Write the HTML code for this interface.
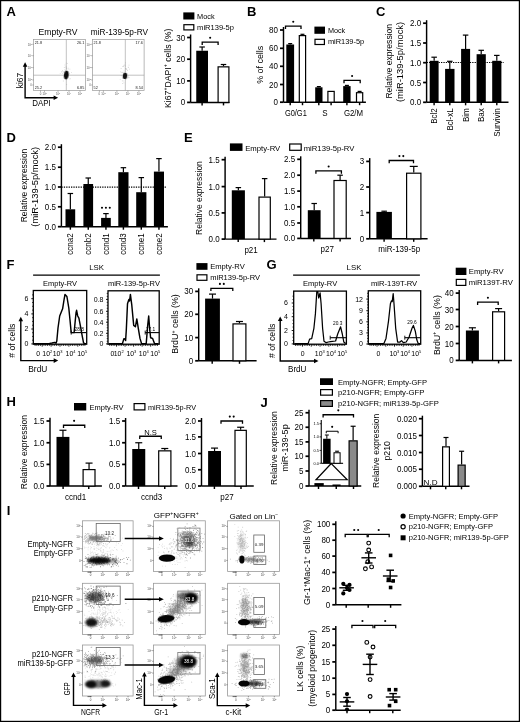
<!DOCTYPE html>
<html><head><meta charset="utf-8"><style>html,body{margin:0;padding:0;background:#fff;overflow:hidden;width:520px;height:722px}svg{display:block;filter:grayscale(1) blur(0.3px)}text{font-family:"Liberation Sans",sans-serif}</style></head>
<body><svg width="520" height="722" viewBox="0 0 520 722" font-family="Liberation Sans, sans-serif"><defs><filter id="b1" x="-50%" y="-50%" width="200%" height="200%"><feGaussianBlur stdDeviation="0.1"/></filter><filter id="b2" x="-50%" y="-50%" width="200%" height="200%"><feGaussianBlur stdDeviation="0.2"/></filter><filter id="b3" x="-50%" y="-50%" width="200%" height="200%"><feGaussianBlur stdDeviation="0.3"/></filter><filter id="b4" x="-50%" y="-50%" width="200%" height="200%"><feGaussianBlur stdDeviation="0.4"/></filter><filter id="b5" x="-50%" y="-50%" width="200%" height="200%"><feGaussianBlur stdDeviation="0.5"/></filter><filter id="b6" x="-50%" y="-50%" width="200%" height="200%"><feGaussianBlur stdDeviation="0.6"/></filter><filter id="b7" x="-50%" y="-50%" width="200%" height="200%"><feGaussianBlur stdDeviation="0.7"/></filter><filter id="b8" x="-50%" y="-50%" width="200%" height="200%"><feGaussianBlur stdDeviation="0.8"/></filter><filter id="b9" x="-50%" y="-50%" width="200%" height="200%"><feGaussianBlur stdDeviation="0.9"/></filter><filter id="b10" x="-50%" y="-50%" width="200%" height="200%"><feGaussianBlur stdDeviation="1.0"/></filter><filter id="b11" x="-50%" y="-50%" width="200%" height="200%"><feGaussianBlur stdDeviation="1.1"/></filter><filter id="b12" x="-50%" y="-50%" width="200%" height="200%"><feGaussianBlur stdDeviation="1.2"/></filter><filter id="b13" x="-50%" y="-50%" width="200%" height="200%"><feGaussianBlur stdDeviation="1.3"/></filter><filter id="b14" x="-50%" y="-50%" width="200%" height="200%"><feGaussianBlur stdDeviation="1.4"/></filter><filter id="b15" x="-50%" y="-50%" width="200%" height="200%"><feGaussianBlur stdDeviation="1.5"/></filter><filter id="b16" x="-50%" y="-50%" width="200%" height="200%"><feGaussianBlur stdDeviation="1.6"/></filter><filter id="b17" x="-50%" y="-50%" width="200%" height="200%"><feGaussianBlur stdDeviation="1.7"/></filter><filter id="b18" x="-50%" y="-50%" width="200%" height="200%"><feGaussianBlur stdDeviation="1.8"/></filter><filter id="b19" x="-50%" y="-50%" width="200%" height="200%"><feGaussianBlur stdDeviation="1.9"/></filter><filter id="b20" x="-50%" y="-50%" width="200%" height="200%"><feGaussianBlur stdDeviation="2.0"/></filter></defs><rect width="520" height="722" fill="#fff"/><rect x="0.5" y="0.5" width="519" height="721" fill="none" stroke="#000" stroke-width="1.4"/>
<text x="6.5" y="15.8" font-size="13" text-anchor="start" font-weight="bold" fill="#000">A</text>
<rect x="183.3" y="12.4" width="11.099999999999994" height="7.1" fill="#000" stroke="none" stroke-width="1"/>
<text x="197.1" y="19" font-size="8" text-anchor="start" textLength="17.5" lengthAdjust="spacingAndGlyphs" fill="#000">Mock</text>
<rect x="183.9" y="24.700000000000003" width="9.899999999999995" height="5.199999999999998" fill="#fff" stroke="#000" stroke-width="1.2"/>
<text x="197.1" y="30.1" font-size="8" text-anchor="start" textLength="36.9" lengthAdjust="spacingAndGlyphs" fill="#000">miR139-5p</text>
<line x1="190.6" y1="34.5" x2="190.6" y2="102.4" stroke="#000" stroke-width="1.45"/>
<line x1="187.1" y1="37.5" x2="190.6" y2="37.5" stroke="#000" stroke-width="1.74"/>
<text x="185.1" y="40.5" font-size="8.6" text-anchor="end" textLength="8.90" lengthAdjust="spacingAndGlyphs" fill="#000">30</text>
<line x1="187.1" y1="59.2" x2="190.6" y2="59.2" stroke="#000" stroke-width="1.74"/>
<text x="185.1" y="62.2" font-size="8.6" text-anchor="end" textLength="8.90" lengthAdjust="spacingAndGlyphs" fill="#000">20</text>
<line x1="187.1" y1="80.9" x2="190.6" y2="80.9" stroke="#000" stroke-width="1.74"/>
<text x="185.1" y="83.9" font-size="8.6" text-anchor="end" textLength="8.90" lengthAdjust="spacingAndGlyphs" fill="#000">10</text>
<line x1="187.1" y1="102.4" x2="190.6" y2="102.4" stroke="#000" stroke-width="1.74"/>
<text x="185.1" y="105.4" font-size="8.6" text-anchor="end" textLength="4.45" lengthAdjust="spacingAndGlyphs" fill="#000">0</text>
<line x1="190.6" y1="102.4" x2="229.5" y2="102.4" stroke="#000" stroke-width="1.45"/>
<line x1="202.1" y1="102.4" x2="202.1" y2="105.4" stroke="#000" stroke-width="1.45"/>
<line x1="223.5" y1="102.4" x2="223.5" y2="105.4" stroke="#000" stroke-width="1.45"/>
<line x1="202.125" y1="47" x2="202.125" y2="50.75" stroke="#000" stroke-width="1.2"/>
<line x1="199.375" y1="47" x2="204.875" y2="47" stroke="#000" stroke-width="1.2"/>
<rect x="196.25" y="50.75" width="11.75" height="51.650000000000006" fill="#000" stroke="none" stroke-width="1"/>
<line x1="223.5" y1="64.5" x2="223.5" y2="66.25" stroke="#000" stroke-width="1.2"/>
<line x1="220.75" y1="64.5" x2="226.25" y2="64.5" stroke="#000" stroke-width="1.2"/>
<rect x="218.1" y="66.85" width="10.8" height="35.550000000000004" fill="#fff" stroke="#000" stroke-width="1.2"/>
<path d="M202.2 44.9V42.1H218.1V44.9" fill="none" stroke="#000" stroke-width="1.3"/>
<circle cx="210.15" cy="37.7" r="1.05" fill="#000"/>
<text x="170.5" y="68.25" font-size="9.2" text-anchor="middle" transform="rotate(-90 170.5 68.25)" textLength="79.3" lengthAdjust="spacingAndGlyphs" fill="#000">Ki67<tspan font-size="5.5" dy="-3.2">+</tspan><tspan dy="3.2">DAPI</tspan><tspan font-size="5.5" dy="-3.2">+</tspan><tspan dy="3.2"> cells (%)</tspan></text>
<text x="247" y="15.8" font-size="13" text-anchor="start" font-weight="bold" fill="#000">B</text>
<line x1="283.5" y1="27" x2="283.5" y2="102.2" stroke="#000" stroke-width="1.45"/>
<line x1="280.0" y1="30" x2="283.5" y2="30" stroke="#000" stroke-width="1.74"/>
<text x="278.0" y="33.0" font-size="8.6" text-anchor="end" textLength="8.90" lengthAdjust="spacingAndGlyphs" fill="#000">80</text>
<line x1="280.0" y1="48.3" x2="283.5" y2="48.3" stroke="#000" stroke-width="1.74"/>
<text x="278.0" y="51.3" font-size="8.6" text-anchor="end" textLength="8.90" lengthAdjust="spacingAndGlyphs" fill="#000">60</text>
<line x1="280.0" y1="66.3" x2="283.5" y2="66.3" stroke="#000" stroke-width="1.74"/>
<text x="278.0" y="69.3" font-size="8.6" text-anchor="end" textLength="8.90" lengthAdjust="spacingAndGlyphs" fill="#000">40</text>
<line x1="280.0" y1="84.5" x2="283.5" y2="84.5" stroke="#000" stroke-width="1.74"/>
<text x="278.0" y="87.5" font-size="8.6" text-anchor="end" textLength="8.90" lengthAdjust="spacingAndGlyphs" fill="#000">20</text>
<line x1="280.0" y1="102.2" x2="283.5" y2="102.2" stroke="#000" stroke-width="1.74"/>
<text x="278.0" y="105.2" font-size="8.6" text-anchor="end" textLength="4.45" lengthAdjust="spacingAndGlyphs" fill="#000">0</text>
<line x1="283.5" y1="102.2" x2="365.9" y2="102.2" stroke="#000" stroke-width="1.45"/>
<line x1="290.2" y1="102.2" x2="290.2" y2="105.2" stroke="#000" stroke-width="1.45"/>
<line x1="302.5" y1="102.2" x2="302.5" y2="105.2" stroke="#000" stroke-width="1.45"/>
<line x1="318.8" y1="102.2" x2="318.8" y2="105.2" stroke="#000" stroke-width="1.45"/>
<line x1="331.1" y1="102.2" x2="331.1" y2="105.2" stroke="#000" stroke-width="1.45"/>
<line x1="346.9" y1="102.2" x2="346.9" y2="105.2" stroke="#000" stroke-width="1.45"/>
<line x1="359.6" y1="102.2" x2="359.6" y2="105.2" stroke="#000" stroke-width="1.45"/>
<line x1="290.20000000000005" y1="43.6" x2="290.20000000000005" y2="44.5" stroke="#000" stroke-width="1.2"/>
<line x1="288.20000000000005" y1="43.6" x2="292.20000000000005" y2="43.6" stroke="#000" stroke-width="1.2"/>
<rect x="286.3" y="44.5" width="7.800000000000011" height="57.7" fill="#000" stroke="none" stroke-width="1"/>
<line x1="302.45" y1="34.3" x2="302.45" y2="35" stroke="#000" stroke-width="1.2"/>
<line x1="300.45" y1="34.3" x2="304.45" y2="34.3" stroke="#000" stroke-width="1.2"/>
<rect x="299.3" y="35.6" width="6.3" height="66.60000000000001" fill="#fff" stroke="#000" stroke-width="1.2"/>
<line x1="318.85" y1="86.6" x2="318.85" y2="87.3" stroke="#000" stroke-width="1.2"/>
<line x1="316.85" y1="86.6" x2="320.85" y2="86.6" stroke="#000" stroke-width="1.2"/>
<rect x="315.2" y="87.3" width="7.300000000000011" height="14.900000000000006" fill="#000" stroke="none" stroke-width="1"/>
<rect x="327.90000000000003" y="91.39999999999999" width="6.3" height="10.800000000000006" fill="#fff" stroke="#000" stroke-width="1.2"/>
<line x1="346.9" y1="85.4" x2="346.9" y2="86.1" stroke="#000" stroke-width="1.2"/>
<line x1="344.9" y1="85.4" x2="348.9" y2="85.4" stroke="#000" stroke-width="1.2"/>
<rect x="343.2" y="86.1" width="7.400000000000034" height="16.10000000000001" fill="#000" stroke="none" stroke-width="1"/>
<line x1="359.6" y1="91.4" x2="359.6" y2="92.1" stroke="#000" stroke-width="1.2"/>
<line x1="357.6" y1="91.4" x2="361.6" y2="91.4" stroke="#000" stroke-width="1.2"/>
<rect x="356.5" y="92.69999999999999" width="6.200000000000034" height="9.500000000000009" fill="#fff" stroke="#000" stroke-width="1.2"/>
<path d="M285.5 28.900000000000002V26.1H301V28.900000000000002" fill="none" stroke="#000" stroke-width="1.3"/>
<circle cx="293.25" cy="21.700000000000003" r="1.05" fill="#000"/>
<path d="M344 83.2V80.4H360.2V83.2" fill="none" stroke="#000" stroke-width="1.3"/>
<circle cx="352.10" cy="76.0" r="1.05" fill="#000"/>
<text x="295.85" y="115.6" font-size="8.7" text-anchor="middle" textLength="21.9" lengthAdjust="spacingAndGlyphs" fill="#000">G0/G1</text>
<text x="325" y="115.6" font-size="8.7" text-anchor="middle" textLength="5.34" lengthAdjust="spacingAndGlyphs" fill="#000">S</text>
<text x="353.5" y="115.6" font-size="8.7" text-anchor="middle" textLength="19.2" lengthAdjust="spacingAndGlyphs" fill="#000">G2/M</text>
<rect x="314.4" y="26.6" width="10.600000000000023" height="7.199999999999996" fill="#000" stroke="none" stroke-width="1"/>
<text x="327.9" y="33" font-size="8" text-anchor="start" textLength="17.3" lengthAdjust="spacingAndGlyphs" fill="#000">Mock</text>
<rect x="315.0" y="39.300000000000004" width="9.400000000000023" height="5.199999999999998" fill="#fff" stroke="#000" stroke-width="1.2"/>
<text x="327.9" y="43.9" font-size="8" text-anchor="start" textLength="36.3" lengthAdjust="spacingAndGlyphs" fill="#000">miR139-5p</text>
<text x="263" y="64.75" font-size="9.2" text-anchor="middle" transform="rotate(-90 263 64.75)" textLength="38.1" lengthAdjust="spacingAndGlyphs" fill="#000">% of cells</text>
<text x="376" y="15.8" font-size="13" text-anchor="start" font-weight="bold" fill="#000">C</text>
<line x1="426.6" y1="20.2" x2="426.6" y2="102.3" stroke="#000" stroke-width="1.45"/>
<line x1="423.1" y1="23.2" x2="426.6" y2="23.2" stroke="#000" stroke-width="1.74"/>
<text x="421.1" y="26.2" font-size="8.6" text-anchor="end" textLength="11.12" lengthAdjust="spacingAndGlyphs" fill="#000">2.0</text>
<line x1="423.1" y1="43" x2="426.6" y2="43" stroke="#000" stroke-width="1.74"/>
<text x="421.1" y="46.0" font-size="8.6" text-anchor="end" textLength="11.12" lengthAdjust="spacingAndGlyphs" fill="#000">1.5</text>
<line x1="423.1" y1="62.7" x2="426.6" y2="62.7" stroke="#000" stroke-width="1.74"/>
<text x="421.1" y="65.7" font-size="8.6" text-anchor="end" textLength="11.12" lengthAdjust="spacingAndGlyphs" fill="#000">1.0</text>
<line x1="423.1" y1="82.5" x2="426.6" y2="82.5" stroke="#000" stroke-width="1.74"/>
<text x="421.1" y="85.5" font-size="8.6" text-anchor="end" textLength="11.12" lengthAdjust="spacingAndGlyphs" fill="#000">0.5</text>
<line x1="423.1" y1="102.3" x2="426.6" y2="102.3" stroke="#000" stroke-width="1.74"/>
<text x="421.1" y="105.3" font-size="8.6" text-anchor="end" textLength="11.12" lengthAdjust="spacingAndGlyphs" fill="#000">0.0</text>
<line x1="426.6" y1="102.3" x2="508.5" y2="102.3" stroke="#000" stroke-width="1.45"/>
<line x1="434.1" y1="102.3" x2="434.1" y2="105.3" stroke="#000" stroke-width="1.45"/>
<line x1="449.8" y1="102.3" x2="449.8" y2="105.3" stroke="#000" stroke-width="1.45"/>
<line x1="465.6" y1="102.3" x2="465.6" y2="105.3" stroke="#000" stroke-width="1.45"/>
<line x1="481.2" y1="102.3" x2="481.2" y2="105.3" stroke="#000" stroke-width="1.45"/>
<line x1="496.8" y1="102.3" x2="496.8" y2="105.3" stroke="#000" stroke-width="1.45"/>
<line x1="426.6" y1="62.5" x2="504" y2="62.5" stroke="#000" stroke-width="1.1" stroke-dasharray="1.3 1.1"/>
<line x1="434.15" y1="57.2" x2="434.15" y2="60.8" stroke="#000" stroke-width="1.2"/>
<line x1="431.4" y1="57.2" x2="436.9" y2="57.2" stroke="#000" stroke-width="1.2"/>
<rect x="429.7" y="60.8" width="8.900000000000034" height="41.5" fill="#000" stroke="none" stroke-width="1"/>
<line x1="449.8" y1="61.3" x2="449.8" y2="68.9" stroke="#000" stroke-width="1.2"/>
<line x1="447.05" y1="61.3" x2="452.55" y2="61.3" stroke="#000" stroke-width="1.2"/>
<rect x="445.1" y="68.9" width="9.399999999999977" height="33.39999999999999" fill="#000" stroke="none" stroke-width="1"/>
<line x1="465.6" y1="35.1" x2="465.6" y2="48.9" stroke="#000" stroke-width="1.2"/>
<line x1="462.85" y1="35.1" x2="468.35" y2="35.1" stroke="#000" stroke-width="1.2"/>
<rect x="461.1" y="48.9" width="9.0" height="53.4" fill="#000" stroke="none" stroke-width="1"/>
<line x1="481.20000000000005" y1="50.3" x2="481.20000000000005" y2="54.2" stroke="#000" stroke-width="1.2"/>
<line x1="478.45000000000005" y1="50.3" x2="483.95000000000005" y2="50.3" stroke="#000" stroke-width="1.2"/>
<rect x="476.6" y="54.2" width="9.199999999999989" height="48.099999999999994" fill="#000" stroke="none" stroke-width="1"/>
<line x1="496.79999999999995" y1="55.4" x2="496.79999999999995" y2="60.8" stroke="#000" stroke-width="1.2"/>
<line x1="494.04999999999995" y1="55.4" x2="499.54999999999995" y2="55.4" stroke="#000" stroke-width="1.2"/>
<rect x="492.2" y="60.8" width="9.199999999999989" height="41.5" fill="#000" stroke="none" stroke-width="1"/>
<text x="437.1" y="108.3" font-size="8.8" text-anchor="end" transform="rotate(-90 437.1 108.3)" textLength="15.56" lengthAdjust="spacingAndGlyphs" fill="#000">Bcl2</text>
<text x="452.8" y="108.3" font-size="8.8" text-anchor="end" transform="rotate(-90 452.8 108.3)" textLength="22.23" lengthAdjust="spacingAndGlyphs" fill="#000">Bcl-xL</text>
<text x="468.6" y="108.3" font-size="8.8" text-anchor="end" transform="rotate(-90 468.6 108.3)" textLength="13.78" lengthAdjust="spacingAndGlyphs" fill="#000">Bim</text>
<text x="484.2" y="108.3" font-size="8.8" text-anchor="end" transform="rotate(-90 484.2 108.3)" textLength="13.79" lengthAdjust="spacingAndGlyphs" fill="#000">Bax</text>
<text x="499.8" y="108.3" font-size="8.8" text-anchor="end" transform="rotate(-90 499.8 108.3)" textLength="28.45" lengthAdjust="spacingAndGlyphs" fill="#000">Survivin</text>
<text x="391.7" y="61.25" font-size="9.2" text-anchor="middle" transform="rotate(-90 391.7 61.25)" textLength="74.7" lengthAdjust="spacingAndGlyphs" fill="#000">Relative expression</text>
<text x="403.3" y="61.95" font-size="9.2" text-anchor="middle" transform="rotate(-90 403.3 61.95)" textLength="80.3" lengthAdjust="spacingAndGlyphs" fill="#000">(miR-139-5p/mock)</text>
<text x="6.5" y="141.6" font-size="13" text-anchor="start" font-weight="bold" fill="#000">D</text>
<line x1="61.4" y1="144.2" x2="61.4" y2="226.7" stroke="#000" stroke-width="1.45"/>
<line x1="57.9" y1="147.2" x2="61.4" y2="147.2" stroke="#000" stroke-width="1.74"/>
<text x="55.9" y="150.2" font-size="8.6" text-anchor="end" textLength="11.12" lengthAdjust="spacingAndGlyphs" fill="#000">2.0</text>
<line x1="57.9" y1="167.2" x2="61.4" y2="167.2" stroke="#000" stroke-width="1.74"/>
<text x="55.9" y="170.2" font-size="8.6" text-anchor="end" textLength="11.12" lengthAdjust="spacingAndGlyphs" fill="#000">1.5</text>
<line x1="57.9" y1="187" x2="61.4" y2="187" stroke="#000" stroke-width="1.74"/>
<text x="55.9" y="190.0" font-size="8.6" text-anchor="end" textLength="11.12" lengthAdjust="spacingAndGlyphs" fill="#000">1.0</text>
<line x1="57.9" y1="206.8" x2="61.4" y2="206.8" stroke="#000" stroke-width="1.74"/>
<text x="55.9" y="209.8" font-size="8.6" text-anchor="end" textLength="11.12" lengthAdjust="spacingAndGlyphs" fill="#000">0.5</text>
<line x1="57.9" y1="226.7" x2="61.4" y2="226.7" stroke="#000" stroke-width="1.74"/>
<text x="55.9" y="229.7" font-size="8.6" text-anchor="end" textLength="11.12" lengthAdjust="spacingAndGlyphs" fill="#000">0.0</text>
<line x1="61.4" y1="226.7" x2="167.9" y2="226.7" stroke="#000" stroke-width="1.45"/>
<line x1="70.35" y1="226.7" x2="70.35" y2="229.7" stroke="#000" stroke-width="1.45"/>
<line x1="88.25" y1="226.7" x2="88.25" y2="229.7" stroke="#000" stroke-width="1.45"/>
<line x1="105.95" y1="226.7" x2="105.95" y2="229.7" stroke="#000" stroke-width="1.45"/>
<line x1="123.4" y1="226.7" x2="123.4" y2="229.7" stroke="#000" stroke-width="1.45"/>
<line x1="141.3" y1="226.7" x2="141.3" y2="229.7" stroke="#000" stroke-width="1.45"/>
<line x1="158.95" y1="226.7" x2="158.95" y2="229.7" stroke="#000" stroke-width="1.45"/>
<line x1="61.4" y1="187.1" x2="167" y2="187.1" stroke="#000" stroke-width="1.1" stroke-dasharray="1.3 1.1"/>
<line x1="70.35" y1="193.5" x2="70.35" y2="209.3" stroke="#000" stroke-width="1.2"/>
<line x1="67.6" y1="193.5" x2="73.1" y2="193.5" stroke="#000" stroke-width="1.2"/>
<rect x="65.5" y="209.3" width="9.700000000000003" height="17.399999999999977" fill="#000" stroke="none" stroke-width="1"/>
<line x1="88.25" y1="178" x2="88.25" y2="184" stroke="#000" stroke-width="1.2"/>
<line x1="85.5" y1="178" x2="91.0" y2="178" stroke="#000" stroke-width="1.2"/>
<rect x="83.4" y="184" width="9.699999999999989" height="42.69999999999999" fill="#000" stroke="none" stroke-width="1"/>
<line x1="105.94999999999999" y1="213.6" x2="105.94999999999999" y2="217.9" stroke="#000" stroke-width="1.2"/>
<line x1="103.19999999999999" y1="213.6" x2="108.69999999999999" y2="213.6" stroke="#000" stroke-width="1.2"/>
<rect x="101.1" y="217.9" width="9.700000000000003" height="8.799999999999983" fill="#000" stroke="none" stroke-width="1"/>
<line x1="123.4" y1="167.7" x2="123.4" y2="172.2" stroke="#000" stroke-width="1.2"/>
<line x1="120.65" y1="167.7" x2="126.15" y2="167.7" stroke="#000" stroke-width="1.2"/>
<rect x="118.3" y="172.2" width="10.200000000000003" height="54.5" fill="#000" stroke="none" stroke-width="1"/>
<line x1="141.3" y1="177.6" x2="141.3" y2="192.2" stroke="#000" stroke-width="1.2"/>
<line x1="138.55" y1="177.6" x2="144.05" y2="177.6" stroke="#000" stroke-width="1.2"/>
<rect x="136.2" y="192.2" width="10.200000000000017" height="34.5" fill="#000" stroke="none" stroke-width="1"/>
<line x1="158.95" y1="158.6" x2="158.95" y2="171.6" stroke="#000" stroke-width="1.2"/>
<line x1="156.2" y1="158.6" x2="161.7" y2="158.6" stroke="#000" stroke-width="1.2"/>
<rect x="153.9" y="171.6" width="10.099999999999994" height="55.099999999999994" fill="#000" stroke="none" stroke-width="1"/>
<circle cx="102.00" cy="207.7" r="1.05" fill="#000"/>
<circle cx="105.90" cy="207.7" r="1.05" fill="#000"/>
<circle cx="109.80" cy="207.7" r="1.05" fill="#000"/>
<text x="73.35" y="233.3" font-size="8.8" text-anchor="end" transform="rotate(-90 73.35 233.3)" textLength="21.35" lengthAdjust="spacingAndGlyphs" fill="#000">ccna2</text>
<text x="91.25" y="233.3" font-size="8.8" text-anchor="end" transform="rotate(-90 91.25 233.3)" textLength="21.35" lengthAdjust="spacingAndGlyphs" fill="#000">ccnb2</text>
<text x="108.95" y="233.3" font-size="8.8" text-anchor="end" transform="rotate(-90 108.95 233.3)" textLength="21.35" lengthAdjust="spacingAndGlyphs" fill="#000">ccnd1</text>
<text x="126.4" y="233.3" font-size="8.8" text-anchor="end" transform="rotate(-90 126.4 233.3)" textLength="21.35" lengthAdjust="spacingAndGlyphs" fill="#000">ccnd3</text>
<text x="144.3" y="233.3" font-size="8.8" text-anchor="end" transform="rotate(-90 144.3 233.3)" textLength="21.35" lengthAdjust="spacingAndGlyphs" fill="#000">ccne1</text>
<text x="161.95" y="233.3" font-size="8.8" text-anchor="end" transform="rotate(-90 161.95 233.3)" textLength="21.35" lengthAdjust="spacingAndGlyphs" fill="#000">ccne2</text>
<text x="27" y="185.5" font-size="9.2" text-anchor="middle" transform="rotate(-90 27 185.5)" textLength="73.6" lengthAdjust="spacingAndGlyphs" fill="#000">Relative expression</text>
<text x="38.1" y="186.8" font-size="9.2" text-anchor="middle" transform="rotate(-90 38.1 186.8)" textLength="79.8" lengthAdjust="spacingAndGlyphs" fill="#000">(miR-139-5p/mock)</text>
<text x="184" y="141.6" font-size="13" text-anchor="start" font-weight="bold" fill="#000">E</text>
<rect x="229.9" y="143.4" width="12.599999999999994" height="7.5" fill="#000" stroke="none" stroke-width="1"/>
<text x="245.2" y="150.8" font-size="8" text-anchor="start" textLength="35.1" lengthAdjust="spacingAndGlyphs" fill="#000">Empty-RV</text>
<rect x="289.70000000000005" y="144.0" width="11.49999999999999" height="6.3" fill="#fff" stroke="#000" stroke-width="1.2"/>
<text x="303.7" y="150.8" font-size="8" text-anchor="start" textLength="50.7" lengthAdjust="spacingAndGlyphs" fill="#000">miR139-5p-RV</text>
<text x="201.7" y="198.05" font-size="9.2" text-anchor="middle" transform="rotate(-90 201.7 198.05)" textLength="73.7" lengthAdjust="spacingAndGlyphs" fill="#000">Relative expression</text>
<line x1="225.1" y1="156.7" x2="225.1" y2="239.1" stroke="#000" stroke-width="1.45"/>
<line x1="221.6" y1="159.7" x2="225.1" y2="159.7" stroke="#000" stroke-width="1.74"/>
<text x="219.6" y="162.7" font-size="8.6" text-anchor="end" textLength="11.12" lengthAdjust="spacingAndGlyphs" fill="#000">1.5</text>
<line x1="221.6" y1="186.6" x2="225.1" y2="186.6" stroke="#000" stroke-width="1.74"/>
<text x="219.6" y="189.6" font-size="8.6" text-anchor="end" textLength="11.12" lengthAdjust="spacingAndGlyphs" fill="#000">1.0</text>
<line x1="221.6" y1="212.9" x2="225.1" y2="212.9" stroke="#000" stroke-width="1.74"/>
<text x="219.6" y="215.9" font-size="8.6" text-anchor="end" textLength="11.12" lengthAdjust="spacingAndGlyphs" fill="#000">0.5</text>
<line x1="221.6" y1="239.1" x2="225.1" y2="239.1" stroke="#000" stroke-width="1.74"/>
<text x="219.6" y="242.1" font-size="8.6" text-anchor="end" textLength="11.12" lengthAdjust="spacingAndGlyphs" fill="#000">0.0</text>
<line x1="225.1" y1="239.1" x2="276.5" y2="239.1" stroke="#000" stroke-width="1.45"/>
<line x1="238.2" y1="239.1" x2="238.2" y2="242.1" stroke="#000" stroke-width="1.45"/>
<line x1="264.4" y1="239.1" x2="264.4" y2="242.1" stroke="#000" stroke-width="1.45"/>
<line x1="238.35000000000002" y1="187.6" x2="238.35000000000002" y2="190.3" stroke="#000" stroke-width="1.2"/>
<line x1="235.60000000000002" y1="187.6" x2="241.10000000000002" y2="187.6" stroke="#000" stroke-width="1.2"/>
<rect x="231.8" y="190.3" width="13.099999999999994" height="48.79999999999998" fill="#000" stroke="none" stroke-width="1"/>
<line x1="264.65" y1="178.6" x2="264.65" y2="196.5" stroke="#000" stroke-width="1.2"/>
<line x1="261.9" y1="178.6" x2="267.4" y2="178.6" stroke="#000" stroke-width="1.2"/>
<rect x="259.0" y="197.1" width="11.3" height="41.99999999999999" fill="#fff" stroke="#000" stroke-width="1.2"/>
<text x="251.1" y="252.7" font-size="8.6" text-anchor="middle" textLength="13.35" lengthAdjust="spacingAndGlyphs" fill="#000">p21</text>
<line x1="300.7" y1="156.3" x2="300.7" y2="238.4" stroke="#000" stroke-width="1.45"/>
<line x1="297.2" y1="159.3" x2="300.7" y2="159.3" stroke="#000" stroke-width="1.74"/>
<text x="295.2" y="162.3" font-size="8.6" text-anchor="end" textLength="11.12" lengthAdjust="spacingAndGlyphs" fill="#000">2.5</text>
<line x1="297.2" y1="175.2" x2="300.7" y2="175.2" stroke="#000" stroke-width="1.74"/>
<text x="295.2" y="178.2" font-size="8.6" text-anchor="end" textLength="11.12" lengthAdjust="spacingAndGlyphs" fill="#000">2.0</text>
<line x1="297.2" y1="191.1" x2="300.7" y2="191.1" stroke="#000" stroke-width="1.74"/>
<text x="295.2" y="194.1" font-size="8.6" text-anchor="end" textLength="11.12" lengthAdjust="spacingAndGlyphs" fill="#000">1.5</text>
<line x1="297.2" y1="206.8" x2="300.7" y2="206.8" stroke="#000" stroke-width="1.74"/>
<text x="295.2" y="209.8" font-size="8.6" text-anchor="end" textLength="11.12" lengthAdjust="spacingAndGlyphs" fill="#000">1.0</text>
<line x1="297.2" y1="223" x2="300.7" y2="223" stroke="#000" stroke-width="1.74"/>
<text x="295.2" y="226.0" font-size="8.6" text-anchor="end" textLength="11.12" lengthAdjust="spacingAndGlyphs" fill="#000">0.5</text>
<line x1="297.2" y1="238.4" x2="300.7" y2="238.4" stroke="#000" stroke-width="1.74"/>
<text x="295.2" y="241.4" font-size="8.6" text-anchor="end" textLength="11.12" lengthAdjust="spacingAndGlyphs" fill="#000">0.0</text>
<line x1="300.7" y1="238.4" x2="351" y2="238.4" stroke="#000" stroke-width="1.45"/>
<line x1="313.8" y1="238.4" x2="313.8" y2="241.4" stroke="#000" stroke-width="1.45"/>
<line x1="340.1" y1="238.4" x2="340.1" y2="241.4" stroke="#000" stroke-width="1.45"/>
<line x1="314.20000000000005" y1="203.5" x2="314.20000000000005" y2="210.2" stroke="#000" stroke-width="1.2"/>
<line x1="311.45000000000005" y1="203.5" x2="316.95000000000005" y2="203.5" stroke="#000" stroke-width="1.2"/>
<rect x="307.8" y="210.2" width="12.800000000000011" height="28.200000000000017" fill="#000" stroke="none" stroke-width="1"/>
<line x1="340.1" y1="175.2" x2="340.1" y2="179.9" stroke="#000" stroke-width="1.2"/>
<line x1="337.35" y1="175.2" x2="342.85" y2="175.2" stroke="#000" stroke-width="1.2"/>
<rect x="334.0" y="180.5" width="12.200000000000035" height="57.9" fill="#fff" stroke="#000" stroke-width="1.2"/>
<path d="M315.9 173.70000000000002V170.9H341.4V173.70000000000002" fill="none" stroke="#000" stroke-width="1.3"/>
<circle cx="328.65" cy="166.5" r="1.05" fill="#000"/>
<text x="327.2" y="252.3" font-size="8.6" text-anchor="middle" textLength="13.35" lengthAdjust="spacingAndGlyphs" fill="#000">p27</text>
<line x1="369.7" y1="158.1" x2="369.7" y2="238.8" stroke="#000" stroke-width="1.45"/>
<line x1="366.2" y1="161.4" x2="369.7" y2="161.4" stroke="#000" stroke-width="1.74"/>
<text x="364.2" y="164.4" font-size="8.6" text-anchor="end" textLength="4.45" lengthAdjust="spacingAndGlyphs" fill="#000">3</text>
<line x1="366.2" y1="187" x2="369.7" y2="187" stroke="#000" stroke-width="1.74"/>
<text x="364.2" y="190.0" font-size="8.6" text-anchor="end" textLength="4.45" lengthAdjust="spacingAndGlyphs" fill="#000">2</text>
<line x1="366.2" y1="212.6" x2="369.7" y2="212.6" stroke="#000" stroke-width="1.74"/>
<text x="364.2" y="215.6" font-size="8.6" text-anchor="end" textLength="4.45" lengthAdjust="spacingAndGlyphs" fill="#000">1</text>
<line x1="366.2" y1="238.8" x2="369.7" y2="238.8" stroke="#000" stroke-width="1.74"/>
<text x="364.2" y="241.8" font-size="8.6" text-anchor="end" textLength="4.45" lengthAdjust="spacingAndGlyphs" fill="#000">0</text>
<line x1="369.7" y1="238.8" x2="427.6" y2="238.8" stroke="#000" stroke-width="1.45"/>
<line x1="384.1" y1="238.8" x2="384.1" y2="241.8" stroke="#000" stroke-width="1.45"/>
<line x1="413.7" y1="238.8" x2="413.7" y2="241.8" stroke="#000" stroke-width="1.45"/>
<line x1="384.15" y1="211.2" x2="384.15" y2="211.9" stroke="#000" stroke-width="1.2"/>
<line x1="381.4" y1="211.2" x2="386.9" y2="211.2" stroke="#000" stroke-width="1.2"/>
<rect x="376.4" y="211.9" width="15.5" height="26.900000000000006" fill="#000" stroke="none" stroke-width="1"/>
<line x1="413.75" y1="166.4" x2="413.75" y2="172.6" stroke="#000" stroke-width="1.2"/>
<line x1="409.75" y1="166.4" x2="417.75" y2="166.4" stroke="#000" stroke-width="1.2"/>
<rect x="406.6" y="173.2" width="14.3" height="65.60000000000002" fill="#fff" stroke="#000" stroke-width="1.2"/>
<path d="M389.2 163.3V160.5H413.5V163.3" fill="none" stroke="#000" stroke-width="1.3"/>
<circle cx="399.40" cy="156.1" r="1.05" fill="#000"/>
<circle cx="403.30" cy="156.1" r="1.05" fill="#000"/>
<text x="399.2" y="252.3" font-size="8.6" text-anchor="middle" textLength="41.79" lengthAdjust="spacingAndGlyphs" fill="#000">miR-139-5p</text>
<text x="6.5" y="269" font-size="13" text-anchor="start" font-weight="bold" fill="#000">F</text>
<text x="96.6" y="270.4" font-size="7.8" text-anchor="middle" textLength="14.8" lengthAdjust="spacingAndGlyphs" fill="#000">LSK</text>
<line x1="33.1" y1="275.1" x2="159.9" y2="275.1" stroke="#000" stroke-width="1.2"/>
<text x="60" y="285.8" font-size="7.5" text-anchor="middle" textLength="33.8" lengthAdjust="spacingAndGlyphs" fill="#000">Empty-RV</text>
<text x="133.9" y="285.8" font-size="7.5" text-anchor="middle" textLength="52" lengthAdjust="spacingAndGlyphs" fill="#000">miR-139-5p-RV</text>
<rect x="196.4" y="263.1" width="11.099999999999994" height="6.699999999999989" fill="#000" stroke="none" stroke-width="1"/>
<text x="210.2" y="268.9" font-size="8" text-anchor="start" textLength="34.6" lengthAdjust="spacingAndGlyphs" fill="#000">Empty-RV</text>
<rect x="197.0" y="274.8" width="9.899999999999995" height="5.4999999999999885" fill="#fff" stroke="#000" stroke-width="1.2"/>
<text x="210.2" y="279.9" font-size="8" text-anchor="start" textLength="49.8" lengthAdjust="spacingAndGlyphs" fill="#000">miR139-5p-RV</text>
<line x1="198.7" y1="288.3" x2="198.7" y2="360.8" stroke="#000" stroke-width="1.45"/>
<line x1="195.2" y1="291.4" x2="198.7" y2="291.4" stroke="#000" stroke-width="1.74"/>
<text x="193.2" y="294.4" font-size="8.6" text-anchor="end" textLength="8.90" lengthAdjust="spacingAndGlyphs" fill="#000">30</text>
<line x1="195.2" y1="314.3" x2="198.7" y2="314.3" stroke="#000" stroke-width="1.74"/>
<text x="193.2" y="317.3" font-size="8.6" text-anchor="end" textLength="8.90" lengthAdjust="spacingAndGlyphs" fill="#000">20</text>
<line x1="195.2" y1="337.6" x2="198.7" y2="337.6" stroke="#000" stroke-width="1.74"/>
<text x="193.2" y="340.6" font-size="8.6" text-anchor="end" textLength="8.90" lengthAdjust="spacingAndGlyphs" fill="#000">10</text>
<line x1="195.2" y1="360.8" x2="198.7" y2="360.8" stroke="#000" stroke-width="1.74"/>
<text x="193.2" y="363.8" font-size="8.6" text-anchor="end" textLength="4.45" lengthAdjust="spacingAndGlyphs" fill="#000">0</text>
<line x1="198.7" y1="360.8" x2="256.6" y2="360.8" stroke="#000" stroke-width="1.45"/>
<line x1="212.2" y1="360.8" x2="212.2" y2="363.8" stroke="#000" stroke-width="1.45"/>
<line x1="239.5" y1="360.8" x2="239.5" y2="363.8" stroke="#000" stroke-width="1.45"/>
<line x1="212.5" y1="294.1" x2="212.5" y2="298.6" stroke="#000" stroke-width="1.2"/>
<line x1="209.0" y1="294.1" x2="216.0" y2="294.1" stroke="#000" stroke-width="1.2"/>
<rect x="205.1" y="298.6" width="14.800000000000011" height="62.19999999999999" fill="#000" stroke="none" stroke-width="1"/>
<line x1="239.45" y1="321.5" x2="239.45" y2="323.3" stroke="#000" stroke-width="1.2"/>
<line x1="235.95" y1="321.5" x2="242.95" y2="321.5" stroke="#000" stroke-width="1.2"/>
<rect x="233.0" y="323.90000000000003" width="12.899999999999995" height="36.9" fill="#fff" stroke="#000" stroke-width="1.2"/>
<path d="M210.9 291.1V288.3H232.8V291.1" fill="none" stroke="#000" stroke-width="1.3"/>
<circle cx="219.90" cy="283.90000000000003" r="1.05" fill="#000"/>
<circle cx="223.80" cy="283.90000000000003" r="1.05" fill="#000"/>
<text x="178.3" y="323.95" font-size="9.2" text-anchor="middle" transform="rotate(-90 178.3 323.95)" textLength="59.5" lengthAdjust="spacingAndGlyphs" fill="#000">BrdU<tspan font-size="5.5" dy="-3.2">+</tspan><tspan dy="3.2"> cells (%)</tspan></text>
<path d="M20.8 319.7V360.6H55.2" fill="none" stroke="#000" stroke-width="1.4"/>
<path d="M18.5 321.2L20.8 316.7L23.1 321.2Z" fill="#000"/>
<path d="M53.7 358.3L58.2 360.6L53.7 362.90000000000003Z" fill="#000"/>
<text x="15.3" y="340.65" font-size="9.2" text-anchor="middle" transform="rotate(-90 15.3 340.65)" textLength="34.1" lengthAdjust="spacingAndGlyphs" fill="#000"># of cells</text>
<text x="28.3" y="371.5" font-size="8.8" text-anchor="start" textLength="19" lengthAdjust="spacingAndGlyphs" fill="#000">BrdU</text>
<text x="266.5" y="268.5" font-size="13" text-anchor="start" font-weight="bold" fill="#000">G</text>
<text x="354" y="270.4" font-size="7.8" text-anchor="middle" textLength="14.8" lengthAdjust="spacingAndGlyphs" fill="#000">LSK</text>
<line x1="293.1" y1="275.1" x2="419.9" y2="275.1" stroke="#000" stroke-width="1.2"/>
<text x="320.1" y="285.8" font-size="7.5" text-anchor="middle" textLength="34.3" lengthAdjust="spacingAndGlyphs" fill="#000">Empty-RV</text>
<text x="394.1" y="285.8" font-size="7.5" text-anchor="middle" textLength="46.3" lengthAdjust="spacingAndGlyphs" fill="#000">miR-139T-RV</text>
<rect x="455.7" y="267.7" width="10.699999999999989" height="7.300000000000011" fill="#000" stroke="none" stroke-width="1"/>
<text x="468.8" y="273.9" font-size="8" text-anchor="start" textLength="34.8" lengthAdjust="spacingAndGlyphs" fill="#000">Empty-RV</text>
<rect x="456.3" y="279.40000000000003" width="9.49999999999999" height="5.9999999999999885" fill="#fff" stroke="#000" stroke-width="1.2"/>
<text x="468.8" y="285" font-size="8" text-anchor="start" textLength="44.2" lengthAdjust="spacingAndGlyphs" fill="#000">miR139T-RV</text>
<line x1="459.2" y1="290.1" x2="459.2" y2="360.4" stroke="#000" stroke-width="1.45"/>
<line x1="455.7" y1="293.1" x2="459.2" y2="293.1" stroke="#000" stroke-width="1.74"/>
<text x="453.7" y="296.1" font-size="8.6" text-anchor="end" textLength="8.90" lengthAdjust="spacingAndGlyphs" fill="#000">40</text>
<line x1="455.7" y1="309.5" x2="459.2" y2="309.5" stroke="#000" stroke-width="1.74"/>
<text x="453.7" y="312.5" font-size="8.6" text-anchor="end" textLength="8.90" lengthAdjust="spacingAndGlyphs" fill="#000">30</text>
<line x1="455.7" y1="326.5" x2="459.2" y2="326.5" stroke="#000" stroke-width="1.74"/>
<text x="453.7" y="329.5" font-size="8.6" text-anchor="end" textLength="8.90" lengthAdjust="spacingAndGlyphs" fill="#000">20</text>
<line x1="455.7" y1="343.5" x2="459.2" y2="343.5" stroke="#000" stroke-width="1.74"/>
<text x="453.7" y="346.5" font-size="8.6" text-anchor="end" textLength="8.90" lengthAdjust="spacingAndGlyphs" fill="#000">10</text>
<line x1="455.7" y1="360.4" x2="459.2" y2="360.4" stroke="#000" stroke-width="1.74"/>
<text x="453.7" y="363.4" font-size="8.6" text-anchor="end" textLength="4.45" lengthAdjust="spacingAndGlyphs" fill="#000">0</text>
<line x1="459.2" y1="360.4" x2="511.9" y2="360.4" stroke="#000" stroke-width="1.45"/>
<line x1="472.4" y1="360.4" x2="472.4" y2="363.4" stroke="#000" stroke-width="1.45"/>
<line x1="498.6" y1="360.4" x2="498.6" y2="363.4" stroke="#000" stroke-width="1.45"/>
<line x1="472.4" y1="327.8" x2="472.4" y2="330.5" stroke="#000" stroke-width="1.2"/>
<line x1="468.9" y1="327.8" x2="475.9" y2="327.8" stroke="#000" stroke-width="1.2"/>
<rect x="465.9" y="330.5" width="13.0" height="29.899999999999977" fill="#000" stroke="none" stroke-width="1"/>
<line x1="498.6" y1="308.6" x2="498.6" y2="311.2" stroke="#000" stroke-width="1.2"/>
<line x1="495.1" y1="308.6" x2="502.1" y2="308.6" stroke="#000" stroke-width="1.2"/>
<rect x="492.6" y="311.8" width="11.99999999999999" height="48.59999999999999" fill="#fff" stroke="#000" stroke-width="1.2"/>
<path d="M477.6 304.90000000000003V302.1H498.2V304.90000000000003" fill="none" stroke="#000" stroke-width="1.3"/>
<circle cx="487.90" cy="297.70000000000005" r="1.05" fill="#000"/>
<text x="439.5" y="325" font-size="9.2" text-anchor="middle" transform="rotate(-90 439.5 325)" textLength="59.9" lengthAdjust="spacingAndGlyphs" fill="#000">BrdU<tspan font-size="5.5" dy="-3.2">+</tspan><tspan dy="3.2"> cells (%)</tspan></text>
<path d="M280.2 319.5V361H315.5" fill="none" stroke="#000" stroke-width="1.4"/>
<path d="M277.9 321.0L280.2 316.5L282.5 321.0Z" fill="#000"/>
<path d="M314.0 358.7L318.5 361L314.0 363.3Z" fill="#000"/>
<text x="275.3" y="340.8" font-size="9.2" text-anchor="middle" transform="rotate(-90 275.3 340.8)" textLength="34.6" lengthAdjust="spacingAndGlyphs" fill="#000"># of cells</text>
<text x="288" y="372.3" font-size="8.8" text-anchor="start" textLength="18.4" lengthAdjust="spacingAndGlyphs" fill="#000">BrdU</text>
<text x="6.5" y="406" font-size="13" text-anchor="start" font-weight="bold" fill="#000">H</text>
<rect x="74" y="403" width="12.25" height="7.5" fill="#000" stroke="none" stroke-width="1"/>
<text x="89.5" y="409.8" font-size="8" text-anchor="start" textLength="34" lengthAdjust="spacingAndGlyphs" fill="#000">Empty-RV</text>
<rect x="134.1" y="403.6" width="10.8" height="6.3" fill="#fff" stroke="#000" stroke-width="1.2"/>
<text x="148" y="409.8" font-size="8" text-anchor="start" textLength="48" lengthAdjust="spacingAndGlyphs" fill="#000">miR139-5p-RV</text>
<text x="26.9" y="452.1" font-size="9.2" text-anchor="middle" transform="rotate(-90 26.9 452.1)" textLength="74.2" lengthAdjust="spacingAndGlyphs" fill="#000">Relative expression</text>
<line x1="50" y1="417.75" x2="50" y2="486" stroke="#000" stroke-width="1.45"/>
<line x1="46.5" y1="421" x2="50" y2="421" stroke="#000" stroke-width="1.74"/>
<text x="44.5" y="424.0" font-size="8.6" text-anchor="end" textLength="11.12" lengthAdjust="spacingAndGlyphs" fill="#000">1.5</text>
<line x1="46.5" y1="442.75" x2="50" y2="442.75" stroke="#000" stroke-width="1.74"/>
<text x="44.5" y="445.75" font-size="8.6" text-anchor="end" textLength="11.12" lengthAdjust="spacingAndGlyphs" fill="#000">1.0</text>
<line x1="46.5" y1="464.4" x2="50" y2="464.4" stroke="#000" stroke-width="1.74"/>
<text x="44.5" y="467.4" font-size="8.6" text-anchor="end" textLength="11.12" lengthAdjust="spacingAndGlyphs" fill="#000">0.5</text>
<line x1="46.5" y1="486" x2="50" y2="486" stroke="#000" stroke-width="1.74"/>
<text x="44.5" y="489.0" font-size="8.6" text-anchor="end" textLength="11.12" lengthAdjust="spacingAndGlyphs" fill="#000">0.0</text>
<line x1="50" y1="486" x2="101.9" y2="486" stroke="#000" stroke-width="1.45"/>
<line x1="63.1" y1="486" x2="63.1" y2="489" stroke="#000" stroke-width="1.45"/>
<line x1="88.75" y1="486" x2="88.75" y2="489" stroke="#000" stroke-width="1.45"/>
<line x1="62.95" y1="430.25" x2="62.95" y2="436.9" stroke="#000" stroke-width="1.2"/>
<line x1="59.45" y1="430.25" x2="66.45" y2="430.25" stroke="#000" stroke-width="1.2"/>
<rect x="56.5" y="436.9" width="12.900000000000006" height="49.10000000000002" fill="#000" stroke="none" stroke-width="1"/>
<line x1="89.05" y1="463.1" x2="89.05" y2="469" stroke="#000" stroke-width="1.2"/>
<line x1="85.55" y1="463.1" x2="92.55" y2="463.1" stroke="#000" stroke-width="1.2"/>
<rect x="83.1" y="469.6" width="11.899999999999995" height="16.4" fill="#fff" stroke="#000" stroke-width="1.2"/>
<path d="M63.5 428.05V425.25H84.75V428.05" fill="none" stroke="#000" stroke-width="1.3"/>
<circle cx="74.12" cy="420.85" r="1.05" fill="#000"/>
<text x="75.6" y="499.6" font-size="8.7" text-anchor="middle" textLength="21.35" lengthAdjust="spacingAndGlyphs" fill="#000">ccnd1</text>
<line x1="125.6" y1="418" x2="125.6" y2="486" stroke="#000" stroke-width="1.45"/>
<line x1="122.1" y1="421" x2="125.6" y2="421" stroke="#000" stroke-width="1.74"/>
<text x="120.1" y="424.0" font-size="8.6" text-anchor="end" textLength="11.12" lengthAdjust="spacingAndGlyphs" fill="#000">1.5</text>
<line x1="122.1" y1="442.75" x2="125.6" y2="442.75" stroke="#000" stroke-width="1.74"/>
<text x="120.1" y="445.75" font-size="8.6" text-anchor="end" textLength="11.12" lengthAdjust="spacingAndGlyphs" fill="#000">1.0</text>
<line x1="122.1" y1="464.4" x2="125.6" y2="464.4" stroke="#000" stroke-width="1.74"/>
<text x="120.1" y="467.4" font-size="8.6" text-anchor="end" textLength="11.12" lengthAdjust="spacingAndGlyphs" fill="#000">0.5</text>
<line x1="122.1" y1="486" x2="125.6" y2="486" stroke="#000" stroke-width="1.74"/>
<text x="120.1" y="489.0" font-size="8.6" text-anchor="end" textLength="11.12" lengthAdjust="spacingAndGlyphs" fill="#000">0.0</text>
<line x1="125.6" y1="486" x2="177.5" y2="486" stroke="#000" stroke-width="1.45"/>
<line x1="138.5" y1="486" x2="138.5" y2="489" stroke="#000" stroke-width="1.45"/>
<line x1="164.75" y1="486" x2="164.75" y2="489" stroke="#000" stroke-width="1.45"/>
<line x1="138.75" y1="442.75" x2="138.75" y2="449" stroke="#000" stroke-width="1.2"/>
<line x1="135.25" y1="442.75" x2="142.25" y2="442.75" stroke="#000" stroke-width="1.2"/>
<rect x="132.25" y="449" width="13.0" height="37" fill="#000" stroke="none" stroke-width="1"/>
<line x1="164.8" y1="448.5" x2="164.8" y2="450.25" stroke="#000" stroke-width="1.2"/>
<line x1="161.3" y1="448.5" x2="168.3" y2="448.5" stroke="#000" stroke-width="1.2"/>
<rect x="158.7" y="450.85" width="12.200000000000006" height="35.15" fill="#fff" stroke="#000" stroke-width="1.2"/>
<path d="M139.75 439.05V436.25H161.25V439.05" fill="none" stroke="#000" stroke-width="1.3"/>
<text x="150.5" y="434.75" font-size="7.6" text-anchor="middle" fill="#000">N.S</text>
<text x="151.6" y="499.6" font-size="8.7" text-anchor="middle" textLength="21.35" lengthAdjust="spacingAndGlyphs" fill="#000">ccnd3</text>
<line x1="201.5" y1="418" x2="201.5" y2="486" stroke="#000" stroke-width="1.45"/>
<line x1="198.0" y1="421" x2="201.5" y2="421" stroke="#000" stroke-width="1.74"/>
<text x="196.0" y="424.0" font-size="8.6" text-anchor="end" textLength="11.12" lengthAdjust="spacingAndGlyphs" fill="#000">2.0</text>
<line x1="198.0" y1="436.9" x2="201.5" y2="436.9" stroke="#000" stroke-width="1.74"/>
<text x="196.0" y="439.9" font-size="8.6" text-anchor="end" textLength="11.12" lengthAdjust="spacingAndGlyphs" fill="#000">1.5</text>
<line x1="198.0" y1="453.5" x2="201.5" y2="453.5" stroke="#000" stroke-width="1.74"/>
<text x="196.0" y="456.5" font-size="8.6" text-anchor="end" textLength="11.12" lengthAdjust="spacingAndGlyphs" fill="#000">1.0</text>
<line x1="198.0" y1="469.75" x2="201.5" y2="469.75" stroke="#000" stroke-width="1.74"/>
<text x="196.0" y="472.75" font-size="8.6" text-anchor="end" textLength="11.12" lengthAdjust="spacingAndGlyphs" fill="#000">0.5</text>
<line x1="198.0" y1="486" x2="201.5" y2="486" stroke="#000" stroke-width="1.74"/>
<text x="196.0" y="489.0" font-size="8.6" text-anchor="end" textLength="11.12" lengthAdjust="spacingAndGlyphs" fill="#000">0.0</text>
<line x1="201.5" y1="486" x2="253.75" y2="486" stroke="#000" stroke-width="1.45"/>
<line x1="214.4" y1="486" x2="214.4" y2="489" stroke="#000" stroke-width="1.45"/>
<line x1="241" y1="486" x2="241" y2="489" stroke="#000" stroke-width="1.45"/>
<line x1="214.55" y1="448.1" x2="214.55" y2="451" stroke="#000" stroke-width="1.2"/>
<line x1="211.05" y1="448.1" x2="218.05" y2="448.1" stroke="#000" stroke-width="1.2"/>
<rect x="208.1" y="451" width="12.900000000000006" height="35" fill="#000" stroke="none" stroke-width="1"/>
<line x1="240.65" y1="427.25" x2="240.65" y2="429.75" stroke="#000" stroke-width="1.2"/>
<line x1="237.15" y1="427.25" x2="244.15" y2="427.25" stroke="#000" stroke-width="1.2"/>
<rect x="235.0" y="430.35" width="11.3" height="55.65" fill="#fff" stroke="#000" stroke-width="1.2"/>
<path d="M221 423.8V421H242.5V423.8" fill="none" stroke="#000" stroke-width="1.3"/>
<circle cx="229.80" cy="416.6" r="1.05" fill="#000"/>
<circle cx="233.70" cy="416.6" r="1.05" fill="#000"/>
<text x="227" y="499.6" font-size="8.7" text-anchor="middle" textLength="13.35" lengthAdjust="spacingAndGlyphs" fill="#000">p27</text>
<text x="260.5" y="406.5" font-size="13" text-anchor="start" font-weight="bold" fill="#000">J</text>
<rect x="320" y="378.25" width="13" height="6.75" fill="#000" stroke="none" stroke-width="1"/>
<text x="338" y="384.8" font-size="8" text-anchor="start" textLength="89" lengthAdjust="spacingAndGlyphs" fill="#000">Empty-NGFR; Empty-GFP</text>
<rect x="320.6" y="389.6" width="11.8" height="5.55" fill="#fff" stroke="#000" stroke-width="1.2"/>
<text x="338" y="395.4" font-size="8" text-anchor="start" textLength="86.5" lengthAdjust="spacingAndGlyphs" fill="#000">p210-NGFR; Empty-GFP</text>
<rect x="320.6" y="400.6" width="11.8" height="5.8" fill="#8a8a8a" stroke="#000" stroke-width="1.2"/>
<text x="338" y="406.3" font-size="8" text-anchor="start" textLength="100.75" lengthAdjust="spacingAndGlyphs" fill="#000">p210-NGFR; miR139-5p-GFP</text>
<text x="276.7" y="448.05" font-size="9.2" text-anchor="middle" transform="rotate(-90 276.7 448.05)" textLength="73.7" lengthAdjust="spacingAndGlyphs" fill="#000">Relative expression</text>
<text x="288.3" y="448" font-size="9.2" text-anchor="middle" transform="rotate(-90 288.3 448)" textLength="47.4" lengthAdjust="spacingAndGlyphs" fill="#000">miR-139-5p</text>
<line x1="309" y1="409.75" x2="309" y2="486" stroke="#000" stroke-width="1.45"/>
<line x1="305.5" y1="412.75" x2="309" y2="412.75" stroke="#000" stroke-width="1.74"/>
<text x="303.5" y="415.75" font-size="8.6" text-anchor="end" textLength="8.90" lengthAdjust="spacingAndGlyphs" fill="#000">25</text>
<line x1="305.5" y1="427.25" x2="309" y2="427.25" stroke="#000" stroke-width="1.74"/>
<text x="303.5" y="430.25" font-size="8.6" text-anchor="end" textLength="8.90" lengthAdjust="spacingAndGlyphs" fill="#000">20</text>
<line x1="305.5" y1="441.9" x2="309" y2="441.9" stroke="#000" stroke-width="1.74"/>
<text x="303.5" y="444.9" font-size="8.6" text-anchor="end" textLength="8.90" lengthAdjust="spacingAndGlyphs" fill="#000">15</text>
<line x1="305.5" y1="456.25" x2="309" y2="456.25" stroke="#000" stroke-width="1.74"/>
<text x="303.5" y="459.25" font-size="8.6" text-anchor="end" textLength="8.90" lengthAdjust="spacingAndGlyphs" fill="#000">10</text>
<line x1="305.5" y1="471" x2="309" y2="471" stroke="#000" stroke-width="1.74"/>
<text x="303.5" y="474.0" font-size="8.6" text-anchor="end" textLength="4.45" lengthAdjust="spacingAndGlyphs" fill="#000">5</text>
<line x1="305.5" y1="486" x2="309" y2="486" stroke="#000" stroke-width="1.74"/>
<text x="303.5" y="489.0" font-size="8.6" text-anchor="end" textLength="4.45" lengthAdjust="spacingAndGlyphs" fill="#000">0</text>
<line x1="309" y1="486" x2="361.25" y2="486" stroke="#000" stroke-width="1.45"/>
<line x1="318.5" y1="486" x2="318.5" y2="489" stroke="#000" stroke-width="1.45"/>
<line x1="336.25" y1="486" x2="336.25" y2="489" stroke="#000" stroke-width="1.45"/>
<line x1="353.5" y1="486" x2="353.5" y2="489" stroke="#000" stroke-width="1.45"/>
<line x1="321.25" y1="420" x2="321.25" y2="463.3" stroke="#000" stroke-width="1.1"/>
<line x1="321.25" y1="463.3" x2="343.1" y2="463.3" stroke="#000" stroke-width="1.1"/>
<line x1="319.6" y1="423.75" x2="321.25" y2="423.75" stroke="#000" stroke-width="0.8"/>
<text x="319.0" y="425.05" font-size="3.9" text-anchor="end" fill="#000">1.5</text>
<line x1="319.6" y1="436.9" x2="321.25" y2="436.9" stroke="#000" stroke-width="0.8"/>
<text x="319.0" y="438.2" font-size="3.9" text-anchor="end" fill="#000">1.0</text>
<line x1="319.6" y1="450.4" x2="321.25" y2="450.4" stroke="#000" stroke-width="0.8"/>
<text x="319.0" y="451.7" font-size="3.9" text-anchor="end" fill="#000">0.5</text>
<line x1="319.6" y1="463.3" x2="321.25" y2="463.3" stroke="#000" stroke-width="0.8"/>
<text x="319.0" y="464.6" font-size="3.9" text-anchor="end" fill="#000">0.0</text>
<line x1="326.85" y1="435" x2="326.85" y2="438.75" stroke="#000" stroke-width="1.0"/>
<line x1="324.85" y1="435" x2="328.85" y2="435" stroke="#000" stroke-width="1.0"/>
<rect x="323.1" y="438.75" width="7.5" height="24.55000000000001" fill="#000" stroke="none" stroke-width="1"/>
<line x1="337.05" y1="451.2" x2="337.05" y2="452.25" stroke="#000" stroke-width="1.0"/>
<line x1="335.05" y1="451.2" x2="339.05" y2="451.2" stroke="#000" stroke-width="1.0"/>
<rect x="334.0" y="452.75" width="6.100000000000023" height="10.550000000000011" fill="#fff" stroke="#000" stroke-width="1.0"/>
<path d="M326.25 433.25V431.25H338.1V433.25" fill="none" stroke="#000" stroke-width="1.0"/>
<circle cx="332.18" cy="426.85" r="1.05" fill="#000"/>
<path d="M331.25 463.5L316 479.75H347.25Z" fill="none" stroke="#000" stroke-width="1.2"/>
<rect x="314.4" y="483.1" width="9.350000000000023" height="2.8999999999999773" fill="#000" stroke="none" stroke-width="1"/>
<rect x="332.5" y="484.5" width="8.100000000000023" height="1.5" fill="#000" stroke="none" stroke-width="1"/>
<line x1="353.125" y1="426.25" x2="353.125" y2="440.25" stroke="#000" stroke-width="1.2"/>
<line x1="350.625" y1="426.25" x2="355.625" y2="426.25" stroke="#000" stroke-width="1.2"/>
<rect x="349.1" y="440.85" width="8.05" height="45.15" fill="#8a8a8a" stroke="#000" stroke-width="1.2"/>
<path d="M323.1 417.55V414.75H353.5V417.55" fill="none" stroke="#000" stroke-width="1.3"/>
<circle cx="338.30" cy="410.35" r="1.05" fill="#000"/>
<text x="379.4" y="450.8" font-size="9.2" text-anchor="middle" transform="rotate(-90 379.4 450.8)" textLength="74.2" lengthAdjust="spacingAndGlyphs" fill="#000">Relative expression</text>
<text x="390.5" y="450.85" font-size="9.2" text-anchor="middle" transform="rotate(-90 390.5 450.85)" textLength="19.3" lengthAdjust="spacingAndGlyphs" fill="#000">p210</text>
<line x1="422.4" y1="415.7" x2="422.4" y2="486.3" stroke="#000" stroke-width="1.45"/>
<line x1="418.9" y1="418.7" x2="422.4" y2="418.7" stroke="#000" stroke-width="1.74"/>
<text x="416.9" y="421.7" font-size="8.6" text-anchor="end" textLength="20.02" lengthAdjust="spacingAndGlyphs" fill="#000">0.020</text>
<line x1="418.9" y1="435.5" x2="422.4" y2="435.5" stroke="#000" stroke-width="1.74"/>
<text x="416.9" y="438.5" font-size="8.6" text-anchor="end" textLength="20.02" lengthAdjust="spacingAndGlyphs" fill="#000">0.015</text>
<line x1="418.9" y1="452.5" x2="422.4" y2="452.5" stroke="#000" stroke-width="1.74"/>
<text x="416.9" y="455.5" font-size="8.6" text-anchor="end" textLength="20.02" lengthAdjust="spacingAndGlyphs" fill="#000">0.010</text>
<line x1="418.9" y1="469.25" x2="422.4" y2="469.25" stroke="#000" stroke-width="1.74"/>
<text x="416.9" y="472.25" font-size="8.6" text-anchor="end" textLength="20.02" lengthAdjust="spacingAndGlyphs" fill="#000">0.005</text>
<line x1="418.9" y1="486.3" x2="422.4" y2="486.3" stroke="#000" stroke-width="1.74"/>
<text x="416.9" y="489.3" font-size="8.6" text-anchor="end" textLength="20.02" lengthAdjust="spacingAndGlyphs" fill="#000">0.000</text>
<line x1="422.4" y1="486.3" x2="469.5" y2="486.3" stroke="#000" stroke-width="1.45"/>
<line x1="430.5" y1="486.3" x2="430.5" y2="489.3" stroke="#000" stroke-width="1.45"/>
<line x1="445.75" y1="486.3" x2="445.75" y2="489.3" stroke="#000" stroke-width="1.45"/>
<line x1="461.5" y1="486.3" x2="461.5" y2="489.3" stroke="#000" stroke-width="1.45"/>
<text x="423.5" y="484.5" font-size="7.6" text-anchor="start" textLength="14" lengthAdjust="spacingAndGlyphs" fill="#000">N.D</text>
<line x1="446.0" y1="437.5" x2="446.0" y2="446.25" stroke="#000" stroke-width="1.2"/>
<line x1="443.5" y1="437.5" x2="448.5" y2="437.5" stroke="#000" stroke-width="1.2"/>
<rect x="442.6" y="446.85" width="6.8" height="39.45000000000001" fill="#fff" stroke="#000" stroke-width="1.2"/>
<line x1="461.625" y1="451.25" x2="461.625" y2="464.5" stroke="#000" stroke-width="1.2"/>
<line x1="459.125" y1="451.25" x2="464.125" y2="451.25" stroke="#000" stroke-width="1.2"/>
<rect x="458.1" y="465.1" width="7.05" height="21.20000000000001" fill="#8a8a8a" stroke="#000" stroke-width="1.2"/>
<text x="6.8" y="515.3" font-size="13" text-anchor="start" font-weight="bold" fill="#000">I</text>
<circle cx="403.1" cy="516" r="2.6" fill="#000"/>
<text x="408.75" y="518.7" font-size="7.7" text-anchor="start" textLength="89.2" lengthAdjust="spacingAndGlyphs" fill="#000">Empty-NGFR; Empty-GFP</text>
<circle cx="403.1" cy="526.8" r="2.1" fill="#fff" stroke="#000" stroke-width="1.2"/>
<text x="408.75" y="529.3" font-size="7.7" text-anchor="start" textLength="84.2" lengthAdjust="spacingAndGlyphs" fill="#000">p210-NGFR; Empty-GFP</text>
<rect x="400.6" y="535.3" width="5" height="5" fill="#000" stroke="none" stroke-width="1"/>
<text x="408.75" y="540.2" font-size="7.7" text-anchor="start" textLength="100" lengthAdjust="spacingAndGlyphs" fill="#000">p210-NGFR; miR139-5p-GFP</text>
<text x="310.2" y="562.4" font-size="9.2" text-anchor="middle" transform="rotate(-90 310.2 562.4)" textLength="85.2" lengthAdjust="spacingAndGlyphs" fill="#000">Gr-1<tspan font-size="5.5" dy="-3.2">+</tspan><tspan dy="3.2">Mac-1</tspan><tspan font-size="5.5" dy="-3.2">+</tspan><tspan dy="3.2"> cells (%)</tspan></text>
<line x1="335.8" y1="521.25" x2="335.8" y2="604.8" stroke="#000" stroke-width="1.45"/>
<line x1="332.3" y1="524.3" x2="335.8" y2="524.3" stroke="#000" stroke-width="1.74"/>
<text x="330.3" y="527.3" font-size="8.6" text-anchor="end" textLength="13.34" lengthAdjust="spacingAndGlyphs" fill="#000">100</text>
<line x1="332.3" y1="540.2" x2="335.8" y2="540.2" stroke="#000" stroke-width="1.74"/>
<text x="330.3" y="543.2" font-size="8.6" text-anchor="end" textLength="8.90" lengthAdjust="spacingAndGlyphs" fill="#000">80</text>
<line x1="332.3" y1="556.1" x2="335.8" y2="556.1" stroke="#000" stroke-width="1.74"/>
<text x="330.3" y="559.1" font-size="8.6" text-anchor="end" textLength="8.90" lengthAdjust="spacingAndGlyphs" fill="#000">60</text>
<line x1="332.3" y1="572.4" x2="335.8" y2="572.4" stroke="#000" stroke-width="1.74"/>
<text x="330.3" y="575.4" font-size="8.6" text-anchor="end" textLength="8.90" lengthAdjust="spacingAndGlyphs" fill="#000">40</text>
<line x1="332.3" y1="588.5" x2="335.8" y2="588.5" stroke="#000" stroke-width="1.74"/>
<text x="330.3" y="591.5" font-size="8.6" text-anchor="end" textLength="8.90" lengthAdjust="spacingAndGlyphs" fill="#000">20</text>
<line x1="332.3" y1="604.8" x2="335.8" y2="604.8" stroke="#000" stroke-width="1.74"/>
<text x="330.3" y="607.8" font-size="8.6" text-anchor="end" textLength="4.45" lengthAdjust="spacingAndGlyphs" fill="#000">0</text>
<line x1="335.8" y1="604.8" x2="401.4" y2="604.8" stroke="#000" stroke-width="1.45"/>
<line x1="346.2" y1="604.8" x2="346.2" y2="607.8" stroke="#000" stroke-width="1.45"/>
<line x1="368.2" y1="604.8" x2="368.2" y2="607.8" stroke="#000" stroke-width="1.45"/>
<line x1="390.6" y1="604.8" x2="390.6" y2="607.8" stroke="#000" stroke-width="1.45"/>
<circle cx="343.3" cy="583.8" r="2.1" fill="#000"/>
<circle cx="349.5" cy="584.9" r="2.1" fill="#000"/>
<circle cx="347" cy="587.8" r="2.1" fill="#000"/>
<circle cx="343.3" cy="593.4" r="2.1" fill="#000"/>
<circle cx="349.5" cy="590" r="2.1" fill="#000"/>
<line x1="339.3" y1="587.8" x2="353.90000000000003" y2="587.8" stroke="#000" stroke-width="1.4"/>
<line x1="346.6" y1="590.3" x2="346.6" y2="585.3" stroke="#000" stroke-width="1.4"/>
<line x1="342.8" y1="590.3" x2="350.40000000000003" y2="590.3" stroke="#000" stroke-width="1.4"/>
<line x1="342.8" y1="585.3" x2="350.40000000000003" y2="585.3" stroke="#000" stroke-width="1.4"/>
<circle cx="368.7" cy="543.1" r="1.9" fill="#fff" stroke="#000" stroke-width="1.1"/>
<circle cx="368.7" cy="550" r="1.9" fill="#fff" stroke="#000" stroke-width="1.1"/>
<circle cx="365.4" cy="568.8" r="1.9" fill="#fff" stroke="#000" stroke-width="1.1"/>
<circle cx="371.6" cy="566.9" r="1.9" fill="#fff" stroke="#000" stroke-width="1.1"/>
<circle cx="367.8" cy="561.8" r="1.9" fill="#fff" stroke="#000" stroke-width="1.1"/>
<line x1="361.4" y1="557.8" x2="376.0" y2="557.8" stroke="#000" stroke-width="1.4"/>
<line x1="368.7" y1="563" x2="368.7" y2="552.9" stroke="#000" stroke-width="1.4"/>
<line x1="364.9" y1="563" x2="372.5" y2="563" stroke="#000" stroke-width="1.4"/>
<line x1="364.9" y1="552.9" x2="372.5" y2="552.9" stroke="#000" stroke-width="1.4"/>
<rect x="388.8" y="553.6" width="3.6" height="3.6" fill="#000" stroke="none" stroke-width="1"/>
<rect x="386.59999999999997" y="577.4000000000001" width="3.6" height="3.6" fill="#000" stroke="none" stroke-width="1"/>
<rect x="391.4" y="579.1" width="3.6" height="3.6" fill="#000" stroke="none" stroke-width="1"/>
<rect x="388.8" y="585.7" width="3.6" height="3.6" fill="#000" stroke="none" stroke-width="1"/>
<line x1="382.9" y1="576" x2="397.5" y2="576" stroke="#000" stroke-width="1.4"/>
<line x1="390.2" y1="581.5" x2="390.2" y2="570.2" stroke="#000" stroke-width="1.4"/>
<line x1="386.4" y1="581.5" x2="394.0" y2="581.5" stroke="#000" stroke-width="1.4"/>
<line x1="386.4" y1="570.2" x2="394.0" y2="570.2" stroke="#000" stroke-width="1.4"/>
<path d="M345.2 537.1999999999999V534.4H367.2V537.1999999999999" fill="none" stroke="#000" stroke-width="1.3"/>
<circle cx="354.25" cy="530.0" r="1.05" fill="#000"/>
<circle cx="358.15" cy="530.0" r="1.05" fill="#000"/>
<path d="M368.2 537.1999999999999V534.4H389.2V537.1999999999999" fill="none" stroke="#000" stroke-width="1.3"/>
<circle cx="378.70" cy="530.0" r="1.05" fill="#000"/>
<text x="303.2" y="668.75" font-size="9.2" text-anchor="middle" transform="rotate(-90 303.2 668.75)" textLength="46.1" lengthAdjust="spacingAndGlyphs" fill="#000">LK cells (%)</text>
<text x="315" y="668.25" font-size="9.2" text-anchor="middle" transform="rotate(-90 315 668.25)" textLength="77" lengthAdjust="spacingAndGlyphs" fill="#000">(myeloid progenitor)</text>
<line x1="335.8" y1="626.1" x2="335.8" y2="710.2" stroke="#000" stroke-width="1.45"/>
<line x1="332.3" y1="629.1" x2="335.8" y2="629.1" stroke="#000" stroke-width="1.74"/>
<text x="330.3" y="632.1" font-size="8.6" text-anchor="end" textLength="8.90" lengthAdjust="spacingAndGlyphs" fill="#000">25</text>
<line x1="332.3" y1="645.3" x2="335.8" y2="645.3" stroke="#000" stroke-width="1.74"/>
<text x="330.3" y="648.3" font-size="8.6" text-anchor="end" textLength="8.90" lengthAdjust="spacingAndGlyphs" fill="#000">20</text>
<line x1="332.3" y1="661.9" x2="335.8" y2="661.9" stroke="#000" stroke-width="1.74"/>
<text x="330.3" y="664.9" font-size="8.6" text-anchor="end" textLength="8.90" lengthAdjust="spacingAndGlyphs" fill="#000">15</text>
<line x1="332.3" y1="678.2" x2="335.8" y2="678.2" stroke="#000" stroke-width="1.74"/>
<text x="330.3" y="681.2" font-size="8.6" text-anchor="end" textLength="8.90" lengthAdjust="spacingAndGlyphs" fill="#000">10</text>
<line x1="332.3" y1="694.4" x2="335.8" y2="694.4" stroke="#000" stroke-width="1.74"/>
<text x="330.3" y="697.4" font-size="8.6" text-anchor="end" textLength="4.45" lengthAdjust="spacingAndGlyphs" fill="#000">5</text>
<line x1="332.3" y1="710.2" x2="335.8" y2="710.2" stroke="#000" stroke-width="1.74"/>
<text x="330.3" y="713.2" font-size="8.6" text-anchor="end" textLength="4.45" lengthAdjust="spacingAndGlyphs" fill="#000">0</text>
<line x1="335.8" y1="710.2" x2="400.7" y2="710.2" stroke="#000" stroke-width="1.45"/>
<line x1="347" y1="710.2" x2="347" y2="713.2" stroke="#000" stroke-width="1.45"/>
<line x1="369.7" y1="710.2" x2="369.7" y2="713.2" stroke="#000" stroke-width="1.45"/>
<line x1="392.8" y1="710.2" x2="392.8" y2="713.2" stroke="#000" stroke-width="1.45"/>
<circle cx="347" cy="694.1" r="2.1" fill="#000"/>
<circle cx="347" cy="701.3" r="2.1" fill="#000"/>
<circle cx="347" cy="709.5" r="2.1" fill="#000"/>
<line x1="339.7" y1="701.9" x2="354.3" y2="701.9" stroke="#000" stroke-width="1.4"/>
<line x1="347" y1="706.2" x2="347" y2="697.5" stroke="#000" stroke-width="1.4"/>
<line x1="343.2" y1="706.2" x2="350.8" y2="706.2" stroke="#000" stroke-width="1.4"/>
<line x1="343.2" y1="697.5" x2="350.8" y2="697.5" stroke="#000" stroke-width="1.4"/>
<circle cx="366.8" cy="642.4" r="1.9" fill="#fff" stroke="#000" stroke-width="1.1"/>
<circle cx="373" cy="647" r="1.9" fill="#fff" stroke="#000" stroke-width="1.1"/>
<circle cx="370.1" cy="657.1" r="1.9" fill="#fff" stroke="#000" stroke-width="1.1"/>
<circle cx="370.1" cy="679.6" r="1.9" fill="#fff" stroke="#000" stroke-width="1.1"/>
<circle cx="370.1" cy="696.5" r="1.9" fill="#fff" stroke="#000" stroke-width="1.1"/>
<line x1="362.7" y1="664.4" x2="377.3" y2="664.4" stroke="#000" stroke-width="1.4"/>
<line x1="370" y1="674.5" x2="370" y2="654.2" stroke="#000" stroke-width="1.4"/>
<line x1="366.2" y1="674.5" x2="373.8" y2="674.5" stroke="#000" stroke-width="1.4"/>
<line x1="366.2" y1="654.2" x2="373.8" y2="654.2" stroke="#000" stroke-width="1.4"/>
<rect x="387.4" y="687.9000000000001" width="3.6" height="3.6" fill="#000" stroke="none" stroke-width="1"/>
<rect x="393.9" y="687.9000000000001" width="3.6" height="3.6" fill="#000" stroke="none" stroke-width="1"/>
<rect x="393.9" y="699.5" width="3.6" height="3.6" fill="#000" stroke="none" stroke-width="1"/>
<rect x="387.7" y="703.8000000000001" width="3.6" height="3.6" fill="#000" stroke="none" stroke-width="1"/>
<line x1="385.8" y1="697" x2="400.40000000000003" y2="697" stroke="#000" stroke-width="1.4"/>
<line x1="393.1" y1="700.1" x2="393.1" y2="693.6" stroke="#000" stroke-width="1.4"/>
<line x1="389.3" y1="700.1" x2="396.90000000000003" y2="700.1" stroke="#000" stroke-width="1.4"/>
<line x1="389.3" y1="693.6" x2="396.90000000000003" y2="693.6" stroke="#000" stroke-width="1.4"/>
<path d="M351.9 628.1999999999999V625.4H373V628.1999999999999" fill="none" stroke="#000" stroke-width="1.3"/>
<circle cx="362.45" cy="621.0" r="1.05" fill="#000"/>
<path d="M374.7 628.1999999999999V625.4H395.7V628.1999999999999" fill="none" stroke="#000" stroke-width="1.3"/>
<circle cx="385.20" cy="621.0" r="1.05" fill="#000"/>
<rect x="33.5" y="39.6" width="52.0" height="50.99999999999999" fill="none" stroke="#999" stroke-width="0.7"/>
<line x1="66.3" y1="39.6" x2="66.3" y2="90.6" stroke="#999" stroke-width="0.6"/>
<line x1="33.5" y1="75.2" x2="85.5" y2="75.2" stroke="#999" stroke-width="0.6"/>
<text x="34.7" y="43.8" font-size="3.8" text-anchor="start" fill="#222">21.8</text>
<text x="84.3" y="43.8" font-size="3.8" text-anchor="end" fill="#222">26.1</text>
<text x="34.7" y="89.4" font-size="3.8" text-anchor="start" fill="#222">25.2</text>
<text x="84.3" y="89.4" font-size="3.8" text-anchor="end" fill="#222">6.85</text>
<line x1="32.2" y1="44.3" x2="33.5" y2="44.3" stroke="#666" stroke-width="0.5"/>
<text x="31.9" y="45.5" font-size="2.8" text-anchor="end" fill="#555">10<tspan font-size="2" dy="-1">5</tspan></text>
<line x1="32.2" y1="55.7" x2="33.5" y2="55.7" stroke="#666" stroke-width="0.5"/>
<text x="31.9" y="56.900000000000006" font-size="2.8" text-anchor="end" fill="#555">10<tspan font-size="2" dy="-1">4</tspan></text>
<line x1="32.2" y1="67.6" x2="33.5" y2="67.6" stroke="#666" stroke-width="0.5"/>
<text x="31.9" y="68.8" font-size="2.8" text-anchor="end" fill="#555">10<tspan font-size="2" dy="-1">3</tspan></text>
<line x1="32.2" y1="79.9" x2="33.5" y2="79.9" stroke="#666" stroke-width="0.5"/>
<text x="31.9" y="81.10000000000001" font-size="2.8" text-anchor="end" fill="#555">10<tspan font-size="2" dy="-1">2</tspan></text>
<line x1="32.2" y1="85" x2="33.5" y2="85" stroke="#666" stroke-width="0.5"/>
<text x="31.9" y="86.2" font-size="2.8" text-anchor="end" fill="#555">0</text>
<line x1="40.5" y1="90.6" x2="40.5" y2="91.89999999999999" stroke="#666" stroke-width="0.5"/>
<text x="40.5" y="94.6" font-size="2.8" text-anchor="middle" fill="#555">0</text>
<line x1="44.5" y1="90.6" x2="44.5" y2="91.89999999999999" stroke="#666" stroke-width="0.5"/>
<text x="44.5" y="94.6" font-size="2.8" text-anchor="middle" fill="#555">10<tspan font-size="2" dy="-1">2</tspan></text>
<line x1="58.0" y1="90.6" x2="58.0" y2="91.89999999999999" stroke="#666" stroke-width="0.5"/>
<text x="58.0" y="94.6" font-size="2.8" text-anchor="middle" fill="#555">10<tspan font-size="2" dy="-1">3</tspan></text>
<line x1="69.0" y1="90.6" x2="69.0" y2="91.89999999999999" stroke="#666" stroke-width="0.5"/>
<text x="69.0" y="94.6" font-size="2.8" text-anchor="middle" fill="#555">10<tspan font-size="2" dy="-1">4</tspan></text>
<line x1="80.0" y1="90.6" x2="80.0" y2="91.89999999999999" stroke="#666" stroke-width="0.5"/>
<text x="80.0" y="94.6" font-size="2.8" text-anchor="middle" fill="#555">10<tspan font-size="2" dy="-1">5</tspan></text>
<path d="M66.1 74.0h0.8v0.8h-0.8zM66.8 70.7h0.8v0.8h-0.8zM65.4 73.6h0.8v0.8h-0.8zM63.9 67.1h0.8v0.8h-0.8zM65.0 70.1h0.8v0.8h-0.8zM63.6 72.0h0.8v0.8h-0.8zM66.3 77.5h0.8v0.8h-0.8zM69.5 78.7h0.8v0.8h-0.8zM64.9 66.4h0.8v0.8h-0.8zM64.5 69.0h0.8v0.8h-0.8zM67.3 76.2h0.8v0.8h-0.8zM67.0 63.0h0.8v0.8h-0.8zM66.4 70.7h0.8v0.8h-0.8zM63.8 72.5h0.8v0.8h-0.8zM66.0 79.3h0.8v0.8h-0.8zM67.8 76.4h0.8v0.8h-0.8zM62.7 71.4h0.8v0.8h-0.8zM65.0 71.2h0.8v0.8h-0.8zM61.3 71.7h0.8v0.8h-0.8zM62.9 80.6h0.8v0.8h-0.8zM61.5 70.9h0.8v0.8h-0.8zM65.5 71.5h0.8v0.8h-0.8zM62.9 74.8h0.8v0.8h-0.8zM66.8 72.4h0.8v0.8h-0.8zM66.5 72.0h0.8v0.8h-0.8zM65.6 67.4h0.8v0.8h-0.8zM59.8 72.9h0.8v0.8h-0.8zM64.8 70.8h0.8v0.8h-0.8zM66.0 78.8h0.8v0.8h-0.8zM66.4 76.3h0.8v0.8h-0.8zM62.3 72.9h0.8v0.8h-0.8zM64.9 76.3h0.8v0.8h-0.8zM63.7 71.3h0.8v0.8h-0.8zM64.1 78.3h0.8v0.8h-0.8zM68.8 73.0h0.8v0.8h-0.8zM64.1 75.9h0.8v0.8h-0.8zM66.0 66.5h0.8v0.8h-0.8zM68.3 74.7h0.8v0.8h-0.8zM64.6 64.6h0.8v0.8h-0.8zM65.8 62.8h0.8v0.8h-0.8zM66.4 71.5h0.8v0.8h-0.8zM66.3 68.5h0.8v0.8h-0.8zM63.0 73.8h0.8v0.8h-0.8zM66.3 84.2h0.8v0.8h-0.8zM69.5 68.8h0.8v0.8h-0.8zM62.2 69.9h0.8v0.8h-0.8zM68.2 74.0h0.8v0.8h-0.8zM66.4 75.5h0.8v0.8h-0.8zM64.5 72.1h0.8v0.8h-0.8zM71.1 72.0h0.8v0.8h-0.8zM68.0 76.5h0.8v0.8h-0.8zM63.1 75.6h0.8v0.8h-0.8zM66.3 67.8h0.8v0.8h-0.8zM67.5 72.6h0.8v0.8h-0.8zM65.6 73.2h0.8v0.8h-0.8zM67.8 67.7h0.8v0.8h-0.8zM65.9 74.3h0.8v0.8h-0.8zM67.8 68.7h0.8v0.8h-0.8zM69.7 77.9h0.8v0.8h-0.8zM64.4 74.0h0.8v0.8h-0.8z" fill="#888" fill-opacity="0.35"/>
<ellipse cx="66.3" cy="75.1" rx="2.3" ry="4.4" fill="#000" fill-opacity="0.95" transform="rotate(8 66.3 75.1)" filter="url(#b5)"/>
<rect x="92.4" y="39.6" width="51.69999999999999" height="50.99999999999999" fill="none" stroke="#999" stroke-width="0.7"/>
<line x1="125.3" y1="39.6" x2="125.3" y2="90.6" stroke="#999" stroke-width="0.6"/>
<line x1="92.4" y1="75.2" x2="144.1" y2="75.2" stroke="#999" stroke-width="0.6"/>
<text x="93.60000000000001" y="43.8" font-size="3.8" text-anchor="start" fill="#222">21.8</text>
<text x="142.9" y="43.8" font-size="3.8" text-anchor="end" fill="#222">17.6</text>
<text x="93.60000000000001" y="89.4" font-size="3.8" text-anchor="start" fill="#222">52</text>
<text x="142.9" y="89.4" font-size="3.8" text-anchor="end" fill="#222">8.54</text>
<line x1="91.10000000000001" y1="44.3" x2="92.4" y2="44.3" stroke="#666" stroke-width="0.5"/>
<text x="90.80000000000001" y="45.5" font-size="2.8" text-anchor="end" fill="#555">10<tspan font-size="2" dy="-1">5</tspan></text>
<line x1="91.10000000000001" y1="55.7" x2="92.4" y2="55.7" stroke="#666" stroke-width="0.5"/>
<text x="90.80000000000001" y="56.900000000000006" font-size="2.8" text-anchor="end" fill="#555">10<tspan font-size="2" dy="-1">4</tspan></text>
<line x1="91.10000000000001" y1="67.6" x2="92.4" y2="67.6" stroke="#666" stroke-width="0.5"/>
<text x="90.80000000000001" y="68.8" font-size="2.8" text-anchor="end" fill="#555">10<tspan font-size="2" dy="-1">3</tspan></text>
<line x1="91.10000000000001" y1="79.9" x2="92.4" y2="79.9" stroke="#666" stroke-width="0.5"/>
<text x="90.80000000000001" y="81.10000000000001" font-size="2.8" text-anchor="end" fill="#555">10<tspan font-size="2" dy="-1">2</tspan></text>
<line x1="91.10000000000001" y1="85" x2="92.4" y2="85" stroke="#666" stroke-width="0.5"/>
<text x="90.80000000000001" y="86.2" font-size="2.8" text-anchor="end" fill="#555">0</text>
<line x1="99.4" y1="90.6" x2="99.4" y2="91.89999999999999" stroke="#666" stroke-width="0.5"/>
<text x="99.4" y="94.6" font-size="2.8" text-anchor="middle" fill="#555">0</text>
<line x1="103.4" y1="90.6" x2="103.4" y2="91.89999999999999" stroke="#666" stroke-width="0.5"/>
<text x="103.4" y="94.6" font-size="2.8" text-anchor="middle" fill="#555">10<tspan font-size="2" dy="-1">2</tspan></text>
<line x1="116.9" y1="90.6" x2="116.9" y2="91.89999999999999" stroke="#666" stroke-width="0.5"/>
<text x="116.9" y="94.6" font-size="2.8" text-anchor="middle" fill="#555">10<tspan font-size="2" dy="-1">3</tspan></text>
<line x1="127.9" y1="90.6" x2="127.9" y2="91.89999999999999" stroke="#666" stroke-width="0.5"/>
<text x="127.9" y="94.6" font-size="2.8" text-anchor="middle" fill="#555">10<tspan font-size="2" dy="-1">4</tspan></text>
<line x1="138.9" y1="90.6" x2="138.9" y2="91.89999999999999" stroke="#666" stroke-width="0.5"/>
<text x="138.9" y="94.6" font-size="2.8" text-anchor="middle" fill="#555">10<tspan font-size="2" dy="-1">5</tspan></text>
<path d="M125.3 70.8h0.8v0.8h-0.8zM123.6 70.5h0.8v0.8h-0.8zM124.8 76.2h0.8v0.8h-0.8zM120.1 71.5h0.8v0.8h-0.8zM122.3 72.2h0.8v0.8h-0.8zM126.0 73.1h0.8v0.8h-0.8zM119.8 78.9h0.8v0.8h-0.8zM127.2 76.4h0.8v0.8h-0.8zM120.7 74.9h0.8v0.8h-0.8zM127.0 70.2h0.8v0.8h-0.8zM123.0 66.1h0.8v0.8h-0.8zM127.0 77.7h0.8v0.8h-0.8zM125.4 77.8h0.8v0.8h-0.8zM121.3 72.3h0.8v0.8h-0.8zM128.2 75.7h0.8v0.8h-0.8zM128.7 76.9h0.8v0.8h-0.8zM124.9 77.2h0.8v0.8h-0.8zM124.4 77.6h0.8v0.8h-0.8zM124.7 70.7h0.8v0.8h-0.8zM122.7 80.6h0.8v0.8h-0.8zM127.8 66.8h0.8v0.8h-0.8zM123.7 77.3h0.8v0.8h-0.8zM125.0 75.5h0.8v0.8h-0.8zM123.1 77.4h0.8v0.8h-0.8zM123.5 82.4h0.8v0.8h-0.8zM121.9 80.4h0.8v0.8h-0.8zM128.2 67.3h0.8v0.8h-0.8zM124.7 64.6h0.8v0.8h-0.8zM127.5 77.1h0.8v0.8h-0.8zM125.1 67.9h0.8v0.8h-0.8zM123.4 72.9h0.8v0.8h-0.8zM124.3 77.2h0.8v0.8h-0.8zM123.7 64.8h0.8v0.8h-0.8zM125.1 62.5h0.8v0.8h-0.8zM124.2 74.3h0.8v0.8h-0.8zM124.4 73.2h0.8v0.8h-0.8zM121.7 71.8h0.8v0.8h-0.8zM123.1 73.2h0.8v0.8h-0.8zM129.2 68.7h0.8v0.8h-0.8zM123.4 65.4h0.8v0.8h-0.8zM122.5 72.2h0.8v0.8h-0.8zM125.9 68.1h0.8v0.8h-0.8zM128.6 64.8h0.8v0.8h-0.8zM121.5 75.5h0.8v0.8h-0.8zM124.6 72.7h0.8v0.8h-0.8zM123.5 75.0h0.8v0.8h-0.8zM120.7 68.1h0.8v0.8h-0.8zM126.9 69.7h0.8v0.8h-0.8zM125.0 68.0h0.8v0.8h-0.8zM125.3 68.6h0.8v0.8h-0.8zM123.2 74.0h0.8v0.8h-0.8zM126.2 69.1h0.8v0.8h-0.8zM123.8 74.8h0.8v0.8h-0.8zM124.7 74.7h0.8v0.8h-0.8zM122.3 83.1h0.8v0.8h-0.8zM122.1 66.0h0.8v0.8h-0.8zM128.4 77.4h0.8v0.8h-0.8zM123.8 72.6h0.8v0.8h-0.8zM125.8 72.9h0.8v0.8h-0.8zM125.0 65.8h0.8v0.8h-0.8z" fill="#888" fill-opacity="0.35"/>
<ellipse cx="125.0" cy="75.9" rx="2.2" ry="3.2" fill="#000" fill-opacity="0.9" transform="rotate(8 125.0 75.9)" filter="url(#b6)"/>
<path d="M25.1 65.2V97.7H55.1" fill="none" stroke="#000" stroke-width="1.4"/>
<path d="M22.8 66.7L25.1 62.2L27.400000000000002 66.7Z" fill="#000"/>
<path d="M53.6 95.4L58.1 97.7L53.6 100.0Z" fill="#000"/>
<text x="22.9" y="80.5" font-size="9.2" text-anchor="middle" transform="rotate(-90 22.9 80.5)" textLength="15.4" lengthAdjust="spacingAndGlyphs" fill="#000">ki67</text>
<text x="32.2" y="106.1" font-size="8.8" text-anchor="start" textLength="18.5" lengthAdjust="spacingAndGlyphs" fill="#000">DAPI</text>
<text x="58" y="34.8" font-size="8.4" text-anchor="middle" textLength="39" lengthAdjust="spacingAndGlyphs" fill="#000">Empty-RV</text>
<text x="119.4" y="34.7" font-size="8.4" text-anchor="middle" textLength="57.2" lengthAdjust="spacingAndGlyphs" fill="#000">miR-139-5p-RV</text>
<rect x="33.3" y="290.5" width="53.400000000000006" height="53.69999999999999" fill="none" stroke="#000" stroke-width="1.3"/>
<line x1="31.299999999999997" y1="298.7" x2="33.3" y2="298.7" stroke="#000" stroke-width="0.9"/>
<text x="28.5" y="301.09999999999997" font-size="7" text-anchor="end" fill="#000">6</text>
<line x1="31.299999999999997" y1="313.9" x2="33.3" y2="313.9" stroke="#000" stroke-width="0.9"/>
<text x="28.5" y="316.29999999999995" font-size="7" text-anchor="end" fill="#000">4</text>
<line x1="31.299999999999997" y1="329" x2="33.3" y2="329" stroke="#000" stroke-width="0.9"/>
<text x="28.5" y="331.4" font-size="7" text-anchor="end" fill="#000">2</text>
<line x1="31.299999999999997" y1="343.9" x2="33.3" y2="343.9" stroke="#000" stroke-width="0.9"/>
<text x="28.5" y="346.29999999999995" font-size="7" text-anchor="end" fill="#000">0</text>
<line x1="31.999999999999996" y1="302.5" x2="33.3" y2="302.5" stroke="#000" stroke-width="0.7"/>
<line x1="31.999999999999996" y1="306.29999999999995" x2="33.3" y2="306.29999999999995" stroke="#000" stroke-width="0.7"/>
<line x1="31.999999999999996" y1="310.09999999999997" x2="33.3" y2="310.09999999999997" stroke="#000" stroke-width="0.7"/>
<line x1="31.999999999999996" y1="317.67499999999995" x2="33.3" y2="317.67499999999995" stroke="#000" stroke-width="0.7"/>
<line x1="31.999999999999996" y1="321.45" x2="33.3" y2="321.45" stroke="#000" stroke-width="0.7"/>
<line x1="31.999999999999996" y1="325.225" x2="33.3" y2="325.225" stroke="#000" stroke-width="0.7"/>
<line x1="31.999999999999996" y1="332.725" x2="33.3" y2="332.725" stroke="#000" stroke-width="0.7"/>
<line x1="31.999999999999996" y1="336.45" x2="33.3" y2="336.45" stroke="#000" stroke-width="0.7"/>
<line x1="31.999999999999996" y1="340.17499999999995" x2="33.3" y2="340.17499999999995" stroke="#000" stroke-width="0.7"/>
<line x1="31.999999999999996" y1="294.9" x2="33.3" y2="294.9" stroke="#000" stroke-width="0.7"/>
<line x1="35.08" y1="344.2" x2="35.08" y2="345.8" stroke="#000" stroke-width="0.9"/>
<line x1="36.86" y1="344.2" x2="36.86" y2="345.8" stroke="#000" stroke-width="0.9"/>
<line x1="38.64" y1="344.2" x2="38.64" y2="345.8" stroke="#000" stroke-width="0.9"/>
<line x1="40.42" y1="344.2" x2="40.42" y2="345.8" stroke="#000" stroke-width="0.9"/>
<line x1="42.199999999999996" y1="344.2" x2="42.199999999999996" y2="346.59999999999997" stroke="#000" stroke-width="0.9"/>
<line x1="43.98" y1="344.2" x2="43.98" y2="345.8" stroke="#000" stroke-width="0.9"/>
<line x1="45.76" y1="344.2" x2="45.76" y2="345.8" stroke="#000" stroke-width="0.9"/>
<line x1="47.54" y1="344.2" x2="47.54" y2="345.8" stroke="#000" stroke-width="0.9"/>
<line x1="49.31999999999999" y1="344.2" x2="49.31999999999999" y2="345.8" stroke="#000" stroke-width="0.9"/>
<line x1="51.099999999999994" y1="344.2" x2="51.099999999999994" y2="346.59999999999997" stroke="#000" stroke-width="0.9"/>
<line x1="52.879999999999995" y1="344.2" x2="52.879999999999995" y2="345.8" stroke="#000" stroke-width="0.9"/>
<line x1="54.66" y1="344.2" x2="54.66" y2="345.8" stroke="#000" stroke-width="0.9"/>
<line x1="56.44" y1="344.2" x2="56.44" y2="345.8" stroke="#000" stroke-width="0.9"/>
<line x1="58.22" y1="344.2" x2="58.22" y2="345.8" stroke="#000" stroke-width="0.9"/>
<line x1="60.0" y1="344.2" x2="60.0" y2="346.59999999999997" stroke="#000" stroke-width="0.9"/>
<line x1="61.78" y1="344.2" x2="61.78" y2="345.8" stroke="#000" stroke-width="0.9"/>
<line x1="63.56" y1="344.2" x2="63.56" y2="345.8" stroke="#000" stroke-width="0.9"/>
<line x1="65.34" y1="344.2" x2="65.34" y2="345.8" stroke="#000" stroke-width="0.9"/>
<line x1="67.12" y1="344.2" x2="67.12" y2="345.8" stroke="#000" stroke-width="0.9"/>
<line x1="68.9" y1="344.2" x2="68.9" y2="346.59999999999997" stroke="#000" stroke-width="0.9"/>
<line x1="70.68" y1="344.2" x2="70.68" y2="345.8" stroke="#000" stroke-width="0.9"/>
<line x1="72.46000000000001" y1="344.2" x2="72.46000000000001" y2="345.8" stroke="#000" stroke-width="0.9"/>
<line x1="74.24000000000001" y1="344.2" x2="74.24000000000001" y2="345.8" stroke="#000" stroke-width="0.9"/>
<line x1="76.02000000000001" y1="344.2" x2="76.02000000000001" y2="345.8" stroke="#000" stroke-width="0.9"/>
<line x1="77.80000000000001" y1="344.2" x2="77.80000000000001" y2="346.59999999999997" stroke="#000" stroke-width="0.9"/>
<line x1="79.58" y1="344.2" x2="79.58" y2="345.8" stroke="#000" stroke-width="0.9"/>
<line x1="81.36000000000001" y1="344.2" x2="81.36000000000001" y2="345.8" stroke="#000" stroke-width="0.9"/>
<line x1="83.14000000000001" y1="344.2" x2="83.14000000000001" y2="345.8" stroke="#000" stroke-width="0.9"/>
<line x1="84.92" y1="344.2" x2="84.92" y2="345.8" stroke="#000" stroke-width="0.9"/>
<text x="38.2" y="355.7" font-size="6.9" text-anchor="middle" fill="#000">0</text>
<text x="47.3" y="355.7" font-size="6.9" text-anchor="middle" fill="#000">10<tspan font-size="4" dy="-2.8">2</tspan></text>
<text x="57.6" y="355.7" font-size="6.9" text-anchor="middle" fill="#000">10<tspan font-size="4" dy="-2.8">3</tspan></text>
<text x="70.5" y="355.7" font-size="6.9" text-anchor="middle" fill="#000">10<tspan font-size="4" dy="-2.8">4</tspan></text>
<text x="82.2" y="355.7" font-size="6.9" text-anchor="middle" fill="#000">10<tspan font-size="4" dy="-2.8">5</tspan></text>
<path d="M34.0 343.6L48.9 343.6L52.0 343.0L54.6 342.4L56.0 343.2L56.8 341.0L58.0 328.0L59.7 316.0L62.6 308.8L64.0 300.0L65.0 294.4L66.9 296.5L68.8 308.0L70.0 320.0L71.2 332.6L74.1 332.6L74.8 325.4L76.0 313.0L76.6 310.3L77.7 316.0L78.9 318.2L80.3 325.4L82.0 334.8L83.5 342.7L84.5 343.6L86.0 343.6" fill="none" stroke="#000" stroke-width="1.45" stroke-linejoin="round"/>
<line x1="71.2" y1="332.6" x2="86.7" y2="332.6" stroke="#000" stroke-width="1.1"/>
<line x1="71.2" y1="330.6" x2="71.2" y2="334.6" stroke="#000" stroke-width="0.9"/>
<text x="79.2" y="331" font-size="5.2" text-anchor="middle" textLength="9.34" lengthAdjust="spacingAndGlyphs" fill="#000">28.8</text>
<rect x="108" y="290.8" width="51.19999999999999" height="53.39999999999998" fill="none" stroke="#000" stroke-width="1.3"/>
<line x1="106" y1="299.4" x2="108" y2="299.4" stroke="#000" stroke-width="0.9"/>
<text x="103.5" y="301.79999999999995" font-size="7" text-anchor="end" fill="#000">0.8</text>
<line x1="106" y1="311.3" x2="108" y2="311.3" stroke="#000" stroke-width="0.9"/>
<text x="103.5" y="313.7" font-size="7" text-anchor="end" fill="#000">0.6</text>
<line x1="106" y1="322.2" x2="108" y2="322.2" stroke="#000" stroke-width="0.9"/>
<text x="103.5" y="324.59999999999997" font-size="7" text-anchor="end" fill="#000">0.4</text>
<line x1="106" y1="333.3" x2="108" y2="333.3" stroke="#000" stroke-width="0.9"/>
<text x="103.5" y="335.7" font-size="7" text-anchor="end" fill="#000">0.2</text>
<line x1="106" y1="343.9" x2="108" y2="343.9" stroke="#000" stroke-width="0.9"/>
<text x="103.5" y="346.29999999999995" font-size="7" text-anchor="end" fill="#000">0</text>
<line x1="106.7" y1="302.375" x2="108" y2="302.375" stroke="#000" stroke-width="0.7"/>
<line x1="106.7" y1="305.35" x2="108" y2="305.35" stroke="#000" stroke-width="0.7"/>
<line x1="106.7" y1="308.325" x2="108" y2="308.325" stroke="#000" stroke-width="0.7"/>
<line x1="106.7" y1="314.025" x2="108" y2="314.025" stroke="#000" stroke-width="0.7"/>
<line x1="106.7" y1="316.75" x2="108" y2="316.75" stroke="#000" stroke-width="0.7"/>
<line x1="106.7" y1="319.475" x2="108" y2="319.475" stroke="#000" stroke-width="0.7"/>
<line x1="106.7" y1="324.975" x2="108" y2="324.975" stroke="#000" stroke-width="0.7"/>
<line x1="106.7" y1="327.75" x2="108" y2="327.75" stroke="#000" stroke-width="0.7"/>
<line x1="106.7" y1="330.525" x2="108" y2="330.525" stroke="#000" stroke-width="0.7"/>
<line x1="106.7" y1="335.95" x2="108" y2="335.95" stroke="#000" stroke-width="0.7"/>
<line x1="106.7" y1="338.6" x2="108" y2="338.6" stroke="#000" stroke-width="0.7"/>
<line x1="106.7" y1="341.25" x2="108" y2="341.25" stroke="#000" stroke-width="0.7"/>
<line x1="106.7" y1="296.42499999999995" x2="108" y2="296.42499999999995" stroke="#000" stroke-width="0.7"/>
<line x1="106.7" y1="293.44999999999993" x2="108" y2="293.44999999999993" stroke="#000" stroke-width="0.7"/>
<line x1="109.70666666666666" y1="344.2" x2="109.70666666666666" y2="345.8" stroke="#000" stroke-width="0.9"/>
<line x1="111.41333333333333" y1="344.2" x2="111.41333333333333" y2="345.8" stroke="#000" stroke-width="0.9"/>
<line x1="113.12" y1="344.2" x2="113.12" y2="345.8" stroke="#000" stroke-width="0.9"/>
<line x1="114.82666666666667" y1="344.2" x2="114.82666666666667" y2="345.8" stroke="#000" stroke-width="0.9"/>
<line x1="116.53333333333333" y1="344.2" x2="116.53333333333333" y2="346.59999999999997" stroke="#000" stroke-width="0.9"/>
<line x1="118.24" y1="344.2" x2="118.24" y2="345.8" stroke="#000" stroke-width="0.9"/>
<line x1="119.94666666666666" y1="344.2" x2="119.94666666666666" y2="345.8" stroke="#000" stroke-width="0.9"/>
<line x1="121.65333333333334" y1="344.2" x2="121.65333333333334" y2="345.8" stroke="#000" stroke-width="0.9"/>
<line x1="123.36" y1="344.2" x2="123.36" y2="345.8" stroke="#000" stroke-width="0.9"/>
<line x1="125.06666666666666" y1="344.2" x2="125.06666666666666" y2="346.59999999999997" stroke="#000" stroke-width="0.9"/>
<line x1="126.77333333333333" y1="344.2" x2="126.77333333333333" y2="345.8" stroke="#000" stroke-width="0.9"/>
<line x1="128.48" y1="344.2" x2="128.48" y2="345.8" stroke="#000" stroke-width="0.9"/>
<line x1="130.18666666666667" y1="344.2" x2="130.18666666666667" y2="345.8" stroke="#000" stroke-width="0.9"/>
<line x1="131.89333333333332" y1="344.2" x2="131.89333333333332" y2="345.8" stroke="#000" stroke-width="0.9"/>
<line x1="133.6" y1="344.2" x2="133.6" y2="346.59999999999997" stroke="#000" stroke-width="0.9"/>
<line x1="135.30666666666667" y1="344.2" x2="135.30666666666667" y2="345.8" stroke="#000" stroke-width="0.9"/>
<line x1="137.01333333333332" y1="344.2" x2="137.01333333333332" y2="345.8" stroke="#000" stroke-width="0.9"/>
<line x1="138.72" y1="344.2" x2="138.72" y2="345.8" stroke="#000" stroke-width="0.9"/>
<line x1="140.42666666666665" y1="344.2" x2="140.42666666666665" y2="345.8" stroke="#000" stroke-width="0.9"/>
<line x1="142.13333333333333" y1="344.2" x2="142.13333333333333" y2="346.59999999999997" stroke="#000" stroke-width="0.9"/>
<line x1="143.84" y1="344.2" x2="143.84" y2="345.8" stroke="#000" stroke-width="0.9"/>
<line x1="145.54666666666665" y1="344.2" x2="145.54666666666665" y2="345.8" stroke="#000" stroke-width="0.9"/>
<line x1="147.25333333333333" y1="344.2" x2="147.25333333333333" y2="345.8" stroke="#000" stroke-width="0.9"/>
<line x1="148.95999999999998" y1="344.2" x2="148.95999999999998" y2="345.8" stroke="#000" stroke-width="0.9"/>
<line x1="150.66666666666666" y1="344.2" x2="150.66666666666666" y2="346.59999999999997" stroke="#000" stroke-width="0.9"/>
<line x1="152.37333333333333" y1="344.2" x2="152.37333333333333" y2="345.8" stroke="#000" stroke-width="0.9"/>
<line x1="154.07999999999998" y1="344.2" x2="154.07999999999998" y2="345.8" stroke="#000" stroke-width="0.9"/>
<line x1="155.78666666666666" y1="344.2" x2="155.78666666666666" y2="345.8" stroke="#000" stroke-width="0.9"/>
<line x1="157.49333333333334" y1="344.2" x2="157.49333333333334" y2="345.8" stroke="#000" stroke-width="0.9"/>
<text x="112.3" y="355.7" font-size="6.9" text-anchor="middle" fill="#000">0</text>
<text x="118.7" y="355.7" font-size="6.9" text-anchor="middle" fill="#000">10<tspan font-size="4" dy="-2.8">2</tspan></text>
<text x="131.4" y="355.7" font-size="6.9" text-anchor="middle" fill="#000">10<tspan font-size="4" dy="-2.8">3</tspan></text>
<text x="143.8" y="355.7" font-size="6.9" text-anchor="middle" fill="#000">10<tspan font-size="4" dy="-2.8">4</tspan></text>
<text x="155.3" y="355.7" font-size="6.9" text-anchor="middle" fill="#000">10<tspan font-size="4" dy="-2.8">5</tspan></text>
<path d="M108.7 343.6L122.4 343.6L123.9 338.7L125.0 339.0L125.6 340.6L126.3 330.0L127.5 303.8L128.9 299.4L129.6 301.0L130.4 294.4L131.8 305.2L133.7 325.4L135.4 326.8L136.8 318.9L138.3 328.3L140.0 338.4L141.5 343.4L146.2 343.6L147.7 325.4L148.7 316.0L149.5 326.8L150.6 337.7L151.5 338.0L152.7 338.7L154.5 343.6L158.5 343.6" fill="none" stroke="#000" stroke-width="1.45" stroke-linejoin="round"/>
<line x1="145.2" y1="332.6" x2="159.2" y2="332.6" stroke="#000" stroke-width="1.1"/>
<line x1="145.2" y1="330.6" x2="145.2" y2="334.6" stroke="#000" stroke-width="0.9"/>
<text x="150.5" y="331.3" font-size="5.2" text-anchor="middle" textLength="9.34" lengthAdjust="spacingAndGlyphs" fill="#000">17.1</text>
<rect x="293.7" y="291.1" width="52.69999999999999" height="53.099999999999966" fill="none" stroke="#000" stroke-width="1.3"/>
<line x1="291.7" y1="303" x2="293.7" y2="303" stroke="#000" stroke-width="0.9"/>
<text x="288" y="305.4" font-size="7" text-anchor="end" fill="#000">6</text>
<line x1="291.7" y1="316.7" x2="293.7" y2="316.7" stroke="#000" stroke-width="0.9"/>
<text x="288" y="319.09999999999997" font-size="7" text-anchor="end" fill="#000">4</text>
<line x1="291.7" y1="330.5" x2="293.7" y2="330.5" stroke="#000" stroke-width="0.9"/>
<text x="288" y="332.9" font-size="7" text-anchor="end" fill="#000">2</text>
<line x1="291.7" y1="343.9" x2="293.7" y2="343.9" stroke="#000" stroke-width="0.9"/>
<text x="288" y="346.29999999999995" font-size="7" text-anchor="end" fill="#000">0</text>
<line x1="292.4" y1="306.425" x2="293.7" y2="306.425" stroke="#000" stroke-width="0.7"/>
<line x1="292.4" y1="309.85" x2="293.7" y2="309.85" stroke="#000" stroke-width="0.7"/>
<line x1="292.4" y1="313.275" x2="293.7" y2="313.275" stroke="#000" stroke-width="0.7"/>
<line x1="292.4" y1="320.15" x2="293.7" y2="320.15" stroke="#000" stroke-width="0.7"/>
<line x1="292.4" y1="323.6" x2="293.7" y2="323.6" stroke="#000" stroke-width="0.7"/>
<line x1="292.4" y1="327.05" x2="293.7" y2="327.05" stroke="#000" stroke-width="0.7"/>
<line x1="292.4" y1="333.85" x2="293.7" y2="333.85" stroke="#000" stroke-width="0.7"/>
<line x1="292.4" y1="337.2" x2="293.7" y2="337.2" stroke="#000" stroke-width="0.7"/>
<line x1="292.4" y1="340.54999999999995" x2="293.7" y2="340.54999999999995" stroke="#000" stroke-width="0.7"/>
<line x1="292.4" y1="299.575" x2="293.7" y2="299.575" stroke="#000" stroke-width="0.7"/>
<line x1="292.4" y1="296.15" x2="293.7" y2="296.15" stroke="#000" stroke-width="0.7"/>
<line x1="295.45666666666665" y1="344.2" x2="295.45666666666665" y2="345.8" stroke="#000" stroke-width="0.9"/>
<line x1="297.2133333333333" y1="344.2" x2="297.2133333333333" y2="345.8" stroke="#000" stroke-width="0.9"/>
<line x1="298.96999999999997" y1="344.2" x2="298.96999999999997" y2="345.8" stroke="#000" stroke-width="0.9"/>
<line x1="300.72666666666663" y1="344.2" x2="300.72666666666663" y2="345.8" stroke="#000" stroke-width="0.9"/>
<line x1="302.48333333333335" y1="344.2" x2="302.48333333333335" y2="346.59999999999997" stroke="#000" stroke-width="0.9"/>
<line x1="304.24" y1="344.2" x2="304.24" y2="345.8" stroke="#000" stroke-width="0.9"/>
<line x1="305.99666666666667" y1="344.2" x2="305.99666666666667" y2="345.8" stroke="#000" stroke-width="0.9"/>
<line x1="307.75333333333333" y1="344.2" x2="307.75333333333333" y2="345.8" stroke="#000" stroke-width="0.9"/>
<line x1="309.51" y1="344.2" x2="309.51" y2="345.8" stroke="#000" stroke-width="0.9"/>
<line x1="311.26666666666665" y1="344.2" x2="311.26666666666665" y2="346.59999999999997" stroke="#000" stroke-width="0.9"/>
<line x1="313.0233333333333" y1="344.2" x2="313.0233333333333" y2="345.8" stroke="#000" stroke-width="0.9"/>
<line x1="314.78" y1="344.2" x2="314.78" y2="345.8" stroke="#000" stroke-width="0.9"/>
<line x1="316.53666666666663" y1="344.2" x2="316.53666666666663" y2="345.8" stroke="#000" stroke-width="0.9"/>
<line x1="318.2933333333333" y1="344.2" x2="318.2933333333333" y2="345.8" stroke="#000" stroke-width="0.9"/>
<line x1="320.04999999999995" y1="344.2" x2="320.04999999999995" y2="346.59999999999997" stroke="#000" stroke-width="0.9"/>
<line x1="321.8066666666667" y1="344.2" x2="321.8066666666667" y2="345.8" stroke="#000" stroke-width="0.9"/>
<line x1="323.56333333333333" y1="344.2" x2="323.56333333333333" y2="345.8" stroke="#000" stroke-width="0.9"/>
<line x1="325.32" y1="344.2" x2="325.32" y2="345.8" stroke="#000" stroke-width="0.9"/>
<line x1="327.07666666666665" y1="344.2" x2="327.07666666666665" y2="345.8" stroke="#000" stroke-width="0.9"/>
<line x1="328.8333333333333" y1="344.2" x2="328.8333333333333" y2="346.59999999999997" stroke="#000" stroke-width="0.9"/>
<line x1="330.59" y1="344.2" x2="330.59" y2="345.8" stroke="#000" stroke-width="0.9"/>
<line x1="332.34666666666664" y1="344.2" x2="332.34666666666664" y2="345.8" stroke="#000" stroke-width="0.9"/>
<line x1="334.1033333333333" y1="344.2" x2="334.1033333333333" y2="345.8" stroke="#000" stroke-width="0.9"/>
<line x1="335.85999999999996" y1="344.2" x2="335.85999999999996" y2="345.8" stroke="#000" stroke-width="0.9"/>
<line x1="337.6166666666667" y1="344.2" x2="337.6166666666667" y2="346.59999999999997" stroke="#000" stroke-width="0.9"/>
<line x1="339.37333333333333" y1="344.2" x2="339.37333333333333" y2="345.8" stroke="#000" stroke-width="0.9"/>
<line x1="341.13" y1="344.2" x2="341.13" y2="345.8" stroke="#000" stroke-width="0.9"/>
<line x1="342.88666666666666" y1="344.2" x2="342.88666666666666" y2="345.8" stroke="#000" stroke-width="0.9"/>
<line x1="344.6433333333333" y1="344.2" x2="344.6433333333333" y2="345.8" stroke="#000" stroke-width="0.9"/>
<text x="302.6" y="355.7" font-size="6.9" text-anchor="middle" fill="#000">0</text>
<text x="319.8" y="355.7" font-size="6.9" text-anchor="middle" fill="#000">10<tspan font-size="4" dy="-2.8">3</tspan></text>
<text x="331" y="355.7" font-size="6.9" text-anchor="middle" fill="#000">10<tspan font-size="4" dy="-2.8">4</tspan></text>
<text x="342.2" y="355.7" font-size="6.9" text-anchor="middle" fill="#000">10<tspan font-size="4" dy="-2.8">5</tspan></text>
<path d="M294.4 343.6L308.1 343.6L309.6 339.1L311.7 338.7L313.9 328.3L315.4 313.9L316.8 291.5L317.8 291.5L318.7 298.0L320.1 292.9L321.1 303.8L322.6 328.3L324.0 341.3L326.2 342.7L328.3 342.0L330.5 341.7L335.6 341.0L337.7 334.0L340.6 326.8L342.3 334.0L343.8 342.0L345.7 343.6" fill="none" stroke="#000" stroke-width="1.25" stroke-linejoin="round"/>
<line x1="330.2" y1="337.7" x2="346.4" y2="337.7" stroke="#000" stroke-width="1.1"/>
<line x1="330.2" y1="335.7" x2="330.2" y2="339.7" stroke="#000" stroke-width="0.9"/>
<text x="337.7" y="324.7" font-size="5.2" text-anchor="middle" textLength="9.34" lengthAdjust="spacingAndGlyphs" fill="#000">20.3</text>
<rect x="368.3" y="290.8" width="52.39999999999998" height="53.39999999999998" fill="none" stroke="#000" stroke-width="1.3"/>
<line x1="366.3" y1="299.1" x2="368.3" y2="299.1" stroke="#000" stroke-width="0.9"/>
<text x="363" y="301.5" font-size="7" text-anchor="end" fill="#000">12</text>
<line x1="366.3" y1="310.7" x2="368.3" y2="310.7" stroke="#000" stroke-width="0.9"/>
<text x="363" y="313.09999999999997" font-size="7" text-anchor="end" fill="#000">9</text>
<line x1="366.3" y1="321.8" x2="368.3" y2="321.8" stroke="#000" stroke-width="0.9"/>
<text x="363" y="324.2" font-size="7" text-anchor="end" fill="#000">6</text>
<line x1="366.3" y1="332.9" x2="368.3" y2="332.9" stroke="#000" stroke-width="0.9"/>
<text x="363" y="335.29999999999995" font-size="7" text-anchor="end" fill="#000">3</text>
<line x1="366.3" y1="344" x2="368.3" y2="344" stroke="#000" stroke-width="0.9"/>
<text x="363" y="346.4" font-size="7" text-anchor="end" fill="#000">0</text>
<line x1="367.0" y1="302.0" x2="368.3" y2="302.0" stroke="#000" stroke-width="0.7"/>
<line x1="367.0" y1="304.9" x2="368.3" y2="304.9" stroke="#000" stroke-width="0.7"/>
<line x1="367.0" y1="307.8" x2="368.3" y2="307.8" stroke="#000" stroke-width="0.7"/>
<line x1="367.0" y1="313.475" x2="368.3" y2="313.475" stroke="#000" stroke-width="0.7"/>
<line x1="367.0" y1="316.25" x2="368.3" y2="316.25" stroke="#000" stroke-width="0.7"/>
<line x1="367.0" y1="319.025" x2="368.3" y2="319.025" stroke="#000" stroke-width="0.7"/>
<line x1="367.0" y1="324.575" x2="368.3" y2="324.575" stroke="#000" stroke-width="0.7"/>
<line x1="367.0" y1="327.35" x2="368.3" y2="327.35" stroke="#000" stroke-width="0.7"/>
<line x1="367.0" y1="330.125" x2="368.3" y2="330.125" stroke="#000" stroke-width="0.7"/>
<line x1="367.0" y1="335.67499999999995" x2="368.3" y2="335.67499999999995" stroke="#000" stroke-width="0.7"/>
<line x1="367.0" y1="338.45" x2="368.3" y2="338.45" stroke="#000" stroke-width="0.7"/>
<line x1="367.0" y1="341.225" x2="368.3" y2="341.225" stroke="#000" stroke-width="0.7"/>
<line x1="367.0" y1="296.20000000000005" x2="368.3" y2="296.20000000000005" stroke="#000" stroke-width="0.7"/>
<line x1="367.0" y1="293.30000000000007" x2="368.3" y2="293.30000000000007" stroke="#000" stroke-width="0.7"/>
<line x1="370.0466666666667" y1="344.2" x2="370.0466666666667" y2="345.8" stroke="#000" stroke-width="0.9"/>
<line x1="371.79333333333335" y1="344.2" x2="371.79333333333335" y2="345.8" stroke="#000" stroke-width="0.9"/>
<line x1="373.54" y1="344.2" x2="373.54" y2="345.8" stroke="#000" stroke-width="0.9"/>
<line x1="375.2866666666667" y1="344.2" x2="375.2866666666667" y2="345.8" stroke="#000" stroke-width="0.9"/>
<line x1="377.03333333333336" y1="344.2" x2="377.03333333333336" y2="346.59999999999997" stroke="#000" stroke-width="0.9"/>
<line x1="378.78000000000003" y1="344.2" x2="378.78000000000003" y2="345.8" stroke="#000" stroke-width="0.9"/>
<line x1="380.5266666666667" y1="344.2" x2="380.5266666666667" y2="345.8" stroke="#000" stroke-width="0.9"/>
<line x1="382.2733333333333" y1="344.2" x2="382.2733333333333" y2="345.8" stroke="#000" stroke-width="0.9"/>
<line x1="384.02" y1="344.2" x2="384.02" y2="345.8" stroke="#000" stroke-width="0.9"/>
<line x1="385.76666666666665" y1="344.2" x2="385.76666666666665" y2="346.59999999999997" stroke="#000" stroke-width="0.9"/>
<line x1="387.5133333333333" y1="344.2" x2="387.5133333333333" y2="345.8" stroke="#000" stroke-width="0.9"/>
<line x1="389.26" y1="344.2" x2="389.26" y2="345.8" stroke="#000" stroke-width="0.9"/>
<line x1="391.00666666666666" y1="344.2" x2="391.00666666666666" y2="345.8" stroke="#000" stroke-width="0.9"/>
<line x1="392.75333333333333" y1="344.2" x2="392.75333333333333" y2="345.8" stroke="#000" stroke-width="0.9"/>
<line x1="394.5" y1="344.2" x2="394.5" y2="346.59999999999997" stroke="#000" stroke-width="0.9"/>
<line x1="396.24666666666667" y1="344.2" x2="396.24666666666667" y2="345.8" stroke="#000" stroke-width="0.9"/>
<line x1="397.99333333333334" y1="344.2" x2="397.99333333333334" y2="345.8" stroke="#000" stroke-width="0.9"/>
<line x1="399.74" y1="344.2" x2="399.74" y2="345.8" stroke="#000" stroke-width="0.9"/>
<line x1="401.4866666666667" y1="344.2" x2="401.4866666666667" y2="345.8" stroke="#000" stroke-width="0.9"/>
<line x1="403.23333333333335" y1="344.2" x2="403.23333333333335" y2="346.59999999999997" stroke="#000" stroke-width="0.9"/>
<line x1="404.98" y1="344.2" x2="404.98" y2="345.8" stroke="#000" stroke-width="0.9"/>
<line x1="406.7266666666667" y1="344.2" x2="406.7266666666667" y2="345.8" stroke="#000" stroke-width="0.9"/>
<line x1="408.4733333333333" y1="344.2" x2="408.4733333333333" y2="345.8" stroke="#000" stroke-width="0.9"/>
<line x1="410.21999999999997" y1="344.2" x2="410.21999999999997" y2="345.8" stroke="#000" stroke-width="0.9"/>
<line x1="411.96666666666664" y1="344.2" x2="411.96666666666664" y2="346.59999999999997" stroke="#000" stroke-width="0.9"/>
<line x1="413.7133333333333" y1="344.2" x2="413.7133333333333" y2="345.8" stroke="#000" stroke-width="0.9"/>
<line x1="415.46" y1="344.2" x2="415.46" y2="345.8" stroke="#000" stroke-width="0.9"/>
<line x1="417.20666666666665" y1="344.2" x2="417.20666666666665" y2="345.8" stroke="#000" stroke-width="0.9"/>
<line x1="418.9533333333333" y1="344.2" x2="418.9533333333333" y2="345.8" stroke="#000" stroke-width="0.9"/>
<text x="378.4" y="355.7" font-size="6.9" text-anchor="middle" fill="#000">0</text>
<text x="394.4" y="355.7" font-size="6.9" text-anchor="middle" fill="#000">10<tspan font-size="4" dy="-2.8">3</tspan></text>
<text x="405.1" y="355.7" font-size="6.9" text-anchor="middle" fill="#000">10<tspan font-size="4" dy="-2.8">4</tspan></text>
<text x="416.3" y="355.7" font-size="6.9" text-anchor="middle" fill="#000">10<tspan font-size="4" dy="-2.8">5</tspan></text>
<path d="M369.0 343.6L383.9 343.6L386.0 338.4L388.5 321.1L390.4 303.8L391.4 300.9L392.2 301.6L393.2 293.7L394.0 303.8L395.7 328.3L397.6 342.0L400.0 342.0L401.5 340.6L403.3 342.7L406.2 342.0L409.1 337.0L412.0 328.3L413.4 325.4L415.3 331.2L416.8 339.8L418.2 343.4L420.0 343.6" fill="none" stroke="#000" stroke-width="1.25" stroke-linejoin="round"/>
<line x1="404.8" y1="337.7" x2="420.7" y2="337.7" stroke="#000" stroke-width="1.1"/>
<line x1="404.8" y1="335.7" x2="404.8" y2="339.7" stroke="#000" stroke-width="0.9"/>
<text x="412" y="323.7" font-size="5.2" text-anchor="middle" textLength="9.34" lengthAdjust="spacingAndGlyphs" fill="#000">29.6</text>
<rect x="82.5" y="520.8" width="50.599999999999994" height="50.80000000000007" fill="none" stroke="#999" stroke-width="0.8"/>
<line x1="81.2" y1="526.3879999999999" x2="82.5" y2="526.3879999999999" stroke="#555" stroke-width="0.6"/>
<text x="80.7" y="527.4879999999999" font-size="2.9" text-anchor="end" fill="#444">10<tspan font-size="2.0" dy="-1">5</tspan></text>
<line x1="81.2" y1="537.0559999999999" x2="82.5" y2="537.0559999999999" stroke="#555" stroke-width="0.6"/>
<text x="80.7" y="538.156" font-size="2.9" text-anchor="end" fill="#444">10<tspan font-size="2.0" dy="-1">4</tspan></text>
<line x1="81.2" y1="548.74" x2="82.5" y2="548.74" stroke="#555" stroke-width="0.6"/>
<text x="80.7" y="549.84" font-size="2.9" text-anchor="end" fill="#444">10<tspan font-size="2.0" dy="-1">3</tspan></text>
<line x1="81.2" y1="560.424" x2="82.5" y2="560.424" stroke="#555" stroke-width="0.6"/>
<text x="80.7" y="561.524" font-size="2.9" text-anchor="end" fill="#444">0</text>
<line x1="90.596" y1="571.6" x2="90.596" y2="572.9" stroke="#555" stroke-width="0.6"/>
<text x="90.596" y="576.2" font-size="2.9" text-anchor="middle" fill="#444">0</text>
<line x1="102.74" y1="571.6" x2="102.74" y2="572.9" stroke="#555" stroke-width="0.6"/>
<text x="102.74" y="576.2" font-size="2.9" text-anchor="middle" fill="#444">10<tspan font-size="2.0" dy="-1">3</tspan></text>
<line x1="116.908" y1="571.6" x2="116.908" y2="572.9" stroke="#555" stroke-width="0.6"/>
<text x="116.908" y="576.2" font-size="2.9" text-anchor="middle" fill="#444">10<tspan font-size="2.0" dy="-1">4</tspan></text>
<line x1="128.04" y1="571.6" x2="128.04" y2="572.9" stroke="#555" stroke-width="0.6"/>
<text x="128.04" y="576.2" font-size="2.9" text-anchor="middle" fill="#444">10<tspan font-size="2.0" dy="-1">5</tspan></text>
<path d="M87.5 572.2h4" stroke="#444" stroke-width="0.8"/>
<rect x="153.5" y="520.8" width="51.80000000000001" height="50.80000000000007" fill="none" stroke="#999" stroke-width="0.8"/>
<line x1="152.2" y1="526.3879999999999" x2="153.5" y2="526.3879999999999" stroke="#555" stroke-width="0.6"/>
<text x="151.7" y="527.4879999999999" font-size="2.9" text-anchor="end" fill="#444">10<tspan font-size="2.0" dy="-1">5</tspan></text>
<line x1="152.2" y1="537.0559999999999" x2="153.5" y2="537.0559999999999" stroke="#555" stroke-width="0.6"/>
<text x="151.7" y="538.156" font-size="2.9" text-anchor="end" fill="#444">10<tspan font-size="2.0" dy="-1">4</tspan></text>
<line x1="152.2" y1="548.74" x2="153.5" y2="548.74" stroke="#555" stroke-width="0.6"/>
<text x="151.7" y="549.84" font-size="2.9" text-anchor="end" fill="#444">10<tspan font-size="2.0" dy="-1">3</tspan></text>
<line x1="152.2" y1="560.424" x2="153.5" y2="560.424" stroke="#555" stroke-width="0.6"/>
<text x="151.7" y="561.524" font-size="2.9" text-anchor="end" fill="#444">0</text>
<line x1="161.788" y1="571.6" x2="161.788" y2="572.9" stroke="#555" stroke-width="0.6"/>
<text x="161.788" y="576.2" font-size="2.9" text-anchor="middle" fill="#444">0</text>
<line x1="174.22" y1="571.6" x2="174.22" y2="572.9" stroke="#555" stroke-width="0.6"/>
<text x="174.22" y="576.2" font-size="2.9" text-anchor="middle" fill="#444">10<tspan font-size="2.0" dy="-1">3</tspan></text>
<line x1="188.72400000000002" y1="571.6" x2="188.72400000000002" y2="572.9" stroke="#555" stroke-width="0.6"/>
<text x="188.72400000000002" y="576.2" font-size="2.9" text-anchor="middle" fill="#444">10<tspan font-size="2.0" dy="-1">4</tspan></text>
<line x1="200.12" y1="571.6" x2="200.12" y2="572.9" stroke="#555" stroke-width="0.6"/>
<text x="200.12" y="576.2" font-size="2.9" text-anchor="middle" fill="#444">10<tspan font-size="2.0" dy="-1">5</tspan></text>
<path d="M158.5 572.2h4" stroke="#444" stroke-width="0.8"/>
<rect x="227.6" y="520.8" width="51.900000000000006" height="50.80000000000007" fill="none" stroke="#999" stroke-width="0.8"/>
<line x1="226.29999999999998" y1="526.3879999999999" x2="227.6" y2="526.3879999999999" stroke="#555" stroke-width="0.6"/>
<text x="225.79999999999998" y="527.4879999999999" font-size="2.9" text-anchor="end" fill="#444">10<tspan font-size="2.0" dy="-1">5</tspan></text>
<line x1="226.29999999999998" y1="537.0559999999999" x2="227.6" y2="537.0559999999999" stroke="#555" stroke-width="0.6"/>
<text x="225.79999999999998" y="538.156" font-size="2.9" text-anchor="end" fill="#444">10<tspan font-size="2.0" dy="-1">4</tspan></text>
<line x1="226.29999999999998" y1="548.74" x2="227.6" y2="548.74" stroke="#555" stroke-width="0.6"/>
<text x="225.79999999999998" y="549.84" font-size="2.9" text-anchor="end" fill="#444">10<tspan font-size="2.0" dy="-1">3</tspan></text>
<line x1="226.29999999999998" y1="560.424" x2="227.6" y2="560.424" stroke="#555" stroke-width="0.6"/>
<text x="225.79999999999998" y="561.524" font-size="2.9" text-anchor="end" fill="#444">0</text>
<line x1="235.904" y1="571.6" x2="235.904" y2="572.9" stroke="#555" stroke-width="0.6"/>
<text x="235.904" y="576.2" font-size="2.9" text-anchor="middle" fill="#444">0</text>
<line x1="248.36" y1="571.6" x2="248.36" y2="572.9" stroke="#555" stroke-width="0.6"/>
<text x="248.36" y="576.2" font-size="2.9" text-anchor="middle" fill="#444">10<tspan font-size="2.0" dy="-1">3</tspan></text>
<line x1="262.892" y1="571.6" x2="262.892" y2="572.9" stroke="#555" stroke-width="0.6"/>
<text x="262.892" y="576.2" font-size="2.9" text-anchor="middle" fill="#444">10<tspan font-size="2.0" dy="-1">4</tspan></text>
<line x1="274.31" y1="571.6" x2="274.31" y2="572.9" stroke="#555" stroke-width="0.6"/>
<text x="274.31" y="576.2" font-size="2.9" text-anchor="middle" fill="#444">10<tspan font-size="2.0" dy="-1">5</tspan></text>
<path d="M232.6 572.2h4" stroke="#444" stroke-width="0.8"/>
<rect x="82.5" y="583.3" width="50.599999999999994" height="51.10000000000002" fill="none" stroke="#999" stroke-width="0.8"/>
<line x1="81.2" y1="588.9209999999999" x2="82.5" y2="588.9209999999999" stroke="#555" stroke-width="0.6"/>
<text x="80.7" y="590.021" font-size="2.9" text-anchor="end" fill="#444">10<tspan font-size="2.0" dy="-1">5</tspan></text>
<line x1="81.2" y1="599.6519999999999" x2="82.5" y2="599.6519999999999" stroke="#555" stroke-width="0.6"/>
<text x="80.7" y="600.752" font-size="2.9" text-anchor="end" fill="#444">10<tspan font-size="2.0" dy="-1">4</tspan></text>
<line x1="81.2" y1="611.405" x2="82.5" y2="611.405" stroke="#555" stroke-width="0.6"/>
<text x="80.7" y="612.505" font-size="2.9" text-anchor="end" fill="#444">10<tspan font-size="2.0" dy="-1">3</tspan></text>
<line x1="81.2" y1="623.158" x2="82.5" y2="623.158" stroke="#555" stroke-width="0.6"/>
<text x="80.7" y="624.258" font-size="2.9" text-anchor="end" fill="#444">0</text>
<line x1="90.596" y1="634.4" x2="90.596" y2="635.6999999999999" stroke="#555" stroke-width="0.6"/>
<text x="90.596" y="639.0" font-size="2.9" text-anchor="middle" fill="#444">0</text>
<line x1="102.74" y1="634.4" x2="102.74" y2="635.6999999999999" stroke="#555" stroke-width="0.6"/>
<text x="102.74" y="639.0" font-size="2.9" text-anchor="middle" fill="#444">10<tspan font-size="2.0" dy="-1">3</tspan></text>
<line x1="116.908" y1="634.4" x2="116.908" y2="635.6999999999999" stroke="#555" stroke-width="0.6"/>
<text x="116.908" y="639.0" font-size="2.9" text-anchor="middle" fill="#444">10<tspan font-size="2.0" dy="-1">4</tspan></text>
<line x1="128.04" y1="634.4" x2="128.04" y2="635.6999999999999" stroke="#555" stroke-width="0.6"/>
<text x="128.04" y="639.0" font-size="2.9" text-anchor="middle" fill="#444">10<tspan font-size="2.0" dy="-1">5</tspan></text>
<path d="M87.5 635.0h4" stroke="#444" stroke-width="0.8"/>
<rect x="153.5" y="583.3" width="51.80000000000001" height="51.10000000000002" fill="none" stroke="#999" stroke-width="0.8"/>
<line x1="152.2" y1="588.9209999999999" x2="153.5" y2="588.9209999999999" stroke="#555" stroke-width="0.6"/>
<text x="151.7" y="590.021" font-size="2.9" text-anchor="end" fill="#444">10<tspan font-size="2.0" dy="-1">5</tspan></text>
<line x1="152.2" y1="599.6519999999999" x2="153.5" y2="599.6519999999999" stroke="#555" stroke-width="0.6"/>
<text x="151.7" y="600.752" font-size="2.9" text-anchor="end" fill="#444">10<tspan font-size="2.0" dy="-1">4</tspan></text>
<line x1="152.2" y1="611.405" x2="153.5" y2="611.405" stroke="#555" stroke-width="0.6"/>
<text x="151.7" y="612.505" font-size="2.9" text-anchor="end" fill="#444">10<tspan font-size="2.0" dy="-1">3</tspan></text>
<line x1="152.2" y1="623.158" x2="153.5" y2="623.158" stroke="#555" stroke-width="0.6"/>
<text x="151.7" y="624.258" font-size="2.9" text-anchor="end" fill="#444">0</text>
<line x1="161.788" y1="634.4" x2="161.788" y2="635.6999999999999" stroke="#555" stroke-width="0.6"/>
<text x="161.788" y="639.0" font-size="2.9" text-anchor="middle" fill="#444">0</text>
<line x1="174.22" y1="634.4" x2="174.22" y2="635.6999999999999" stroke="#555" stroke-width="0.6"/>
<text x="174.22" y="639.0" font-size="2.9" text-anchor="middle" fill="#444">10<tspan font-size="2.0" dy="-1">3</tspan></text>
<line x1="188.72400000000002" y1="634.4" x2="188.72400000000002" y2="635.6999999999999" stroke="#555" stroke-width="0.6"/>
<text x="188.72400000000002" y="639.0" font-size="2.9" text-anchor="middle" fill="#444">10<tspan font-size="2.0" dy="-1">4</tspan></text>
<line x1="200.12" y1="634.4" x2="200.12" y2="635.6999999999999" stroke="#555" stroke-width="0.6"/>
<text x="200.12" y="639.0" font-size="2.9" text-anchor="middle" fill="#444">10<tspan font-size="2.0" dy="-1">5</tspan></text>
<path d="M158.5 635.0h4" stroke="#444" stroke-width="0.8"/>
<rect x="227.6" y="583.3" width="51.900000000000006" height="51.10000000000002" fill="none" stroke="#999" stroke-width="0.8"/>
<line x1="226.29999999999998" y1="588.9209999999999" x2="227.6" y2="588.9209999999999" stroke="#555" stroke-width="0.6"/>
<text x="225.79999999999998" y="590.021" font-size="2.9" text-anchor="end" fill="#444">10<tspan font-size="2.0" dy="-1">5</tspan></text>
<line x1="226.29999999999998" y1="599.6519999999999" x2="227.6" y2="599.6519999999999" stroke="#555" stroke-width="0.6"/>
<text x="225.79999999999998" y="600.752" font-size="2.9" text-anchor="end" fill="#444">10<tspan font-size="2.0" dy="-1">4</tspan></text>
<line x1="226.29999999999998" y1="611.405" x2="227.6" y2="611.405" stroke="#555" stroke-width="0.6"/>
<text x="225.79999999999998" y="612.505" font-size="2.9" text-anchor="end" fill="#444">10<tspan font-size="2.0" dy="-1">3</tspan></text>
<line x1="226.29999999999998" y1="623.158" x2="227.6" y2="623.158" stroke="#555" stroke-width="0.6"/>
<text x="225.79999999999998" y="624.258" font-size="2.9" text-anchor="end" fill="#444">0</text>
<line x1="235.904" y1="634.4" x2="235.904" y2="635.6999999999999" stroke="#555" stroke-width="0.6"/>
<text x="235.904" y="639.0" font-size="2.9" text-anchor="middle" fill="#444">0</text>
<line x1="248.36" y1="634.4" x2="248.36" y2="635.6999999999999" stroke="#555" stroke-width="0.6"/>
<text x="248.36" y="639.0" font-size="2.9" text-anchor="middle" fill="#444">10<tspan font-size="2.0" dy="-1">3</tspan></text>
<line x1="262.892" y1="634.4" x2="262.892" y2="635.6999999999999" stroke="#555" stroke-width="0.6"/>
<text x="262.892" y="639.0" font-size="2.9" text-anchor="middle" fill="#444">10<tspan font-size="2.0" dy="-1">4</tspan></text>
<line x1="274.31" y1="634.4" x2="274.31" y2="635.6999999999999" stroke="#555" stroke-width="0.6"/>
<text x="274.31" y="639.0" font-size="2.9" text-anchor="middle" fill="#444">10<tspan font-size="2.0" dy="-1">5</tspan></text>
<path d="M232.6 635.0h4" stroke="#444" stroke-width="0.8"/>
<rect x="82.5" y="645" width="50.599999999999994" height="51" fill="none" stroke="#999" stroke-width="0.8"/>
<line x1="81.2" y1="650.61" x2="82.5" y2="650.61" stroke="#555" stroke-width="0.6"/>
<text x="80.7" y="651.71" font-size="2.9" text-anchor="end" fill="#444">10<tspan font-size="2.0" dy="-1">5</tspan></text>
<line x1="81.2" y1="661.32" x2="82.5" y2="661.32" stroke="#555" stroke-width="0.6"/>
<text x="80.7" y="662.4200000000001" font-size="2.9" text-anchor="end" fill="#444">10<tspan font-size="2.0" dy="-1">4</tspan></text>
<line x1="81.2" y1="673.05" x2="82.5" y2="673.05" stroke="#555" stroke-width="0.6"/>
<text x="80.7" y="674.15" font-size="2.9" text-anchor="end" fill="#444">10<tspan font-size="2.0" dy="-1">3</tspan></text>
<line x1="81.2" y1="684.78" x2="82.5" y2="684.78" stroke="#555" stroke-width="0.6"/>
<text x="80.7" y="685.88" font-size="2.9" text-anchor="end" fill="#444">0</text>
<line x1="90.596" y1="696" x2="90.596" y2="697.3" stroke="#555" stroke-width="0.6"/>
<text x="90.596" y="700.6" font-size="2.9" text-anchor="middle" fill="#444">0</text>
<line x1="102.74" y1="696" x2="102.74" y2="697.3" stroke="#555" stroke-width="0.6"/>
<text x="102.74" y="700.6" font-size="2.9" text-anchor="middle" fill="#444">10<tspan font-size="2.0" dy="-1">3</tspan></text>
<line x1="116.908" y1="696" x2="116.908" y2="697.3" stroke="#555" stroke-width="0.6"/>
<text x="116.908" y="700.6" font-size="2.9" text-anchor="middle" fill="#444">10<tspan font-size="2.0" dy="-1">4</tspan></text>
<line x1="128.04" y1="696" x2="128.04" y2="697.3" stroke="#555" stroke-width="0.6"/>
<text x="128.04" y="700.6" font-size="2.9" text-anchor="middle" fill="#444">10<tspan font-size="2.0" dy="-1">5</tspan></text>
<path d="M87.5 696.6h4" stroke="#444" stroke-width="0.8"/>
<rect x="153.5" y="645" width="51.80000000000001" height="51" fill="none" stroke="#999" stroke-width="0.8"/>
<line x1="152.2" y1="650.61" x2="153.5" y2="650.61" stroke="#555" stroke-width="0.6"/>
<text x="151.7" y="651.71" font-size="2.9" text-anchor="end" fill="#444">10<tspan font-size="2.0" dy="-1">5</tspan></text>
<line x1="152.2" y1="661.32" x2="153.5" y2="661.32" stroke="#555" stroke-width="0.6"/>
<text x="151.7" y="662.4200000000001" font-size="2.9" text-anchor="end" fill="#444">10<tspan font-size="2.0" dy="-1">4</tspan></text>
<line x1="152.2" y1="673.05" x2="153.5" y2="673.05" stroke="#555" stroke-width="0.6"/>
<text x="151.7" y="674.15" font-size="2.9" text-anchor="end" fill="#444">10<tspan font-size="2.0" dy="-1">3</tspan></text>
<line x1="152.2" y1="684.78" x2="153.5" y2="684.78" stroke="#555" stroke-width="0.6"/>
<text x="151.7" y="685.88" font-size="2.9" text-anchor="end" fill="#444">0</text>
<line x1="161.788" y1="696" x2="161.788" y2="697.3" stroke="#555" stroke-width="0.6"/>
<text x="161.788" y="700.6" font-size="2.9" text-anchor="middle" fill="#444">0</text>
<line x1="174.22" y1="696" x2="174.22" y2="697.3" stroke="#555" stroke-width="0.6"/>
<text x="174.22" y="700.6" font-size="2.9" text-anchor="middle" fill="#444">10<tspan font-size="2.0" dy="-1">3</tspan></text>
<line x1="188.72400000000002" y1="696" x2="188.72400000000002" y2="697.3" stroke="#555" stroke-width="0.6"/>
<text x="188.72400000000002" y="700.6" font-size="2.9" text-anchor="middle" fill="#444">10<tspan font-size="2.0" dy="-1">4</tspan></text>
<line x1="200.12" y1="696" x2="200.12" y2="697.3" stroke="#555" stroke-width="0.6"/>
<text x="200.12" y="700.6" font-size="2.9" text-anchor="middle" fill="#444">10<tspan font-size="2.0" dy="-1">5</tspan></text>
<path d="M158.5 696.6h4" stroke="#444" stroke-width="0.8"/>
<rect x="227.6" y="645" width="51.900000000000006" height="51" fill="none" stroke="#999" stroke-width="0.8"/>
<line x1="226.29999999999998" y1="650.61" x2="227.6" y2="650.61" stroke="#555" stroke-width="0.6"/>
<text x="225.79999999999998" y="651.71" font-size="2.9" text-anchor="end" fill="#444">10<tspan font-size="2.0" dy="-1">5</tspan></text>
<line x1="226.29999999999998" y1="661.32" x2="227.6" y2="661.32" stroke="#555" stroke-width="0.6"/>
<text x="225.79999999999998" y="662.4200000000001" font-size="2.9" text-anchor="end" fill="#444">10<tspan font-size="2.0" dy="-1">4</tspan></text>
<line x1="226.29999999999998" y1="673.05" x2="227.6" y2="673.05" stroke="#555" stroke-width="0.6"/>
<text x="225.79999999999998" y="674.15" font-size="2.9" text-anchor="end" fill="#444">10<tspan font-size="2.0" dy="-1">3</tspan></text>
<line x1="226.29999999999998" y1="684.78" x2="227.6" y2="684.78" stroke="#555" stroke-width="0.6"/>
<text x="225.79999999999998" y="685.88" font-size="2.9" text-anchor="end" fill="#444">0</text>
<line x1="235.904" y1="696" x2="235.904" y2="697.3" stroke="#555" stroke-width="0.6"/>
<text x="235.904" y="700.6" font-size="2.9" text-anchor="middle" fill="#444">0</text>
<line x1="248.36" y1="696" x2="248.36" y2="697.3" stroke="#555" stroke-width="0.6"/>
<text x="248.36" y="700.6" font-size="2.9" text-anchor="middle" fill="#444">10<tspan font-size="2.0" dy="-1">3</tspan></text>
<line x1="262.892" y1="696" x2="262.892" y2="697.3" stroke="#555" stroke-width="0.6"/>
<text x="262.892" y="700.6" font-size="2.9" text-anchor="middle" fill="#444">10<tspan font-size="2.0" dy="-1">4</tspan></text>
<line x1="274.31" y1="696" x2="274.31" y2="697.3" stroke="#555" stroke-width="0.6"/>
<text x="274.31" y="700.6" font-size="2.9" text-anchor="middle" fill="#444">10<tspan font-size="2.0" dy="-1">5</tspan></text>
<path d="M232.6 696.6h4" stroke="#444" stroke-width="0.8"/>
<path d="M93.8 540.7h0.8v0.8h-0.8zM102.2 538.8h0.8v0.8h-0.8zM96.4 538.7h0.8v0.8h-0.8zM97.6 539.9h0.8v0.8h-0.8zM95.0 536.7h0.8v0.8h-0.8zM105.1 537.9h0.8v0.8h-0.8zM96.8 540.2h0.8v0.8h-0.8zM92.2 537.6h0.8v0.8h-0.8zM93.3 541.2h0.8v0.8h-0.8zM106.3 537.9h0.8v0.8h-0.8zM97.3 541.5h0.8v0.8h-0.8zM88.8 535.7h0.8v0.8h-0.8zM90.4 537.6h0.8v0.8h-0.8zM104.9 537.5h0.8v0.8h-0.8zM98.1 539.9h0.8v0.8h-0.8zM97.3 540.5h0.8v0.8h-0.8zM96.6 534.4h0.8v0.8h-0.8zM97.3 535.8h0.8v0.8h-0.8zM102.6 538.8h0.8v0.8h-0.8zM100.9 536.4h0.8v0.8h-0.8zM98.5 534.3h0.8v0.8h-0.8zM89.7 540.5h0.8v0.8h-0.8zM100.6 539.2h0.8v0.8h-0.8zM92.2 539.2h0.8v0.8h-0.8zM104.7 536.9h0.8v0.8h-0.8zM88.1 540.5h0.8v0.8h-0.8zM96.0 537.4h0.8v0.8h-0.8zM96.9 540.6h0.8v0.8h-0.8zM87.7 535.8h0.8v0.8h-0.8zM109.1 536.0h0.8v0.8h-0.8zM107.2 538.5h0.8v0.8h-0.8zM93.8 536.3h0.8v0.8h-0.8zM102.4 539.6h0.8v0.8h-0.8zM99.7 538.6h0.8v0.8h-0.8zM98.8 538.2h0.8v0.8h-0.8zM96.6 537.2h0.8v0.8h-0.8zM97.6 540.2h0.8v0.8h-0.8zM89.5 536.5h0.8v0.8h-0.8zM95.1 536.9h0.8v0.8h-0.8zM95.8 540.9h0.8v0.8h-0.8zM105.3 543.4h0.8v0.8h-0.8zM99.3 542.8h0.8v0.8h-0.8zM97.0 538.2h0.8v0.8h-0.8zM107.7 538.5h0.8v0.8h-0.8zM93.1 541.7h0.8v0.8h-0.8zM94.3 537.7h0.8v0.8h-0.8zM84.3 535.7h0.8v0.8h-0.8zM108.0 538.3h0.8v0.8h-0.8zM103.8 539.1h0.8v0.8h-0.8zM103.4 536.0h0.8v0.8h-0.8zM101.7 534.0h0.8v0.8h-0.8zM97.8 534.6h0.8v0.8h-0.8zM98.5 539.6h0.8v0.8h-0.8zM95.2 536.2h0.8v0.8h-0.8zM95.6 537.7h0.8v0.8h-0.8zM97.4 538.5h0.8v0.8h-0.8zM107.6 539.5h0.8v0.8h-0.8zM100.9 537.2h0.8v0.8h-0.8zM96.6 539.2h0.8v0.8h-0.8zM92.9 535.9h0.8v0.8h-0.8zM92.6 537.1h0.8v0.8h-0.8zM108.2 535.5h0.8v0.8h-0.8zM100.5 540.7h0.8v0.8h-0.8zM97.5 537.9h0.8v0.8h-0.8zM94.6 536.2h0.8v0.8h-0.8zM89.2 537.2h0.8v0.8h-0.8zM96.5 537.5h0.8v0.8h-0.8zM103.1 539.7h0.8v0.8h-0.8zM94.3 534.2h0.8v0.8h-0.8zM95.4 535.5h0.8v0.8h-0.8zM95.5 537.1h0.8v0.8h-0.8zM97.8 544.1h0.8v0.8h-0.8zM85.8 540.3h0.8v0.8h-0.8zM95.4 537.7h0.8v0.8h-0.8zM91.0 539.7h0.8v0.8h-0.8zM103.2 542.9h0.8v0.8h-0.8zM91.6 537.4h0.8v0.8h-0.8zM101.0 537.1h0.8v0.8h-0.8zM107.7 540.9h0.8v0.8h-0.8zM94.8 539.2h0.8v0.8h-0.8zM92.8 539.6h0.8v0.8h-0.8zM98.3 536.8h0.8v0.8h-0.8zM97.0 542.6h0.8v0.8h-0.8zM90.0 542.1h0.8v0.8h-0.8zM100.2 539.4h0.8v0.8h-0.8zM111.1 539.6h0.8v0.8h-0.8zM95.2 533.1h0.8v0.8h-0.8zM95.6 539.5h0.8v0.8h-0.8zM89.7 537.5h0.8v0.8h-0.8zM99.2 539.0h0.8v0.8h-0.8zM88.3 539.6h0.8v0.8h-0.8zM89.3 537.2h0.8v0.8h-0.8zM106.0 533.9h0.8v0.8h-0.8zM90.7 538.9h0.8v0.8h-0.8zM104.6 536.2h0.8v0.8h-0.8zM107.7 537.2h0.8v0.8h-0.8zM98.8 536.5h0.8v0.8h-0.8zM100.9 537.2h0.8v0.8h-0.8zM110.7 532.5h0.8v0.8h-0.8zM95.6 540.9h0.8v0.8h-0.8zM92.8 538.6h0.8v0.8h-0.8zM87.5 540.7h0.8v0.8h-0.8zM97.3 542.8h0.8v0.8h-0.8zM107.4 538.1h0.8v0.8h-0.8zM103.7 533.7h0.8v0.8h-0.8zM90.4 535.9h0.8v0.8h-0.8zM91.0 535.1h0.8v0.8h-0.8zM93.5 536.8h0.8v0.8h-0.8zM99.0 538.2h0.8v0.8h-0.8zM95.6 533.2h0.8v0.8h-0.8zM98.5 538.8h0.8v0.8h-0.8zM99.1 534.4h0.8v0.8h-0.8zM94.9 538.7h0.8v0.8h-0.8zM96.7 537.7h0.8v0.8h-0.8zM98.4 537.2h0.8v0.8h-0.8zM96.4 537.8h0.8v0.8h-0.8zM100.5 536.7h0.8v0.8h-0.8zM110.1 536.5h0.8v0.8h-0.8zM101.1 534.0h0.8v0.8h-0.8zM97.4 537.9h0.8v0.8h-0.8zM85.2 542.4h0.8v0.8h-0.8zM99.7 542.8h0.8v0.8h-0.8zM83.4 541.2h0.8v0.8h-0.8zM87.1 539.7h0.8v0.8h-0.8zM103.0 536.4h0.8v0.8h-0.8zM101.9 541.5h0.8v0.8h-0.8zM96.0 537.9h0.8v0.8h-0.8zM85.0 537.8h0.8v0.8h-0.8zM94.4 537.3h0.8v0.8h-0.8zM92.2 538.2h0.8v0.8h-0.8zM101.5 537.0h0.8v0.8h-0.8zM112.8 537.8h0.8v0.8h-0.8zM98.5 535.4h0.8v0.8h-0.8zM91.5 537.1h0.8v0.8h-0.8zM88.8 543.5h0.8v0.8h-0.8zM96.6 537.8h0.8v0.8h-0.8zM95.8 537.4h0.8v0.8h-0.8zM88.9 539.3h0.8v0.8h-0.8zM97.8 539.7h0.8v0.8h-0.8zM88.9 535.3h0.8v0.8h-0.8zM104.8 537.5h0.8v0.8h-0.8zM104.4 540.2h0.8v0.8h-0.8zM104.6 538.6h0.8v0.8h-0.8zM93.7 538.3h0.8v0.8h-0.8zM100.6 541.7h0.8v0.8h-0.8zM96.1 536.4h0.8v0.8h-0.8zM94.3 538.2h0.8v0.8h-0.8zM94.6 536.8h0.8v0.8h-0.8zM87.9 541.6h0.8v0.8h-0.8zM86.9 533.3h0.8v0.8h-0.8zM102.6 536.4h0.8v0.8h-0.8zM95.7 536.7h0.8v0.8h-0.8zM98.5 539.6h0.8v0.8h-0.8zM104.0 539.5h0.8v0.8h-0.8zM84.9 541.3h0.8v0.8h-0.8zM91.5 534.2h0.8v0.8h-0.8zM98.2 539.8h0.8v0.8h-0.8zM99.7 537.3h0.8v0.8h-0.8zM94.4 536.4h0.8v0.8h-0.8zM104.2 539.3h0.8v0.8h-0.8zM98.5 535.8h0.8v0.8h-0.8zM88.5 533.0h0.8v0.8h-0.8zM90.5 537.1h0.8v0.8h-0.8zM102.6 534.4h0.8v0.8h-0.8zM100.2 536.4h0.8v0.8h-0.8zM83.7 538.9h0.8v0.8h-0.8zM106.4 538.7h0.8v0.8h-0.8zM101.2 541.8h0.8v0.8h-0.8zM106.4 537.5h0.8v0.8h-0.8zM94.3 534.3h0.8v0.8h-0.8zM94.9 536.2h0.8v0.8h-0.8zM89.1 535.8h0.8v0.8h-0.8zM114.8 535.1h0.8v0.8h-0.8zM95.8 539.0h0.8v0.8h-0.8zM108.1 536.5h0.8v0.8h-0.8zM92.5 533.3h0.8v0.8h-0.8zM98.1 539.7h0.8v0.8h-0.8zM85.3 537.7h0.8v0.8h-0.8zM94.3 538.9h0.8v0.8h-0.8zM103.9 538.3h0.8v0.8h-0.8zM88.2 539.5h0.8v0.8h-0.8zM104.5 538.1h0.8v0.8h-0.8zM99.4 541.0h0.8v0.8h-0.8zM89.7 539.0h0.8v0.8h-0.8zM93.5 538.9h0.8v0.8h-0.8zM93.8 539.0h0.8v0.8h-0.8zM96.7 534.5h0.8v0.8h-0.8zM93.2 537.6h0.8v0.8h-0.8zM91.2 537.4h0.8v0.8h-0.8zM94.9 538.5h0.8v0.8h-0.8zM89.8 534.7h0.8v0.8h-0.8zM88.0 541.9h0.8v0.8h-0.8zM96.7 538.3h0.8v0.8h-0.8zM103.2 535.1h0.8v0.8h-0.8zM86.3 533.9h0.8v0.8h-0.8zM97.0 537.3h0.8v0.8h-0.8zM92.5 537.8h0.8v0.8h-0.8zM90.2 536.3h0.8v0.8h-0.8zM103.0 538.2h0.8v0.8h-0.8zM93.4 536.5h0.8v0.8h-0.8zM107.5 539.3h0.8v0.8h-0.8zM91.5 536.3h0.8v0.8h-0.8zM99.7 537.9h0.8v0.8h-0.8zM95.4 540.3h0.8v0.8h-0.8zM91.7 544.2h0.8v0.8h-0.8zM101.1 535.6h0.8v0.8h-0.8zM95.9 536.9h0.8v0.8h-0.8zM101.2 536.0h0.8v0.8h-0.8zM96.7 539.9h0.8v0.8h-0.8zM89.4 535.2h0.8v0.8h-0.8zM96.3 536.8h0.8v0.8h-0.8zM97.4 537.9h0.8v0.8h-0.8zM103.7 535.7h0.8v0.8h-0.8zM90.7 535.7h0.8v0.8h-0.8zM96.7 536.9h0.8v0.8h-0.8zM84.9 533.0h0.8v0.8h-0.8zM101.6 534.5h0.8v0.8h-0.8zM89.4 537.0h0.8v0.8h-0.8zM84.4 538.4h0.8v0.8h-0.8zM96.6 537.6h0.8v0.8h-0.8zM104.7 533.7h0.8v0.8h-0.8zM86.3 536.9h0.8v0.8h-0.8zM89.4 539.9h0.8v0.8h-0.8zM91.8 539.3h0.8v0.8h-0.8zM89.1 537.8h0.8v0.8h-0.8zM99.7 535.9h0.8v0.8h-0.8zM91.3 539.5h0.8v0.8h-0.8zM91.9 536.6h0.8v0.8h-0.8zM101.1 535.2h0.8v0.8h-0.8zM91.7 536.1h0.8v0.8h-0.8zM100.0 541.5h0.8v0.8h-0.8zM90.2 538.5h0.8v0.8h-0.8zM88.5 540.8h0.8v0.8h-0.8zM84.2 536.8h0.8v0.8h-0.8zM110.0 540.3h0.8v0.8h-0.8zM94.8 536.6h0.8v0.8h-0.8zM98.7 537.6h0.8v0.8h-0.8zM96.8 544.0h0.8v0.8h-0.8zM98.1 539.8h0.8v0.8h-0.8zM97.3 536.8h0.8v0.8h-0.8zM110.4 537.8h0.8v0.8h-0.8zM89.7 538.8h0.8v0.8h-0.8zM86.1 540.9h0.8v0.8h-0.8zM89.9 536.8h0.8v0.8h-0.8zM87.7 533.8h0.8v0.8h-0.8zM102.2 537.3h0.8v0.8h-0.8zM102.7 538.0h0.8v0.8h-0.8zM90.3 538.3h0.8v0.8h-0.8zM87.3 541.2h0.8v0.8h-0.8zM94.5 538.8h0.8v0.8h-0.8zM106.7 540.0h0.8v0.8h-0.8zM100.7 540.1h0.8v0.8h-0.8zM89.5 543.0h0.8v0.8h-0.8zM104.3 539.9h0.8v0.8h-0.8zM89.5 538.6h0.8v0.8h-0.8zM95.0 538.4h0.8v0.8h-0.8zM86.5 542.3h0.8v0.8h-0.8zM90.2 535.8h0.8v0.8h-0.8zM106.7 537.7h0.8v0.8h-0.8zM102.7 539.1h0.8v0.8h-0.8zM94.2 539.8h0.8v0.8h-0.8zM90.9 537.0h0.8v0.8h-0.8zM83.7 538.7h0.8v0.8h-0.8zM94.2 537.3h0.8v0.8h-0.8zM96.8 538.3h0.8v0.8h-0.8zM96.4 537.7h0.8v0.8h-0.8zM96.3 535.3h0.8v0.8h-0.8zM89.1 537.9h0.8v0.8h-0.8zM96.5 540.1h0.8v0.8h-0.8zM96.7 535.7h0.8v0.8h-0.8zM106.0 537.4h0.8v0.8h-0.8zM110.1 539.6h0.8v0.8h-0.8zM96.0 535.4h0.8v0.8h-0.8zM91.6 538.4h0.8v0.8h-0.8zM96.5 535.5h0.8v0.8h-0.8zM92.7 540.7h0.8v0.8h-0.8zM91.8 543.6h0.8v0.8h-0.8zM96.6 542.9h0.8v0.8h-0.8zM89.7 537.5h0.8v0.8h-0.8zM101.2 539.8h0.8v0.8h-0.8zM96.3 538.3h0.8v0.8h-0.8zM98.8 538.2h0.8v0.8h-0.8zM95.7 541.7h0.8v0.8h-0.8zM91.9 534.8h0.8v0.8h-0.8zM90.4 540.5h0.8v0.8h-0.8zM95.3 537.9h0.8v0.8h-0.8zM93.2 541.4h0.8v0.8h-0.8zM98.6 538.4h0.8v0.8h-0.8zM97.0 536.4h0.8v0.8h-0.8zM87.5 538.7h0.8v0.8h-0.8zM97.5 539.8h0.8v0.8h-0.8zM87.6 538.1h0.8v0.8h-0.8zM92.7 539.2h0.8v0.8h-0.8zM94.9 536.7h0.8v0.8h-0.8zM97.6 540.2h0.8v0.8h-0.8zM98.1 539.7h0.8v0.8h-0.8zM95.9 538.4h0.8v0.8h-0.8zM94.0 538.2h0.8v0.8h-0.8zM94.4 540.5h0.8v0.8h-0.8zM90.2 536.9h0.8v0.8h-0.8zM95.1 536.3h0.8v0.8h-0.8zM93.1 537.5h0.8v0.8h-0.8zM97.6 540.9h0.8v0.8h-0.8zM88.6 534.7h0.8v0.8h-0.8zM98.6 540.9h0.8v0.8h-0.8zM98.0 536.5h0.8v0.8h-0.8zM96.0 535.4h0.8v0.8h-0.8zM93.9 541.0h0.8v0.8h-0.8zM100.9 537.8h0.8v0.8h-0.8zM85.3 534.9h0.8v0.8h-0.8zM100.2 537.1h0.8v0.8h-0.8zM98.7 540.2h0.8v0.8h-0.8zM99.0 540.9h0.8v0.8h-0.8zM99.7 537.0h0.8v0.8h-0.8zM92.4 539.0h0.8v0.8h-0.8zM95.2 539.7h0.8v0.8h-0.8zM101.5 536.5h0.8v0.8h-0.8zM100.0 538.9h0.8v0.8h-0.8zM98.4 537.9h0.8v0.8h-0.8zM86.4 536.7h0.8v0.8h-0.8zM100.8 536.8h0.8v0.8h-0.8zM105.2 538.2h0.8v0.8h-0.8zM104.1 538.1h0.8v0.8h-0.8zM98.6 536.6h0.8v0.8h-0.8zM86.1 537.0h0.8v0.8h-0.8zM103.6 540.7h0.8v0.8h-0.8zM96.0 538.5h0.8v0.8h-0.8zM99.6 540.9h0.8v0.8h-0.8zM86.6 539.4h0.8v0.8h-0.8zM87.9 543.5h0.8v0.8h-0.8zM92.6 536.0h0.8v0.8h-0.8zM105.9 539.9h0.8v0.8h-0.8zM94.4 537.2h0.8v0.8h-0.8zM98.9 542.5h0.8v0.8h-0.8zM109.2 542.1h0.8v0.8h-0.8zM108.2 533.3h0.8v0.8h-0.8zM96.3 535.7h0.8v0.8h-0.8zM95.3 539.6h0.8v0.8h-0.8zM88.2 539.9h0.8v0.8h-0.8zM92.1 539.8h0.8v0.8h-0.8zM100.0 537.8h0.8v0.8h-0.8zM99.8 539.1h0.8v0.8h-0.8zM97.8 539.6h0.8v0.8h-0.8zM104.0 537.8h0.8v0.8h-0.8zM91.6 540.5h0.8v0.8h-0.8zM96.6 532.6h0.8v0.8h-0.8zM102.1 539.5h0.8v0.8h-0.8zM101.1 535.5h0.8v0.8h-0.8zM104.5 540.3h0.8v0.8h-0.8zM99.8 537.5h0.8v0.8h-0.8zM94.8 535.9h0.8v0.8h-0.8zM99.5 538.9h0.8v0.8h-0.8zM90.0 535.8h0.8v0.8h-0.8zM85.5 535.8h0.8v0.8h-0.8zM101.1 534.2h0.8v0.8h-0.8zM96.6 537.9h0.8v0.8h-0.8zM99.2 539.2h0.8v0.8h-0.8zM85.1 540.5h0.8v0.8h-0.8zM94.4 537.7h0.8v0.8h-0.8zM92.8 540.5h0.8v0.8h-0.8zM91.0 538.0h0.8v0.8h-0.8zM94.7 539.4h0.8v0.8h-0.8zM103.3 540.5h0.8v0.8h-0.8zM99.7 537.2h0.8v0.8h-0.8zM92.8 537.4h0.8v0.8h-0.8zM96.9 537.6h0.8v0.8h-0.8zM102.3 538.2h0.8v0.8h-0.8zM96.1 540.5h0.8v0.8h-0.8zM100.8 537.0h0.8v0.8h-0.8zM101.8 539.1h0.8v0.8h-0.8zM108.9 536.0h0.8v0.8h-0.8z" fill="#444" fill-opacity="0.45"/>
<path d="M103.2 550.6h0.8v0.8h-0.8zM103.5 554.3h0.8v0.8h-0.8zM96.2 545.1h0.8v0.8h-0.8zM118.2 543.1h0.8v0.8h-0.8zM103.3 538.2h0.8v0.8h-0.8zM116.0 542.4h0.8v0.8h-0.8zM108.6 551.2h0.8v0.8h-0.8zM94.0 548.3h0.8v0.8h-0.8zM96.6 541.9h0.8v0.8h-0.8zM103.9 545.8h0.8v0.8h-0.8zM100.6 548.2h0.8v0.8h-0.8zM100.4 551.0h0.8v0.8h-0.8zM97.4 544.4h0.8v0.8h-0.8zM83.7 546.5h0.8v0.8h-0.8zM98.0 537.1h0.8v0.8h-0.8zM103.3 557.7h0.8v0.8h-0.8zM93.5 534.9h0.8v0.8h-0.8zM93.6 546.0h0.8v0.8h-0.8zM98.0 549.3h0.8v0.8h-0.8zM102.5 545.8h0.8v0.8h-0.8zM87.1 543.2h0.8v0.8h-0.8zM84.3 547.6h0.8v0.8h-0.8zM90.4 548.0h0.8v0.8h-0.8zM91.3 536.7h0.8v0.8h-0.8zM114.3 547.1h0.8v0.8h-0.8zM90.5 542.9h0.8v0.8h-0.8zM105.9 544.7h0.8v0.8h-0.8zM87.7 549.4h0.8v0.8h-0.8zM102.7 551.8h0.8v0.8h-0.8zM97.1 553.4h0.8v0.8h-0.8zM99.5 545.0h0.8v0.8h-0.8zM105.1 553.5h0.8v0.8h-0.8zM115.8 555.0h0.8v0.8h-0.8zM101.8 554.8h0.8v0.8h-0.8zM101.1 556.3h0.8v0.8h-0.8zM91.2 547.1h0.8v0.8h-0.8zM105.3 547.0h0.8v0.8h-0.8zM97.8 553.0h0.8v0.8h-0.8zM107.5 539.8h0.8v0.8h-0.8zM99.6 549.3h0.8v0.8h-0.8zM115.7 544.8h0.8v0.8h-0.8zM97.3 537.6h0.8v0.8h-0.8zM107.9 542.7h0.8v0.8h-0.8zM96.8 547.9h0.8v0.8h-0.8zM92.9 553.3h0.8v0.8h-0.8zM97.6 553.9h0.8v0.8h-0.8zM87.6 547.5h0.8v0.8h-0.8zM101.1 546.9h0.8v0.8h-0.8zM122.0 543.0h0.8v0.8h-0.8zM110.3 550.4h0.8v0.8h-0.8zM90.0 546.5h0.8v0.8h-0.8zM92.1 551.6h0.8v0.8h-0.8zM96.4 558.5h0.8v0.8h-0.8zM109.0 547.8h0.8v0.8h-0.8zM92.6 539.0h0.8v0.8h-0.8zM93.8 542.8h0.8v0.8h-0.8zM108.0 539.3h0.8v0.8h-0.8zM107.8 540.8h0.8v0.8h-0.8zM96.6 555.8h0.8v0.8h-0.8zM89.9 549.4h0.8v0.8h-0.8zM86.1 538.9h0.8v0.8h-0.8zM93.7 551.9h0.8v0.8h-0.8zM106.7 545.8h0.8v0.8h-0.8zM94.3 543.9h0.8v0.8h-0.8zM104.3 546.0h0.8v0.8h-0.8zM116.8 549.7h0.8v0.8h-0.8zM110.6 551.8h0.8v0.8h-0.8zM89.6 555.1h0.8v0.8h-0.8zM107.8 555.3h0.8v0.8h-0.8zM110.4 555.1h0.8v0.8h-0.8zM93.3 556.2h0.8v0.8h-0.8zM91.4 552.0h0.8v0.8h-0.8zM99.0 538.8h0.8v0.8h-0.8zM85.6 547.2h0.8v0.8h-0.8zM113.2 549.9h0.8v0.8h-0.8zM90.0 553.5h0.8v0.8h-0.8zM97.6 545.8h0.8v0.8h-0.8zM98.0 542.4h0.8v0.8h-0.8zM101.5 556.7h0.8v0.8h-0.8zM102.4 552.0h0.8v0.8h-0.8zM98.1 549.3h0.8v0.8h-0.8zM110.2 553.6h0.8v0.8h-0.8zM100.0 550.0h0.8v0.8h-0.8zM93.6 533.3h0.8v0.8h-0.8zM101.2 543.9h0.8v0.8h-0.8zM102.0 545.3h0.8v0.8h-0.8zM91.8 542.1h0.8v0.8h-0.8zM94.2 549.2h0.8v0.8h-0.8zM107.1 555.2h0.8v0.8h-0.8zM103.1 545.1h0.8v0.8h-0.8zM93.9 541.2h0.8v0.8h-0.8zM118.4 560.2h0.8v0.8h-0.8zM120.8 545.3h0.8v0.8h-0.8zM86.8 540.6h0.8v0.8h-0.8zM102.7 549.4h0.8v0.8h-0.8zM122.6 550.6h0.8v0.8h-0.8zM107.1 543.8h0.8v0.8h-0.8zM102.0 552.7h0.8v0.8h-0.8zM98.1 545.1h0.8v0.8h-0.8zM95.1 542.5h0.8v0.8h-0.8zM98.1 549.1h0.8v0.8h-0.8zM95.0 552.6h0.8v0.8h-0.8zM106.7 544.2h0.8v0.8h-0.8zM96.4 550.0h0.8v0.8h-0.8zM96.0 547.4h0.8v0.8h-0.8zM89.2 564.9h0.8v0.8h-0.8zM99.6 543.7h0.8v0.8h-0.8zM92.0 556.3h0.8v0.8h-0.8zM98.4 547.7h0.8v0.8h-0.8zM109.4 547.2h0.8v0.8h-0.8zM103.3 552.3h0.8v0.8h-0.8zM104.5 553.4h0.8v0.8h-0.8zM103.2 555.6h0.8v0.8h-0.8zM100.5 550.0h0.8v0.8h-0.8zM98.9 544.4h0.8v0.8h-0.8zM97.2 544.8h0.8v0.8h-0.8zM106.8 551.1h0.8v0.8h-0.8zM90.2 551.5h0.8v0.8h-0.8zM112.1 556.4h0.8v0.8h-0.8zM100.3 550.5h0.8v0.8h-0.8zM93.3 554.4h0.8v0.8h-0.8zM95.6 557.1h0.8v0.8h-0.8zM93.9 549.0h0.8v0.8h-0.8zM101.4 539.1h0.8v0.8h-0.8zM93.5 540.9h0.8v0.8h-0.8zM110.3 539.4h0.8v0.8h-0.8zM93.0 557.5h0.8v0.8h-0.8zM93.4 555.4h0.8v0.8h-0.8zM99.6 558.3h0.8v0.8h-0.8zM109.5 554.0h0.8v0.8h-0.8zM105.8 547.4h0.8v0.8h-0.8zM88.0 546.8h0.8v0.8h-0.8zM93.1 548.5h0.8v0.8h-0.8zM116.0 549.1h0.8v0.8h-0.8zM102.9 544.8h0.8v0.8h-0.8zM100.0 547.8h0.8v0.8h-0.8zM109.5 557.7h0.8v0.8h-0.8zM122.1 537.8h0.8v0.8h-0.8zM111.7 549.6h0.8v0.8h-0.8zM101.3 542.6h0.8v0.8h-0.8zM103.2 549.1h0.8v0.8h-0.8zM105.6 553.0h0.8v0.8h-0.8zM94.5 547.7h0.8v0.8h-0.8zM90.5 552.6h0.8v0.8h-0.8zM100.5 538.5h0.8v0.8h-0.8zM91.5 554.6h0.8v0.8h-0.8zM99.4 544.4h0.8v0.8h-0.8zM100.9 551.7h0.8v0.8h-0.8zM121.1 549.1h0.8v0.8h-0.8zM92.3 532.5h0.8v0.8h-0.8zM98.9 543.5h0.8v0.8h-0.8zM98.5 549.3h0.8v0.8h-0.8z" fill="#999" fill-opacity="0.35"/>
<ellipse cx="96" cy="538" rx="8" ry="2.3" fill="#000" fill-opacity="0.3" transform="rotate(0 96 538)" filter="url(#b12)"/>
<path d="M115.5 558.0h0.8v0.8h-0.8zM102.9 558.1h0.8v0.8h-0.8zM102.6 561.4h0.8v0.8h-0.8zM85.9 557.9h0.8v0.8h-0.8zM114.3 560.9h0.8v0.8h-0.8zM118.1 561.7h0.8v0.8h-0.8zM100.3 558.4h0.8v0.8h-0.8zM97.8 560.9h0.8v0.8h-0.8zM83.8 565.2h0.8v0.8h-0.8zM108.8 561.4h0.8v0.8h-0.8zM127.0 558.7h0.8v0.8h-0.8zM107.2 560.3h0.8v0.8h-0.8zM112.6 557.9h0.8v0.8h-0.8zM105.4 561.3h0.8v0.8h-0.8zM90.1 563.0h0.8v0.8h-0.8zM113.4 558.2h0.8v0.8h-0.8zM87.7 559.9h0.8v0.8h-0.8zM97.9 563.7h0.8v0.8h-0.8zM102.8 559.1h0.8v0.8h-0.8zM108.8 561.0h0.8v0.8h-0.8zM104.2 557.6h0.8v0.8h-0.8zM103.9 558.2h0.8v0.8h-0.8zM92.4 559.0h0.8v0.8h-0.8zM87.1 566.6h0.8v0.8h-0.8zM100.6 559.4h0.8v0.8h-0.8zM92.9 559.0h0.8v0.8h-0.8zM86.9 558.9h0.8v0.8h-0.8zM87.3 560.0h0.8v0.8h-0.8zM95.1 562.3h0.8v0.8h-0.8zM86.5 566.3h0.8v0.8h-0.8zM83.6 561.1h0.8v0.8h-0.8zM101.8 564.6h0.8v0.8h-0.8zM104.1 561.3h0.8v0.8h-0.8zM120.1 562.2h0.8v0.8h-0.8zM85.0 556.5h0.8v0.8h-0.8zM93.2 560.1h0.8v0.8h-0.8zM109.1 560.3h0.8v0.8h-0.8zM97.8 559.8h0.8v0.8h-0.8zM96.7 554.5h0.8v0.8h-0.8zM117.1 563.0h0.8v0.8h-0.8zM96.6 559.4h0.8v0.8h-0.8zM88.4 559.3h0.8v0.8h-0.8zM86.8 559.8h0.8v0.8h-0.8zM103.4 559.9h0.8v0.8h-0.8zM103.1 561.6h0.8v0.8h-0.8zM86.3 556.9h0.8v0.8h-0.8zM90.1 557.9h0.8v0.8h-0.8zM105.3 561.3h0.8v0.8h-0.8zM105.8 560.9h0.8v0.8h-0.8zM93.6 559.4h0.8v0.8h-0.8zM106.2 558.9h0.8v0.8h-0.8zM105.7 558.2h0.8v0.8h-0.8zM96.9 563.8h0.8v0.8h-0.8zM104.2 557.5h0.8v0.8h-0.8zM94.3 564.8h0.8v0.8h-0.8zM97.2 559.2h0.8v0.8h-0.8zM107.5 562.7h0.8v0.8h-0.8zM115.8 556.4h0.8v0.8h-0.8zM126.1 556.9h0.8v0.8h-0.8zM88.7 559.4h0.8v0.8h-0.8zM109.6 559.6h0.8v0.8h-0.8zM112.3 559.1h0.8v0.8h-0.8zM109.8 560.8h0.8v0.8h-0.8zM101.5 554.5h0.8v0.8h-0.8zM88.4 561.9h0.8v0.8h-0.8zM106.3 556.5h0.8v0.8h-0.8zM92.8 558.6h0.8v0.8h-0.8zM128.3 557.3h0.8v0.8h-0.8zM107.1 556.7h0.8v0.8h-0.8zM118.2 557.7h0.8v0.8h-0.8zM90.9 560.5h0.8v0.8h-0.8zM114.7 562.2h0.8v0.8h-0.8zM115.9 562.1h0.8v0.8h-0.8zM115.5 557.7h0.8v0.8h-0.8zM99.8 558.3h0.8v0.8h-0.8zM88.0 557.9h0.8v0.8h-0.8zM98.2 561.8h0.8v0.8h-0.8zM100.9 559.1h0.8v0.8h-0.8zM90.1 558.3h0.8v0.8h-0.8zM98.4 561.5h0.8v0.8h-0.8zM98.9 563.4h0.8v0.8h-0.8zM119.3 561.5h0.8v0.8h-0.8zM113.0 563.4h0.8v0.8h-0.8zM99.6 560.9h0.8v0.8h-0.8zM112.1 563.9h0.8v0.8h-0.8zM92.2 564.0h0.8v0.8h-0.8zM96.6 560.2h0.8v0.8h-0.8zM109.1 564.5h0.8v0.8h-0.8zM87.6 561.0h0.8v0.8h-0.8zM97.2 560.7h0.8v0.8h-0.8zM86.8 557.9h0.8v0.8h-0.8zM101.2 559.7h0.8v0.8h-0.8zM116.3 562.7h0.8v0.8h-0.8zM92.5 556.8h0.8v0.8h-0.8zM102.3 562.3h0.8v0.8h-0.8zM91.0 561.5h0.8v0.8h-0.8zM88.5 561.3h0.8v0.8h-0.8zM87.6 554.3h0.8v0.8h-0.8zM114.5 560.2h0.8v0.8h-0.8zM123.6 562.3h0.8v0.8h-0.8zM104.8 558.4h0.8v0.8h-0.8zM92.8 560.8h0.8v0.8h-0.8zM107.0 553.8h0.8v0.8h-0.8zM96.7 562.4h0.8v0.8h-0.8zM108.0 558.6h0.8v0.8h-0.8zM102.9 562.9h0.8v0.8h-0.8zM102.8 555.3h0.8v0.8h-0.8zM106.1 562.4h0.8v0.8h-0.8zM94.2 559.8h0.8v0.8h-0.8zM96.0 562.8h0.8v0.8h-0.8zM95.6 558.8h0.8v0.8h-0.8zM85.8 566.8h0.8v0.8h-0.8zM98.6 558.2h0.8v0.8h-0.8zM90.4 558.5h0.8v0.8h-0.8zM101.0 559.7h0.8v0.8h-0.8zM104.5 557.6h0.8v0.8h-0.8zM85.8 563.8h0.8v0.8h-0.8zM91.9 565.3h0.8v0.8h-0.8zM90.6 558.5h0.8v0.8h-0.8zM107.5 555.7h0.8v0.8h-0.8zM117.1 563.8h0.8v0.8h-0.8zM108.5 563.6h0.8v0.8h-0.8zM96.5 562.8h0.8v0.8h-0.8zM114.7 563.7h0.8v0.8h-0.8zM84.9 558.1h0.8v0.8h-0.8zM115.0 560.0h0.8v0.8h-0.8zM93.4 556.6h0.8v0.8h-0.8zM126.5 563.2h0.8v0.8h-0.8zM115.8 558.6h0.8v0.8h-0.8zM89.7 566.9h0.8v0.8h-0.8zM101.7 560.7h0.8v0.8h-0.8zM97.9 558.7h0.8v0.8h-0.8zM101.0 562.7h0.8v0.8h-0.8zM85.2 565.5h0.8v0.8h-0.8zM93.2 561.9h0.8v0.8h-0.8zM104.7 557.1h0.8v0.8h-0.8zM102.2 561.5h0.8v0.8h-0.8zM112.0 564.4h0.8v0.8h-0.8zM100.8 559.1h0.8v0.8h-0.8zM123.5 558.3h0.8v0.8h-0.8zM92.8 563.3h0.8v0.8h-0.8zM102.6 560.9h0.8v0.8h-0.8zM87.5 559.4h0.8v0.8h-0.8zM113.3 558.4h0.8v0.8h-0.8zM90.6 561.3h0.8v0.8h-0.8zM105.3 560.8h0.8v0.8h-0.8zM99.4 563.7h0.8v0.8h-0.8zM89.6 562.5h0.8v0.8h-0.8zM96.5 556.1h0.8v0.8h-0.8zM94.9 561.6h0.8v0.8h-0.8zM95.1 563.0h0.8v0.8h-0.8zM107.5 561.8h0.8v0.8h-0.8zM106.5 563.4h0.8v0.8h-0.8zM94.2 559.0h0.8v0.8h-0.8zM90.9 557.8h0.8v0.8h-0.8zM102.8 563.1h0.8v0.8h-0.8zM99.0 557.5h0.8v0.8h-0.8zM110.3 554.5h0.8v0.8h-0.8zM126.6 563.4h0.8v0.8h-0.8zM108.4 558.5h0.8v0.8h-0.8zM99.7 559.6h0.8v0.8h-0.8zM98.3 556.6h0.8v0.8h-0.8zM91.4 556.8h0.8v0.8h-0.8zM90.9 557.3h0.8v0.8h-0.8zM90.0 559.5h0.8v0.8h-0.8zM96.0 561.5h0.8v0.8h-0.8zM95.7 554.1h0.8v0.8h-0.8zM107.4 562.6h0.8v0.8h-0.8zM96.0 557.2h0.8v0.8h-0.8zM98.0 557.5h0.8v0.8h-0.8zM87.8 562.4h0.8v0.8h-0.8zM116.4 560.3h0.8v0.8h-0.8zM105.1 556.2h0.8v0.8h-0.8zM117.9 565.7h0.8v0.8h-0.8zM108.0 558.1h0.8v0.8h-0.8zM114.9 561.2h0.8v0.8h-0.8zM97.5 561.1h0.8v0.8h-0.8zM107.2 564.5h0.8v0.8h-0.8zM127.1 559.2h0.8v0.8h-0.8zM87.8 563.3h0.8v0.8h-0.8zM111.8 558.4h0.8v0.8h-0.8zM117.0 563.6h0.8v0.8h-0.8zM104.2 558.4h0.8v0.8h-0.8zM107.7 559.5h0.8v0.8h-0.8zM112.8 565.8h0.8v0.8h-0.8zM93.3 561.4h0.8v0.8h-0.8zM104.2 560.8h0.8v0.8h-0.8zM91.1 566.8h0.8v0.8h-0.8zM93.1 561.5h0.8v0.8h-0.8zM93.7 558.2h0.8v0.8h-0.8zM98.5 562.6h0.8v0.8h-0.8zM101.5 557.2h0.8v0.8h-0.8zM104.6 563.7h0.8v0.8h-0.8zM85.5 563.9h0.8v0.8h-0.8zM120.3 558.9h0.8v0.8h-0.8zM111.8 558.7h0.8v0.8h-0.8zM107.4 561.0h0.8v0.8h-0.8zM96.3 560.5h0.8v0.8h-0.8zM99.1 557.8h0.8v0.8h-0.8zM105.6 562.1h0.8v0.8h-0.8zM104.2 554.8h0.8v0.8h-0.8zM107.6 559.4h0.8v0.8h-0.8zM129.9 559.7h0.8v0.8h-0.8zM110.2 557.1h0.8v0.8h-0.8zM103.8 562.1h0.8v0.8h-0.8zM98.9 560.0h0.8v0.8h-0.8zM114.1 558.7h0.8v0.8h-0.8zM87.9 556.7h0.8v0.8h-0.8zM101.7 557.2h0.8v0.8h-0.8zM115.0 561.5h0.8v0.8h-0.8zM98.0 557.8h0.8v0.8h-0.8zM95.7 560.7h0.8v0.8h-0.8zM101.2 563.5h0.8v0.8h-0.8zM95.4 563.4h0.8v0.8h-0.8zM115.9 564.9h0.8v0.8h-0.8zM90.7 559.7h0.8v0.8h-0.8zM109.0 557.5h0.8v0.8h-0.8zM87.1 563.4h0.8v0.8h-0.8zM106.9 561.4h0.8v0.8h-0.8zM98.9 563.6h0.8v0.8h-0.8zM99.9 563.8h0.8v0.8h-0.8zM89.0 562.9h0.8v0.8h-0.8zM95.4 562.5h0.8v0.8h-0.8zM115.8 561.9h0.8v0.8h-0.8zM88.5 561.6h0.8v0.8h-0.8zM89.1 561.2h0.8v0.8h-0.8zM114.8 561.1h0.8v0.8h-0.8zM101.2 563.3h0.8v0.8h-0.8zM115.8 559.1h0.8v0.8h-0.8zM103.3 565.4h0.8v0.8h-0.8zM90.9 560.2h0.8v0.8h-0.8zM99.3 563.3h0.8v0.8h-0.8zM112.6 560.2h0.8v0.8h-0.8zM109.7 559.8h0.8v0.8h-0.8zM100.0 566.2h0.8v0.8h-0.8zM100.5 559.6h0.8v0.8h-0.8zM98.8 556.9h0.8v0.8h-0.8zM94.1 558.5h0.8v0.8h-0.8zM119.9 559.6h0.8v0.8h-0.8zM100.1 566.5h0.8v0.8h-0.8zM88.4 561.1h0.8v0.8h-0.8zM95.1 563.1h0.8v0.8h-0.8zM107.5 557.7h0.8v0.8h-0.8zM106.6 561.5h0.8v0.8h-0.8zM98.6 562.4h0.8v0.8h-0.8zM93.1 565.5h0.8v0.8h-0.8zM100.2 558.6h0.8v0.8h-0.8zM86.6 561.3h0.8v0.8h-0.8zM108.2 557.6h0.8v0.8h-0.8zM95.1 560.4h0.8v0.8h-0.8zM103.9 559.8h0.8v0.8h-0.8zM112.5 554.0h0.8v0.8h-0.8zM106.7 562.2h0.8v0.8h-0.8zM100.2 562.0h0.8v0.8h-0.8zM121.9 559.3h0.8v0.8h-0.8zM106.9 556.8h0.8v0.8h-0.8zM96.4 564.6h0.8v0.8h-0.8zM107.5 561.2h0.8v0.8h-0.8zM104.2 563.3h0.8v0.8h-0.8zM91.2 564.4h0.8v0.8h-0.8zM100.8 559.0h0.8v0.8h-0.8zM98.3 562.8h0.8v0.8h-0.8zM98.2 560.3h0.8v0.8h-0.8zM97.1 560.3h0.8v0.8h-0.8zM95.5 560.5h0.8v0.8h-0.8zM96.4 560.8h0.8v0.8h-0.8zM99.6 560.1h0.8v0.8h-0.8zM101.0 559.7h0.8v0.8h-0.8zM88.3 561.5h0.8v0.8h-0.8zM106.5 558.0h0.8v0.8h-0.8zM87.5 559.1h0.8v0.8h-0.8zM97.7 560.4h0.8v0.8h-0.8zM113.4 558.9h0.8v0.8h-0.8zM92.9 560.2h0.8v0.8h-0.8zM94.7 558.8h0.8v0.8h-0.8zM111.0 566.1h0.8v0.8h-0.8zM96.1 564.2h0.8v0.8h-0.8zM96.9 561.8h0.8v0.8h-0.8zM102.3 560.3h0.8v0.8h-0.8zM110.8 566.6h0.8v0.8h-0.8zM91.5 560.3h0.8v0.8h-0.8zM89.7 561.3h0.8v0.8h-0.8zM88.9 561.4h0.8v0.8h-0.8z" fill="#000" fill-opacity="0.5"/>
<ellipse cx="99" cy="560.5" rx="11.5" ry="3.4" fill="#000" fill-opacity="0.95" transform="rotate(0 99 560.5)" filter="url(#b8)"/>
<ellipse cx="113" cy="561" rx="5" ry="2.5" fill="#000" fill-opacity="0.35" transform="rotate(0 113 561)" filter="url(#b12)"/>
<path d="M196.3 541.6h0.8v0.8h-0.8zM188.4 553.3h0.8v0.8h-0.8zM200.0 541.3h0.8v0.8h-0.8zM183.6 533.4h0.8v0.8h-0.8zM192.3 547.2h0.8v0.8h-0.8zM183.0 537.7h0.8v0.8h-0.8zM198.5 538.3h0.8v0.8h-0.8zM186.7 523.5h0.8v0.8h-0.8zM188.2 545.5h0.8v0.8h-0.8zM193.6 544.5h0.8v0.8h-0.8zM195.4 544.4h0.8v0.8h-0.8zM182.4 545.4h0.8v0.8h-0.8zM186.6 549.3h0.8v0.8h-0.8zM180.8 539.7h0.8v0.8h-0.8zM189.3 545.2h0.8v0.8h-0.8zM187.9 535.9h0.8v0.8h-0.8zM186.6 538.1h0.8v0.8h-0.8zM184.7 545.8h0.8v0.8h-0.8zM186.4 542.2h0.8v0.8h-0.8zM184.4 532.7h0.8v0.8h-0.8zM191.4 542.0h0.8v0.8h-0.8zM196.8 539.0h0.8v0.8h-0.8zM177.9 535.5h0.8v0.8h-0.8zM187.9 542.4h0.8v0.8h-0.8zM186.2 537.8h0.8v0.8h-0.8zM191.2 531.4h0.8v0.8h-0.8zM183.3 533.9h0.8v0.8h-0.8zM187.7 549.7h0.8v0.8h-0.8zM182.8 531.7h0.8v0.8h-0.8zM192.3 541.2h0.8v0.8h-0.8zM189.0 543.4h0.8v0.8h-0.8zM187.6 543.5h0.8v0.8h-0.8zM190.5 533.3h0.8v0.8h-0.8zM187.1 538.2h0.8v0.8h-0.8zM180.0 540.8h0.8v0.8h-0.8zM191.8 544.4h0.8v0.8h-0.8zM190.1 536.5h0.8v0.8h-0.8zM187.7 533.6h0.8v0.8h-0.8zM193.9 545.5h0.8v0.8h-0.8zM195.2 546.1h0.8v0.8h-0.8zM182.5 542.0h0.8v0.8h-0.8zM184.2 536.7h0.8v0.8h-0.8zM197.0 542.2h0.8v0.8h-0.8zM196.3 540.6h0.8v0.8h-0.8zM184.4 544.6h0.8v0.8h-0.8zM182.0 533.1h0.8v0.8h-0.8zM185.0 540.6h0.8v0.8h-0.8zM185.8 539.1h0.8v0.8h-0.8zM179.8 533.9h0.8v0.8h-0.8zM188.7 541.2h0.8v0.8h-0.8zM181.5 540.2h0.8v0.8h-0.8zM181.8 537.7h0.8v0.8h-0.8zM193.5 542.2h0.8v0.8h-0.8zM184.7 532.2h0.8v0.8h-0.8zM188.1 539.7h0.8v0.8h-0.8zM192.0 542.4h0.8v0.8h-0.8zM193.0 541.6h0.8v0.8h-0.8zM186.6 545.9h0.8v0.8h-0.8zM188.7 533.4h0.8v0.8h-0.8zM184.0 531.7h0.8v0.8h-0.8zM198.1 541.3h0.8v0.8h-0.8zM192.1 542.5h0.8v0.8h-0.8zM182.4 551.7h0.8v0.8h-0.8zM188.5 543.4h0.8v0.8h-0.8zM192.4 535.2h0.8v0.8h-0.8zM191.1 544.4h0.8v0.8h-0.8zM198.6 535.3h0.8v0.8h-0.8zM196.0 531.8h0.8v0.8h-0.8zM185.5 554.4h0.8v0.8h-0.8zM188.0 541.8h0.8v0.8h-0.8zM181.5 543.9h0.8v0.8h-0.8zM189.9 543.1h0.8v0.8h-0.8zM189.3 550.0h0.8v0.8h-0.8zM203.4 541.6h0.8v0.8h-0.8zM189.0 546.7h0.8v0.8h-0.8zM177.0 534.3h0.8v0.8h-0.8zM184.8 532.3h0.8v0.8h-0.8zM189.1 547.8h0.8v0.8h-0.8zM181.6 548.1h0.8v0.8h-0.8zM183.7 542.8h0.8v0.8h-0.8zM186.5 541.2h0.8v0.8h-0.8zM190.4 540.9h0.8v0.8h-0.8zM187.6 536.2h0.8v0.8h-0.8zM183.6 548.5h0.8v0.8h-0.8zM192.8 543.6h0.8v0.8h-0.8zM185.5 542.8h0.8v0.8h-0.8zM185.8 542.1h0.8v0.8h-0.8zM180.9 545.8h0.8v0.8h-0.8zM184.2 542.8h0.8v0.8h-0.8zM192.1 544.1h0.8v0.8h-0.8zM179.6 533.6h0.8v0.8h-0.8zM188.1 542.8h0.8v0.8h-0.8zM192.4 552.0h0.8v0.8h-0.8zM186.4 537.1h0.8v0.8h-0.8zM189.8 539.3h0.8v0.8h-0.8zM182.4 544.9h0.8v0.8h-0.8zM195.7 545.3h0.8v0.8h-0.8zM194.6 543.4h0.8v0.8h-0.8zM189.8 531.1h0.8v0.8h-0.8zM178.8 542.8h0.8v0.8h-0.8zM182.7 533.5h0.8v0.8h-0.8zM193.9 535.5h0.8v0.8h-0.8zM197.9 543.0h0.8v0.8h-0.8zM190.1 538.4h0.8v0.8h-0.8zM195.4 544.5h0.8v0.8h-0.8zM185.2 557.3h0.8v0.8h-0.8zM187.5 544.3h0.8v0.8h-0.8zM188.5 544.0h0.8v0.8h-0.8zM190.8 535.1h0.8v0.8h-0.8zM180.1 536.5h0.8v0.8h-0.8zM193.7 534.1h0.8v0.8h-0.8zM195.8 537.1h0.8v0.8h-0.8zM182.2 534.0h0.8v0.8h-0.8zM181.0 536.4h0.8v0.8h-0.8zM190.4 538.9h0.8v0.8h-0.8zM184.9 534.5h0.8v0.8h-0.8zM175.5 532.2h0.8v0.8h-0.8zM192.9 532.5h0.8v0.8h-0.8zM189.4 542.5h0.8v0.8h-0.8zM185.9 540.3h0.8v0.8h-0.8zM200.1 545.6h0.8v0.8h-0.8zM189.3 545.7h0.8v0.8h-0.8zM184.4 538.1h0.8v0.8h-0.8zM189.1 543.7h0.8v0.8h-0.8zM182.8 532.1h0.8v0.8h-0.8zM184.3 552.6h0.8v0.8h-0.8zM190.6 546.6h0.8v0.8h-0.8zM185.5 538.8h0.8v0.8h-0.8zM186.0 533.6h0.8v0.8h-0.8zM197.7 542.1h0.8v0.8h-0.8zM193.2 529.7h0.8v0.8h-0.8zM192.9 535.7h0.8v0.8h-0.8zM191.4 544.1h0.8v0.8h-0.8zM191.2 540.4h0.8v0.8h-0.8zM196.5 537.3h0.8v0.8h-0.8zM188.4 545.2h0.8v0.8h-0.8zM198.7 534.3h0.8v0.8h-0.8zM183.3 541.6h0.8v0.8h-0.8zM187.1 537.3h0.8v0.8h-0.8zM180.9 535.3h0.8v0.8h-0.8zM186.6 542.5h0.8v0.8h-0.8zM191.4 534.5h0.8v0.8h-0.8zM196.5 550.5h0.8v0.8h-0.8zM184.9 536.8h0.8v0.8h-0.8zM188.5 550.9h0.8v0.8h-0.8zM186.5 534.0h0.8v0.8h-0.8zM184.4 543.3h0.8v0.8h-0.8zM182.0 533.4h0.8v0.8h-0.8zM188.8 532.6h0.8v0.8h-0.8zM179.0 540.9h0.8v0.8h-0.8zM189.1 543.7h0.8v0.8h-0.8zM188.6 533.0h0.8v0.8h-0.8zM184.9 546.5h0.8v0.8h-0.8zM182.9 535.6h0.8v0.8h-0.8zM180.9 540.7h0.8v0.8h-0.8zM198.8 542.1h0.8v0.8h-0.8zM181.1 543.3h0.8v0.8h-0.8zM197.1 530.1h0.8v0.8h-0.8zM191.8 548.9h0.8v0.8h-0.8zM186.5 543.1h0.8v0.8h-0.8zM182.1 537.7h0.8v0.8h-0.8zM194.2 534.4h0.8v0.8h-0.8zM198.0 530.7h0.8v0.8h-0.8zM183.4 532.5h0.8v0.8h-0.8zM186.9 543.0h0.8v0.8h-0.8zM194.3 538.1h0.8v0.8h-0.8zM190.3 533.8h0.8v0.8h-0.8zM199.5 537.1h0.8v0.8h-0.8zM185.4 548.6h0.8v0.8h-0.8zM191.5 538.2h0.8v0.8h-0.8zM181.6 536.8h0.8v0.8h-0.8zM200.0 547.4h0.8v0.8h-0.8zM184.5 542.5h0.8v0.8h-0.8zM176.4 540.2h0.8v0.8h-0.8zM187.8 536.7h0.8v0.8h-0.8zM187.7 531.5h0.8v0.8h-0.8zM199.0 533.6h0.8v0.8h-0.8zM186.6 537.4h0.8v0.8h-0.8zM188.4 538.8h0.8v0.8h-0.8zM191.8 542.0h0.8v0.8h-0.8zM197.2 543.0h0.8v0.8h-0.8zM188.2 541.2h0.8v0.8h-0.8zM194.2 541.2h0.8v0.8h-0.8zM191.3 534.5h0.8v0.8h-0.8zM186.9 528.1h0.8v0.8h-0.8zM188.9 537.1h0.8v0.8h-0.8zM188.7 534.8h0.8v0.8h-0.8zM183.5 536.4h0.8v0.8h-0.8zM195.2 538.5h0.8v0.8h-0.8zM180.9 533.2h0.8v0.8h-0.8zM194.9 533.9h0.8v0.8h-0.8zM193.7 539.4h0.8v0.8h-0.8zM188.0 540.6h0.8v0.8h-0.8zM184.3 536.4h0.8v0.8h-0.8zM187.3 542.7h0.8v0.8h-0.8zM191.1 538.8h0.8v0.8h-0.8zM192.6 534.4h0.8v0.8h-0.8zM190.1 540.2h0.8v0.8h-0.8zM194.0 550.4h0.8v0.8h-0.8zM185.4 536.3h0.8v0.8h-0.8zM189.8 546.4h0.8v0.8h-0.8zM179.9 547.6h0.8v0.8h-0.8zM192.7 548.2h0.8v0.8h-0.8zM189.3 535.5h0.8v0.8h-0.8zM186.2 551.1h0.8v0.8h-0.8zM194.9 540.6h0.8v0.8h-0.8zM192.3 538.6h0.8v0.8h-0.8zM173.0 538.7h0.8v0.8h-0.8zM188.7 543.3h0.8v0.8h-0.8zM180.5 540.3h0.8v0.8h-0.8zM194.4 539.0h0.8v0.8h-0.8zM202.2 547.1h0.8v0.8h-0.8zM185.6 536.0h0.8v0.8h-0.8zM188.9 534.3h0.8v0.8h-0.8zM187.1 544.4h0.8v0.8h-0.8zM190.4 543.9h0.8v0.8h-0.8zM192.0 546.0h0.8v0.8h-0.8zM195.6 534.1h0.8v0.8h-0.8zM183.1 545.9h0.8v0.8h-0.8zM197.1 542.7h0.8v0.8h-0.8zM183.4 549.7h0.8v0.8h-0.8zM190.0 533.1h0.8v0.8h-0.8zM194.9 541.2h0.8v0.8h-0.8zM192.4 538.5h0.8v0.8h-0.8zM183.3 531.3h0.8v0.8h-0.8zM184.6 536.1h0.8v0.8h-0.8zM186.0 546.2h0.8v0.8h-0.8zM188.2 537.4h0.8v0.8h-0.8zM194.8 536.0h0.8v0.8h-0.8zM181.4 544.8h0.8v0.8h-0.8zM191.1 545.4h0.8v0.8h-0.8zM191.9 545.4h0.8v0.8h-0.8zM191.6 535.7h0.8v0.8h-0.8zM191.1 539.7h0.8v0.8h-0.8zM196.9 545.7h0.8v0.8h-0.8zM191.2 536.4h0.8v0.8h-0.8zM193.2 535.9h0.8v0.8h-0.8zM191.6 544.6h0.8v0.8h-0.8zM198.4 548.6h0.8v0.8h-0.8zM178.1 533.7h0.8v0.8h-0.8zM195.6 525.7h0.8v0.8h-0.8zM187.1 532.0h0.8v0.8h-0.8zM187.0 534.4h0.8v0.8h-0.8zM183.2 539.2h0.8v0.8h-0.8zM178.2 543.4h0.8v0.8h-0.8zM186.4 539.2h0.8v0.8h-0.8zM184.7 536.1h0.8v0.8h-0.8zM191.2 540.8h0.8v0.8h-0.8zM180.4 534.7h0.8v0.8h-0.8zM196.4 539.7h0.8v0.8h-0.8zM190.0 536.5h0.8v0.8h-0.8zM187.1 554.7h0.8v0.8h-0.8zM184.6 544.5h0.8v0.8h-0.8zM184.2 535.4h0.8v0.8h-0.8zM182.3 534.5h0.8v0.8h-0.8zM185.5 537.6h0.8v0.8h-0.8zM188.5 531.0h0.8v0.8h-0.8zM187.5 536.0h0.8v0.8h-0.8zM180.7 535.9h0.8v0.8h-0.8zM187.0 544.9h0.8v0.8h-0.8zM183.6 537.7h0.8v0.8h-0.8zM189.4 535.7h0.8v0.8h-0.8zM198.8 532.6h0.8v0.8h-0.8zM191.9 533.5h0.8v0.8h-0.8zM186.8 539.6h0.8v0.8h-0.8zM179.6 538.8h0.8v0.8h-0.8zM180.7 546.2h0.8v0.8h-0.8zM179.2 536.5h0.8v0.8h-0.8zM192.5 545.8h0.8v0.8h-0.8zM184.3 541.4h0.8v0.8h-0.8zM188.8 540.0h0.8v0.8h-0.8zM185.1 529.0h0.8v0.8h-0.8zM189.0 532.9h0.8v0.8h-0.8zM196.2 544.1h0.8v0.8h-0.8zM184.7 547.7h0.8v0.8h-0.8zM186.6 541.1h0.8v0.8h-0.8zM184.1 544.2h0.8v0.8h-0.8zM193.3 537.8h0.8v0.8h-0.8zM182.9 538.0h0.8v0.8h-0.8zM182.3 536.4h0.8v0.8h-0.8zM180.9 545.4h0.8v0.8h-0.8zM180.8 541.9h0.8v0.8h-0.8zM191.1 538.7h0.8v0.8h-0.8zM202.6 538.2h0.8v0.8h-0.8zM183.0 543.1h0.8v0.8h-0.8zM193.7 541.8h0.8v0.8h-0.8zM189.9 535.4h0.8v0.8h-0.8zM182.4 549.4h0.8v0.8h-0.8zM187.0 541.4h0.8v0.8h-0.8zM187.2 540.1h0.8v0.8h-0.8zM184.7 548.1h0.8v0.8h-0.8zM199.1 545.6h0.8v0.8h-0.8zM178.0 539.5h0.8v0.8h-0.8zM190.6 542.9h0.8v0.8h-0.8zM190.3 534.1h0.8v0.8h-0.8zM185.3 536.5h0.8v0.8h-0.8zM189.3 527.6h0.8v0.8h-0.8zM193.3 546.7h0.8v0.8h-0.8zM189.3 529.6h0.8v0.8h-0.8zM190.8 543.7h0.8v0.8h-0.8zM192.3 535.4h0.8v0.8h-0.8zM177.3 534.6h0.8v0.8h-0.8zM196.6 538.9h0.8v0.8h-0.8zM201.0 541.5h0.8v0.8h-0.8zM193.9 543.4h0.8v0.8h-0.8zM194.1 549.7h0.8v0.8h-0.8zM180.8 542.0h0.8v0.8h-0.8zM187.8 544.8h0.8v0.8h-0.8zM184.0 536.7h0.8v0.8h-0.8zM185.3 543.9h0.8v0.8h-0.8zM193.8 540.8h0.8v0.8h-0.8zM184.1 537.5h0.8v0.8h-0.8zM187.8 539.5h0.8v0.8h-0.8zM178.0 539.7h0.8v0.8h-0.8zM187.6 541.1h0.8v0.8h-0.8zM189.0 542.2h0.8v0.8h-0.8zM184.6 537.2h0.8v0.8h-0.8zM184.5 535.9h0.8v0.8h-0.8zM198.9 544.1h0.8v0.8h-0.8zM181.8 530.7h0.8v0.8h-0.8zM182.7 536.6h0.8v0.8h-0.8zM184.1 548.5h0.8v0.8h-0.8zM195.1 525.1h0.8v0.8h-0.8zM200.1 536.2h0.8v0.8h-0.8zM190.3 543.8h0.8v0.8h-0.8zM184.6 530.9h0.8v0.8h-0.8zM186.1 554.3h0.8v0.8h-0.8zM194.4 525.8h0.8v0.8h-0.8zM183.5 547.9h0.8v0.8h-0.8zM196.5 548.6h0.8v0.8h-0.8zM196.3 545.0h0.8v0.8h-0.8zM188.9 538.8h0.8v0.8h-0.8zM192.1 542.0h0.8v0.8h-0.8zM192.6 535.1h0.8v0.8h-0.8zM197.0 544.5h0.8v0.8h-0.8zM182.7 533.8h0.8v0.8h-0.8zM195.0 538.5h0.8v0.8h-0.8zM186.4 545.5h0.8v0.8h-0.8zM184.3 533.9h0.8v0.8h-0.8zM189.1 538.0h0.8v0.8h-0.8zM187.3 540.9h0.8v0.8h-0.8zM183.1 532.6h0.8v0.8h-0.8zM179.7 546.4h0.8v0.8h-0.8zM183.3 541.9h0.8v0.8h-0.8zM196.5 531.7h0.8v0.8h-0.8zM199.3 539.7h0.8v0.8h-0.8zM192.1 535.7h0.8v0.8h-0.8zM195.0 536.4h0.8v0.8h-0.8zM185.7 540.4h0.8v0.8h-0.8zM188.1 536.1h0.8v0.8h-0.8zM190.1 545.3h0.8v0.8h-0.8zM182.6 536.1h0.8v0.8h-0.8zM183.1 545.4h0.8v0.8h-0.8zM189.0 539.8h0.8v0.8h-0.8zM186.7 544.7h0.8v0.8h-0.8zM182.7 537.0h0.8v0.8h-0.8zM190.6 537.2h0.8v0.8h-0.8zM187.1 533.7h0.8v0.8h-0.8zM194.1 543.2h0.8v0.8h-0.8zM188.5 545.2h0.8v0.8h-0.8zM186.8 551.7h0.8v0.8h-0.8zM189.2 547.1h0.8v0.8h-0.8zM187.6 541.4h0.8v0.8h-0.8zM184.8 538.8h0.8v0.8h-0.8zM186.3 542.1h0.8v0.8h-0.8zM192.6 539.8h0.8v0.8h-0.8zM192.1 548.0h0.8v0.8h-0.8zM195.6 545.2h0.8v0.8h-0.8zM179.2 535.4h0.8v0.8h-0.8zM186.3 536.2h0.8v0.8h-0.8zM186.2 547.5h0.8v0.8h-0.8zM189.4 541.7h0.8v0.8h-0.8zM186.0 538.7h0.8v0.8h-0.8zM185.7 546.5h0.8v0.8h-0.8zM192.8 537.9h0.8v0.8h-0.8zM189.5 538.5h0.8v0.8h-0.8zM182.1 537.5h0.8v0.8h-0.8zM195.8 529.2h0.8v0.8h-0.8zM194.0 544.8h0.8v0.8h-0.8zM185.3 533.4h0.8v0.8h-0.8zM193.1 536.9h0.8v0.8h-0.8zM184.5 535.9h0.8v0.8h-0.8zM194.7 544.0h0.8v0.8h-0.8zM187.3 539.6h0.8v0.8h-0.8zM184.1 540.1h0.8v0.8h-0.8zM186.4 530.8h0.8v0.8h-0.8zM184.3 539.5h0.8v0.8h-0.8zM189.6 531.9h0.8v0.8h-0.8zM189.5 541.7h0.8v0.8h-0.8zM188.7 542.0h0.8v0.8h-0.8zM185.4 539.9h0.8v0.8h-0.8zM168.4 551.2h0.8v0.8h-0.8zM189.0 542.9h0.8v0.8h-0.8zM178.1 543.3h0.8v0.8h-0.8zM189.8 540.8h0.8v0.8h-0.8zM194.7 538.9h0.8v0.8h-0.8zM190.0 545.3h0.8v0.8h-0.8zM186.4 546.1h0.8v0.8h-0.8zM187.5 532.8h0.8v0.8h-0.8zM187.8 545.8h0.8v0.8h-0.8zM185.5 542.8h0.8v0.8h-0.8zM185.3 545.3h0.8v0.8h-0.8zM183.4 542.6h0.8v0.8h-0.8zM195.0 533.2h0.8v0.8h-0.8zM188.4 533.5h0.8v0.8h-0.8zM193.8 550.0h0.8v0.8h-0.8zM187.1 541.4h0.8v0.8h-0.8zM188.9 532.2h0.8v0.8h-0.8zM187.6 541.9h0.8v0.8h-0.8zM191.0 538.0h0.8v0.8h-0.8zM193.0 529.9h0.8v0.8h-0.8zM189.8 527.4h0.8v0.8h-0.8zM184.8 531.2h0.8v0.8h-0.8zM184.2 541.5h0.8v0.8h-0.8zM197.6 539.7h0.8v0.8h-0.8zM187.0 538.6h0.8v0.8h-0.8zM186.9 541.6h0.8v0.8h-0.8zM196.6 543.3h0.8v0.8h-0.8zM194.5 528.4h0.8v0.8h-0.8zM191.4 538.3h0.8v0.8h-0.8zM186.3 535.4h0.8v0.8h-0.8zM201.4 533.2h0.8v0.8h-0.8zM190.7 537.0h0.8v0.8h-0.8zM191.5 539.3h0.8v0.8h-0.8zM187.6 538.5h0.8v0.8h-0.8zM180.7 532.0h0.8v0.8h-0.8zM181.2 537.3h0.8v0.8h-0.8zM190.7 551.1h0.8v0.8h-0.8zM190.7 534.2h0.8v0.8h-0.8zM187.2 530.7h0.8v0.8h-0.8zM182.1 541.5h0.8v0.8h-0.8zM180.6 543.3h0.8v0.8h-0.8zM186.7 542.6h0.8v0.8h-0.8zM180.5 533.8h0.8v0.8h-0.8zM193.4 545.5h0.8v0.8h-0.8zM194.8 535.7h0.8v0.8h-0.8zM204.1 533.8h0.8v0.8h-0.8zM193.3 536.7h0.8v0.8h-0.8zM185.2 539.4h0.8v0.8h-0.8zM183.7 543.9h0.8v0.8h-0.8zM169.5 543.4h0.8v0.8h-0.8zM185.2 539.9h0.8v0.8h-0.8zM187.5 545.1h0.8v0.8h-0.8zM193.8 540.4h0.8v0.8h-0.8zM191.9 544.9h0.8v0.8h-0.8zM191.7 532.3h0.8v0.8h-0.8zM189.7 531.3h0.8v0.8h-0.8zM192.1 544.3h0.8v0.8h-0.8zM196.5 532.4h0.8v0.8h-0.8zM182.6 538.3h0.8v0.8h-0.8zM186.0 539.5h0.8v0.8h-0.8zM180.9 537.3h0.8v0.8h-0.8zM197.4 537.5h0.8v0.8h-0.8zM195.6 547.7h0.8v0.8h-0.8zM192.6 526.1h0.8v0.8h-0.8zM181.9 544.9h0.8v0.8h-0.8zM189.5 552.6h0.8v0.8h-0.8zM187.2 540.1h0.8v0.8h-0.8zM188.9 539.9h0.8v0.8h-0.8zM187.5 544.0h0.8v0.8h-0.8zM191.4 550.1h0.8v0.8h-0.8zM186.3 533.5h0.8v0.8h-0.8zM193.2 540.5h0.8v0.8h-0.8zM189.8 539.0h0.8v0.8h-0.8zM186.9 543.1h0.8v0.8h-0.8zM187.9 540.9h0.8v0.8h-0.8zM186.1 543.6h0.8v0.8h-0.8zM193.0 537.7h0.8v0.8h-0.8zM187.0 540.3h0.8v0.8h-0.8zM190.1 536.3h0.8v0.8h-0.8zM186.3 536.3h0.8v0.8h-0.8zM180.3 539.2h0.8v0.8h-0.8zM193.5 539.2h0.8v0.8h-0.8zM182.7 533.6h0.8v0.8h-0.8zM192.2 548.6h0.8v0.8h-0.8zM190.8 539.3h0.8v0.8h-0.8zM179.4 532.4h0.8v0.8h-0.8zM183.3 546.1h0.8v0.8h-0.8zM185.7 535.9h0.8v0.8h-0.8zM184.0 542.8h0.8v0.8h-0.8zM182.0 539.9h0.8v0.8h-0.8zM192.6 541.4h0.8v0.8h-0.8zM187.2 540.9h0.8v0.8h-0.8zM190.6 536.8h0.8v0.8h-0.8zM186.1 540.2h0.8v0.8h-0.8zM190.2 551.2h0.8v0.8h-0.8zM184.4 527.7h0.8v0.8h-0.8zM188.4 540.4h0.8v0.8h-0.8zM191.7 542.4h0.8v0.8h-0.8zM188.7 534.2h0.8v0.8h-0.8zM186.0 532.5h0.8v0.8h-0.8zM182.5 551.9h0.8v0.8h-0.8zM189.4 538.0h0.8v0.8h-0.8zM190.4 551.4h0.8v0.8h-0.8zM187.1 542.9h0.8v0.8h-0.8zM184.3 540.4h0.8v0.8h-0.8zM191.5 542.6h0.8v0.8h-0.8zM202.1 543.5h0.8v0.8h-0.8zM186.8 546.5h0.8v0.8h-0.8zM190.4 542.4h0.8v0.8h-0.8zM190.6 540.8h0.8v0.8h-0.8zM174.4 541.0h0.8v0.8h-0.8zM189.2 547.4h0.8v0.8h-0.8zM184.6 544.5h0.8v0.8h-0.8zM196.1 534.5h0.8v0.8h-0.8zM187.1 536.5h0.8v0.8h-0.8zM184.2 541.8h0.8v0.8h-0.8zM187.3 536.6h0.8v0.8h-0.8zM189.4 537.9h0.8v0.8h-0.8zM185.4 534.7h0.8v0.8h-0.8zM188.2 538.6h0.8v0.8h-0.8zM181.1 542.3h0.8v0.8h-0.8zM187.3 545.5h0.8v0.8h-0.8zM192.8 540.1h0.8v0.8h-0.8zM199.3 551.4h0.8v0.8h-0.8zM192.4 539.6h0.8v0.8h-0.8zM190.0 557.6h0.8v0.8h-0.8zM195.0 545.5h0.8v0.8h-0.8zM194.1 542.7h0.8v0.8h-0.8zM197.7 537.3h0.8v0.8h-0.8zM194.5 524.5h0.8v0.8h-0.8zM187.9 539.1h0.8v0.8h-0.8zM189.9 541.0h0.8v0.8h-0.8zM189.5 550.6h0.8v0.8h-0.8zM190.2 532.4h0.8v0.8h-0.8zM189.6 550.5h0.8v0.8h-0.8zM184.2 538.6h0.8v0.8h-0.8zM176.9 544.0h0.8v0.8h-0.8zM184.8 526.0h0.8v0.8h-0.8zM177.4 540.8h0.8v0.8h-0.8zM188.9 538.1h0.8v0.8h-0.8zM188.5 543.8h0.8v0.8h-0.8zM179.3 540.5h0.8v0.8h-0.8zM192.3 533.7h0.8v0.8h-0.8zM193.3 545.2h0.8v0.8h-0.8zM189.0 543.8h0.8v0.8h-0.8zM197.7 543.3h0.8v0.8h-0.8zM198.8 545.5h0.8v0.8h-0.8zM181.9 546.1h0.8v0.8h-0.8zM194.2 539.9h0.8v0.8h-0.8zM190.9 532.5h0.8v0.8h-0.8zM190.8 532.4h0.8v0.8h-0.8zM193.6 547.4h0.8v0.8h-0.8zM184.5 543.9h0.8v0.8h-0.8zM185.2 540.6h0.8v0.8h-0.8zM184.0 537.6h0.8v0.8h-0.8zM184.3 540.2h0.8v0.8h-0.8zM188.0 540.1h0.8v0.8h-0.8zM180.5 538.1h0.8v0.8h-0.8zM182.7 536.2h0.8v0.8h-0.8zM191.7 551.9h0.8v0.8h-0.8zM188.1 541.3h0.8v0.8h-0.8zM190.6 536.7h0.8v0.8h-0.8zM178.1 532.8h0.8v0.8h-0.8zM184.2 536.0h0.8v0.8h-0.8zM185.4 544.0h0.8v0.8h-0.8zM188.7 544.2h0.8v0.8h-0.8zM185.3 538.8h0.8v0.8h-0.8zM193.6 540.3h0.8v0.8h-0.8zM188.2 538.3h0.8v0.8h-0.8zM188.6 533.9h0.8v0.8h-0.8zM188.6 547.2h0.8v0.8h-0.8zM192.4 542.0h0.8v0.8h-0.8zM185.9 553.6h0.8v0.8h-0.8zM194.7 535.8h0.8v0.8h-0.8zM191.0 539.2h0.8v0.8h-0.8zM189.3 544.9h0.8v0.8h-0.8zM188.7 538.7h0.8v0.8h-0.8zM191.4 532.4h0.8v0.8h-0.8zM194.1 534.8h0.8v0.8h-0.8zM193.7 540.6h0.8v0.8h-0.8zM190.6 541.9h0.8v0.8h-0.8zM193.3 539.5h0.8v0.8h-0.8zM189.2 545.5h0.8v0.8h-0.8zM195.4 545.5h0.8v0.8h-0.8zM188.4 541.8h0.8v0.8h-0.8zM177.1 540.1h0.8v0.8h-0.8zM195.9 538.6h0.8v0.8h-0.8zM189.1 543.0h0.8v0.8h-0.8zM182.1 545.1h0.8v0.8h-0.8zM187.4 540.3h0.8v0.8h-0.8zM183.6 542.5h0.8v0.8h-0.8zM200.1 538.2h0.8v0.8h-0.8zM191.2 532.2h0.8v0.8h-0.8zM179.9 534.5h0.8v0.8h-0.8zM191.5 544.2h0.8v0.8h-0.8zM186.3 542.5h0.8v0.8h-0.8zM199.0 548.7h0.8v0.8h-0.8zM182.7 540.3h0.8v0.8h-0.8zM176.1 544.8h0.8v0.8h-0.8zM188.9 547.3h0.8v0.8h-0.8zM186.6 545.5h0.8v0.8h-0.8zM186.2 536.7h0.8v0.8h-0.8zM176.7 539.0h0.8v0.8h-0.8zM190.8 540.7h0.8v0.8h-0.8zM197.7 534.6h0.8v0.8h-0.8zM178.0 542.6h0.8v0.8h-0.8zM194.9 545.6h0.8v0.8h-0.8zM185.4 537.4h0.8v0.8h-0.8zM201.4 550.8h0.8v0.8h-0.8zM190.9 538.4h0.8v0.8h-0.8zM187.5 538.9h0.8v0.8h-0.8zM194.6 538.7h0.8v0.8h-0.8zM191.4 536.1h0.8v0.8h-0.8zM185.2 542.3h0.8v0.8h-0.8zM192.4 540.1h0.8v0.8h-0.8zM185.7 549.1h0.8v0.8h-0.8zM178.7 543.3h0.8v0.8h-0.8zM199.7 543.0h0.8v0.8h-0.8zM186.6 538.8h0.8v0.8h-0.8zM185.2 532.2h0.8v0.8h-0.8zM190.4 539.5h0.8v0.8h-0.8zM179.9 535.3h0.8v0.8h-0.8zM181.1 545.2h0.8v0.8h-0.8zM185.8 539.8h0.8v0.8h-0.8zM185.6 549.2h0.8v0.8h-0.8zM188.9 544.0h0.8v0.8h-0.8zM194.7 544.6h0.8v0.8h-0.8zM185.9 541.3h0.8v0.8h-0.8zM191.2 541.1h0.8v0.8h-0.8zM191.8 543.6h0.8v0.8h-0.8zM182.5 545.1h0.8v0.8h-0.8zM189.8 536.1h0.8v0.8h-0.8zM183.3 542.7h0.8v0.8h-0.8zM194.4 554.4h0.8v0.8h-0.8zM191.0 539.5h0.8v0.8h-0.8zM188.6 538.6h0.8v0.8h-0.8zM181.1 536.2h0.8v0.8h-0.8zM189.1 532.0h0.8v0.8h-0.8zM184.3 546.5h0.8v0.8h-0.8zM192.4 540.3h0.8v0.8h-0.8zM187.8 541.6h0.8v0.8h-0.8zM184.0 550.1h0.8v0.8h-0.8zM193.6 553.8h0.8v0.8h-0.8zM192.5 535.1h0.8v0.8h-0.8zM185.2 545.8h0.8v0.8h-0.8zM194.9 543.4h0.8v0.8h-0.8zM186.9 542.2h0.8v0.8h-0.8zM186.8 542.6h0.8v0.8h-0.8zM189.2 539.9h0.8v0.8h-0.8zM184.4 548.8h0.8v0.8h-0.8zM186.1 543.4h0.8v0.8h-0.8zM187.6 541.9h0.8v0.8h-0.8zM196.9 546.9h0.8v0.8h-0.8zM196.7 544.9h0.8v0.8h-0.8zM187.1 542.5h0.8v0.8h-0.8zM197.4 541.8h0.8v0.8h-0.8zM188.3 549.7h0.8v0.8h-0.8zM190.6 542.8h0.8v0.8h-0.8zM193.4 539.5h0.8v0.8h-0.8z" fill="#222" fill-opacity="0.5"/>
<ellipse cx="188.5" cy="540" rx="6.5" ry="6.5" fill="#000" fill-opacity="0.35" transform="rotate(0 188.5 540)" filter="url(#b15)"/>
<ellipse cx="190" cy="543" rx="3.5" ry="4" fill="#000" fill-opacity="0.35" transform="rotate(0 190 543)" filter="url(#b10)"/>
<path d="M166.5 547.6h0.8v0.8h-0.8zM179.4 555.0h0.8v0.8h-0.8zM167.9 552.3h0.8v0.8h-0.8zM180.3 549.1h0.8v0.8h-0.8zM181.6 548.2h0.8v0.8h-0.8zM159.2 557.5h0.8v0.8h-0.8zM175.9 545.1h0.8v0.8h-0.8zM175.0 534.3h0.8v0.8h-0.8zM175.8 542.7h0.8v0.8h-0.8zM163.8 545.8h0.8v0.8h-0.8zM189.4 541.8h0.8v0.8h-0.8zM172.9 552.7h0.8v0.8h-0.8zM172.1 560.1h0.8v0.8h-0.8zM171.1 556.6h0.8v0.8h-0.8zM175.5 545.2h0.8v0.8h-0.8zM186.9 543.3h0.8v0.8h-0.8zM185.4 538.7h0.8v0.8h-0.8zM182.0 549.4h0.8v0.8h-0.8zM170.1 557.1h0.8v0.8h-0.8zM169.2 547.7h0.8v0.8h-0.8zM171.1 553.8h0.8v0.8h-0.8zM176.9 549.4h0.8v0.8h-0.8zM163.2 558.0h0.8v0.8h-0.8zM182.3 551.4h0.8v0.8h-0.8zM189.6 551.7h0.8v0.8h-0.8zM175.5 547.3h0.8v0.8h-0.8zM180.2 543.4h0.8v0.8h-0.8zM162.1 543.7h0.8v0.8h-0.8zM166.4 556.8h0.8v0.8h-0.8zM171.4 550.1h0.8v0.8h-0.8zM178.5 530.6h0.8v0.8h-0.8zM187.0 542.7h0.8v0.8h-0.8zM176.8 553.6h0.8v0.8h-0.8zM184.4 536.9h0.8v0.8h-0.8zM174.1 548.4h0.8v0.8h-0.8zM185.9 533.8h0.8v0.8h-0.8zM184.6 548.4h0.8v0.8h-0.8zM168.7 543.9h0.8v0.8h-0.8zM182.9 541.4h0.8v0.8h-0.8zM179.6 561.9h0.8v0.8h-0.8zM171.0 554.2h0.8v0.8h-0.8zM168.7 559.5h0.8v0.8h-0.8zM179.4 545.7h0.8v0.8h-0.8zM173.1 542.9h0.8v0.8h-0.8zM177.3 548.3h0.8v0.8h-0.8zM176.4 552.5h0.8v0.8h-0.8zM185.1 534.1h0.8v0.8h-0.8zM176.1 552.3h0.8v0.8h-0.8zM177.3 558.4h0.8v0.8h-0.8zM191.7 544.9h0.8v0.8h-0.8zM182.8 531.6h0.8v0.8h-0.8zM176.8 541.3h0.8v0.8h-0.8zM158.4 551.8h0.8v0.8h-0.8zM177.5 556.8h0.8v0.8h-0.8zM185.0 546.9h0.8v0.8h-0.8zM180.8 551.1h0.8v0.8h-0.8zM186.5 534.0h0.8v0.8h-0.8zM163.0 551.4h0.8v0.8h-0.8zM183.5 544.0h0.8v0.8h-0.8zM173.6 552.5h0.8v0.8h-0.8zM184.8 535.6h0.8v0.8h-0.8zM178.0 549.1h0.8v0.8h-0.8zM188.4 544.3h0.8v0.8h-0.8zM173.9 553.2h0.8v0.8h-0.8zM163.2 552.3h0.8v0.8h-0.8zM161.3 545.4h0.8v0.8h-0.8zM172.4 550.7h0.8v0.8h-0.8zM170.8 555.3h0.8v0.8h-0.8zM186.2 539.1h0.8v0.8h-0.8zM186.6 537.4h0.8v0.8h-0.8zM177.4 543.1h0.8v0.8h-0.8zM172.8 557.9h0.8v0.8h-0.8zM176.9 548.5h0.8v0.8h-0.8zM173.2 553.0h0.8v0.8h-0.8zM185.4 534.2h0.8v0.8h-0.8zM178.0 543.1h0.8v0.8h-0.8zM182.4 545.6h0.8v0.8h-0.8zM171.1 545.9h0.8v0.8h-0.8zM157.7 555.1h0.8v0.8h-0.8zM170.8 551.4h0.8v0.8h-0.8zM174.1 560.7h0.8v0.8h-0.8zM181.6 546.5h0.8v0.8h-0.8zM184.4 554.1h0.8v0.8h-0.8zM171.4 552.5h0.8v0.8h-0.8zM173.8 549.1h0.8v0.8h-0.8zM184.6 531.5h0.8v0.8h-0.8zM168.4 551.5h0.8v0.8h-0.8zM176.5 560.5h0.8v0.8h-0.8zM177.5 551.0h0.8v0.8h-0.8zM175.5 555.9h0.8v0.8h-0.8zM177.4 554.0h0.8v0.8h-0.8zM182.0 544.5h0.8v0.8h-0.8zM190.5 535.9h0.8v0.8h-0.8zM164.8 560.0h0.8v0.8h-0.8zM180.4 551.2h0.8v0.8h-0.8zM180.1 549.8h0.8v0.8h-0.8zM179.3 550.8h0.8v0.8h-0.8zM177.2 549.9h0.8v0.8h-0.8zM172.4 546.6h0.8v0.8h-0.8zM184.7 540.3h0.8v0.8h-0.8zM170.8 546.7h0.8v0.8h-0.8zM180.9 553.4h0.8v0.8h-0.8zM169.9 538.3h0.8v0.8h-0.8zM178.0 546.3h0.8v0.8h-0.8zM185.9 560.1h0.8v0.8h-0.8zM184.3 540.0h0.8v0.8h-0.8zM173.6 542.8h0.8v0.8h-0.8zM179.3 546.8h0.8v0.8h-0.8zM182.6 554.3h0.8v0.8h-0.8zM169.7 553.7h0.8v0.8h-0.8zM174.0 556.2h0.8v0.8h-0.8zM170.3 555.2h0.8v0.8h-0.8zM178.0 545.0h0.8v0.8h-0.8zM184.7 567.1h0.8v0.8h-0.8zM170.1 555.1h0.8v0.8h-0.8zM177.8 544.0h0.8v0.8h-0.8zM180.1 542.4h0.8v0.8h-0.8zM166.0 561.1h0.8v0.8h-0.8zM192.5 539.0h0.8v0.8h-0.8zM181.2 551.3h0.8v0.8h-0.8zM177.7 549.3h0.8v0.8h-0.8zM180.7 534.6h0.8v0.8h-0.8zM180.6 550.0h0.8v0.8h-0.8zM172.2 550.5h0.8v0.8h-0.8zM193.7 532.6h0.8v0.8h-0.8zM164.1 548.1h0.8v0.8h-0.8zM175.0 546.0h0.8v0.8h-0.8zM181.7 539.2h0.8v0.8h-0.8zM169.7 554.7h0.8v0.8h-0.8zM171.6 542.0h0.8v0.8h-0.8zM181.2 545.7h0.8v0.8h-0.8zM196.9 533.1h0.8v0.8h-0.8zM166.8 548.6h0.8v0.8h-0.8zM175.2 545.4h0.8v0.8h-0.8zM179.7 539.8h0.8v0.8h-0.8zM182.1 551.7h0.8v0.8h-0.8zM159.0 544.1h0.8v0.8h-0.8zM179.8 543.8h0.8v0.8h-0.8zM172.4 539.7h0.8v0.8h-0.8zM179.7 543.2h0.8v0.8h-0.8zM189.9 544.6h0.8v0.8h-0.8zM183.3 538.6h0.8v0.8h-0.8zM181.7 546.0h0.8v0.8h-0.8zM177.1 542.1h0.8v0.8h-0.8zM177.1 564.0h0.8v0.8h-0.8zM180.5 553.1h0.8v0.8h-0.8zM184.0 551.8h0.8v0.8h-0.8zM169.8 544.5h0.8v0.8h-0.8zM174.5 542.3h0.8v0.8h-0.8zM175.8 558.3h0.8v0.8h-0.8zM189.0 537.2h0.8v0.8h-0.8zM193.5 533.0h0.8v0.8h-0.8zM176.3 552.0h0.8v0.8h-0.8zM176.2 539.7h0.8v0.8h-0.8zM179.2 553.1h0.8v0.8h-0.8zM187.7 540.0h0.8v0.8h-0.8zM183.2 547.4h0.8v0.8h-0.8zM176.0 544.4h0.8v0.8h-0.8zM178.3 551.8h0.8v0.8h-0.8zM176.2 543.9h0.8v0.8h-0.8zM174.0 558.8h0.8v0.8h-0.8zM187.5 548.8h0.8v0.8h-0.8zM176.0 556.8h0.8v0.8h-0.8zM184.1 546.9h0.8v0.8h-0.8zM181.4 550.1h0.8v0.8h-0.8zM176.0 528.5h0.8v0.8h-0.8zM181.1 551.9h0.8v0.8h-0.8zM184.8 540.2h0.8v0.8h-0.8zM171.3 554.4h0.8v0.8h-0.8zM181.6 542.8h0.8v0.8h-0.8zM170.9 543.0h0.8v0.8h-0.8zM177.4 544.3h0.8v0.8h-0.8zM181.1 550.6h0.8v0.8h-0.8zM190.6 548.5h0.8v0.8h-0.8zM160.1 558.1h0.8v0.8h-0.8zM177.0 541.8h0.8v0.8h-0.8zM172.2 564.3h0.8v0.8h-0.8zM183.8 536.2h0.8v0.8h-0.8zM170.9 570.2h0.8v0.8h-0.8zM170.5 554.7h0.8v0.8h-0.8zM161.8 554.7h0.8v0.8h-0.8zM194.4 542.0h0.8v0.8h-0.8zM174.7 564.1h0.8v0.8h-0.8zM173.3 540.7h0.8v0.8h-0.8zM179.9 558.6h0.8v0.8h-0.8zM163.1 558.3h0.8v0.8h-0.8zM181.1 557.0h0.8v0.8h-0.8zM181.6 542.0h0.8v0.8h-0.8zM170.5 541.9h0.8v0.8h-0.8zM187.1 544.3h0.8v0.8h-0.8zM178.8 554.6h0.8v0.8h-0.8zM186.1 557.6h0.8v0.8h-0.8zM181.7 558.4h0.8v0.8h-0.8zM183.3 549.0h0.8v0.8h-0.8zM191.6 534.7h0.8v0.8h-0.8zM178.8 543.3h0.8v0.8h-0.8zM178.4 545.4h0.8v0.8h-0.8zM170.1 548.2h0.8v0.8h-0.8zM171.2 551.6h0.8v0.8h-0.8zM179.4 526.9h0.8v0.8h-0.8zM170.2 556.0h0.8v0.8h-0.8zM170.9 553.7h0.8v0.8h-0.8zM187.1 560.4h0.8v0.8h-0.8zM177.7 554.2h0.8v0.8h-0.8zM191.1 533.2h0.8v0.8h-0.8zM162.1 565.8h0.8v0.8h-0.8zM176.0 540.0h0.8v0.8h-0.8zM181.1 540.6h0.8v0.8h-0.8zM162.2 546.6h0.8v0.8h-0.8zM178.6 558.7h0.8v0.8h-0.8zM183.6 547.9h0.8v0.8h-0.8zM185.9 532.1h0.8v0.8h-0.8zM170.7 553.6h0.8v0.8h-0.8zM169.6 562.5h0.8v0.8h-0.8zM187.4 544.0h0.8v0.8h-0.8zM191.1 540.0h0.8v0.8h-0.8zM172.1 546.2h0.8v0.8h-0.8zM158.6 559.3h0.8v0.8h-0.8zM189.5 539.1h0.8v0.8h-0.8zM180.0 553.5h0.8v0.8h-0.8zM183.4 537.0h0.8v0.8h-0.8zM173.3 543.1h0.8v0.8h-0.8zM179.5 555.7h0.8v0.8h-0.8zM171.0 546.6h0.8v0.8h-0.8zM193.4 543.5h0.8v0.8h-0.8zM189.9 539.9h0.8v0.8h-0.8zM165.0 565.8h0.8v0.8h-0.8zM177.6 562.0h0.8v0.8h-0.8zM194.3 539.7h0.8v0.8h-0.8zM178.2 553.9h0.8v0.8h-0.8zM164.0 552.5h0.8v0.8h-0.8zM175.4 544.8h0.8v0.8h-0.8zM179.7 551.7h0.8v0.8h-0.8zM183.2 555.7h0.8v0.8h-0.8zM179.7 557.5h0.8v0.8h-0.8zM184.6 560.6h0.8v0.8h-0.8zM175.7 552.4h0.8v0.8h-0.8zM181.3 546.8h0.8v0.8h-0.8zM175.7 557.8h0.8v0.8h-0.8zM175.9 549.9h0.8v0.8h-0.8zM176.7 548.6h0.8v0.8h-0.8zM184.0 534.8h0.8v0.8h-0.8zM184.7 550.2h0.8v0.8h-0.8zM173.0 543.8h0.8v0.8h-0.8zM184.1 546.9h0.8v0.8h-0.8zM175.6 538.9h0.8v0.8h-0.8zM190.6 546.0h0.8v0.8h-0.8zM177.9 540.0h0.8v0.8h-0.8zM195.0 540.3h0.8v0.8h-0.8zM182.2 532.1h0.8v0.8h-0.8zM176.0 546.2h0.8v0.8h-0.8zM179.4 556.1h0.8v0.8h-0.8zM181.7 538.6h0.8v0.8h-0.8zM182.2 545.0h0.8v0.8h-0.8zM175.4 546.4h0.8v0.8h-0.8zM157.8 546.9h0.8v0.8h-0.8zM165.2 561.2h0.8v0.8h-0.8zM182.3 547.7h0.8v0.8h-0.8zM179.6 538.0h0.8v0.8h-0.8zM186.4 545.5h0.8v0.8h-0.8z" fill="#888" fill-opacity="0.35"/>
<ellipse cx="167" cy="558.1" rx="8.3" ry="3.6" fill="#000" fill-opacity="0.98" transform="rotate(0 167 558.1)" filter="url(#b6)"/>
<path d="M239.4 541.2h0.8v0.8h-0.8zM238.9 556.4h0.8v0.8h-0.8zM241.5 538.3h0.8v0.8h-0.8zM239.7 541.1h0.8v0.8h-0.8zM247.5 545.7h0.8v0.8h-0.8zM237.5 535.3h0.8v0.8h-0.8zM243.4 541.2h0.8v0.8h-0.8zM244.1 547.7h0.8v0.8h-0.8zM236.4 542.4h0.8v0.8h-0.8zM237.0 543.6h0.8v0.8h-0.8zM243.0 538.6h0.8v0.8h-0.8zM240.2 543.2h0.8v0.8h-0.8zM242.5 541.4h0.8v0.8h-0.8zM244.5 551.2h0.8v0.8h-0.8zM240.5 546.1h0.8v0.8h-0.8zM238.7 539.3h0.8v0.8h-0.8zM234.4 523.9h0.8v0.8h-0.8zM242.0 546.0h0.8v0.8h-0.8zM239.1 546.3h0.8v0.8h-0.8zM242.3 534.6h0.8v0.8h-0.8zM242.1 527.0h0.8v0.8h-0.8zM237.9 533.0h0.8v0.8h-0.8zM246.0 547.5h0.8v0.8h-0.8zM244.3 533.5h0.8v0.8h-0.8zM243.7 537.8h0.8v0.8h-0.8zM238.4 542.5h0.8v0.8h-0.8zM240.4 549.6h0.8v0.8h-0.8zM240.1 540.9h0.8v0.8h-0.8zM240.4 540.3h0.8v0.8h-0.8zM238.6 537.2h0.8v0.8h-0.8zM242.6 552.4h0.8v0.8h-0.8zM242.1 548.5h0.8v0.8h-0.8zM242.4 540.3h0.8v0.8h-0.8zM240.2 531.2h0.8v0.8h-0.8zM244.9 535.5h0.8v0.8h-0.8zM242.0 545.1h0.8v0.8h-0.8zM234.4 535.9h0.8v0.8h-0.8zM239.8 547.2h0.8v0.8h-0.8zM241.4 543.5h0.8v0.8h-0.8zM244.0 543.0h0.8v0.8h-0.8zM240.7 545.6h0.8v0.8h-0.8zM240.8 544.5h0.8v0.8h-0.8zM239.8 535.0h0.8v0.8h-0.8zM243.2 538.7h0.8v0.8h-0.8zM240.3 557.4h0.8v0.8h-0.8zM239.9 532.5h0.8v0.8h-0.8zM239.6 537.7h0.8v0.8h-0.8zM242.9 548.5h0.8v0.8h-0.8zM240.1 539.9h0.8v0.8h-0.8zM237.1 535.3h0.8v0.8h-0.8zM243.1 531.7h0.8v0.8h-0.8zM239.7 544.8h0.8v0.8h-0.8zM242.4 548.1h0.8v0.8h-0.8zM242.5 550.8h0.8v0.8h-0.8zM244.6 541.4h0.8v0.8h-0.8zM244.2 548.3h0.8v0.8h-0.8zM240.0 533.8h0.8v0.8h-0.8zM241.1 542.2h0.8v0.8h-0.8zM238.1 536.3h0.8v0.8h-0.8zM245.9 542.2h0.8v0.8h-0.8zM242.6 546.3h0.8v0.8h-0.8zM245.1 548.5h0.8v0.8h-0.8zM240.7 534.1h0.8v0.8h-0.8zM236.2 549.9h0.8v0.8h-0.8zM245.5 537.7h0.8v0.8h-0.8zM241.7 533.8h0.8v0.8h-0.8zM241.8 539.8h0.8v0.8h-0.8zM241.6 530.8h0.8v0.8h-0.8zM243.2 541.0h0.8v0.8h-0.8zM242.9 543.0h0.8v0.8h-0.8zM237.4 539.6h0.8v0.8h-0.8zM244.3 544.8h0.8v0.8h-0.8zM240.1 538.8h0.8v0.8h-0.8zM240.3 541.0h0.8v0.8h-0.8zM246.0 530.9h0.8v0.8h-0.8zM243.9 541.3h0.8v0.8h-0.8zM240.6 535.0h0.8v0.8h-0.8zM236.7 537.9h0.8v0.8h-0.8zM241.9 540.3h0.8v0.8h-0.8zM242.9 542.3h0.8v0.8h-0.8zM241.3 529.5h0.8v0.8h-0.8zM238.3 530.1h0.8v0.8h-0.8zM239.4 538.9h0.8v0.8h-0.8zM238.2 544.3h0.8v0.8h-0.8zM242.1 543.5h0.8v0.8h-0.8zM243.6 547.2h0.8v0.8h-0.8zM244.2 550.1h0.8v0.8h-0.8zM239.6 544.5h0.8v0.8h-0.8zM242.1 540.9h0.8v0.8h-0.8zM242.9 533.8h0.8v0.8h-0.8zM240.2 534.4h0.8v0.8h-0.8zM241.1 537.7h0.8v0.8h-0.8zM247.0 542.9h0.8v0.8h-0.8zM242.0 542.5h0.8v0.8h-0.8zM243.8 541.0h0.8v0.8h-0.8zM240.4 539.9h0.8v0.8h-0.8zM241.6 545.4h0.8v0.8h-0.8zM237.0 542.5h0.8v0.8h-0.8zM241.4 543.1h0.8v0.8h-0.8zM244.6 543.2h0.8v0.8h-0.8zM247.0 537.2h0.8v0.8h-0.8zM244.6 533.8h0.8v0.8h-0.8zM243.3 544.4h0.8v0.8h-0.8zM241.6 543.9h0.8v0.8h-0.8zM239.9 539.5h0.8v0.8h-0.8zM241.1 538.1h0.8v0.8h-0.8zM243.1 556.9h0.8v0.8h-0.8zM239.5 535.7h0.8v0.8h-0.8zM243.9 539.5h0.8v0.8h-0.8zM238.9 542.9h0.8v0.8h-0.8zM236.9 532.9h0.8v0.8h-0.8zM238.9 541.8h0.8v0.8h-0.8zM237.2 553.6h0.8v0.8h-0.8zM237.9 547.5h0.8v0.8h-0.8zM244.4 545.4h0.8v0.8h-0.8zM241.0 545.1h0.8v0.8h-0.8zM242.1 541.8h0.8v0.8h-0.8zM244.5 547.7h0.8v0.8h-0.8zM244.8 539.9h0.8v0.8h-0.8zM240.2 538.0h0.8v0.8h-0.8zM245.0 541.7h0.8v0.8h-0.8zM242.5 547.3h0.8v0.8h-0.8zM241.5 543.3h0.8v0.8h-0.8zM242.6 545.7h0.8v0.8h-0.8zM237.8 526.8h0.8v0.8h-0.8zM239.5 549.4h0.8v0.8h-0.8zM241.2 557.4h0.8v0.8h-0.8zM243.1 550.3h0.8v0.8h-0.8zM240.5 538.8h0.8v0.8h-0.8zM241.2 535.1h0.8v0.8h-0.8zM244.0 542.9h0.8v0.8h-0.8zM245.2 534.1h0.8v0.8h-0.8zM243.5 546.1h0.8v0.8h-0.8zM244.8 537.3h0.8v0.8h-0.8zM240.4 547.7h0.8v0.8h-0.8zM240.7 550.5h0.8v0.8h-0.8zM242.3 526.8h0.8v0.8h-0.8zM240.7 543.0h0.8v0.8h-0.8zM240.2 536.1h0.8v0.8h-0.8zM245.8 531.1h0.8v0.8h-0.8zM241.0 536.7h0.8v0.8h-0.8zM239.0 539.5h0.8v0.8h-0.8zM242.8 548.2h0.8v0.8h-0.8zM246.3 530.4h0.8v0.8h-0.8zM241.7 548.4h0.8v0.8h-0.8zM244.7 555.1h0.8v0.8h-0.8zM240.4 545.2h0.8v0.8h-0.8zM240.2 544.8h0.8v0.8h-0.8zM239.7 540.9h0.8v0.8h-0.8zM241.1 532.8h0.8v0.8h-0.8zM246.3 544.7h0.8v0.8h-0.8zM238.5 543.7h0.8v0.8h-0.8zM245.8 546.1h0.8v0.8h-0.8zM238.9 559.0h0.8v0.8h-0.8zM240.9 546.1h0.8v0.8h-0.8zM243.7 544.0h0.8v0.8h-0.8zM243.1 551.9h0.8v0.8h-0.8zM242.2 531.6h0.8v0.8h-0.8zM237.2 533.0h0.8v0.8h-0.8zM242.4 538.4h0.8v0.8h-0.8zM238.8 536.4h0.8v0.8h-0.8zM248.2 545.9h0.8v0.8h-0.8zM240.9 538.8h0.8v0.8h-0.8zM242.0 553.2h0.8v0.8h-0.8zM238.5 551.6h0.8v0.8h-0.8zM240.3 546.4h0.8v0.8h-0.8zM238.1 538.3h0.8v0.8h-0.8zM244.1 545.3h0.8v0.8h-0.8zM240.8 546.7h0.8v0.8h-0.8zM243.0 533.5h0.8v0.8h-0.8zM239.7 543.4h0.8v0.8h-0.8zM240.2 545.9h0.8v0.8h-0.8zM244.8 542.5h0.8v0.8h-0.8zM239.0 552.0h0.8v0.8h-0.8zM236.8 549.5h0.8v0.8h-0.8zM242.6 535.2h0.8v0.8h-0.8zM238.5 541.9h0.8v0.8h-0.8zM240.4 535.2h0.8v0.8h-0.8zM243.9 545.1h0.8v0.8h-0.8zM239.4 534.9h0.8v0.8h-0.8zM243.8 547.5h0.8v0.8h-0.8zM239.7 543.7h0.8v0.8h-0.8zM245.4 547.8h0.8v0.8h-0.8zM244.9 540.0h0.8v0.8h-0.8zM240.3 530.8h0.8v0.8h-0.8zM240.9 553.4h0.8v0.8h-0.8zM239.3 539.8h0.8v0.8h-0.8zM242.0 550.6h0.8v0.8h-0.8zM244.5 544.0h0.8v0.8h-0.8zM237.7 545.7h0.8v0.8h-0.8zM243.9 553.8h0.8v0.8h-0.8zM238.1 543.4h0.8v0.8h-0.8zM239.3 550.8h0.8v0.8h-0.8zM236.9 530.6h0.8v0.8h-0.8zM247.0 547.1h0.8v0.8h-0.8zM241.7 539.3h0.8v0.8h-0.8zM242.1 540.1h0.8v0.8h-0.8zM239.7 541.1h0.8v0.8h-0.8zM244.3 543.4h0.8v0.8h-0.8zM236.0 552.6h0.8v0.8h-0.8z" fill="#888" fill-opacity="0.4"/>
<ellipse cx="241.5" cy="543" rx="2.8" ry="8" fill="#000" fill-opacity="0.12" transform="rotate(0 241.5 543)" filter="url(#b15)"/>
<path d="M239.0 559.9h0.8v0.8h-0.8zM252.3 559.3h0.8v0.8h-0.8zM247.0 559.9h0.8v0.8h-0.8zM260.2 557.8h0.8v0.8h-0.8zM249.0 560.0h0.8v0.8h-0.8zM255.2 559.7h0.8v0.8h-0.8zM249.2 558.1h0.8v0.8h-0.8zM256.7 562.6h0.8v0.8h-0.8zM259.1 558.0h0.8v0.8h-0.8zM249.2 558.1h0.8v0.8h-0.8zM252.3 559.8h0.8v0.8h-0.8zM242.1 556.5h0.8v0.8h-0.8zM254.1 558.2h0.8v0.8h-0.8zM258.0 557.1h0.8v0.8h-0.8zM248.1 558.0h0.8v0.8h-0.8zM259.8 559.2h0.8v0.8h-0.8zM237.5 559.9h0.8v0.8h-0.8zM239.0 561.1h0.8v0.8h-0.8zM242.3 560.6h0.8v0.8h-0.8zM248.6 561.2h0.8v0.8h-0.8zM252.1 560.3h0.8v0.8h-0.8zM251.4 558.7h0.8v0.8h-0.8zM251.5 561.1h0.8v0.8h-0.8zM257.1 558.7h0.8v0.8h-0.8zM248.7 558.5h0.8v0.8h-0.8zM243.2 561.7h0.8v0.8h-0.8zM243.3 560.6h0.8v0.8h-0.8zM266.8 559.7h0.8v0.8h-0.8zM235.5 560.5h0.8v0.8h-0.8zM250.8 560.7h0.8v0.8h-0.8zM262.2 557.4h0.8v0.8h-0.8zM255.4 559.3h0.8v0.8h-0.8zM246.2 557.7h0.8v0.8h-0.8zM252.0 559.6h0.8v0.8h-0.8zM258.0 558.4h0.8v0.8h-0.8zM260.5 561.5h0.8v0.8h-0.8zM245.7 560.2h0.8v0.8h-0.8zM257.3 558.2h0.8v0.8h-0.8zM253.8 559.4h0.8v0.8h-0.8zM259.7 557.6h0.8v0.8h-0.8zM261.7 559.5h0.8v0.8h-0.8zM249.6 560.2h0.8v0.8h-0.8zM241.9 559.8h0.8v0.8h-0.8zM254.8 556.5h0.8v0.8h-0.8zM264.4 558.9h0.8v0.8h-0.8zM256.8 560.2h0.8v0.8h-0.8zM253.6 559.9h0.8v0.8h-0.8zM268.8 561.2h0.8v0.8h-0.8zM244.7 557.5h0.8v0.8h-0.8zM258.3 560.2h0.8v0.8h-0.8zM248.0 558.4h0.8v0.8h-0.8zM252.3 559.7h0.8v0.8h-0.8zM252.6 560.0h0.8v0.8h-0.8zM262.6 560.4h0.8v0.8h-0.8zM245.4 558.5h0.8v0.8h-0.8zM248.3 559.7h0.8v0.8h-0.8zM240.8 557.7h0.8v0.8h-0.8zM255.4 557.3h0.8v0.8h-0.8zM248.8 560.2h0.8v0.8h-0.8zM255.0 559.3h0.8v0.8h-0.8zM244.5 557.0h0.8v0.8h-0.8zM249.5 558.1h0.8v0.8h-0.8zM259.3 559.4h0.8v0.8h-0.8zM250.8 561.7h0.8v0.8h-0.8zM256.4 561.0h0.8v0.8h-0.8zM255.7 560.6h0.8v0.8h-0.8zM249.5 556.7h0.8v0.8h-0.8zM241.1 559.3h0.8v0.8h-0.8zM258.9 560.1h0.8v0.8h-0.8zM253.2 560.0h0.8v0.8h-0.8zM258.9 560.0h0.8v0.8h-0.8zM237.9 559.1h0.8v0.8h-0.8zM240.4 562.0h0.8v0.8h-0.8zM237.0 561.6h0.8v0.8h-0.8zM245.9 559.3h0.8v0.8h-0.8zM259.3 557.9h0.8v0.8h-0.8zM256.0 562.5h0.8v0.8h-0.8zM251.8 558.6h0.8v0.8h-0.8zM252.9 561.2h0.8v0.8h-0.8zM257.3 562.3h0.8v0.8h-0.8zM249.9 558.0h0.8v0.8h-0.8zM254.8 559.8h0.8v0.8h-0.8zM253.0 558.9h0.8v0.8h-0.8zM236.7 560.2h0.8v0.8h-0.8zM249.3 559.9h0.8v0.8h-0.8zM261.5 562.3h0.8v0.8h-0.8zM249.2 560.3h0.8v0.8h-0.8zM251.0 559.4h0.8v0.8h-0.8zM247.8 561.1h0.8v0.8h-0.8zM248.6 559.0h0.8v0.8h-0.8zM259.9 558.9h0.8v0.8h-0.8zM250.1 562.8h0.8v0.8h-0.8zM244.8 558.2h0.8v0.8h-0.8zM230.2 558.7h0.8v0.8h-0.8zM248.0 559.5h0.8v0.8h-0.8zM238.2 557.8h0.8v0.8h-0.8zM239.2 556.2h0.8v0.8h-0.8zM257.6 561.0h0.8v0.8h-0.8zM257.0 558.2h0.8v0.8h-0.8zM238.6 558.6h0.8v0.8h-0.8zM258.0 558.9h0.8v0.8h-0.8zM255.2 557.9h0.8v0.8h-0.8zM246.5 557.8h0.8v0.8h-0.8zM257.1 559.7h0.8v0.8h-0.8zM240.6 563.0h0.8v0.8h-0.8zM243.6 560.5h0.8v0.8h-0.8zM241.9 560.5h0.8v0.8h-0.8zM244.2 557.2h0.8v0.8h-0.8zM258.2 559.4h0.8v0.8h-0.8zM242.7 557.6h0.8v0.8h-0.8zM243.9 560.6h0.8v0.8h-0.8zM245.3 559.1h0.8v0.8h-0.8zM253.4 559.5h0.8v0.8h-0.8zM249.6 559.3h0.8v0.8h-0.8zM258.0 558.5h0.8v0.8h-0.8zM247.0 557.1h0.8v0.8h-0.8zM243.0 560.3h0.8v0.8h-0.8zM248.5 557.3h0.8v0.8h-0.8zM252.2 557.6h0.8v0.8h-0.8zM245.5 559.0h0.8v0.8h-0.8zM253.9 558.4h0.8v0.8h-0.8zM264.7 559.8h0.8v0.8h-0.8zM247.9 560.9h0.8v0.8h-0.8zM252.3 559.8h0.8v0.8h-0.8zM261.4 559.7h0.8v0.8h-0.8zM247.4 559.4h0.8v0.8h-0.8zM246.0 560.7h0.8v0.8h-0.8zM244.3 556.6h0.8v0.8h-0.8zM254.7 560.0h0.8v0.8h-0.8zM255.5 558.0h0.8v0.8h-0.8zM250.9 557.6h0.8v0.8h-0.8zM252.2 559.4h0.8v0.8h-0.8zM260.8 558.8h0.8v0.8h-0.8zM257.9 560.3h0.8v0.8h-0.8zM242.1 561.1h0.8v0.8h-0.8zM251.8 555.9h0.8v0.8h-0.8zM252.6 559.3h0.8v0.8h-0.8zM256.9 562.3h0.8v0.8h-0.8zM250.3 560.7h0.8v0.8h-0.8zM247.3 561.6h0.8v0.8h-0.8zM248.6 559.6h0.8v0.8h-0.8zM239.4 557.3h0.8v0.8h-0.8zM251.6 557.7h0.8v0.8h-0.8zM247.6 560.5h0.8v0.8h-0.8zM255.1 560.8h0.8v0.8h-0.8zM244.6 558.3h0.8v0.8h-0.8zM248.7 559.0h0.8v0.8h-0.8zM244.9 559.8h0.8v0.8h-0.8zM244.3 556.8h0.8v0.8h-0.8zM256.7 558.9h0.8v0.8h-0.8zM248.5 561.8h0.8v0.8h-0.8zM254.9 562.7h0.8v0.8h-0.8zM243.9 559.2h0.8v0.8h-0.8zM252.4 562.2h0.8v0.8h-0.8zM239.9 558.6h0.8v0.8h-0.8zM248.4 558.2h0.8v0.8h-0.8zM248.2 556.1h0.8v0.8h-0.8zM255.8 560.8h0.8v0.8h-0.8zM253.0 558.9h0.8v0.8h-0.8zM250.5 562.9h0.8v0.8h-0.8zM257.6 559.9h0.8v0.8h-0.8zM253.0 559.7h0.8v0.8h-0.8zM255.5 556.7h0.8v0.8h-0.8zM257.1 561.7h0.8v0.8h-0.8zM251.2 558.9h0.8v0.8h-0.8zM249.6 559.2h0.8v0.8h-0.8zM254.0 556.1h0.8v0.8h-0.8zM248.8 560.8h0.8v0.8h-0.8zM254.4 560.9h0.8v0.8h-0.8zM259.4 558.5h0.8v0.8h-0.8zM257.7 559.6h0.8v0.8h-0.8zM249.0 560.0h0.8v0.8h-0.8zM242.7 560.9h0.8v0.8h-0.8zM251.3 559.6h0.8v0.8h-0.8zM250.8 562.0h0.8v0.8h-0.8zM259.4 559.1h0.8v0.8h-0.8zM249.0 558.5h0.8v0.8h-0.8zM250.2 558.7h0.8v0.8h-0.8zM256.8 555.6h0.8v0.8h-0.8zM248.3 558.2h0.8v0.8h-0.8zM250.6 560.9h0.8v0.8h-0.8zM263.7 559.8h0.8v0.8h-0.8zM262.1 558.2h0.8v0.8h-0.8zM256.1 559.9h0.8v0.8h-0.8zM253.5 556.4h0.8v0.8h-0.8zM244.9 559.0h0.8v0.8h-0.8zM255.6 560.2h0.8v0.8h-0.8zM252.1 560.5h0.8v0.8h-0.8zM253.2 558.3h0.8v0.8h-0.8zM248.0 560.8h0.8v0.8h-0.8zM251.6 562.2h0.8v0.8h-0.8zM250.4 558.8h0.8v0.8h-0.8zM253.9 560.5h0.8v0.8h-0.8zM261.6 557.1h0.8v0.8h-0.8zM254.2 556.5h0.8v0.8h-0.8zM240.1 560.3h0.8v0.8h-0.8zM244.9 559.5h0.8v0.8h-0.8zM240.6 559.7h0.8v0.8h-0.8zM246.1 558.5h0.8v0.8h-0.8zM255.6 559.0h0.8v0.8h-0.8zM254.5 560.6h0.8v0.8h-0.8zM247.5 562.0h0.8v0.8h-0.8zM253.5 559.1h0.8v0.8h-0.8zM246.4 556.9h0.8v0.8h-0.8zM241.7 561.3h0.8v0.8h-0.8zM241.8 560.3h0.8v0.8h-0.8zM245.7 560.4h0.8v0.8h-0.8zM261.6 559.7h0.8v0.8h-0.8zM242.3 562.9h0.8v0.8h-0.8zM260.3 559.5h0.8v0.8h-0.8zM260.9 560.2h0.8v0.8h-0.8zM250.4 556.6h0.8v0.8h-0.8zM251.3 558.6h0.8v0.8h-0.8zM247.4 558.4h0.8v0.8h-0.8zM251.5 559.4h0.8v0.8h-0.8zM256.3 559.9h0.8v0.8h-0.8zM251.7 558.3h0.8v0.8h-0.8zM258.6 562.0h0.8v0.8h-0.8zM259.9 557.8h0.8v0.8h-0.8zM254.0 558.7h0.8v0.8h-0.8z" fill="#333" fill-opacity="0.4"/>
<ellipse cx="250" cy="559.5" rx="7" ry="1.6" fill="#000" fill-opacity="0.3" transform="rotate(0 250 559.5)" filter="url(#b10)"/>
<ellipse cx="241.9" cy="559.4" rx="2.6" ry="4.0" fill="#000" fill-opacity="0.98" transform="rotate(0 241.9 559.4)" filter="url(#b5)"/>
<path d="M96.4 604.0h0.8v0.8h-0.8zM85.2 598.1h0.8v0.8h-0.8zM98.9 600.8h0.8v0.8h-0.8zM99.4 602.1h0.8v0.8h-0.8zM92.4 592.7h0.8v0.8h-0.8zM108.9 604.7h0.8v0.8h-0.8zM95.2 600.2h0.8v0.8h-0.8zM96.7 601.4h0.8v0.8h-0.8zM87.4 593.2h0.8v0.8h-0.8zM89.9 598.9h0.8v0.8h-0.8zM92.2 594.7h0.8v0.8h-0.8zM91.2 607.4h0.8v0.8h-0.8zM100.4 599.6h0.8v0.8h-0.8zM86.1 598.0h0.8v0.8h-0.8zM104.7 602.2h0.8v0.8h-0.8zM90.4 599.7h0.8v0.8h-0.8zM90.8 602.6h0.8v0.8h-0.8zM86.3 603.7h0.8v0.8h-0.8zM101.4 591.5h0.8v0.8h-0.8zM91.5 594.9h0.8v0.8h-0.8zM96.3 592.9h0.8v0.8h-0.8zM103.4 603.6h0.8v0.8h-0.8zM97.6 600.0h0.8v0.8h-0.8zM98.8 592.4h0.8v0.8h-0.8zM103.9 595.8h0.8v0.8h-0.8zM93.2 601.7h0.8v0.8h-0.8zM93.4 594.7h0.8v0.8h-0.8zM100.0 596.7h0.8v0.8h-0.8zM97.8 598.5h0.8v0.8h-0.8zM92.8 588.9h0.8v0.8h-0.8zM95.0 600.6h0.8v0.8h-0.8zM90.8 598.6h0.8v0.8h-0.8zM100.0 599.6h0.8v0.8h-0.8zM101.6 592.7h0.8v0.8h-0.8zM94.7 593.6h0.8v0.8h-0.8zM108.7 594.4h0.8v0.8h-0.8zM92.9 597.4h0.8v0.8h-0.8zM107.5 597.7h0.8v0.8h-0.8zM91.5 605.2h0.8v0.8h-0.8zM105.1 593.9h0.8v0.8h-0.8zM98.7 594.1h0.8v0.8h-0.8zM85.7 604.8h0.8v0.8h-0.8zM100.5 595.7h0.8v0.8h-0.8zM87.0 603.3h0.8v0.8h-0.8zM84.6 604.3h0.8v0.8h-0.8zM93.5 594.6h0.8v0.8h-0.8zM91.0 595.9h0.8v0.8h-0.8zM86.4 597.5h0.8v0.8h-0.8zM91.9 593.2h0.8v0.8h-0.8zM87.1 592.7h0.8v0.8h-0.8zM95.1 595.3h0.8v0.8h-0.8zM94.5 600.9h0.8v0.8h-0.8zM100.2 595.1h0.8v0.8h-0.8zM91.2 596.2h0.8v0.8h-0.8zM84.6 595.0h0.8v0.8h-0.8zM84.7 590.9h0.8v0.8h-0.8zM92.8 603.8h0.8v0.8h-0.8zM106.2 586.5h0.8v0.8h-0.8zM101.0 594.1h0.8v0.8h-0.8zM89.8 599.6h0.8v0.8h-0.8zM101.7 590.8h0.8v0.8h-0.8zM85.9 599.8h0.8v0.8h-0.8zM102.3 602.7h0.8v0.8h-0.8zM91.8 593.2h0.8v0.8h-0.8zM100.4 598.0h0.8v0.8h-0.8zM99.3 592.1h0.8v0.8h-0.8zM92.6 599.4h0.8v0.8h-0.8zM97.1 597.5h0.8v0.8h-0.8zM86.6 598.1h0.8v0.8h-0.8zM94.1 603.2h0.8v0.8h-0.8zM102.8 599.2h0.8v0.8h-0.8zM125.5 603.1h0.8v0.8h-0.8zM99.9 599.9h0.8v0.8h-0.8zM95.3 591.7h0.8v0.8h-0.8zM87.0 598.3h0.8v0.8h-0.8zM102.6 599.3h0.8v0.8h-0.8zM88.6 603.1h0.8v0.8h-0.8zM97.3 597.4h0.8v0.8h-0.8zM85.6 598.7h0.8v0.8h-0.8zM106.2 593.1h0.8v0.8h-0.8zM102.9 597.4h0.8v0.8h-0.8zM90.4 598.4h0.8v0.8h-0.8zM90.5 595.6h0.8v0.8h-0.8zM84.7 597.4h0.8v0.8h-0.8zM84.1 587.5h0.8v0.8h-0.8zM98.0 603.2h0.8v0.8h-0.8zM99.3 592.1h0.8v0.8h-0.8zM97.3 587.3h0.8v0.8h-0.8zM96.7 592.8h0.8v0.8h-0.8zM90.4 593.3h0.8v0.8h-0.8zM97.4 599.5h0.8v0.8h-0.8zM83.6 593.0h0.8v0.8h-0.8zM94.7 598.4h0.8v0.8h-0.8zM105.7 592.8h0.8v0.8h-0.8zM104.6 607.0h0.8v0.8h-0.8zM91.2 599.5h0.8v0.8h-0.8zM92.1 605.9h0.8v0.8h-0.8zM105.0 592.5h0.8v0.8h-0.8zM108.1 600.1h0.8v0.8h-0.8zM83.4 592.8h0.8v0.8h-0.8zM91.4 599.7h0.8v0.8h-0.8zM96.4 600.1h0.8v0.8h-0.8zM103.8 589.9h0.8v0.8h-0.8zM88.3 592.0h0.8v0.8h-0.8zM99.5 591.8h0.8v0.8h-0.8zM92.4 590.3h0.8v0.8h-0.8zM112.5 593.8h0.8v0.8h-0.8zM97.9 592.8h0.8v0.8h-0.8zM93.6 590.6h0.8v0.8h-0.8zM92.1 597.5h0.8v0.8h-0.8zM102.6 599.5h0.8v0.8h-0.8zM99.8 591.2h0.8v0.8h-0.8zM86.5 594.6h0.8v0.8h-0.8zM96.3 597.1h0.8v0.8h-0.8zM84.6 596.0h0.8v0.8h-0.8zM89.0 593.9h0.8v0.8h-0.8zM84.9 600.7h0.8v0.8h-0.8zM84.7 600.9h0.8v0.8h-0.8zM89.5 600.1h0.8v0.8h-0.8zM87.3 596.1h0.8v0.8h-0.8zM98.6 606.0h0.8v0.8h-0.8zM100.7 604.9h0.8v0.8h-0.8zM92.9 595.2h0.8v0.8h-0.8zM86.2 596.5h0.8v0.8h-0.8zM100.7 602.4h0.8v0.8h-0.8zM100.1 597.3h0.8v0.8h-0.8zM99.6 593.9h0.8v0.8h-0.8zM102.0 596.0h0.8v0.8h-0.8zM93.0 590.0h0.8v0.8h-0.8zM85.2 594.6h0.8v0.8h-0.8zM90.8 588.1h0.8v0.8h-0.8zM98.9 607.3h0.8v0.8h-0.8zM88.9 603.8h0.8v0.8h-0.8zM89.4 602.6h0.8v0.8h-0.8zM84.2 598.4h0.8v0.8h-0.8zM85.9 601.5h0.8v0.8h-0.8zM101.0 602.8h0.8v0.8h-0.8zM98.1 601.6h0.8v0.8h-0.8zM85.9 601.2h0.8v0.8h-0.8zM86.5 592.9h0.8v0.8h-0.8zM90.4 599.0h0.8v0.8h-0.8zM98.8 594.6h0.8v0.8h-0.8zM85.9 591.7h0.8v0.8h-0.8zM93.4 591.9h0.8v0.8h-0.8zM85.2 601.8h0.8v0.8h-0.8zM97.8 590.9h0.8v0.8h-0.8zM101.4 604.9h0.8v0.8h-0.8zM86.0 603.6h0.8v0.8h-0.8zM88.8 595.3h0.8v0.8h-0.8zM100.7 594.9h0.8v0.8h-0.8zM91.7 596.7h0.8v0.8h-0.8zM90.6 601.4h0.8v0.8h-0.8zM98.6 595.3h0.8v0.8h-0.8zM96.1 592.0h0.8v0.8h-0.8zM103.0 598.6h0.8v0.8h-0.8zM100.6 587.7h0.8v0.8h-0.8zM90.3 597.6h0.8v0.8h-0.8zM93.8 602.2h0.8v0.8h-0.8zM94.2 598.4h0.8v0.8h-0.8zM84.5 600.5h0.8v0.8h-0.8zM87.3 599.2h0.8v0.8h-0.8zM102.0 600.3h0.8v0.8h-0.8zM102.2 593.3h0.8v0.8h-0.8zM96.8 596.0h0.8v0.8h-0.8zM93.6 596.7h0.8v0.8h-0.8zM98.7 602.7h0.8v0.8h-0.8zM98.3 604.3h0.8v0.8h-0.8zM103.8 598.9h0.8v0.8h-0.8zM91.7 593.6h0.8v0.8h-0.8zM93.0 593.7h0.8v0.8h-0.8zM92.8 596.2h0.8v0.8h-0.8zM108.9 603.2h0.8v0.8h-0.8zM101.8 598.5h0.8v0.8h-0.8zM87.7 596.8h0.8v0.8h-0.8zM92.2 593.6h0.8v0.8h-0.8zM89.4 601.0h0.8v0.8h-0.8zM94.8 598.3h0.8v0.8h-0.8zM96.3 596.8h0.8v0.8h-0.8zM111.9 597.5h0.8v0.8h-0.8zM102.4 596.3h0.8v0.8h-0.8zM98.0 604.6h0.8v0.8h-0.8zM89.4 602.6h0.8v0.8h-0.8zM93.6 597.2h0.8v0.8h-0.8zM91.0 601.0h0.8v0.8h-0.8zM95.1 596.4h0.8v0.8h-0.8zM102.3 593.3h0.8v0.8h-0.8zM104.6 592.9h0.8v0.8h-0.8zM91.9 599.3h0.8v0.8h-0.8zM106.0 597.1h0.8v0.8h-0.8zM97.8 599.6h0.8v0.8h-0.8zM104.0 600.7h0.8v0.8h-0.8zM102.9 598.4h0.8v0.8h-0.8zM95.1 588.9h0.8v0.8h-0.8zM88.5 597.7h0.8v0.8h-0.8zM99.8 593.1h0.8v0.8h-0.8zM100.1 597.5h0.8v0.8h-0.8zM110.5 603.1h0.8v0.8h-0.8zM93.2 597.9h0.8v0.8h-0.8zM102.7 596.6h0.8v0.8h-0.8zM85.3 588.5h0.8v0.8h-0.8zM93.0 599.9h0.8v0.8h-0.8zM110.7 597.2h0.8v0.8h-0.8zM105.4 594.7h0.8v0.8h-0.8zM88.1 593.8h0.8v0.8h-0.8zM105.5 611.5h0.8v0.8h-0.8zM103.7 595.2h0.8v0.8h-0.8zM100.6 588.9h0.8v0.8h-0.8zM97.6 592.8h0.8v0.8h-0.8zM96.5 595.4h0.8v0.8h-0.8zM88.2 595.3h0.8v0.8h-0.8zM90.9 596.6h0.8v0.8h-0.8zM100.3 592.3h0.8v0.8h-0.8zM95.8 599.4h0.8v0.8h-0.8zM108.7 594.8h0.8v0.8h-0.8zM92.3 590.9h0.8v0.8h-0.8zM92.3 595.3h0.8v0.8h-0.8zM96.9 600.8h0.8v0.8h-0.8zM97.7 599.2h0.8v0.8h-0.8zM95.3 595.5h0.8v0.8h-0.8zM88.6 597.1h0.8v0.8h-0.8zM106.0 598.0h0.8v0.8h-0.8zM89.8 606.2h0.8v0.8h-0.8zM100.1 594.2h0.8v0.8h-0.8zM92.6 599.1h0.8v0.8h-0.8zM85.8 600.3h0.8v0.8h-0.8zM105.4 592.7h0.8v0.8h-0.8zM88.4 597.7h0.8v0.8h-0.8zM98.0 594.9h0.8v0.8h-0.8zM92.1 599.6h0.8v0.8h-0.8zM100.4 601.6h0.8v0.8h-0.8zM94.1 602.1h0.8v0.8h-0.8zM91.4 596.1h0.8v0.8h-0.8zM111.0 597.9h0.8v0.8h-0.8zM93.2 607.6h0.8v0.8h-0.8zM93.6 592.0h0.8v0.8h-0.8zM86.7 598.0h0.8v0.8h-0.8zM89.2 601.0h0.8v0.8h-0.8zM99.7 597.7h0.8v0.8h-0.8zM99.1 600.0h0.8v0.8h-0.8zM94.8 597.8h0.8v0.8h-0.8zM89.6 600.4h0.8v0.8h-0.8zM100.0 602.8h0.8v0.8h-0.8zM92.3 597.9h0.8v0.8h-0.8zM93.0 596.8h0.8v0.8h-0.8zM88.5 595.2h0.8v0.8h-0.8zM96.0 596.9h0.8v0.8h-0.8zM89.8 591.9h0.8v0.8h-0.8zM88.8 600.4h0.8v0.8h-0.8zM108.4 604.7h0.8v0.8h-0.8zM100.4 604.7h0.8v0.8h-0.8zM103.9 602.7h0.8v0.8h-0.8zM95.3 592.7h0.8v0.8h-0.8zM102.1 603.8h0.8v0.8h-0.8zM100.8 593.8h0.8v0.8h-0.8zM104.0 596.8h0.8v0.8h-0.8zM112.7 605.3h0.8v0.8h-0.8zM93.2 592.2h0.8v0.8h-0.8zM96.9 600.8h0.8v0.8h-0.8zM94.5 598.3h0.8v0.8h-0.8zM84.4 593.1h0.8v0.8h-0.8zM95.1 598.9h0.8v0.8h-0.8zM99.7 594.9h0.8v0.8h-0.8zM90.6 601.7h0.8v0.8h-0.8zM103.5 602.5h0.8v0.8h-0.8zM104.6 590.8h0.8v0.8h-0.8zM91.8 594.7h0.8v0.8h-0.8zM105.6 595.6h0.8v0.8h-0.8zM108.1 591.7h0.8v0.8h-0.8zM98.4 592.0h0.8v0.8h-0.8zM87.6 597.4h0.8v0.8h-0.8zM106.0 596.1h0.8v0.8h-0.8zM93.7 589.6h0.8v0.8h-0.8zM92.1 594.6h0.8v0.8h-0.8zM95.9 599.3h0.8v0.8h-0.8zM90.9 591.6h0.8v0.8h-0.8zM103.0 592.8h0.8v0.8h-0.8zM100.8 604.1h0.8v0.8h-0.8zM104.1 602.9h0.8v0.8h-0.8zM99.4 589.7h0.8v0.8h-0.8zM89.0 590.9h0.8v0.8h-0.8zM93.8 598.7h0.8v0.8h-0.8zM101.6 591.6h0.8v0.8h-0.8zM91.9 595.9h0.8v0.8h-0.8zM116.9 595.0h0.8v0.8h-0.8zM93.2 599.5h0.8v0.8h-0.8zM90.6 585.6h0.8v0.8h-0.8zM103.6 587.1h0.8v0.8h-0.8zM100.6 591.5h0.8v0.8h-0.8zM94.8 601.6h0.8v0.8h-0.8zM93.3 596.3h0.8v0.8h-0.8zM98.2 589.3h0.8v0.8h-0.8zM101.3 599.2h0.8v0.8h-0.8zM100.7 600.2h0.8v0.8h-0.8zM92.7 595.9h0.8v0.8h-0.8zM98.2 595.5h0.8v0.8h-0.8zM101.3 599.0h0.8v0.8h-0.8zM100.7 602.4h0.8v0.8h-0.8zM88.3 599.4h0.8v0.8h-0.8zM89.2 596.8h0.8v0.8h-0.8zM93.3 595.3h0.8v0.8h-0.8zM96.3 592.9h0.8v0.8h-0.8zM101.9 598.2h0.8v0.8h-0.8zM99.6 595.6h0.8v0.8h-0.8zM94.0 595.9h0.8v0.8h-0.8zM95.2 601.2h0.8v0.8h-0.8zM108.2 599.2h0.8v0.8h-0.8zM90.4 600.9h0.8v0.8h-0.8zM97.3 589.9h0.8v0.8h-0.8zM106.7 599.5h0.8v0.8h-0.8zM97.6 594.3h0.8v0.8h-0.8zM97.8 593.2h0.8v0.8h-0.8zM92.1 602.5h0.8v0.8h-0.8zM94.2 600.7h0.8v0.8h-0.8zM102.9 593.8h0.8v0.8h-0.8zM98.5 591.9h0.8v0.8h-0.8zM93.0 597.1h0.8v0.8h-0.8zM101.7 594.9h0.8v0.8h-0.8zM98.3 604.5h0.8v0.8h-0.8zM95.8 590.4h0.8v0.8h-0.8zM97.3 588.8h0.8v0.8h-0.8zM96.9 595.8h0.8v0.8h-0.8zM92.5 597.0h0.8v0.8h-0.8zM91.6 597.6h0.8v0.8h-0.8zM95.2 600.4h0.8v0.8h-0.8zM87.8 606.3h0.8v0.8h-0.8zM85.6 595.5h0.8v0.8h-0.8zM104.8 594.6h0.8v0.8h-0.8zM93.2 589.1h0.8v0.8h-0.8zM94.8 598.1h0.8v0.8h-0.8zM94.0 600.8h0.8v0.8h-0.8zM95.2 595.8h0.8v0.8h-0.8zM95.2 602.3h0.8v0.8h-0.8zM95.5 597.1h0.8v0.8h-0.8zM89.0 603.8h0.8v0.8h-0.8zM102.0 598.5h0.8v0.8h-0.8zM89.8 592.2h0.8v0.8h-0.8zM102.8 594.1h0.8v0.8h-0.8zM87.0 589.2h0.8v0.8h-0.8zM102.4 598.2h0.8v0.8h-0.8zM93.9 600.9h0.8v0.8h-0.8zM90.0 605.8h0.8v0.8h-0.8zM97.8 596.8h0.8v0.8h-0.8zM87.2 595.9h0.8v0.8h-0.8zM95.6 592.0h0.8v0.8h-0.8zM91.6 598.8h0.8v0.8h-0.8zM90.1 594.3h0.8v0.8h-0.8zM99.0 600.1h0.8v0.8h-0.8zM101.6 599.5h0.8v0.8h-0.8zM88.6 588.6h0.8v0.8h-0.8zM107.1 600.3h0.8v0.8h-0.8zM90.6 597.6h0.8v0.8h-0.8zM106.5 604.9h0.8v0.8h-0.8zM94.3 603.9h0.8v0.8h-0.8zM90.1 605.2h0.8v0.8h-0.8zM89.4 591.8h0.8v0.8h-0.8zM86.8 594.1h0.8v0.8h-0.8zM105.1 601.1h0.8v0.8h-0.8zM94.4 591.6h0.8v0.8h-0.8zM108.4 593.8h0.8v0.8h-0.8zM93.5 588.9h0.8v0.8h-0.8zM101.3 601.8h0.8v0.8h-0.8zM92.2 599.1h0.8v0.8h-0.8zM93.2 598.0h0.8v0.8h-0.8zM106.8 595.1h0.8v0.8h-0.8zM93.0 595.2h0.8v0.8h-0.8zM103.7 599.8h0.8v0.8h-0.8zM95.0 593.8h0.8v0.8h-0.8zM89.4 602.5h0.8v0.8h-0.8zM98.8 594.8h0.8v0.8h-0.8zM90.5 593.1h0.8v0.8h-0.8zM104.2 602.8h0.8v0.8h-0.8zM102.2 596.4h0.8v0.8h-0.8zM95.5 599.5h0.8v0.8h-0.8zM99.6 595.1h0.8v0.8h-0.8zM99.2 586.9h0.8v0.8h-0.8zM92.9 599.5h0.8v0.8h-0.8zM101.7 590.9h0.8v0.8h-0.8zM93.3 601.9h0.8v0.8h-0.8zM99.6 590.0h0.8v0.8h-0.8zM87.9 588.6h0.8v0.8h-0.8zM95.8 598.4h0.8v0.8h-0.8zM98.1 598.9h0.8v0.8h-0.8zM89.1 597.5h0.8v0.8h-0.8zM91.9 591.5h0.8v0.8h-0.8zM91.0 601.0h0.8v0.8h-0.8zM100.5 590.4h0.8v0.8h-0.8zM89.6 594.9h0.8v0.8h-0.8zM98.3 593.5h0.8v0.8h-0.8zM106.5 595.3h0.8v0.8h-0.8zM97.7 600.8h0.8v0.8h-0.8zM96.0 599.5h0.8v0.8h-0.8zM102.8 600.1h0.8v0.8h-0.8zM92.9 589.3h0.8v0.8h-0.8zM103.4 591.8h0.8v0.8h-0.8zM99.7 595.3h0.8v0.8h-0.8zM98.2 594.3h0.8v0.8h-0.8zM93.1 598.4h0.8v0.8h-0.8zM91.2 588.3h0.8v0.8h-0.8zM93.1 600.2h0.8v0.8h-0.8zM95.5 600.4h0.8v0.8h-0.8zM99.0 596.2h0.8v0.8h-0.8zM98.2 590.8h0.8v0.8h-0.8zM92.8 597.0h0.8v0.8h-0.8zM95.6 594.6h0.8v0.8h-0.8zM98.0 599.5h0.8v0.8h-0.8zM89.3 600.3h0.8v0.8h-0.8zM89.1 595.1h0.8v0.8h-0.8zM93.6 603.5h0.8v0.8h-0.8zM93.0 586.6h0.8v0.8h-0.8zM93.2 592.4h0.8v0.8h-0.8zM88.6 599.2h0.8v0.8h-0.8zM100.1 590.2h0.8v0.8h-0.8zM97.2 600.3h0.8v0.8h-0.8zM95.2 597.4h0.8v0.8h-0.8zM86.7 592.9h0.8v0.8h-0.8zM107.9 595.0h0.8v0.8h-0.8zM91.7 597.8h0.8v0.8h-0.8zM92.2 596.5h0.8v0.8h-0.8zM95.7 595.3h0.8v0.8h-0.8zM93.6 606.7h0.8v0.8h-0.8zM94.7 597.0h0.8v0.8h-0.8z" fill="#111" fill-opacity="0.5"/>
<ellipse cx="95" cy="597" rx="8.5" ry="4.8" fill="#000" fill-opacity="0.55" transform="rotate(0 95 597)" filter="url(#b13)"/>
<path d="M91.3 616.6h0.8v0.8h-0.8zM108.3 617.3h0.8v0.8h-0.8zM107.4 614.4h0.8v0.8h-0.8zM111.0 612.4h0.8v0.8h-0.8zM116.1 612.9h0.8v0.8h-0.8zM91.5 626.4h0.8v0.8h-0.8zM109.5 612.1h0.8v0.8h-0.8zM110.3 610.6h0.8v0.8h-0.8zM100.0 609.8h0.8v0.8h-0.8zM102.2 611.8h0.8v0.8h-0.8zM94.8 605.2h0.8v0.8h-0.8zM116.1 600.1h0.8v0.8h-0.8zM83.9 613.8h0.8v0.8h-0.8zM95.2 602.4h0.8v0.8h-0.8zM102.6 613.6h0.8v0.8h-0.8zM105.2 612.8h0.8v0.8h-0.8zM114.7 618.9h0.8v0.8h-0.8zM84.1 622.0h0.8v0.8h-0.8zM100.4 614.2h0.8v0.8h-0.8zM107.7 608.7h0.8v0.8h-0.8zM88.2 605.0h0.8v0.8h-0.8zM99.6 607.2h0.8v0.8h-0.8zM117.0 612.2h0.8v0.8h-0.8zM111.8 599.6h0.8v0.8h-0.8zM104.9 612.5h0.8v0.8h-0.8zM98.8 615.9h0.8v0.8h-0.8zM103.5 610.0h0.8v0.8h-0.8zM97.2 612.6h0.8v0.8h-0.8zM99.4 607.6h0.8v0.8h-0.8zM127.8 609.2h0.8v0.8h-0.8zM98.1 601.4h0.8v0.8h-0.8zM91.3 612.7h0.8v0.8h-0.8zM102.2 621.3h0.8v0.8h-0.8zM97.2 613.0h0.8v0.8h-0.8zM97.2 614.2h0.8v0.8h-0.8zM99.2 606.1h0.8v0.8h-0.8zM107.0 620.6h0.8v0.8h-0.8zM102.1 607.4h0.8v0.8h-0.8zM89.2 616.8h0.8v0.8h-0.8zM98.8 612.6h0.8v0.8h-0.8zM104.3 606.2h0.8v0.8h-0.8zM95.8 618.2h0.8v0.8h-0.8zM110.3 612.1h0.8v0.8h-0.8zM107.0 613.1h0.8v0.8h-0.8zM91.1 614.7h0.8v0.8h-0.8zM102.9 611.9h0.8v0.8h-0.8zM117.9 609.7h0.8v0.8h-0.8zM114.0 614.8h0.8v0.8h-0.8zM99.5 609.6h0.8v0.8h-0.8zM108.1 612.4h0.8v0.8h-0.8zM93.9 608.0h0.8v0.8h-0.8zM87.0 603.1h0.8v0.8h-0.8zM105.0 608.0h0.8v0.8h-0.8zM102.2 609.0h0.8v0.8h-0.8zM104.6 612.1h0.8v0.8h-0.8zM99.8 619.1h0.8v0.8h-0.8zM102.9 601.9h0.8v0.8h-0.8zM95.4 612.8h0.8v0.8h-0.8zM104.3 598.7h0.8v0.8h-0.8zM107.5 605.7h0.8v0.8h-0.8zM99.5 609.0h0.8v0.8h-0.8zM107.3 598.5h0.8v0.8h-0.8zM84.1 600.9h0.8v0.8h-0.8zM92.9 612.9h0.8v0.8h-0.8zM113.0 612.5h0.8v0.8h-0.8zM115.9 611.3h0.8v0.8h-0.8zM102.3 607.2h0.8v0.8h-0.8zM99.1 624.9h0.8v0.8h-0.8zM88.6 611.0h0.8v0.8h-0.8zM103.3 606.8h0.8v0.8h-0.8zM107.0 622.1h0.8v0.8h-0.8zM86.7 615.7h0.8v0.8h-0.8zM105.0 609.8h0.8v0.8h-0.8zM104.4 619.2h0.8v0.8h-0.8zM104.0 612.9h0.8v0.8h-0.8zM89.9 615.9h0.8v0.8h-0.8zM104.9 613.4h0.8v0.8h-0.8zM86.5 605.8h0.8v0.8h-0.8zM113.4 617.8h0.8v0.8h-0.8zM101.2 613.0h0.8v0.8h-0.8zM89.5 605.9h0.8v0.8h-0.8zM112.1 607.4h0.8v0.8h-0.8zM110.4 617.7h0.8v0.8h-0.8zM94.1 609.8h0.8v0.8h-0.8zM119.8 612.3h0.8v0.8h-0.8zM91.0 615.9h0.8v0.8h-0.8zM102.8 612.8h0.8v0.8h-0.8zM110.6 602.8h0.8v0.8h-0.8zM109.0 617.6h0.8v0.8h-0.8zM99.4 617.2h0.8v0.8h-0.8zM99.9 621.7h0.8v0.8h-0.8zM90.3 614.2h0.8v0.8h-0.8zM103.0 616.7h0.8v0.8h-0.8zM90.0 621.5h0.8v0.8h-0.8zM91.3 610.3h0.8v0.8h-0.8zM96.0 622.4h0.8v0.8h-0.8zM89.0 622.4h0.8v0.8h-0.8zM114.2 616.7h0.8v0.8h-0.8zM88.0 623.0h0.8v0.8h-0.8zM93.2 617.1h0.8v0.8h-0.8zM97.2 606.7h0.8v0.8h-0.8zM100.0 618.8h0.8v0.8h-0.8zM107.1 614.0h0.8v0.8h-0.8zM107.4 614.5h0.8v0.8h-0.8zM97.3 612.9h0.8v0.8h-0.8zM96.5 620.2h0.8v0.8h-0.8zM100.3 615.3h0.8v0.8h-0.8zM107.4 607.8h0.8v0.8h-0.8zM106.3 614.9h0.8v0.8h-0.8zM95.4 616.4h0.8v0.8h-0.8zM119.3 609.4h0.8v0.8h-0.8zM108.6 609.7h0.8v0.8h-0.8zM102.4 608.4h0.8v0.8h-0.8zM103.1 614.1h0.8v0.8h-0.8zM95.3 618.1h0.8v0.8h-0.8zM91.0 623.4h0.8v0.8h-0.8zM97.0 619.2h0.8v0.8h-0.8zM98.0 618.1h0.8v0.8h-0.8zM94.4 618.9h0.8v0.8h-0.8zM86.9 620.0h0.8v0.8h-0.8zM97.2 609.7h0.8v0.8h-0.8zM105.2 616.2h0.8v0.8h-0.8zM95.5 613.9h0.8v0.8h-0.8zM100.2 611.2h0.8v0.8h-0.8zM98.1 609.0h0.8v0.8h-0.8zM98.9 610.4h0.8v0.8h-0.8zM89.0 604.6h0.8v0.8h-0.8zM84.4 615.1h0.8v0.8h-0.8zM103.7 611.9h0.8v0.8h-0.8zM92.7 612.6h0.8v0.8h-0.8zM104.4 614.0h0.8v0.8h-0.8zM96.2 616.3h0.8v0.8h-0.8zM105.6 608.4h0.8v0.8h-0.8zM97.0 611.4h0.8v0.8h-0.8zM86.4 602.3h0.8v0.8h-0.8zM99.2 598.7h0.8v0.8h-0.8zM97.0 600.4h0.8v0.8h-0.8zM105.9 621.2h0.8v0.8h-0.8zM95.9 601.0h0.8v0.8h-0.8zM96.5 614.8h0.8v0.8h-0.8zM107.7 620.9h0.8v0.8h-0.8zM110.5 609.3h0.8v0.8h-0.8zM106.8 621.8h0.8v0.8h-0.8zM109.3 623.1h0.8v0.8h-0.8zM104.1 617.7h0.8v0.8h-0.8z" fill="#999" fill-opacity="0.35"/>
<path d="M122.4 625.4h0.8v0.8h-0.8zM106.6 622.1h0.8v0.8h-0.8zM94.4 619.3h0.8v0.8h-0.8zM105.7 621.7h0.8v0.8h-0.8zM97.0 620.1h0.8v0.8h-0.8zM89.3 618.9h0.8v0.8h-0.8zM89.5 622.7h0.8v0.8h-0.8zM121.8 619.8h0.8v0.8h-0.8zM96.2 616.9h0.8v0.8h-0.8zM100.8 619.3h0.8v0.8h-0.8zM95.1 620.8h0.8v0.8h-0.8zM102.3 617.9h0.8v0.8h-0.8zM98.9 625.0h0.8v0.8h-0.8zM97.4 617.9h0.8v0.8h-0.8zM90.2 626.5h0.8v0.8h-0.8zM88.4 623.9h0.8v0.8h-0.8zM94.4 618.4h0.8v0.8h-0.8zM103.7 621.6h0.8v0.8h-0.8zM119.8 624.7h0.8v0.8h-0.8zM110.6 620.6h0.8v0.8h-0.8zM117.5 617.6h0.8v0.8h-0.8zM105.5 621.5h0.8v0.8h-0.8zM100.3 627.2h0.8v0.8h-0.8zM89.2 616.7h0.8v0.8h-0.8zM101.2 622.9h0.8v0.8h-0.8zM98.4 620.8h0.8v0.8h-0.8zM115.8 620.0h0.8v0.8h-0.8zM104.1 620.2h0.8v0.8h-0.8zM111.3 624.3h0.8v0.8h-0.8zM97.7 623.0h0.8v0.8h-0.8zM88.8 618.2h0.8v0.8h-0.8zM96.9 625.9h0.8v0.8h-0.8zM97.6 617.3h0.8v0.8h-0.8zM112.0 623.2h0.8v0.8h-0.8zM119.0 621.8h0.8v0.8h-0.8zM94.5 624.8h0.8v0.8h-0.8zM98.0 622.3h0.8v0.8h-0.8zM99.9 624.4h0.8v0.8h-0.8zM98.1 621.1h0.8v0.8h-0.8zM90.0 624.1h0.8v0.8h-0.8zM102.1 622.2h0.8v0.8h-0.8zM104.5 627.7h0.8v0.8h-0.8zM104.7 619.1h0.8v0.8h-0.8zM90.4 624.8h0.8v0.8h-0.8zM100.2 622.6h0.8v0.8h-0.8zM85.6 621.7h0.8v0.8h-0.8zM109.5 619.5h0.8v0.8h-0.8zM92.1 622.6h0.8v0.8h-0.8zM98.8 616.8h0.8v0.8h-0.8zM97.2 617.1h0.8v0.8h-0.8zM96.0 623.4h0.8v0.8h-0.8zM91.7 616.6h0.8v0.8h-0.8zM85.3 625.5h0.8v0.8h-0.8zM116.9 620.4h0.8v0.8h-0.8zM103.6 622.0h0.8v0.8h-0.8zM103.7 621.4h0.8v0.8h-0.8zM120.2 622.5h0.8v0.8h-0.8zM100.4 620.4h0.8v0.8h-0.8zM106.2 620.1h0.8v0.8h-0.8zM101.5 620.8h0.8v0.8h-0.8zM112.0 624.4h0.8v0.8h-0.8zM105.8 624.6h0.8v0.8h-0.8zM104.1 625.0h0.8v0.8h-0.8zM99.0 622.3h0.8v0.8h-0.8zM103.8 620.6h0.8v0.8h-0.8zM111.8 616.2h0.8v0.8h-0.8zM100.1 623.7h0.8v0.8h-0.8zM97.5 620.0h0.8v0.8h-0.8zM98.6 623.6h0.8v0.8h-0.8zM83.5 625.1h0.8v0.8h-0.8zM107.9 621.5h0.8v0.8h-0.8zM93.7 624.4h0.8v0.8h-0.8zM99.2 622.2h0.8v0.8h-0.8zM96.8 616.0h0.8v0.8h-0.8zM86.3 619.8h0.8v0.8h-0.8zM97.3 620.0h0.8v0.8h-0.8zM84.7 622.8h0.8v0.8h-0.8zM92.8 618.6h0.8v0.8h-0.8zM98.5 619.9h0.8v0.8h-0.8zM101.3 618.3h0.8v0.8h-0.8zM101.8 621.1h0.8v0.8h-0.8zM100.1 621.4h0.8v0.8h-0.8zM120.5 624.2h0.8v0.8h-0.8zM105.2 623.6h0.8v0.8h-0.8zM90.3 621.7h0.8v0.8h-0.8zM95.8 622.0h0.8v0.8h-0.8zM95.4 621.6h0.8v0.8h-0.8zM99.7 621.6h0.8v0.8h-0.8zM95.9 625.9h0.8v0.8h-0.8zM93.6 613.8h0.8v0.8h-0.8zM116.1 620.7h0.8v0.8h-0.8zM101.7 622.2h0.8v0.8h-0.8zM98.3 624.6h0.8v0.8h-0.8zM99.0 617.9h0.8v0.8h-0.8zM99.3 622.3h0.8v0.8h-0.8zM113.8 623.8h0.8v0.8h-0.8zM105.6 619.9h0.8v0.8h-0.8zM111.4 615.5h0.8v0.8h-0.8zM104.2 617.6h0.8v0.8h-0.8zM110.8 623.2h0.8v0.8h-0.8zM119.1 618.7h0.8v0.8h-0.8zM101.6 626.6h0.8v0.8h-0.8zM85.9 621.7h0.8v0.8h-0.8zM106.6 618.8h0.8v0.8h-0.8zM95.9 619.7h0.8v0.8h-0.8zM85.2 618.0h0.8v0.8h-0.8zM95.7 622.4h0.8v0.8h-0.8zM110.8 625.7h0.8v0.8h-0.8zM112.1 620.6h0.8v0.8h-0.8zM107.8 624.0h0.8v0.8h-0.8zM91.9 618.4h0.8v0.8h-0.8zM124.0 622.2h0.8v0.8h-0.8zM90.8 628.1h0.8v0.8h-0.8zM100.6 617.0h0.8v0.8h-0.8zM88.3 624.9h0.8v0.8h-0.8zM113.2 624.8h0.8v0.8h-0.8zM105.3 615.6h0.8v0.8h-0.8zM109.3 616.9h0.8v0.8h-0.8zM102.2 618.3h0.8v0.8h-0.8zM100.7 624.1h0.8v0.8h-0.8zM102.9 619.9h0.8v0.8h-0.8zM84.4 620.7h0.8v0.8h-0.8zM110.3 623.4h0.8v0.8h-0.8zM109.6 621.6h0.8v0.8h-0.8zM97.8 621.9h0.8v0.8h-0.8zM101.2 620.3h0.8v0.8h-0.8zM104.1 624.6h0.8v0.8h-0.8zM115.5 618.9h0.8v0.8h-0.8zM105.3 626.3h0.8v0.8h-0.8zM101.8 620.2h0.8v0.8h-0.8zM96.8 618.8h0.8v0.8h-0.8zM87.8 623.2h0.8v0.8h-0.8zM96.0 622.6h0.8v0.8h-0.8zM102.0 615.3h0.8v0.8h-0.8zM99.1 621.9h0.8v0.8h-0.8zM102.1 617.2h0.8v0.8h-0.8zM108.1 618.7h0.8v0.8h-0.8zM105.3 623.6h0.8v0.8h-0.8zM103.9 618.6h0.8v0.8h-0.8zM107.3 622.3h0.8v0.8h-0.8zM103.1 620.1h0.8v0.8h-0.8zM101.1 627.0h0.8v0.8h-0.8zM105.6 620.9h0.8v0.8h-0.8zM85.9 617.7h0.8v0.8h-0.8zM112.7 617.9h0.8v0.8h-0.8zM89.8 618.5h0.8v0.8h-0.8zM109.0 621.6h0.8v0.8h-0.8zM101.5 621.2h0.8v0.8h-0.8zM111.4 624.1h0.8v0.8h-0.8zM101.7 621.7h0.8v0.8h-0.8zM92.9 621.6h0.8v0.8h-0.8zM111.1 622.2h0.8v0.8h-0.8zM103.1 620.8h0.8v0.8h-0.8zM102.5 622.1h0.8v0.8h-0.8zM102.2 623.6h0.8v0.8h-0.8zM110.5 623.6h0.8v0.8h-0.8zM108.8 619.6h0.8v0.8h-0.8zM103.5 615.9h0.8v0.8h-0.8zM87.5 618.8h0.8v0.8h-0.8zM97.8 622.0h0.8v0.8h-0.8zM102.4 613.7h0.8v0.8h-0.8zM117.6 619.8h0.8v0.8h-0.8zM104.9 622.5h0.8v0.8h-0.8zM100.6 619.5h0.8v0.8h-0.8zM112.2 617.8h0.8v0.8h-0.8zM100.5 626.4h0.8v0.8h-0.8zM101.2 625.3h0.8v0.8h-0.8zM102.9 620.4h0.8v0.8h-0.8zM88.0 625.2h0.8v0.8h-0.8zM110.1 625.1h0.8v0.8h-0.8zM105.3 617.8h0.8v0.8h-0.8zM98.9 629.2h0.8v0.8h-0.8zM91.2 618.4h0.8v0.8h-0.8zM103.4 620.4h0.8v0.8h-0.8zM114.1 617.9h0.8v0.8h-0.8zM95.7 621.4h0.8v0.8h-0.8zM91.9 617.2h0.8v0.8h-0.8zM105.3 621.2h0.8v0.8h-0.8zM87.1 624.4h0.8v0.8h-0.8zM97.5 620.4h0.8v0.8h-0.8zM95.3 625.8h0.8v0.8h-0.8zM99.0 618.5h0.8v0.8h-0.8zM96.5 624.1h0.8v0.8h-0.8zM104.5 620.3h0.8v0.8h-0.8zM99.5 621.8h0.8v0.8h-0.8zM96.1 621.3h0.8v0.8h-0.8zM97.4 621.5h0.8v0.8h-0.8zM107.2 621.0h0.8v0.8h-0.8zM110.1 618.8h0.8v0.8h-0.8zM109.7 619.4h0.8v0.8h-0.8zM107.8 622.5h0.8v0.8h-0.8zM92.5 617.7h0.8v0.8h-0.8zM98.7 619.0h0.8v0.8h-0.8zM103.4 619.1h0.8v0.8h-0.8zM87.0 621.0h0.8v0.8h-0.8z" fill="#555" fill-opacity="0.4"/>
<ellipse cx="91.5" cy="622.5" rx="6" ry="4.3" fill="#000" fill-opacity="0.92" transform="rotate(0 91.5 622.5)" filter="url(#b9)"/>
<path d="M182.0 608.9h0.8v0.8h-0.8zM176.3 603.6h0.8v0.8h-0.8zM172.8 612.2h0.8v0.8h-0.8zM178.3 607.3h0.8v0.8h-0.8zM168.7 619.6h0.8v0.8h-0.8zM156.1 630.5h0.8v0.8h-0.8zM173.6 603.0h0.8v0.8h-0.8zM160.0 614.2h0.8v0.8h-0.8zM173.5 618.2h0.8v0.8h-0.8zM168.4 616.6h0.8v0.8h-0.8zM184.8 604.7h0.8v0.8h-0.8zM169.1 617.4h0.8v0.8h-0.8zM185.4 611.5h0.8v0.8h-0.8zM170.2 606.5h0.8v0.8h-0.8zM171.2 620.5h0.8v0.8h-0.8zM162.3 615.7h0.8v0.8h-0.8zM184.4 607.1h0.8v0.8h-0.8zM185.7 610.0h0.8v0.8h-0.8zM180.2 597.0h0.8v0.8h-0.8zM194.8 596.3h0.8v0.8h-0.8zM179.5 604.7h0.8v0.8h-0.8zM179.5 604.6h0.8v0.8h-0.8zM177.2 608.7h0.8v0.8h-0.8zM175.6 603.0h0.8v0.8h-0.8zM172.1 606.5h0.8v0.8h-0.8zM172.6 616.5h0.8v0.8h-0.8zM197.5 596.8h0.8v0.8h-0.8zM160.6 618.7h0.8v0.8h-0.8zM175.6 600.4h0.8v0.8h-0.8zM189.1 613.4h0.8v0.8h-0.8zM182.8 610.9h0.8v0.8h-0.8zM171.1 615.9h0.8v0.8h-0.8zM173.1 605.2h0.8v0.8h-0.8zM172.3 608.8h0.8v0.8h-0.8zM169.7 616.3h0.8v0.8h-0.8zM174.5 604.5h0.8v0.8h-0.8zM179.6 616.7h0.8v0.8h-0.8zM173.7 612.2h0.8v0.8h-0.8zM185.0 604.5h0.8v0.8h-0.8zM165.8 611.4h0.8v0.8h-0.8zM178.8 601.3h0.8v0.8h-0.8zM170.3 609.2h0.8v0.8h-0.8zM182.4 605.9h0.8v0.8h-0.8zM177.7 606.4h0.8v0.8h-0.8zM179.0 605.1h0.8v0.8h-0.8zM170.6 616.0h0.8v0.8h-0.8zM172.1 614.2h0.8v0.8h-0.8zM175.4 619.5h0.8v0.8h-0.8zM178.7 605.9h0.8v0.8h-0.8zM180.9 598.8h0.8v0.8h-0.8zM186.9 600.2h0.8v0.8h-0.8zM178.3 617.0h0.8v0.8h-0.8zM176.8 605.2h0.8v0.8h-0.8zM164.4 619.5h0.8v0.8h-0.8zM158.1 622.2h0.8v0.8h-0.8zM171.8 615.6h0.8v0.8h-0.8zM173.0 613.6h0.8v0.8h-0.8zM162.2 615.8h0.8v0.8h-0.8zM162.1 619.6h0.8v0.8h-0.8zM185.3 607.7h0.8v0.8h-0.8zM174.5 617.7h0.8v0.8h-0.8zM166.6 623.3h0.8v0.8h-0.8zM200.0 594.8h0.8v0.8h-0.8zM178.2 605.5h0.8v0.8h-0.8zM174.0 608.8h0.8v0.8h-0.8zM186.4 606.7h0.8v0.8h-0.8zM167.7 608.9h0.8v0.8h-0.8zM190.9 596.6h0.8v0.8h-0.8zM158.9 611.9h0.8v0.8h-0.8zM165.6 615.8h0.8v0.8h-0.8zM174.3 606.3h0.8v0.8h-0.8zM167.5 608.9h0.8v0.8h-0.8zM191.4 600.3h0.8v0.8h-0.8zM161.9 616.6h0.8v0.8h-0.8zM170.4 611.8h0.8v0.8h-0.8zM178.9 605.4h0.8v0.8h-0.8zM180.1 601.3h0.8v0.8h-0.8zM190.6 606.3h0.8v0.8h-0.8zM179.0 603.8h0.8v0.8h-0.8zM196.8 593.3h0.8v0.8h-0.8zM169.5 606.5h0.8v0.8h-0.8zM177.6 605.1h0.8v0.8h-0.8zM183.8 600.8h0.8v0.8h-0.8zM174.0 609.2h0.8v0.8h-0.8zM173.3 608.0h0.8v0.8h-0.8zM174.2 611.9h0.8v0.8h-0.8zM177.1 618.5h0.8v0.8h-0.8zM167.7 615.6h0.8v0.8h-0.8zM172.5 611.5h0.8v0.8h-0.8zM163.4 617.6h0.8v0.8h-0.8zM188.8 615.0h0.8v0.8h-0.8zM169.3 625.4h0.8v0.8h-0.8zM196.7 595.7h0.8v0.8h-0.8zM194.1 598.8h0.8v0.8h-0.8zM184.6 597.7h0.8v0.8h-0.8zM175.3 609.1h0.8v0.8h-0.8zM173.3 613.1h0.8v0.8h-0.8zM188.2 600.0h0.8v0.8h-0.8zM176.4 603.7h0.8v0.8h-0.8zM179.8 601.3h0.8v0.8h-0.8zM173.1 615.2h0.8v0.8h-0.8zM187.5 601.9h0.8v0.8h-0.8zM164.2 605.9h0.8v0.8h-0.8zM178.7 607.8h0.8v0.8h-0.8zM167.0 625.2h0.8v0.8h-0.8zM170.0 610.4h0.8v0.8h-0.8zM182.5 605.6h0.8v0.8h-0.8zM169.1 605.9h0.8v0.8h-0.8zM176.4 614.5h0.8v0.8h-0.8zM180.6 598.5h0.8v0.8h-0.8zM172.9 604.0h0.8v0.8h-0.8zM186.9 598.3h0.8v0.8h-0.8zM180.3 601.9h0.8v0.8h-0.8zM177.8 599.9h0.8v0.8h-0.8zM166.0 620.8h0.8v0.8h-0.8zM167.3 618.2h0.8v0.8h-0.8zM190.1 608.3h0.8v0.8h-0.8zM164.5 611.0h0.8v0.8h-0.8zM167.1 606.7h0.8v0.8h-0.8zM181.5 602.8h0.8v0.8h-0.8zM175.9 612.0h0.8v0.8h-0.8zM182.6 606.2h0.8v0.8h-0.8zM173.6 618.4h0.8v0.8h-0.8zM175.2 600.6h0.8v0.8h-0.8zM183.9 597.5h0.8v0.8h-0.8zM179.8 605.5h0.8v0.8h-0.8zM161.7 626.9h0.8v0.8h-0.8zM184.4 605.5h0.8v0.8h-0.8zM176.6 606.3h0.8v0.8h-0.8zM166.6 610.8h0.8v0.8h-0.8zM191.9 601.8h0.8v0.8h-0.8zM165.8 624.1h0.8v0.8h-0.8zM201.7 605.3h0.8v0.8h-0.8zM171.6 612.0h0.8v0.8h-0.8zM195.8 603.3h0.8v0.8h-0.8zM173.3 604.0h0.8v0.8h-0.8zM164.6 615.6h0.8v0.8h-0.8zM176.1 605.1h0.8v0.8h-0.8zM178.8 604.2h0.8v0.8h-0.8zM179.2 601.2h0.8v0.8h-0.8zM184.6 598.8h0.8v0.8h-0.8zM169.8 614.4h0.8v0.8h-0.8zM180.2 603.1h0.8v0.8h-0.8zM185.7 605.6h0.8v0.8h-0.8zM174.9 609.9h0.8v0.8h-0.8zM169.6 614.9h0.8v0.8h-0.8zM174.1 620.5h0.8v0.8h-0.8zM184.7 604.2h0.8v0.8h-0.8zM184.6 603.2h0.8v0.8h-0.8zM170.4 614.0h0.8v0.8h-0.8zM166.4 617.9h0.8v0.8h-0.8zM189.6 601.7h0.8v0.8h-0.8zM161.9 616.2h0.8v0.8h-0.8zM182.4 611.5h0.8v0.8h-0.8zM175.6 619.8h0.8v0.8h-0.8zM166.3 625.0h0.8v0.8h-0.8zM176.9 605.6h0.8v0.8h-0.8zM170.8 603.6h0.8v0.8h-0.8zM188.1 596.5h0.8v0.8h-0.8zM197.0 592.9h0.8v0.8h-0.8zM178.5 612.7h0.8v0.8h-0.8zM185.5 600.4h0.8v0.8h-0.8zM185.2 599.8h0.8v0.8h-0.8zM177.8 617.7h0.8v0.8h-0.8zM168.1 611.9h0.8v0.8h-0.8zM194.3 600.9h0.8v0.8h-0.8zM177.2 614.2h0.8v0.8h-0.8zM173.0 603.5h0.8v0.8h-0.8zM175.9 611.4h0.8v0.8h-0.8zM174.6 607.1h0.8v0.8h-0.8zM169.4 609.0h0.8v0.8h-0.8zM177.9 596.1h0.8v0.8h-0.8zM183.0 593.6h0.8v0.8h-0.8zM175.6 612.5h0.8v0.8h-0.8zM164.6 616.5h0.8v0.8h-0.8zM178.7 609.0h0.8v0.8h-0.8zM161.6 614.8h0.8v0.8h-0.8zM171.1 611.6h0.8v0.8h-0.8zM186.9 598.6h0.8v0.8h-0.8zM192.0 586.2h0.8v0.8h-0.8zM175.4 599.4h0.8v0.8h-0.8zM169.9 617.4h0.8v0.8h-0.8zM184.4 603.3h0.8v0.8h-0.8zM155.7 620.6h0.8v0.8h-0.8zM171.3 612.8h0.8v0.8h-0.8zM192.3 600.1h0.8v0.8h-0.8zM189.4 609.9h0.8v0.8h-0.8zM163.1 614.7h0.8v0.8h-0.8zM165.4 622.3h0.8v0.8h-0.8zM191.3 610.2h0.8v0.8h-0.8zM177.2 608.9h0.8v0.8h-0.8zM177.1 618.0h0.8v0.8h-0.8zM172.7 595.7h0.8v0.8h-0.8zM177.2 617.8h0.8v0.8h-0.8zM161.3 621.8h0.8v0.8h-0.8zM178.3 595.6h0.8v0.8h-0.8zM174.5 615.8h0.8v0.8h-0.8zM172.3 619.3h0.8v0.8h-0.8zM170.1 622.2h0.8v0.8h-0.8zM183.3 611.0h0.8v0.8h-0.8zM170.6 613.8h0.8v0.8h-0.8zM180.3 601.1h0.8v0.8h-0.8zM173.7 608.4h0.8v0.8h-0.8zM186.4 600.6h0.8v0.8h-0.8zM175.5 612.5h0.8v0.8h-0.8zM170.4 611.1h0.8v0.8h-0.8zM161.1 622.3h0.8v0.8h-0.8zM171.0 619.3h0.8v0.8h-0.8zM184.5 604.4h0.8v0.8h-0.8zM173.7 625.2h0.8v0.8h-0.8zM165.1 611.3h0.8v0.8h-0.8zM178.5 603.8h0.8v0.8h-0.8zM177.3 600.0h0.8v0.8h-0.8zM168.1 608.7h0.8v0.8h-0.8zM179.8 609.8h0.8v0.8h-0.8zM160.8 615.9h0.8v0.8h-0.8zM171.6 606.4h0.8v0.8h-0.8zM184.1 600.9h0.8v0.8h-0.8zM193.7 599.8h0.8v0.8h-0.8zM174.9 608.1h0.8v0.8h-0.8zM174.1 608.8h0.8v0.8h-0.8zM184.1 608.5h0.8v0.8h-0.8zM188.2 602.3h0.8v0.8h-0.8zM183.0 606.6h0.8v0.8h-0.8zM174.1 617.1h0.8v0.8h-0.8zM177.2 602.0h0.8v0.8h-0.8zM186.2 602.3h0.8v0.8h-0.8zM169.5 610.9h0.8v0.8h-0.8zM169.5 621.5h0.8v0.8h-0.8zM184.3 607.8h0.8v0.8h-0.8zM177.2 601.8h0.8v0.8h-0.8zM189.8 606.5h0.8v0.8h-0.8zM174.5 603.2h0.8v0.8h-0.8zM175.7 617.2h0.8v0.8h-0.8zM174.4 612.1h0.8v0.8h-0.8zM166.1 612.2h0.8v0.8h-0.8zM166.0 610.7h0.8v0.8h-0.8zM171.8 611.1h0.8v0.8h-0.8zM173.3 611.6h0.8v0.8h-0.8zM184.6 597.7h0.8v0.8h-0.8zM169.0 619.0h0.8v0.8h-0.8zM172.6 603.3h0.8v0.8h-0.8zM172.5 612.4h0.8v0.8h-0.8zM189.9 597.8h0.8v0.8h-0.8zM173.8 599.4h0.8v0.8h-0.8zM175.3 612.0h0.8v0.8h-0.8zM180.3 597.8h0.8v0.8h-0.8zM170.1 598.4h0.8v0.8h-0.8zM171.6 609.3h0.8v0.8h-0.8zM189.6 596.6h0.8v0.8h-0.8zM186.3 606.6h0.8v0.8h-0.8zM190.4 594.2h0.8v0.8h-0.8zM191.9 605.6h0.8v0.8h-0.8zM188.5 608.2h0.8v0.8h-0.8zM182.1 611.4h0.8v0.8h-0.8zM172.6 620.8h0.8v0.8h-0.8zM184.6 604.6h0.8v0.8h-0.8zM176.4 605.6h0.8v0.8h-0.8zM185.2 605.9h0.8v0.8h-0.8zM180.5 611.9h0.8v0.8h-0.8zM172.5 614.0h0.8v0.8h-0.8zM168.3 614.4h0.8v0.8h-0.8zM178.4 597.4h0.8v0.8h-0.8zM190.5 601.7h0.8v0.8h-0.8zM176.2 611.6h0.8v0.8h-0.8zM177.2 600.1h0.8v0.8h-0.8zM189.4 598.8h0.8v0.8h-0.8zM172.8 616.8h0.8v0.8h-0.8zM174.3 610.2h0.8v0.8h-0.8zM170.6 619.0h0.8v0.8h-0.8zM189.8 602.8h0.8v0.8h-0.8zM175.1 600.8h0.8v0.8h-0.8zM172.7 610.3h0.8v0.8h-0.8zM165.2 621.6h0.8v0.8h-0.8zM178.9 612.9h0.8v0.8h-0.8zM190.4 606.5h0.8v0.8h-0.8zM169.0 603.0h0.8v0.8h-0.8zM173.8 610.9h0.8v0.8h-0.8zM185.2 606.4h0.8v0.8h-0.8zM171.1 621.5h0.8v0.8h-0.8zM183.3 614.2h0.8v0.8h-0.8zM179.6 600.4h0.8v0.8h-0.8zM169.9 612.2h0.8v0.8h-0.8zM167.3 610.0h0.8v0.8h-0.8zM182.2 609.5h0.8v0.8h-0.8zM172.5 603.9h0.8v0.8h-0.8zM179.4 614.3h0.8v0.8h-0.8zM182.3 610.2h0.8v0.8h-0.8zM181.0 608.4h0.8v0.8h-0.8zM162.9 606.4h0.8v0.8h-0.8zM169.9 610.3h0.8v0.8h-0.8zM183.7 607.8h0.8v0.8h-0.8zM182.5 594.9h0.8v0.8h-0.8zM188.2 597.7h0.8v0.8h-0.8zM170.2 613.7h0.8v0.8h-0.8zM189.6 603.8h0.8v0.8h-0.8zM184.8 603.9h0.8v0.8h-0.8zM178.2 609.4h0.8v0.8h-0.8zM180.3 603.0h0.8v0.8h-0.8zM184.6 602.3h0.8v0.8h-0.8zM192.1 595.1h0.8v0.8h-0.8zM171.1 618.3h0.8v0.8h-0.8zM182.1 603.2h0.8v0.8h-0.8zM179.7 613.0h0.8v0.8h-0.8zM170.5 603.2h0.8v0.8h-0.8zM191.0 604.6h0.8v0.8h-0.8zM183.9 601.7h0.8v0.8h-0.8zM172.7 619.5h0.8v0.8h-0.8zM175.5 610.4h0.8v0.8h-0.8zM182.2 609.8h0.8v0.8h-0.8zM170.6 623.7h0.8v0.8h-0.8zM183.1 600.0h0.8v0.8h-0.8zM177.3 608.9h0.8v0.8h-0.8zM178.4 606.3h0.8v0.8h-0.8zM181.1 606.5h0.8v0.8h-0.8zM187.6 589.3h0.8v0.8h-0.8zM177.4 607.2h0.8v0.8h-0.8zM173.9 609.7h0.8v0.8h-0.8zM189.7 592.9h0.8v0.8h-0.8zM172.8 610.9h0.8v0.8h-0.8zM168.4 605.9h0.8v0.8h-0.8zM170.5 623.1h0.8v0.8h-0.8zM188.1 602.2h0.8v0.8h-0.8zM185.9 613.3h0.8v0.8h-0.8zM178.8 601.5h0.8v0.8h-0.8zM175.3 602.5h0.8v0.8h-0.8zM177.4 610.1h0.8v0.8h-0.8zM165.8 607.3h0.8v0.8h-0.8zM171.8 614.4h0.8v0.8h-0.8zM179.0 602.4h0.8v0.8h-0.8zM177.6 606.0h0.8v0.8h-0.8zM192.1 597.6h0.8v0.8h-0.8zM171.5 613.6h0.8v0.8h-0.8zM179.5 618.5h0.8v0.8h-0.8zM171.1 617.6h0.8v0.8h-0.8zM185.0 593.5h0.8v0.8h-0.8zM170.5 620.4h0.8v0.8h-0.8zM179.8 597.6h0.8v0.8h-0.8zM189.9 598.3h0.8v0.8h-0.8zM172.5 604.3h0.8v0.8h-0.8zM181.1 599.9h0.8v0.8h-0.8zM164.1 627.9h0.8v0.8h-0.8zM172.7 608.7h0.8v0.8h-0.8zM161.8 617.2h0.8v0.8h-0.8zM177.3 604.7h0.8v0.8h-0.8zM176.7 606.8h0.8v0.8h-0.8zM175.8 618.9h0.8v0.8h-0.8zM181.8 597.0h0.8v0.8h-0.8zM176.7 600.9h0.8v0.8h-0.8zM175.1 613.9h0.8v0.8h-0.8zM168.3 605.6h0.8v0.8h-0.8zM164.2 616.9h0.8v0.8h-0.8zM179.7 613.6h0.8v0.8h-0.8zM195.3 593.2h0.8v0.8h-0.8zM170.2 611.2h0.8v0.8h-0.8zM178.9 602.4h0.8v0.8h-0.8zM170.2 608.4h0.8v0.8h-0.8zM182.5 600.2h0.8v0.8h-0.8zM181.8 605.5h0.8v0.8h-0.8zM179.7 614.4h0.8v0.8h-0.8zM165.9 624.1h0.8v0.8h-0.8zM171.6 609.5h0.8v0.8h-0.8zM185.3 596.9h0.8v0.8h-0.8zM177.8 612.3h0.8v0.8h-0.8zM177.1 596.7h0.8v0.8h-0.8zM172.3 609.7h0.8v0.8h-0.8zM161.1 619.8h0.8v0.8h-0.8zM177.7 600.8h0.8v0.8h-0.8zM177.1 602.0h0.8v0.8h-0.8zM173.9 613.4h0.8v0.8h-0.8zM169.3 604.3h0.8v0.8h-0.8zM177.1 602.5h0.8v0.8h-0.8zM170.6 609.7h0.8v0.8h-0.8zM180.8 605.9h0.8v0.8h-0.8zM171.6 604.2h0.8v0.8h-0.8zM161.4 628.6h0.8v0.8h-0.8zM175.4 607.8h0.8v0.8h-0.8zM171.8 611.1h0.8v0.8h-0.8zM169.5 612.4h0.8v0.8h-0.8zM178.8 602.6h0.8v0.8h-0.8zM170.4 607.7h0.8v0.8h-0.8zM185.8 608.5h0.8v0.8h-0.8zM187.4 601.1h0.8v0.8h-0.8zM178.5 606.5h0.8v0.8h-0.8zM167.9 622.5h0.8v0.8h-0.8zM169.3 610.4h0.8v0.8h-0.8zM187.2 603.9h0.8v0.8h-0.8zM175.5 609.8h0.8v0.8h-0.8zM168.1 610.2h0.8v0.8h-0.8zM179.3 611.4h0.8v0.8h-0.8zM177.1 598.7h0.8v0.8h-0.8zM181.8 608.6h0.8v0.8h-0.8zM180.2 600.0h0.8v0.8h-0.8zM172.0 615.2h0.8v0.8h-0.8zM179.7 615.0h0.8v0.8h-0.8zM177.3 611.8h0.8v0.8h-0.8zM175.5 605.8h0.8v0.8h-0.8zM160.1 622.4h0.8v0.8h-0.8zM174.5 608.1h0.8v0.8h-0.8zM162.7 612.8h0.8v0.8h-0.8zM185.7 594.0h0.8v0.8h-0.8zM190.7 597.2h0.8v0.8h-0.8zM193.3 598.1h0.8v0.8h-0.8zM178.7 595.5h0.8v0.8h-0.8zM173.3 611.0h0.8v0.8h-0.8zM187.2 603.1h0.8v0.8h-0.8zM176.3 609.7h0.8v0.8h-0.8zM179.5 599.8h0.8v0.8h-0.8zM173.3 618.0h0.8v0.8h-0.8zM168.8 607.3h0.8v0.8h-0.8zM183.5 607.0h0.8v0.8h-0.8zM197.4 601.5h0.8v0.8h-0.8zM170.9 600.3h0.8v0.8h-0.8zM197.2 593.0h0.8v0.8h-0.8zM201.5 589.7h0.8v0.8h-0.8zM167.6 617.6h0.8v0.8h-0.8zM174.9 605.1h0.8v0.8h-0.8zM168.7 613.3h0.8v0.8h-0.8zM172.0 603.5h0.8v0.8h-0.8zM173.5 612.0h0.8v0.8h-0.8zM178.7 610.3h0.8v0.8h-0.8zM183.5 598.5h0.8v0.8h-0.8zM182.5 597.7h0.8v0.8h-0.8zM178.2 604.2h0.8v0.8h-0.8zM177.6 607.7h0.8v0.8h-0.8zM178.8 607.2h0.8v0.8h-0.8zM178.3 606.5h0.8v0.8h-0.8zM182.6 604.0h0.8v0.8h-0.8zM173.5 602.8h0.8v0.8h-0.8zM173.1 594.0h0.8v0.8h-0.8zM168.6 619.2h0.8v0.8h-0.8zM188.7 607.6h0.8v0.8h-0.8zM187.7 590.2h0.8v0.8h-0.8zM177.0 604.0h0.8v0.8h-0.8zM166.7 618.8h0.8v0.8h-0.8zM191.8 601.9h0.8v0.8h-0.8zM176.9 612.5h0.8v0.8h-0.8zM156.7 633.4h0.8v0.8h-0.8zM175.6 609.1h0.8v0.8h-0.8zM183.9 605.1h0.8v0.8h-0.8zM182.1 606.6h0.8v0.8h-0.8zM186.6 597.4h0.8v0.8h-0.8zM186.5 607.9h0.8v0.8h-0.8zM180.6 609.2h0.8v0.8h-0.8zM164.2 625.2h0.8v0.8h-0.8zM167.1 614.1h0.8v0.8h-0.8zM182.3 610.3h0.8v0.8h-0.8zM179.9 599.0h0.8v0.8h-0.8zM170.3 616.4h0.8v0.8h-0.8zM164.2 602.2h0.8v0.8h-0.8zM178.3 600.6h0.8v0.8h-0.8zM164.0 623.8h0.8v0.8h-0.8zM159.9 619.6h0.8v0.8h-0.8zM176.2 610.0h0.8v0.8h-0.8zM174.6 599.9h0.8v0.8h-0.8zM178.5 616.9h0.8v0.8h-0.8zM160.3 626.0h0.8v0.8h-0.8zM177.7 607.5h0.8v0.8h-0.8zM167.8 618.6h0.8v0.8h-0.8zM184.1 604.4h0.8v0.8h-0.8zM181.2 613.7h0.8v0.8h-0.8zM180.5 606.7h0.8v0.8h-0.8zM178.3 597.7h0.8v0.8h-0.8zM172.4 610.4h0.8v0.8h-0.8zM188.5 606.7h0.8v0.8h-0.8zM189.7 601.1h0.8v0.8h-0.8zM179.6 603.4h0.8v0.8h-0.8zM190.6 600.7h0.8v0.8h-0.8zM172.7 612.5h0.8v0.8h-0.8zM187.1 603.6h0.8v0.8h-0.8zM174.8 599.9h0.8v0.8h-0.8zM166.5 611.2h0.8v0.8h-0.8zM179.0 610.7h0.8v0.8h-0.8zM172.5 610.6h0.8v0.8h-0.8zM174.1 612.9h0.8v0.8h-0.8zM184.5 614.4h0.8v0.8h-0.8zM185.5 599.1h0.8v0.8h-0.8zM175.7 610.8h0.8v0.8h-0.8zM176.9 604.7h0.8v0.8h-0.8zM163.4 615.6h0.8v0.8h-0.8zM178.2 606.7h0.8v0.8h-0.8zM182.6 594.2h0.8v0.8h-0.8zM177.7 594.1h0.8v0.8h-0.8zM185.8 609.5h0.8v0.8h-0.8zM172.9 611.0h0.8v0.8h-0.8zM173.0 618.7h0.8v0.8h-0.8zM177.2 608.8h0.8v0.8h-0.8zM166.9 617.6h0.8v0.8h-0.8zM169.4 618.8h0.8v0.8h-0.8zM187.7 603.8h0.8v0.8h-0.8zM166.2 609.6h0.8v0.8h-0.8zM196.4 599.6h0.8v0.8h-0.8zM162.6 614.1h0.8v0.8h-0.8zM181.8 605.4h0.8v0.8h-0.8zM175.8 625.5h0.8v0.8h-0.8zM179.3 606.8h0.8v0.8h-0.8zM174.1 621.2h0.8v0.8h-0.8zM176.8 606.1h0.8v0.8h-0.8zM178.2 611.1h0.8v0.8h-0.8zM174.0 611.1h0.8v0.8h-0.8zM183.2 605.7h0.8v0.8h-0.8zM187.5 593.9h0.8v0.8h-0.8zM169.8 608.4h0.8v0.8h-0.8zM186.0 602.8h0.8v0.8h-0.8zM173.4 601.3h0.8v0.8h-0.8zM174.7 604.8h0.8v0.8h-0.8zM197.9 594.7h0.8v0.8h-0.8zM157.5 620.6h0.8v0.8h-0.8zM169.1 609.1h0.8v0.8h-0.8zM159.0 616.2h0.8v0.8h-0.8zM175.4 610.5h0.8v0.8h-0.8zM174.5 607.9h0.8v0.8h-0.8zM179.9 604.6h0.8v0.8h-0.8zM198.4 602.1h0.8v0.8h-0.8zM187.1 597.0h0.8v0.8h-0.8zM167.8 603.5h0.8v0.8h-0.8zM182.0 604.8h0.8v0.8h-0.8zM191.5 596.0h0.8v0.8h-0.8zM179.5 607.1h0.8v0.8h-0.8zM174.3 600.2h0.8v0.8h-0.8zM185.3 608.4h0.8v0.8h-0.8zM164.9 618.1h0.8v0.8h-0.8zM170.7 613.2h0.8v0.8h-0.8zM175.4 599.4h0.8v0.8h-0.8zM183.6 605.7h0.8v0.8h-0.8zM169.7 613.9h0.8v0.8h-0.8zM179.1 615.0h0.8v0.8h-0.8zM175.3 607.0h0.8v0.8h-0.8zM172.4 604.2h0.8v0.8h-0.8zM183.8 603.3h0.8v0.8h-0.8zM175.6 603.6h0.8v0.8h-0.8zM180.3 608.1h0.8v0.8h-0.8zM162.4 613.6h0.8v0.8h-0.8zM168.4 614.6h0.8v0.8h-0.8zM179.6 604.6h0.8v0.8h-0.8zM164.2 618.8h0.8v0.8h-0.8zM178.2 603.9h0.8v0.8h-0.8zM169.5 609.3h0.8v0.8h-0.8zM170.6 613.2h0.8v0.8h-0.8zM181.2 601.0h0.8v0.8h-0.8zM172.4 613.0h0.8v0.8h-0.8zM169.5 612.7h0.8v0.8h-0.8zM164.9 604.1h0.8v0.8h-0.8zM177.8 607.1h0.8v0.8h-0.8zM160.8 623.7h0.8v0.8h-0.8zM179.3 610.1h0.8v0.8h-0.8zM176.9 611.1h0.8v0.8h-0.8zM184.0 599.3h0.8v0.8h-0.8zM170.3 605.4h0.8v0.8h-0.8zM159.4 628.1h0.8v0.8h-0.8zM191.9 602.4h0.8v0.8h-0.8zM170.2 617.5h0.8v0.8h-0.8zM178.3 609.8h0.8v0.8h-0.8zM167.3 618.8h0.8v0.8h-0.8zM168.3 615.4h0.8v0.8h-0.8zM174.2 612.3h0.8v0.8h-0.8zM184.7 601.8h0.8v0.8h-0.8zM185.6 603.1h0.8v0.8h-0.8zM169.6 608.5h0.8v0.8h-0.8zM179.7 601.9h0.8v0.8h-0.8zM176.1 612.5h0.8v0.8h-0.8zM177.4 605.7h0.8v0.8h-0.8zM171.3 597.8h0.8v0.8h-0.8zM183.1 603.9h0.8v0.8h-0.8zM165.2 603.7h0.8v0.8h-0.8zM182.3 615.8h0.8v0.8h-0.8zM181.5 608.9h0.8v0.8h-0.8zM180.3 609.7h0.8v0.8h-0.8zM168.7 611.0h0.8v0.8h-0.8zM188.4 591.6h0.8v0.8h-0.8zM173.0 610.3h0.8v0.8h-0.8zM183.9 602.6h0.8v0.8h-0.8zM176.8 603.6h0.8v0.8h-0.8zM188.2 599.8h0.8v0.8h-0.8zM161.3 625.7h0.8v0.8h-0.8zM196.5 595.6h0.8v0.8h-0.8zM172.5 605.5h0.8v0.8h-0.8zM160.5 608.5h0.8v0.8h-0.8zM178.6 606.9h0.8v0.8h-0.8zM194.3 589.6h0.8v0.8h-0.8zM183.1 605.9h0.8v0.8h-0.8zM172.2 622.5h0.8v0.8h-0.8zM178.7 617.1h0.8v0.8h-0.8zM189.5 599.5h0.8v0.8h-0.8zM169.1 621.8h0.8v0.8h-0.8zM181.0 615.2h0.8v0.8h-0.8zM175.1 610.1h0.8v0.8h-0.8zM196.4 593.6h0.8v0.8h-0.8zM177.6 613.1h0.8v0.8h-0.8zM188.4 598.5h0.8v0.8h-0.8zM170.3 610.8h0.8v0.8h-0.8zM168.4 610.8h0.8v0.8h-0.8zM185.9 600.8h0.8v0.8h-0.8zM180.8 601.2h0.8v0.8h-0.8zM165.5 623.0h0.8v0.8h-0.8zM181.8 602.2h0.8v0.8h-0.8zM187.4 608.7h0.8v0.8h-0.8zM176.1 616.6h0.8v0.8h-0.8zM175.5 601.8h0.8v0.8h-0.8zM183.0 610.0h0.8v0.8h-0.8zM172.2 609.8h0.8v0.8h-0.8zM176.8 617.0h0.8v0.8h-0.8zM173.4 614.5h0.8v0.8h-0.8zM175.1 609.7h0.8v0.8h-0.8zM168.4 619.7h0.8v0.8h-0.8zM175.4 606.2h0.8v0.8h-0.8zM166.0 619.6h0.8v0.8h-0.8zM179.3 608.8h0.8v0.8h-0.8zM176.3 608.0h0.8v0.8h-0.8zM170.0 616.6h0.8v0.8h-0.8zM181.6 598.3h0.8v0.8h-0.8zM195.4 596.4h0.8v0.8h-0.8zM184.9 594.2h0.8v0.8h-0.8zM168.0 619.8h0.8v0.8h-0.8zM189.6 600.7h0.8v0.8h-0.8zM181.5 609.0h0.8v0.8h-0.8zM175.3 606.3h0.8v0.8h-0.8zM181.8 623.2h0.8v0.8h-0.8zM176.7 607.2h0.8v0.8h-0.8zM189.6 598.8h0.8v0.8h-0.8zM179.7 601.4h0.8v0.8h-0.8zM178.4 616.1h0.8v0.8h-0.8zM170.5 611.0h0.8v0.8h-0.8zM177.1 614.5h0.8v0.8h-0.8zM179.5 600.4h0.8v0.8h-0.8zM194.1 596.0h0.8v0.8h-0.8zM167.5 614.1h0.8v0.8h-0.8zM180.3 611.4h0.8v0.8h-0.8zM173.4 609.7h0.8v0.8h-0.8zM168.6 610.2h0.8v0.8h-0.8zM182.2 606.9h0.8v0.8h-0.8zM178.5 599.8h0.8v0.8h-0.8zM162.8 614.5h0.8v0.8h-0.8zM171.2 618.1h0.8v0.8h-0.8zM181.8 592.8h0.8v0.8h-0.8zM182.5 608.6h0.8v0.8h-0.8zM180.7 602.9h0.8v0.8h-0.8zM170.6 608.2h0.8v0.8h-0.8zM175.1 611.6h0.8v0.8h-0.8zM183.3 607.1h0.8v0.8h-0.8zM171.6 609.4h0.8v0.8h-0.8zM167.7 615.2h0.8v0.8h-0.8zM180.0 611.0h0.8v0.8h-0.8zM187.4 604.4h0.8v0.8h-0.8zM168.8 615.1h0.8v0.8h-0.8zM184.0 597.9h0.8v0.8h-0.8z" fill="#444" fill-opacity="0.4"/>
<ellipse cx="178" cy="607" rx="12" ry="4.5" fill="#000" fill-opacity="0.25" transform="rotate(-40 178 607)" filter="url(#b15)"/>
<ellipse cx="185" cy="596" rx="8" ry="4" fill="#000" fill-opacity="0.6" transform="rotate(0 185 596)" filter="url(#b14)"/>
<ellipse cx="191.5" cy="598" rx="6.5" ry="5.5" fill="#000" fill-opacity="0.98" transform="rotate(0 191.5 598)" filter="url(#b9)"/>
<ellipse cx="166" cy="618.7" rx="8.5" ry="3.8" fill="#000" fill-opacity="0.98" transform="rotate(-6 166 618.7)" filter="url(#b7)"/>
<path d="M241.7 609.6h0.8v0.8h-0.8zM242.9 603.8h0.8v0.8h-0.8zM247.1 599.7h0.8v0.8h-0.8zM246.8 616.2h0.8v0.8h-0.8zM245.9 610.1h0.8v0.8h-0.8zM249.5 602.7h0.8v0.8h-0.8zM243.9 589.2h0.8v0.8h-0.8zM243.6 599.3h0.8v0.8h-0.8zM243.6 591.0h0.8v0.8h-0.8zM251.2 615.7h0.8v0.8h-0.8zM238.1 607.5h0.8v0.8h-0.8zM245.8 600.2h0.8v0.8h-0.8zM246.3 603.8h0.8v0.8h-0.8zM245.1 626.2h0.8v0.8h-0.8zM252.6 615.5h0.8v0.8h-0.8zM248.8 595.5h0.8v0.8h-0.8zM247.4 605.0h0.8v0.8h-0.8zM241.9 596.4h0.8v0.8h-0.8zM246.5 592.5h0.8v0.8h-0.8zM243.7 607.4h0.8v0.8h-0.8zM245.0 624.9h0.8v0.8h-0.8zM245.6 618.2h0.8v0.8h-0.8zM243.3 606.3h0.8v0.8h-0.8zM247.0 603.1h0.8v0.8h-0.8zM250.3 607.6h0.8v0.8h-0.8zM248.3 614.1h0.8v0.8h-0.8zM245.6 594.6h0.8v0.8h-0.8zM238.5 591.3h0.8v0.8h-0.8zM248.5 620.8h0.8v0.8h-0.8zM248.5 608.2h0.8v0.8h-0.8zM244.3 618.6h0.8v0.8h-0.8zM243.4 607.9h0.8v0.8h-0.8zM247.1 617.6h0.8v0.8h-0.8zM242.3 601.2h0.8v0.8h-0.8zM247.6 609.9h0.8v0.8h-0.8zM241.4 618.2h0.8v0.8h-0.8zM241.9 614.0h0.8v0.8h-0.8zM245.0 602.4h0.8v0.8h-0.8zM240.1 613.0h0.8v0.8h-0.8zM245.0 600.8h0.8v0.8h-0.8zM246.7 594.8h0.8v0.8h-0.8zM240.6 610.1h0.8v0.8h-0.8zM248.0 617.0h0.8v0.8h-0.8zM243.1 612.7h0.8v0.8h-0.8zM246.8 596.1h0.8v0.8h-0.8zM245.7 612.9h0.8v0.8h-0.8zM243.5 611.4h0.8v0.8h-0.8zM243.2 602.4h0.8v0.8h-0.8zM239.4 586.3h0.8v0.8h-0.8zM242.7 614.0h0.8v0.8h-0.8zM242.4 613.0h0.8v0.8h-0.8zM250.4 609.9h0.8v0.8h-0.8zM248.3 592.3h0.8v0.8h-0.8zM240.5 594.2h0.8v0.8h-0.8zM247.6 614.0h0.8v0.8h-0.8zM245.7 612.4h0.8v0.8h-0.8zM243.7 609.9h0.8v0.8h-0.8zM246.5 604.0h0.8v0.8h-0.8zM247.6 609.1h0.8v0.8h-0.8zM243.1 601.7h0.8v0.8h-0.8zM244.1 603.5h0.8v0.8h-0.8zM245.5 599.1h0.8v0.8h-0.8zM241.7 608.0h0.8v0.8h-0.8zM245.6 602.7h0.8v0.8h-0.8zM244.7 613.6h0.8v0.8h-0.8zM242.7 611.7h0.8v0.8h-0.8zM242.2 599.5h0.8v0.8h-0.8zM246.0 620.6h0.8v0.8h-0.8zM247.9 597.1h0.8v0.8h-0.8zM246.1 609.6h0.8v0.8h-0.8zM242.2 614.6h0.8v0.8h-0.8zM247.4 616.2h0.8v0.8h-0.8zM245.5 588.4h0.8v0.8h-0.8zM246.9 614.0h0.8v0.8h-0.8zM248.8 615.7h0.8v0.8h-0.8zM242.0 617.5h0.8v0.8h-0.8zM244.5 588.3h0.8v0.8h-0.8zM243.0 600.6h0.8v0.8h-0.8zM242.1 605.2h0.8v0.8h-0.8zM251.6 602.4h0.8v0.8h-0.8zM248.1 616.7h0.8v0.8h-0.8zM239.2 600.6h0.8v0.8h-0.8zM246.4 615.8h0.8v0.8h-0.8zM243.2 610.5h0.8v0.8h-0.8zM248.8 594.4h0.8v0.8h-0.8zM245.3 598.1h0.8v0.8h-0.8zM244.4 602.3h0.8v0.8h-0.8zM245.5 606.8h0.8v0.8h-0.8zM246.2 613.9h0.8v0.8h-0.8zM245.1 604.5h0.8v0.8h-0.8zM244.3 613.3h0.8v0.8h-0.8zM244.5 593.4h0.8v0.8h-0.8zM241.3 603.3h0.8v0.8h-0.8zM245.0 609.7h0.8v0.8h-0.8zM244.6 603.1h0.8v0.8h-0.8zM243.4 597.9h0.8v0.8h-0.8zM247.4 609.4h0.8v0.8h-0.8zM240.8 621.5h0.8v0.8h-0.8zM243.8 605.2h0.8v0.8h-0.8zM242.2 600.2h0.8v0.8h-0.8zM246.8 599.2h0.8v0.8h-0.8zM243.5 621.7h0.8v0.8h-0.8zM245.2 605.7h0.8v0.8h-0.8zM246.3 610.9h0.8v0.8h-0.8zM239.8 615.8h0.8v0.8h-0.8zM246.5 614.6h0.8v0.8h-0.8zM242.6 598.6h0.8v0.8h-0.8zM244.2 613.6h0.8v0.8h-0.8zM244.6 612.8h0.8v0.8h-0.8zM247.6 609.9h0.8v0.8h-0.8zM247.4 614.1h0.8v0.8h-0.8zM250.8 601.5h0.8v0.8h-0.8zM245.6 605.4h0.8v0.8h-0.8zM243.4 601.8h0.8v0.8h-0.8zM243.4 612.1h0.8v0.8h-0.8zM247.1 600.8h0.8v0.8h-0.8zM250.2 609.1h0.8v0.8h-0.8zM246.1 597.2h0.8v0.8h-0.8zM243.1 605.0h0.8v0.8h-0.8zM245.9 603.1h0.8v0.8h-0.8zM245.8 605.1h0.8v0.8h-0.8zM245.1 607.1h0.8v0.8h-0.8zM242.6 604.5h0.8v0.8h-0.8zM236.7 604.2h0.8v0.8h-0.8zM243.2 589.4h0.8v0.8h-0.8zM248.4 614.8h0.8v0.8h-0.8zM245.7 601.0h0.8v0.8h-0.8zM237.8 604.0h0.8v0.8h-0.8zM245.0 599.4h0.8v0.8h-0.8zM239.0 614.0h0.8v0.8h-0.8zM251.5 598.8h0.8v0.8h-0.8zM245.6 610.0h0.8v0.8h-0.8zM241.1 615.4h0.8v0.8h-0.8zM247.6 619.2h0.8v0.8h-0.8zM242.4 615.5h0.8v0.8h-0.8zM246.8 611.0h0.8v0.8h-0.8zM245.1 596.4h0.8v0.8h-0.8zM241.1 616.3h0.8v0.8h-0.8zM247.2 615.5h0.8v0.8h-0.8zM240.6 612.7h0.8v0.8h-0.8zM249.4 612.4h0.8v0.8h-0.8zM245.2 606.6h0.8v0.8h-0.8zM241.6 601.9h0.8v0.8h-0.8zM239.1 614.7h0.8v0.8h-0.8zM250.3 616.2h0.8v0.8h-0.8zM249.7 597.7h0.8v0.8h-0.8zM240.9 613.3h0.8v0.8h-0.8zM250.4 608.0h0.8v0.8h-0.8zM245.5 613.1h0.8v0.8h-0.8zM244.3 608.3h0.8v0.8h-0.8zM244.7 614.9h0.8v0.8h-0.8zM244.1 614.3h0.8v0.8h-0.8zM249.7 613.2h0.8v0.8h-0.8zM245.5 595.1h0.8v0.8h-0.8zM239.0 612.7h0.8v0.8h-0.8zM251.8 606.5h0.8v0.8h-0.8zM247.9 597.1h0.8v0.8h-0.8zM241.4 611.7h0.8v0.8h-0.8zM243.8 595.2h0.8v0.8h-0.8zM242.0 613.2h0.8v0.8h-0.8zM245.2 619.6h0.8v0.8h-0.8zM246.3 602.1h0.8v0.8h-0.8zM245.8 613.5h0.8v0.8h-0.8zM243.0 609.7h0.8v0.8h-0.8zM242.4 611.3h0.8v0.8h-0.8zM247.8 595.4h0.8v0.8h-0.8zM244.7 611.0h0.8v0.8h-0.8zM252.4 607.2h0.8v0.8h-0.8zM242.4 612.0h0.8v0.8h-0.8zM247.6 606.2h0.8v0.8h-0.8zM245.2 614.9h0.8v0.8h-0.8zM242.5 608.4h0.8v0.8h-0.8zM249.5 611.6h0.8v0.8h-0.8zM245.4 617.1h0.8v0.8h-0.8zM242.1 607.6h0.8v0.8h-0.8zM244.0 614.1h0.8v0.8h-0.8zM248.3 608.0h0.8v0.8h-0.8zM241.0 610.3h0.8v0.8h-0.8zM249.5 602.0h0.8v0.8h-0.8zM247.2 612.4h0.8v0.8h-0.8zM244.1 615.9h0.8v0.8h-0.8zM249.4 605.6h0.8v0.8h-0.8zM250.7 612.5h0.8v0.8h-0.8zM247.0 609.6h0.8v0.8h-0.8zM245.6 597.5h0.8v0.8h-0.8zM251.0 609.0h0.8v0.8h-0.8zM249.9 616.7h0.8v0.8h-0.8zM242.0 602.4h0.8v0.8h-0.8zM244.3 592.2h0.8v0.8h-0.8zM244.3 607.9h0.8v0.8h-0.8zM243.7 601.2h0.8v0.8h-0.8zM240.1 621.2h0.8v0.8h-0.8zM248.0 605.9h0.8v0.8h-0.8zM245.3 606.2h0.8v0.8h-0.8zM245.3 601.3h0.8v0.8h-0.8zM249.6 608.2h0.8v0.8h-0.8zM243.1 601.8h0.8v0.8h-0.8zM244.8 599.2h0.8v0.8h-0.8zM245.9 605.8h0.8v0.8h-0.8zM243.6 599.9h0.8v0.8h-0.8zM244.6 616.7h0.8v0.8h-0.8zM247.5 597.1h0.8v0.8h-0.8zM245.0 605.7h0.8v0.8h-0.8zM249.4 600.9h0.8v0.8h-0.8zM242.5 595.4h0.8v0.8h-0.8zM245.7 619.3h0.8v0.8h-0.8zM240.3 589.8h0.8v0.8h-0.8zM244.6 617.7h0.8v0.8h-0.8zM242.7 595.2h0.8v0.8h-0.8zM249.5 607.0h0.8v0.8h-0.8zM247.4 624.1h0.8v0.8h-0.8zM246.7 589.6h0.8v0.8h-0.8zM251.1 595.5h0.8v0.8h-0.8zM249.7 616.6h0.8v0.8h-0.8zM247.4 607.6h0.8v0.8h-0.8zM242.7 602.0h0.8v0.8h-0.8zM240.2 606.0h0.8v0.8h-0.8zM244.9 598.7h0.8v0.8h-0.8zM243.8 607.2h0.8v0.8h-0.8zM242.9 618.0h0.8v0.8h-0.8zM244.0 603.3h0.8v0.8h-0.8zM239.6 607.4h0.8v0.8h-0.8zM249.9 615.7h0.8v0.8h-0.8zM241.2 621.9h0.8v0.8h-0.8zM242.8 601.7h0.8v0.8h-0.8zM246.9 608.6h0.8v0.8h-0.8zM239.6 601.9h0.8v0.8h-0.8zM248.0 601.2h0.8v0.8h-0.8zM248.1 603.1h0.8v0.8h-0.8zM244.0 601.3h0.8v0.8h-0.8zM241.4 592.7h0.8v0.8h-0.8zM243.4 590.7h0.8v0.8h-0.8zM238.9 600.6h0.8v0.8h-0.8zM249.6 607.3h0.8v0.8h-0.8zM245.2 615.8h0.8v0.8h-0.8zM242.6 602.1h0.8v0.8h-0.8zM242.0 605.0h0.8v0.8h-0.8zM246.9 611.5h0.8v0.8h-0.8zM250.0 612.1h0.8v0.8h-0.8zM240.8 605.4h0.8v0.8h-0.8zM243.1 605.9h0.8v0.8h-0.8zM239.2 621.0h0.8v0.8h-0.8zM247.2 603.7h0.8v0.8h-0.8zM245.5 602.4h0.8v0.8h-0.8zM252.5 593.5h0.8v0.8h-0.8zM244.6 609.7h0.8v0.8h-0.8zM243.6 604.2h0.8v0.8h-0.8zM242.7 621.2h0.8v0.8h-0.8zM247.8 603.7h0.8v0.8h-0.8zM239.6 612.6h0.8v0.8h-0.8zM247.5 613.6h0.8v0.8h-0.8zM245.8 619.2h0.8v0.8h-0.8zM243.3 596.0h0.8v0.8h-0.8zM242.0 618.5h0.8v0.8h-0.8zM248.5 606.4h0.8v0.8h-0.8zM251.2 605.5h0.8v0.8h-0.8zM243.5 603.9h0.8v0.8h-0.8zM246.8 603.2h0.8v0.8h-0.8zM250.8 603.6h0.8v0.8h-0.8zM242.9 588.0h0.8v0.8h-0.8zM244.2 610.3h0.8v0.8h-0.8zM241.0 606.8h0.8v0.8h-0.8zM244.5 598.8h0.8v0.8h-0.8zM244.7 605.8h0.8v0.8h-0.8zM243.6 624.3h0.8v0.8h-0.8zM242.5 609.3h0.8v0.8h-0.8zM239.7 603.2h0.8v0.8h-0.8zM240.5 619.7h0.8v0.8h-0.8zM241.8 600.1h0.8v0.8h-0.8zM247.1 605.1h0.8v0.8h-0.8zM243.3 602.0h0.8v0.8h-0.8zM242.2 604.4h0.8v0.8h-0.8zM247.2 612.0h0.8v0.8h-0.8zM246.9 610.8h0.8v0.8h-0.8zM242.5 600.6h0.8v0.8h-0.8zM242.9 605.3h0.8v0.8h-0.8zM247.2 606.9h0.8v0.8h-0.8zM246.2 603.1h0.8v0.8h-0.8zM242.2 606.0h0.8v0.8h-0.8zM245.8 600.6h0.8v0.8h-0.8zM244.9 600.5h0.8v0.8h-0.8zM248.7 606.6h0.8v0.8h-0.8zM242.1 598.2h0.8v0.8h-0.8zM247.9 609.5h0.8v0.8h-0.8zM246.4 604.8h0.8v0.8h-0.8zM241.6 599.1h0.8v0.8h-0.8zM248.5 601.5h0.8v0.8h-0.8zM248.0 602.5h0.8v0.8h-0.8zM240.6 605.0h0.8v0.8h-0.8zM251.6 607.1h0.8v0.8h-0.8zM241.2 604.6h0.8v0.8h-0.8zM241.9 599.5h0.8v0.8h-0.8zM243.9 617.4h0.8v0.8h-0.8zM247.6 613.3h0.8v0.8h-0.8zM246.9 607.1h0.8v0.8h-0.8zM244.7 613.7h0.8v0.8h-0.8zM249.6 608.8h0.8v0.8h-0.8zM246.4 604.2h0.8v0.8h-0.8zM249.7 606.9h0.8v0.8h-0.8zM254.4 627.0h0.8v0.8h-0.8zM245.6 614.0h0.8v0.8h-0.8zM236.4 614.3h0.8v0.8h-0.8zM243.5 603.2h0.8v0.8h-0.8zM241.4 610.9h0.8v0.8h-0.8zM245.3 623.8h0.8v0.8h-0.8zM245.3 609.6h0.8v0.8h-0.8zM240.9 614.6h0.8v0.8h-0.8zM241.1 616.0h0.8v0.8h-0.8zM244.1 611.2h0.8v0.8h-0.8zM244.3 618.5h0.8v0.8h-0.8zM236.2 608.0h0.8v0.8h-0.8zM248.3 610.1h0.8v0.8h-0.8zM245.1 601.4h0.8v0.8h-0.8zM245.0 626.7h0.8v0.8h-0.8zM246.0 608.6h0.8v0.8h-0.8zM241.5 607.1h0.8v0.8h-0.8zM244.8 617.0h0.8v0.8h-0.8zM248.5 602.5h0.8v0.8h-0.8zM248.6 606.2h0.8v0.8h-0.8z" fill="#555" fill-opacity="0.42"/>
<ellipse cx="245" cy="606" rx="4" ry="9" fill="#000" fill-opacity="0.18" transform="rotate(0 245 606)" filter="url(#b15)"/>
<path d="M249.2 620.6h0.8v0.8h-0.8zM255.4 625.0h0.8v0.8h-0.8zM252.2 618.2h0.8v0.8h-0.8zM259.4 621.6h0.8v0.8h-0.8zM254.2 619.8h0.8v0.8h-0.8zM250.6 621.6h0.8v0.8h-0.8zM252.9 622.3h0.8v0.8h-0.8zM254.3 621.3h0.8v0.8h-0.8zM251.3 621.5h0.8v0.8h-0.8zM262.5 621.6h0.8v0.8h-0.8zM260.4 619.9h0.8v0.8h-0.8zM256.3 620.6h0.8v0.8h-0.8zM246.0 617.9h0.8v0.8h-0.8zM259.2 620.3h0.8v0.8h-0.8zM245.3 619.6h0.8v0.8h-0.8zM256.7 620.5h0.8v0.8h-0.8zM255.6 622.4h0.8v0.8h-0.8zM250.7 621.7h0.8v0.8h-0.8zM248.8 621.9h0.8v0.8h-0.8zM249.8 623.1h0.8v0.8h-0.8zM271.1 616.5h0.8v0.8h-0.8zM253.2 621.8h0.8v0.8h-0.8zM253.6 621.0h0.8v0.8h-0.8zM262.6 620.8h0.8v0.8h-0.8zM258.5 618.5h0.8v0.8h-0.8zM263.4 622.1h0.8v0.8h-0.8zM245.7 623.2h0.8v0.8h-0.8zM246.8 623.0h0.8v0.8h-0.8zM254.9 622.2h0.8v0.8h-0.8zM253.0 622.8h0.8v0.8h-0.8zM256.5 624.5h0.8v0.8h-0.8zM262.9 623.4h0.8v0.8h-0.8zM246.0 621.3h0.8v0.8h-0.8zM257.4 621.2h0.8v0.8h-0.8zM255.0 621.3h0.8v0.8h-0.8zM260.4 621.4h0.8v0.8h-0.8zM256.6 620.1h0.8v0.8h-0.8zM251.1 622.5h0.8v0.8h-0.8zM248.5 619.7h0.8v0.8h-0.8zM236.4 619.5h0.8v0.8h-0.8zM262.8 621.7h0.8v0.8h-0.8zM243.9 619.9h0.8v0.8h-0.8zM252.1 620.5h0.8v0.8h-0.8zM268.0 617.0h0.8v0.8h-0.8zM252.0 622.5h0.8v0.8h-0.8zM259.9 621.0h0.8v0.8h-0.8zM253.6 620.8h0.8v0.8h-0.8zM260.6 621.9h0.8v0.8h-0.8zM255.4 621.4h0.8v0.8h-0.8zM251.3 619.7h0.8v0.8h-0.8zM265.6 624.8h0.8v0.8h-0.8zM253.2 620.1h0.8v0.8h-0.8zM244.9 622.9h0.8v0.8h-0.8zM252.7 624.5h0.8v0.8h-0.8zM259.4 619.8h0.8v0.8h-0.8zM246.6 621.2h0.8v0.8h-0.8zM261.3 619.4h0.8v0.8h-0.8zM261.1 623.0h0.8v0.8h-0.8zM271.5 620.4h0.8v0.8h-0.8zM250.3 618.9h0.8v0.8h-0.8zM260.3 623.5h0.8v0.8h-0.8zM242.4 622.8h0.8v0.8h-0.8zM252.0 619.3h0.8v0.8h-0.8zM256.0 623.3h0.8v0.8h-0.8zM258.3 621.4h0.8v0.8h-0.8zM254.8 626.2h0.8v0.8h-0.8zM254.5 624.3h0.8v0.8h-0.8zM250.5 619.9h0.8v0.8h-0.8zM251.8 620.5h0.8v0.8h-0.8zM257.6 619.3h0.8v0.8h-0.8zM259.5 621.3h0.8v0.8h-0.8zM260.1 621.1h0.8v0.8h-0.8zM262.9 622.4h0.8v0.8h-0.8zM264.3 621.2h0.8v0.8h-0.8zM241.4 618.2h0.8v0.8h-0.8zM251.2 619.5h0.8v0.8h-0.8zM254.0 623.7h0.8v0.8h-0.8zM250.3 623.2h0.8v0.8h-0.8zM263.2 620.7h0.8v0.8h-0.8zM261.0 620.7h0.8v0.8h-0.8zM254.4 620.7h0.8v0.8h-0.8zM256.1 621.0h0.8v0.8h-0.8zM264.9 617.8h0.8v0.8h-0.8zM252.5 622.7h0.8v0.8h-0.8zM252.8 619.7h0.8v0.8h-0.8zM262.2 621.3h0.8v0.8h-0.8zM258.8 616.2h0.8v0.8h-0.8zM266.1 621.4h0.8v0.8h-0.8zM258.0 623.6h0.8v0.8h-0.8zM261.0 616.7h0.8v0.8h-0.8zM251.0 623.9h0.8v0.8h-0.8zM248.0 621.9h0.8v0.8h-0.8zM255.1 619.6h0.8v0.8h-0.8zM234.9 618.0h0.8v0.8h-0.8zM258.3 623.2h0.8v0.8h-0.8zM262.7 621.5h0.8v0.8h-0.8zM255.8 622.1h0.8v0.8h-0.8zM253.5 620.5h0.8v0.8h-0.8zM263.5 619.5h0.8v0.8h-0.8zM254.9 622.7h0.8v0.8h-0.8zM262.7 619.2h0.8v0.8h-0.8zM272.0 622.7h0.8v0.8h-0.8zM260.8 617.8h0.8v0.8h-0.8zM262.4 619.2h0.8v0.8h-0.8zM259.0 618.2h0.8v0.8h-0.8zM257.1 623.5h0.8v0.8h-0.8zM257.3 617.7h0.8v0.8h-0.8zM255.7 618.8h0.8v0.8h-0.8zM263.5 622.3h0.8v0.8h-0.8zM242.9 621.4h0.8v0.8h-0.8zM253.2 625.2h0.8v0.8h-0.8zM260.2 624.5h0.8v0.8h-0.8zM248.8 622.2h0.8v0.8h-0.8zM254.4 622.3h0.8v0.8h-0.8zM249.9 617.5h0.8v0.8h-0.8zM258.6 619.3h0.8v0.8h-0.8zM261.8 620.4h0.8v0.8h-0.8zM266.3 620.7h0.8v0.8h-0.8zM259.1 618.4h0.8v0.8h-0.8zM249.7 619.2h0.8v0.8h-0.8zM257.1 619.4h0.8v0.8h-0.8zM259.6 623.0h0.8v0.8h-0.8zM266.0 621.8h0.8v0.8h-0.8zM238.8 620.4h0.8v0.8h-0.8zM258.1 620.5h0.8v0.8h-0.8zM241.2 621.6h0.8v0.8h-0.8zM260.7 619.7h0.8v0.8h-0.8zM258.6 620.5h0.8v0.8h-0.8zM259.0 617.7h0.8v0.8h-0.8zM262.0 622.3h0.8v0.8h-0.8zM258.2 622.8h0.8v0.8h-0.8zM250.3 621.7h0.8v0.8h-0.8zM257.9 621.9h0.8v0.8h-0.8zM264.4 621.7h0.8v0.8h-0.8zM254.3 624.9h0.8v0.8h-0.8zM255.4 621.4h0.8v0.8h-0.8zM245.9 618.5h0.8v0.8h-0.8zM264.1 619.0h0.8v0.8h-0.8zM251.4 622.4h0.8v0.8h-0.8zM249.5 623.0h0.8v0.8h-0.8zM251.8 622.5h0.8v0.8h-0.8zM248.6 622.6h0.8v0.8h-0.8zM253.3 621.4h0.8v0.8h-0.8zM265.0 618.1h0.8v0.8h-0.8zM261.3 619.6h0.8v0.8h-0.8zM266.1 617.5h0.8v0.8h-0.8zM266.6 620.3h0.8v0.8h-0.8zM248.4 618.4h0.8v0.8h-0.8zM258.9 621.2h0.8v0.8h-0.8zM266.7 620.7h0.8v0.8h-0.8zM272.8 617.3h0.8v0.8h-0.8zM244.4 622.4h0.8v0.8h-0.8zM244.3 622.5h0.8v0.8h-0.8zM258.8 618.3h0.8v0.8h-0.8zM252.6 621.3h0.8v0.8h-0.8zM247.6 622.4h0.8v0.8h-0.8zM258.1 620.4h0.8v0.8h-0.8zM249.2 622.6h0.8v0.8h-0.8zM237.9 621.4h0.8v0.8h-0.8zM255.0 623.0h0.8v0.8h-0.8zM256.2 621.3h0.8v0.8h-0.8zM260.1 620.7h0.8v0.8h-0.8zM262.4 622.0h0.8v0.8h-0.8zM256.6 622.5h0.8v0.8h-0.8zM253.4 621.5h0.8v0.8h-0.8zM250.1 620.1h0.8v0.8h-0.8zM242.6 619.5h0.8v0.8h-0.8zM251.8 620.3h0.8v0.8h-0.8zM262.8 619.9h0.8v0.8h-0.8zM260.2 621.4h0.8v0.8h-0.8zM270.9 621.3h0.8v0.8h-0.8zM254.0 620.8h0.8v0.8h-0.8zM241.6 621.0h0.8v0.8h-0.8zM261.5 621.3h0.8v0.8h-0.8zM263.1 624.0h0.8v0.8h-0.8zM246.3 623.3h0.8v0.8h-0.8zM242.9 619.9h0.8v0.8h-0.8zM256.3 621.8h0.8v0.8h-0.8zM260.6 620.3h0.8v0.8h-0.8zM246.6 620.8h0.8v0.8h-0.8zM252.6 620.5h0.8v0.8h-0.8zM249.2 619.8h0.8v0.8h-0.8zM246.1 618.4h0.8v0.8h-0.8zM245.1 616.2h0.8v0.8h-0.8zM256.2 621.4h0.8v0.8h-0.8zM252.3 623.2h0.8v0.8h-0.8zM250.0 619.2h0.8v0.8h-0.8zM235.2 621.9h0.8v0.8h-0.8zM268.5 620.2h0.8v0.8h-0.8zM247.9 621.5h0.8v0.8h-0.8zM254.1 619.4h0.8v0.8h-0.8zM246.5 620.5h0.8v0.8h-0.8zM258.0 620.8h0.8v0.8h-0.8zM243.6 616.4h0.8v0.8h-0.8zM255.9 621.4h0.8v0.8h-0.8zM253.7 620.7h0.8v0.8h-0.8zM262.1 616.2h0.8v0.8h-0.8zM246.8 622.2h0.8v0.8h-0.8zM250.2 620.9h0.8v0.8h-0.8z" fill="#333" fill-opacity="0.45"/>
<ellipse cx="244" cy="622.2" rx="6" ry="3.1" fill="#000" fill-opacity="0.98" transform="rotate(0 244 622.2)" filter="url(#b6)"/>
<ellipse cx="254" cy="622" rx="8" ry="2.2" fill="#000" fill-opacity="0.75" transform="rotate(0 254 622)" filter="url(#b8)"/>
<path d="M96.4 659.5h0.8v0.8h-0.8zM97.6 653.6h0.8v0.8h-0.8zM91.6 663.1h0.8v0.8h-0.8zM86.5 664.1h0.8v0.8h-0.8zM91.4 646.8h0.8v0.8h-0.8zM91.5 654.0h0.8v0.8h-0.8zM112.0 660.9h0.8v0.8h-0.8zM109.1 660.7h0.8v0.8h-0.8zM91.1 660.3h0.8v0.8h-0.8zM91.6 661.5h0.8v0.8h-0.8zM97.3 662.7h0.8v0.8h-0.8zM99.2 663.2h0.8v0.8h-0.8zM89.5 666.7h0.8v0.8h-0.8zM87.1 660.0h0.8v0.8h-0.8zM109.8 663.2h0.8v0.8h-0.8zM103.0 653.7h0.8v0.8h-0.8zM88.4 665.2h0.8v0.8h-0.8zM96.5 668.8h0.8v0.8h-0.8zM99.0 662.0h0.8v0.8h-0.8zM92.1 655.0h0.8v0.8h-0.8zM96.5 660.0h0.8v0.8h-0.8zM99.5 660.7h0.8v0.8h-0.8zM94.8 664.0h0.8v0.8h-0.8zM90.9 663.5h0.8v0.8h-0.8zM99.2 649.8h0.8v0.8h-0.8zM94.3 665.1h0.8v0.8h-0.8zM86.1 658.0h0.8v0.8h-0.8zM95.5 657.8h0.8v0.8h-0.8zM84.7 665.3h0.8v0.8h-0.8zM102.3 658.9h0.8v0.8h-0.8zM98.4 654.7h0.8v0.8h-0.8zM87.0 654.9h0.8v0.8h-0.8zM96.4 660.1h0.8v0.8h-0.8zM104.5 663.4h0.8v0.8h-0.8zM93.7 659.3h0.8v0.8h-0.8zM107.6 658.1h0.8v0.8h-0.8zM93.5 658.2h0.8v0.8h-0.8zM83.7 665.5h0.8v0.8h-0.8zM94.2 660.8h0.8v0.8h-0.8zM90.6 661.0h0.8v0.8h-0.8zM95.8 658.1h0.8v0.8h-0.8zM97.7 657.3h0.8v0.8h-0.8zM98.1 659.4h0.8v0.8h-0.8zM103.7 657.4h0.8v0.8h-0.8zM100.2 661.1h0.8v0.8h-0.8zM100.5 660.2h0.8v0.8h-0.8zM87.1 658.9h0.8v0.8h-0.8zM93.5 659.2h0.8v0.8h-0.8zM119.6 659.0h0.8v0.8h-0.8zM112.5 666.5h0.8v0.8h-0.8zM101.2 659.9h0.8v0.8h-0.8zM100.5 657.7h0.8v0.8h-0.8zM102.5 658.8h0.8v0.8h-0.8zM91.6 662.4h0.8v0.8h-0.8zM110.1 659.2h0.8v0.8h-0.8zM91.8 659.3h0.8v0.8h-0.8zM94.1 658.9h0.8v0.8h-0.8zM111.8 660.5h0.8v0.8h-0.8zM97.6 661.6h0.8v0.8h-0.8zM89.6 655.9h0.8v0.8h-0.8zM94.0 649.9h0.8v0.8h-0.8zM92.0 663.0h0.8v0.8h-0.8zM96.1 664.1h0.8v0.8h-0.8zM88.7 664.8h0.8v0.8h-0.8zM93.9 660.5h0.8v0.8h-0.8zM85.4 664.3h0.8v0.8h-0.8zM91.7 659.8h0.8v0.8h-0.8zM83.8 659.4h0.8v0.8h-0.8zM99.9 654.1h0.8v0.8h-0.8zM84.6 656.9h0.8v0.8h-0.8zM100.2 657.7h0.8v0.8h-0.8zM91.5 663.4h0.8v0.8h-0.8zM92.4 666.2h0.8v0.8h-0.8zM104.1 658.1h0.8v0.8h-0.8zM95.6 661.3h0.8v0.8h-0.8zM98.7 657.0h0.8v0.8h-0.8zM96.9 657.0h0.8v0.8h-0.8zM91.6 654.5h0.8v0.8h-0.8zM83.7 658.7h0.8v0.8h-0.8zM95.4 659.4h0.8v0.8h-0.8zM92.3 659.2h0.8v0.8h-0.8zM110.6 659.3h0.8v0.8h-0.8zM91.3 661.7h0.8v0.8h-0.8zM110.1 656.4h0.8v0.8h-0.8zM105.7 663.3h0.8v0.8h-0.8zM89.9 653.6h0.8v0.8h-0.8zM88.3 660.1h0.8v0.8h-0.8zM105.2 661.4h0.8v0.8h-0.8zM93.7 656.9h0.8v0.8h-0.8zM96.0 653.8h0.8v0.8h-0.8zM92.7 662.3h0.8v0.8h-0.8zM85.2 657.3h0.8v0.8h-0.8zM91.8 662.9h0.8v0.8h-0.8zM87.2 662.8h0.8v0.8h-0.8zM92.4 659.9h0.8v0.8h-0.8zM108.9 663.6h0.8v0.8h-0.8zM107.6 661.3h0.8v0.8h-0.8zM94.3 656.4h0.8v0.8h-0.8zM95.8 660.5h0.8v0.8h-0.8zM98.8 662.0h0.8v0.8h-0.8zM105.6 660.7h0.8v0.8h-0.8zM97.3 660.6h0.8v0.8h-0.8zM91.0 659.3h0.8v0.8h-0.8zM91.7 659.4h0.8v0.8h-0.8zM103.8 656.4h0.8v0.8h-0.8zM115.5 654.5h0.8v0.8h-0.8zM89.8 664.2h0.8v0.8h-0.8zM101.2 660.7h0.8v0.8h-0.8zM94.2 654.2h0.8v0.8h-0.8zM95.9 660.5h0.8v0.8h-0.8zM104.6 656.8h0.8v0.8h-0.8zM95.3 671.1h0.8v0.8h-0.8zM84.2 656.0h0.8v0.8h-0.8zM94.4 663.5h0.8v0.8h-0.8zM85.5 664.2h0.8v0.8h-0.8zM97.1 651.9h0.8v0.8h-0.8zM84.6 660.9h0.8v0.8h-0.8zM92.0 663.2h0.8v0.8h-0.8zM91.9 662.5h0.8v0.8h-0.8zM91.2 657.9h0.8v0.8h-0.8zM99.5 656.1h0.8v0.8h-0.8zM105.5 658.6h0.8v0.8h-0.8zM93.3 658.1h0.8v0.8h-0.8zM87.9 654.6h0.8v0.8h-0.8zM110.4 668.3h0.8v0.8h-0.8zM97.7 658.2h0.8v0.8h-0.8zM99.6 657.1h0.8v0.8h-0.8zM99.6 663.1h0.8v0.8h-0.8zM106.4 659.6h0.8v0.8h-0.8zM102.8 664.9h0.8v0.8h-0.8zM100.2 658.9h0.8v0.8h-0.8zM100.9 661.2h0.8v0.8h-0.8zM87.9 660.2h0.8v0.8h-0.8zM89.9 660.5h0.8v0.8h-0.8zM93.9 659.1h0.8v0.8h-0.8zM95.5 659.5h0.8v0.8h-0.8zM94.9 666.2h0.8v0.8h-0.8zM97.3 657.3h0.8v0.8h-0.8zM95.0 657.8h0.8v0.8h-0.8zM91.4 658.6h0.8v0.8h-0.8zM101.5 661.4h0.8v0.8h-0.8zM99.5 663.4h0.8v0.8h-0.8zM87.8 654.8h0.8v0.8h-0.8zM98.8 660.9h0.8v0.8h-0.8zM97.9 659.2h0.8v0.8h-0.8zM95.4 658.8h0.8v0.8h-0.8zM85.2 652.5h0.8v0.8h-0.8zM90.0 660.9h0.8v0.8h-0.8zM107.7 660.4h0.8v0.8h-0.8zM87.9 654.5h0.8v0.8h-0.8zM92.0 659.5h0.8v0.8h-0.8zM85.9 665.7h0.8v0.8h-0.8zM90.9 658.4h0.8v0.8h-0.8zM97.5 662.1h0.8v0.8h-0.8zM100.1 656.4h0.8v0.8h-0.8zM95.1 658.4h0.8v0.8h-0.8zM90.0 664.8h0.8v0.8h-0.8zM102.5 663.0h0.8v0.8h-0.8zM102.5 657.2h0.8v0.8h-0.8zM93.5 659.4h0.8v0.8h-0.8zM103.6 657.3h0.8v0.8h-0.8zM89.4 661.5h0.8v0.8h-0.8zM92.3 656.5h0.8v0.8h-0.8zM102.4 654.0h0.8v0.8h-0.8zM92.7 664.8h0.8v0.8h-0.8zM85.2 653.0h0.8v0.8h-0.8zM89.3 661.9h0.8v0.8h-0.8zM84.2 654.2h0.8v0.8h-0.8zM99.2 659.8h0.8v0.8h-0.8zM102.8 658.2h0.8v0.8h-0.8zM95.2 659.5h0.8v0.8h-0.8zM92.3 656.5h0.8v0.8h-0.8zM103.0 659.6h0.8v0.8h-0.8zM103.8 663.6h0.8v0.8h-0.8zM105.2 657.2h0.8v0.8h-0.8zM94.1 660.9h0.8v0.8h-0.8zM95.6 655.6h0.8v0.8h-0.8zM96.6 661.3h0.8v0.8h-0.8zM99.7 662.3h0.8v0.8h-0.8zM91.6 669.2h0.8v0.8h-0.8zM103.6 663.3h0.8v0.8h-0.8zM97.4 661.5h0.8v0.8h-0.8zM103.9 665.2h0.8v0.8h-0.8zM98.6 656.2h0.8v0.8h-0.8zM100.2 663.9h0.8v0.8h-0.8zM89.0 657.9h0.8v0.8h-0.8zM91.5 657.6h0.8v0.8h-0.8zM84.5 664.0h0.8v0.8h-0.8zM92.4 660.8h0.8v0.8h-0.8zM93.4 664.9h0.8v0.8h-0.8zM101.5 654.5h0.8v0.8h-0.8zM84.7 660.9h0.8v0.8h-0.8zM120.7 657.9h0.8v0.8h-0.8zM93.8 658.9h0.8v0.8h-0.8zM104.9 652.8h0.8v0.8h-0.8zM103.1 663.4h0.8v0.8h-0.8zM92.7 656.2h0.8v0.8h-0.8zM106.6 654.9h0.8v0.8h-0.8zM100.9 665.2h0.8v0.8h-0.8zM87.5 659.5h0.8v0.8h-0.8zM91.1 658.7h0.8v0.8h-0.8zM96.6 661.8h0.8v0.8h-0.8zM96.3 660.8h0.8v0.8h-0.8zM89.6 662.7h0.8v0.8h-0.8zM88.8 661.2h0.8v0.8h-0.8zM100.4 663.2h0.8v0.8h-0.8zM122.8 655.5h0.8v0.8h-0.8zM97.5 660.2h0.8v0.8h-0.8zM99.2 658.6h0.8v0.8h-0.8zM94.4 660.3h0.8v0.8h-0.8zM89.0 659.8h0.8v0.8h-0.8zM96.8 657.6h0.8v0.8h-0.8zM106.9 658.6h0.8v0.8h-0.8zM96.3 663.5h0.8v0.8h-0.8zM101.9 657.9h0.8v0.8h-0.8zM93.0 655.3h0.8v0.8h-0.8zM114.9 662.2h0.8v0.8h-0.8zM99.4 659.0h0.8v0.8h-0.8zM99.1 660.4h0.8v0.8h-0.8zM96.9 656.8h0.8v0.8h-0.8zM85.8 659.2h0.8v0.8h-0.8zM85.7 664.1h0.8v0.8h-0.8zM92.9 663.0h0.8v0.8h-0.8zM95.5 660.5h0.8v0.8h-0.8zM85.0 659.0h0.8v0.8h-0.8zM86.2 653.9h0.8v0.8h-0.8zM99.2 661.2h0.8v0.8h-0.8zM103.0 661.7h0.8v0.8h-0.8zM90.2 663.9h0.8v0.8h-0.8zM89.1 667.5h0.8v0.8h-0.8zM88.9 661.4h0.8v0.8h-0.8zM114.6 663.6h0.8v0.8h-0.8zM98.6 655.8h0.8v0.8h-0.8zM94.2 664.5h0.8v0.8h-0.8zM102.8 663.2h0.8v0.8h-0.8zM113.1 665.1h0.8v0.8h-0.8zM104.1 662.5h0.8v0.8h-0.8zM94.0 665.5h0.8v0.8h-0.8zM91.5 657.5h0.8v0.8h-0.8zM92.0 662.4h0.8v0.8h-0.8zM85.0 664.0h0.8v0.8h-0.8zM91.6 657.1h0.8v0.8h-0.8zM86.0 655.7h0.8v0.8h-0.8zM97.4 661.6h0.8v0.8h-0.8zM95.1 660.5h0.8v0.8h-0.8zM83.4 662.3h0.8v0.8h-0.8zM90.8 657.2h0.8v0.8h-0.8zM99.9 661.3h0.8v0.8h-0.8zM98.7 664.2h0.8v0.8h-0.8zM94.2 658.7h0.8v0.8h-0.8zM90.7 655.9h0.8v0.8h-0.8zM88.8 663.1h0.8v0.8h-0.8zM92.0 667.3h0.8v0.8h-0.8zM84.9 655.0h0.8v0.8h-0.8zM91.2 662.9h0.8v0.8h-0.8zM89.4 663.4h0.8v0.8h-0.8zM116.5 658.0h0.8v0.8h-0.8zM100.3 658.7h0.8v0.8h-0.8zM93.1 656.2h0.8v0.8h-0.8zM94.3 657.1h0.8v0.8h-0.8zM93.7 660.7h0.8v0.8h-0.8zM96.2 662.5h0.8v0.8h-0.8zM91.4 660.5h0.8v0.8h-0.8zM94.5 663.2h0.8v0.8h-0.8zM102.9 660.8h0.8v0.8h-0.8zM101.3 655.7h0.8v0.8h-0.8zM97.2 665.4h0.8v0.8h-0.8zM105.4 664.4h0.8v0.8h-0.8zM96.5 657.4h0.8v0.8h-0.8zM86.8 666.6h0.8v0.8h-0.8zM89.1 660.6h0.8v0.8h-0.8zM94.2 667.2h0.8v0.8h-0.8zM97.9 650.8h0.8v0.8h-0.8zM103.3 654.1h0.8v0.8h-0.8zM90.1 662.7h0.8v0.8h-0.8zM88.2 659.2h0.8v0.8h-0.8zM100.9 656.6h0.8v0.8h-0.8zM104.1 665.7h0.8v0.8h-0.8zM90.8 661.9h0.8v0.8h-0.8zM97.4 655.4h0.8v0.8h-0.8zM105.7 657.6h0.8v0.8h-0.8zM97.3 663.2h0.8v0.8h-0.8zM94.2 666.7h0.8v0.8h-0.8zM105.3 661.0h0.8v0.8h-0.8zM99.8 658.7h0.8v0.8h-0.8zM95.7 653.6h0.8v0.8h-0.8zM90.9 659.5h0.8v0.8h-0.8zM84.7 654.2h0.8v0.8h-0.8zM93.9 658.1h0.8v0.8h-0.8zM93.8 666.1h0.8v0.8h-0.8zM103.5 662.0h0.8v0.8h-0.8zM85.0 663.0h0.8v0.8h-0.8zM106.2 662.3h0.8v0.8h-0.8zM95.0 661.4h0.8v0.8h-0.8zM104.2 663.7h0.8v0.8h-0.8zM86.9 655.8h0.8v0.8h-0.8zM97.5 658.8h0.8v0.8h-0.8zM104.5 663.3h0.8v0.8h-0.8zM95.6 657.4h0.8v0.8h-0.8zM92.0 664.6h0.8v0.8h-0.8zM99.0 665.8h0.8v0.8h-0.8zM83.5 657.9h0.8v0.8h-0.8zM96.6 662.3h0.8v0.8h-0.8zM87.1 661.1h0.8v0.8h-0.8zM100.1 657.6h0.8v0.8h-0.8zM85.3 662.3h0.8v0.8h-0.8zM88.5 660.4h0.8v0.8h-0.8zM106.6 671.0h0.8v0.8h-0.8zM87.8 665.2h0.8v0.8h-0.8zM94.6 663.2h0.8v0.8h-0.8zM96.7 663.9h0.8v0.8h-0.8zM87.1 671.1h0.8v0.8h-0.8zM103.4 664.2h0.8v0.8h-0.8zM96.1 657.5h0.8v0.8h-0.8zM98.3 661.3h0.8v0.8h-0.8zM93.2 661.1h0.8v0.8h-0.8zM92.9 659.9h0.8v0.8h-0.8zM100.5 658.3h0.8v0.8h-0.8zM106.6 663.2h0.8v0.8h-0.8zM92.7 654.2h0.8v0.8h-0.8zM92.5 663.2h0.8v0.8h-0.8zM98.3 660.2h0.8v0.8h-0.8zM106.9 661.2h0.8v0.8h-0.8zM88.1 651.3h0.8v0.8h-0.8zM99.7 666.4h0.8v0.8h-0.8zM92.7 653.7h0.8v0.8h-0.8zM92.0 656.9h0.8v0.8h-0.8zM101.2 662.6h0.8v0.8h-0.8zM88.4 657.9h0.8v0.8h-0.8zM86.1 658.6h0.8v0.8h-0.8zM100.0 651.9h0.8v0.8h-0.8zM94.5 658.5h0.8v0.8h-0.8zM92.6 661.0h0.8v0.8h-0.8zM93.6 662.7h0.8v0.8h-0.8zM98.7 659.1h0.8v0.8h-0.8zM91.7 661.0h0.8v0.8h-0.8zM100.8 661.8h0.8v0.8h-0.8zM98.0 657.7h0.8v0.8h-0.8zM106.6 657.4h0.8v0.8h-0.8zM104.8 667.5h0.8v0.8h-0.8zM101.6 657.0h0.8v0.8h-0.8zM93.1 664.8h0.8v0.8h-0.8zM95.7 660.4h0.8v0.8h-0.8zM90.0 665.6h0.8v0.8h-0.8zM117.5 657.8h0.8v0.8h-0.8zM92.9 662.1h0.8v0.8h-0.8zM99.2 661.4h0.8v0.8h-0.8zM105.6 659.3h0.8v0.8h-0.8zM83.8 661.3h0.8v0.8h-0.8zM88.1 657.3h0.8v0.8h-0.8zM91.6 659.9h0.8v0.8h-0.8zM86.8 658.7h0.8v0.8h-0.8zM84.6 663.0h0.8v0.8h-0.8zM90.6 659.8h0.8v0.8h-0.8zM105.1 655.0h0.8v0.8h-0.8zM100.5 658.8h0.8v0.8h-0.8zM95.0 659.8h0.8v0.8h-0.8zM95.0 656.8h0.8v0.8h-0.8zM100.3 661.7h0.8v0.8h-0.8zM98.2 663.3h0.8v0.8h-0.8zM86.1 657.3h0.8v0.8h-0.8zM96.4 658.7h0.8v0.8h-0.8zM93.2 663.9h0.8v0.8h-0.8zM90.6 654.8h0.8v0.8h-0.8zM86.8 661.5h0.8v0.8h-0.8zM89.3 660.5h0.8v0.8h-0.8zM87.2 658.3h0.8v0.8h-0.8zM98.4 660.5h0.8v0.8h-0.8zM97.7 656.2h0.8v0.8h-0.8zM97.3 661.0h0.8v0.8h-0.8zM93.3 655.6h0.8v0.8h-0.8zM91.5 655.4h0.8v0.8h-0.8zM111.1 665.4h0.8v0.8h-0.8zM104.3 652.3h0.8v0.8h-0.8zM97.6 663.8h0.8v0.8h-0.8zM95.3 657.3h0.8v0.8h-0.8zM90.7 647.0h0.8v0.8h-0.8zM93.0 660.0h0.8v0.8h-0.8zM85.3 663.6h0.8v0.8h-0.8zM83.7 661.5h0.8v0.8h-0.8z" fill="#222" fill-opacity="0.45"/>
<ellipse cx="95" cy="660" rx="8.5" ry="3.6" fill="#000" fill-opacity="0.45" transform="rotate(0 95 660)" filter="url(#b13)"/>
<path d="M113.9 673.6h0.8v0.8h-0.8zM99.4 675.6h0.8v0.8h-0.8zM105.1 673.4h0.8v0.8h-0.8zM92.4 677.1h0.8v0.8h-0.8zM101.7 666.2h0.8v0.8h-0.8zM112.4 682.9h0.8v0.8h-0.8zM104.3 675.5h0.8v0.8h-0.8zM101.6 676.1h0.8v0.8h-0.8zM84.8 677.1h0.8v0.8h-0.8zM97.4 679.9h0.8v0.8h-0.8zM90.2 677.8h0.8v0.8h-0.8zM106.5 674.8h0.8v0.8h-0.8zM94.6 672.3h0.8v0.8h-0.8zM103.2 663.6h0.8v0.8h-0.8zM92.5 674.7h0.8v0.8h-0.8zM115.2 671.6h0.8v0.8h-0.8zM91.1 671.6h0.8v0.8h-0.8zM101.5 687.9h0.8v0.8h-0.8zM121.1 662.3h0.8v0.8h-0.8zM102.1 673.8h0.8v0.8h-0.8zM93.5 680.7h0.8v0.8h-0.8zM105.2 679.2h0.8v0.8h-0.8zM108.2 680.9h0.8v0.8h-0.8zM107.2 665.8h0.8v0.8h-0.8zM84.9 667.7h0.8v0.8h-0.8zM102.1 677.2h0.8v0.8h-0.8zM83.6 671.7h0.8v0.8h-0.8zM115.3 683.7h0.8v0.8h-0.8zM100.9 674.8h0.8v0.8h-0.8zM96.7 674.6h0.8v0.8h-0.8zM105.7 676.1h0.8v0.8h-0.8zM104.2 671.8h0.8v0.8h-0.8zM91.0 674.2h0.8v0.8h-0.8zM113.2 669.4h0.8v0.8h-0.8zM98.5 673.3h0.8v0.8h-0.8zM86.5 670.6h0.8v0.8h-0.8zM111.4 675.0h0.8v0.8h-0.8zM112.5 665.0h0.8v0.8h-0.8zM110.3 664.5h0.8v0.8h-0.8zM104.7 676.3h0.8v0.8h-0.8zM93.3 674.9h0.8v0.8h-0.8zM107.8 667.7h0.8v0.8h-0.8zM115.1 672.1h0.8v0.8h-0.8zM106.8 667.2h0.8v0.8h-0.8zM113.0 685.7h0.8v0.8h-0.8zM94.3 664.1h0.8v0.8h-0.8zM108.5 683.8h0.8v0.8h-0.8zM107.8 668.6h0.8v0.8h-0.8zM88.6 676.0h0.8v0.8h-0.8zM87.5 671.9h0.8v0.8h-0.8zM94.7 671.2h0.8v0.8h-0.8zM101.0 679.1h0.8v0.8h-0.8zM104.0 678.4h0.8v0.8h-0.8zM98.6 671.8h0.8v0.8h-0.8zM99.9 668.1h0.8v0.8h-0.8zM99.5 686.0h0.8v0.8h-0.8zM101.1 681.9h0.8v0.8h-0.8zM105.0 674.4h0.8v0.8h-0.8zM104.3 671.7h0.8v0.8h-0.8zM100.0 675.3h0.8v0.8h-0.8zM102.5 674.0h0.8v0.8h-0.8zM96.8 680.7h0.8v0.8h-0.8zM106.7 667.7h0.8v0.8h-0.8zM96.4 673.7h0.8v0.8h-0.8zM113.4 668.8h0.8v0.8h-0.8zM100.2 681.4h0.8v0.8h-0.8zM102.6 684.4h0.8v0.8h-0.8zM94.4 673.0h0.8v0.8h-0.8zM97.7 676.8h0.8v0.8h-0.8zM101.7 682.0h0.8v0.8h-0.8zM100.6 671.7h0.8v0.8h-0.8zM95.5 667.9h0.8v0.8h-0.8zM91.2 679.8h0.8v0.8h-0.8zM100.7 676.6h0.8v0.8h-0.8zM101.6 672.3h0.8v0.8h-0.8zM104.8 682.3h0.8v0.8h-0.8zM110.3 675.0h0.8v0.8h-0.8zM97.9 662.9h0.8v0.8h-0.8zM84.6 675.6h0.8v0.8h-0.8zM99.3 673.2h0.8v0.8h-0.8zM85.8 684.8h0.8v0.8h-0.8zM90.2 673.4h0.8v0.8h-0.8zM108.6 672.3h0.8v0.8h-0.8zM104.9 676.2h0.8v0.8h-0.8zM95.3 675.0h0.8v0.8h-0.8zM95.4 665.1h0.8v0.8h-0.8zM99.7 674.3h0.8v0.8h-0.8zM86.5 671.6h0.8v0.8h-0.8zM104.3 682.0h0.8v0.8h-0.8zM97.7 688.0h0.8v0.8h-0.8zM115.1 666.8h0.8v0.8h-0.8zM92.0 667.8h0.8v0.8h-0.8zM108.4 668.5h0.8v0.8h-0.8zM95.0 669.6h0.8v0.8h-0.8zM108.6 669.4h0.8v0.8h-0.8zM92.7 673.9h0.8v0.8h-0.8zM106.3 680.1h0.8v0.8h-0.8zM96.9 665.7h0.8v0.8h-0.8zM93.9 664.3h0.8v0.8h-0.8zM99.2 662.5h0.8v0.8h-0.8zM104.2 680.2h0.8v0.8h-0.8zM103.7 681.5h0.8v0.8h-0.8zM113.0 664.3h0.8v0.8h-0.8zM107.0 663.8h0.8v0.8h-0.8zM97.3 680.1h0.8v0.8h-0.8zM84.6 679.6h0.8v0.8h-0.8zM97.4 674.7h0.8v0.8h-0.8zM105.4 677.7h0.8v0.8h-0.8zM89.8 675.5h0.8v0.8h-0.8zM91.0 670.2h0.8v0.8h-0.8zM101.6 685.0h0.8v0.8h-0.8zM98.2 673.6h0.8v0.8h-0.8zM113.1 666.9h0.8v0.8h-0.8zM103.0 670.8h0.8v0.8h-0.8zM104.7 664.3h0.8v0.8h-0.8zM114.4 673.7h0.8v0.8h-0.8zM96.5 680.1h0.8v0.8h-0.8zM100.4 666.0h0.8v0.8h-0.8zM92.5 680.3h0.8v0.8h-0.8zM102.5 686.1h0.8v0.8h-0.8zM108.7 675.8h0.8v0.8h-0.8zM111.4 666.6h0.8v0.8h-0.8zM100.2 668.4h0.8v0.8h-0.8zM94.8 671.6h0.8v0.8h-0.8zM94.4 665.9h0.8v0.8h-0.8zM89.3 666.1h0.8v0.8h-0.8zM101.4 672.0h0.8v0.8h-0.8zM111.3 672.5h0.8v0.8h-0.8zM111.7 684.8h0.8v0.8h-0.8zM87.6 679.9h0.8v0.8h-0.8zM103.1 678.9h0.8v0.8h-0.8zM90.4 669.7h0.8v0.8h-0.8zM106.7 684.0h0.8v0.8h-0.8zM106.7 671.5h0.8v0.8h-0.8zM101.8 684.5h0.8v0.8h-0.8zM107.1 680.0h0.8v0.8h-0.8zM100.9 668.2h0.8v0.8h-0.8zM105.0 670.8h0.8v0.8h-0.8zM115.1 684.8h0.8v0.8h-0.8zM109.3 679.6h0.8v0.8h-0.8zM95.2 672.6h0.8v0.8h-0.8zM94.1 674.8h0.8v0.8h-0.8zM98.6 674.8h0.8v0.8h-0.8zM98.7 668.9h0.8v0.8h-0.8zM101.1 672.4h0.8v0.8h-0.8zM95.7 669.6h0.8v0.8h-0.8zM105.7 671.0h0.8v0.8h-0.8z" fill="#999" fill-opacity="0.35"/>
<ellipse cx="98" cy="684" rx="13" ry="4" fill="#000" fill-opacity="0.55" transform="rotate(0 98 684)" filter="url(#b12)"/>
<ellipse cx="91" cy="684.4" rx="5.5" ry="3.8" fill="#000" fill-opacity="0.9" transform="rotate(0 91 684.4)" filter="url(#b8)"/>
<ellipse cx="105.5" cy="683.5" rx="4.6" ry="3.6" fill="#000" fill-opacity="0.8" transform="rotate(0 105.5 683.5)" filter="url(#b8)"/>
<path d="M178.7 662.4h0.8v0.8h-0.8zM167.4 673.4h0.8v0.8h-0.8zM187.7 668.6h0.8v0.8h-0.8zM176.7 666.1h0.8v0.8h-0.8zM182.9 662.3h0.8v0.8h-0.8zM183.8 661.3h0.8v0.8h-0.8zM190.6 663.2h0.8v0.8h-0.8zM189.6 672.7h0.8v0.8h-0.8zM180.7 660.7h0.8v0.8h-0.8zM178.1 672.8h0.8v0.8h-0.8zM183.0 665.8h0.8v0.8h-0.8zM169.2 674.5h0.8v0.8h-0.8zM177.4 673.1h0.8v0.8h-0.8zM179.9 659.0h0.8v0.8h-0.8zM180.1 673.0h0.8v0.8h-0.8zM182.3 667.0h0.8v0.8h-0.8zM165.6 672.9h0.8v0.8h-0.8zM194.6 665.9h0.8v0.8h-0.8zM175.7 676.8h0.8v0.8h-0.8zM185.0 671.1h0.8v0.8h-0.8zM172.8 663.8h0.8v0.8h-0.8zM184.8 661.7h0.8v0.8h-0.8zM172.9 670.0h0.8v0.8h-0.8zM171.4 678.9h0.8v0.8h-0.8zM166.2 688.1h0.8v0.8h-0.8zM168.9 664.0h0.8v0.8h-0.8zM167.8 677.9h0.8v0.8h-0.8zM181.9 665.0h0.8v0.8h-0.8zM193.3 663.0h0.8v0.8h-0.8zM158.9 684.9h0.8v0.8h-0.8zM162.7 673.5h0.8v0.8h-0.8zM179.8 666.4h0.8v0.8h-0.8zM184.8 656.5h0.8v0.8h-0.8zM177.8 664.1h0.8v0.8h-0.8zM180.7 667.2h0.8v0.8h-0.8zM180.5 663.9h0.8v0.8h-0.8zM183.6 666.3h0.8v0.8h-0.8zM186.7 651.7h0.8v0.8h-0.8zM190.6 674.1h0.8v0.8h-0.8zM171.5 683.1h0.8v0.8h-0.8zM176.2 675.5h0.8v0.8h-0.8zM175.3 662.8h0.8v0.8h-0.8zM163.8 666.6h0.8v0.8h-0.8zM172.8 667.8h0.8v0.8h-0.8zM172.6 672.2h0.8v0.8h-0.8zM179.2 683.0h0.8v0.8h-0.8zM188.0 669.5h0.8v0.8h-0.8zM172.8 670.0h0.8v0.8h-0.8zM172.5 681.8h0.8v0.8h-0.8zM175.8 679.2h0.8v0.8h-0.8zM178.2 669.1h0.8v0.8h-0.8zM199.7 659.1h0.8v0.8h-0.8zM181.1 668.8h0.8v0.8h-0.8zM188.2 656.2h0.8v0.8h-0.8zM178.1 661.2h0.8v0.8h-0.8zM159.2 684.1h0.8v0.8h-0.8zM184.3 670.5h0.8v0.8h-0.8zM166.1 670.1h0.8v0.8h-0.8zM161.0 672.6h0.8v0.8h-0.8zM170.5 679.1h0.8v0.8h-0.8zM184.0 646.0h0.8v0.8h-0.8zM170.4 687.7h0.8v0.8h-0.8zM171.1 672.0h0.8v0.8h-0.8zM190.0 664.0h0.8v0.8h-0.8zM189.5 671.9h0.8v0.8h-0.8zM158.5 675.8h0.8v0.8h-0.8zM173.4 666.0h0.8v0.8h-0.8zM180.8 681.8h0.8v0.8h-0.8zM175.2 669.6h0.8v0.8h-0.8zM183.7 663.5h0.8v0.8h-0.8zM173.6 674.3h0.8v0.8h-0.8zM178.5 675.8h0.8v0.8h-0.8zM194.5 664.1h0.8v0.8h-0.8zM162.5 682.9h0.8v0.8h-0.8zM173.5 670.7h0.8v0.8h-0.8zM181.6 665.9h0.8v0.8h-0.8zM168.2 679.4h0.8v0.8h-0.8zM176.7 679.0h0.8v0.8h-0.8zM167.1 679.2h0.8v0.8h-0.8zM185.1 675.4h0.8v0.8h-0.8zM169.7 670.4h0.8v0.8h-0.8zM186.2 665.8h0.8v0.8h-0.8zM192.2 669.0h0.8v0.8h-0.8zM182.4 674.1h0.8v0.8h-0.8zM175.6 673.4h0.8v0.8h-0.8zM177.1 664.0h0.8v0.8h-0.8zM175.9 666.2h0.8v0.8h-0.8zM166.9 677.4h0.8v0.8h-0.8zM187.9 662.9h0.8v0.8h-0.8zM178.9 666.8h0.8v0.8h-0.8zM179.7 658.0h0.8v0.8h-0.8zM163.8 676.2h0.8v0.8h-0.8zM186.9 665.1h0.8v0.8h-0.8zM198.4 657.6h0.8v0.8h-0.8zM178.4 659.5h0.8v0.8h-0.8zM164.3 678.3h0.8v0.8h-0.8zM172.6 662.5h0.8v0.8h-0.8zM175.4 667.6h0.8v0.8h-0.8zM191.3 681.7h0.8v0.8h-0.8zM176.0 671.3h0.8v0.8h-0.8zM180.8 664.5h0.8v0.8h-0.8zM171.9 670.4h0.8v0.8h-0.8zM175.7 663.0h0.8v0.8h-0.8zM165.8 667.0h0.8v0.8h-0.8zM178.5 668.5h0.8v0.8h-0.8zM185.3 661.2h0.8v0.8h-0.8zM178.4 678.7h0.8v0.8h-0.8zM178.0 658.2h0.8v0.8h-0.8zM171.6 677.4h0.8v0.8h-0.8zM179.0 677.3h0.8v0.8h-0.8zM169.3 663.4h0.8v0.8h-0.8zM190.5 663.1h0.8v0.8h-0.8zM165.9 668.5h0.8v0.8h-0.8zM189.8 662.7h0.8v0.8h-0.8zM170.1 685.6h0.8v0.8h-0.8zM176.4 670.5h0.8v0.8h-0.8zM186.4 664.0h0.8v0.8h-0.8zM181.4 661.7h0.8v0.8h-0.8zM170.1 677.7h0.8v0.8h-0.8zM171.0 682.6h0.8v0.8h-0.8zM184.6 662.4h0.8v0.8h-0.8zM166.5 677.8h0.8v0.8h-0.8zM183.9 666.8h0.8v0.8h-0.8zM176.0 676.3h0.8v0.8h-0.8zM172.3 663.1h0.8v0.8h-0.8zM197.6 653.1h0.8v0.8h-0.8zM188.7 655.6h0.8v0.8h-0.8zM186.5 665.3h0.8v0.8h-0.8zM169.4 683.3h0.8v0.8h-0.8zM181.5 668.3h0.8v0.8h-0.8zM182.4 674.1h0.8v0.8h-0.8zM173.6 666.2h0.8v0.8h-0.8zM187.8 658.3h0.8v0.8h-0.8zM159.8 677.8h0.8v0.8h-0.8zM180.6 667.4h0.8v0.8h-0.8zM179.1 668.9h0.8v0.8h-0.8zM170.7 674.0h0.8v0.8h-0.8zM188.4 652.3h0.8v0.8h-0.8zM166.7 678.2h0.8v0.8h-0.8zM176.5 667.5h0.8v0.8h-0.8zM180.4 671.2h0.8v0.8h-0.8zM158.1 684.0h0.8v0.8h-0.8zM169.3 684.2h0.8v0.8h-0.8zM170.2 677.3h0.8v0.8h-0.8zM178.3 656.5h0.8v0.8h-0.8zM185.2 662.0h0.8v0.8h-0.8zM178.1 659.6h0.8v0.8h-0.8zM182.9 671.5h0.8v0.8h-0.8zM163.7 690.8h0.8v0.8h-0.8zM179.4 667.8h0.8v0.8h-0.8zM174.8 674.8h0.8v0.8h-0.8zM182.9 655.4h0.8v0.8h-0.8zM181.8 651.0h0.8v0.8h-0.8zM194.9 651.2h0.8v0.8h-0.8zM182.9 663.4h0.8v0.8h-0.8zM179.7 657.7h0.8v0.8h-0.8zM169.2 677.2h0.8v0.8h-0.8zM179.4 670.1h0.8v0.8h-0.8zM169.3 680.8h0.8v0.8h-0.8zM190.4 669.1h0.8v0.8h-0.8zM170.1 681.2h0.8v0.8h-0.8zM174.6 669.5h0.8v0.8h-0.8zM171.0 675.7h0.8v0.8h-0.8zM175.6 675.2h0.8v0.8h-0.8zM178.1 662.1h0.8v0.8h-0.8zM177.2 678.7h0.8v0.8h-0.8zM182.5 671.4h0.8v0.8h-0.8zM168.4 675.8h0.8v0.8h-0.8zM187.5 657.0h0.8v0.8h-0.8zM184.7 689.0h0.8v0.8h-0.8zM189.1 665.5h0.8v0.8h-0.8zM199.0 657.8h0.8v0.8h-0.8zM162.8 694.0h0.8v0.8h-0.8zM172.4 680.4h0.8v0.8h-0.8zM176.6 671.8h0.8v0.8h-0.8zM190.0 663.8h0.8v0.8h-0.8zM170.5 669.4h0.8v0.8h-0.8zM183.2 669.6h0.8v0.8h-0.8zM166.3 668.7h0.8v0.8h-0.8zM183.9 667.1h0.8v0.8h-0.8zM169.1 680.4h0.8v0.8h-0.8zM179.7 657.4h0.8v0.8h-0.8zM157.7 678.6h0.8v0.8h-0.8zM196.7 660.5h0.8v0.8h-0.8zM177.4 666.2h0.8v0.8h-0.8zM171.0 677.2h0.8v0.8h-0.8zM194.3 651.1h0.8v0.8h-0.8zM194.8 671.7h0.8v0.8h-0.8zM190.7 665.4h0.8v0.8h-0.8zM180.0 679.7h0.8v0.8h-0.8zM185.6 668.1h0.8v0.8h-0.8zM184.3 668.6h0.8v0.8h-0.8zM163.9 682.1h0.8v0.8h-0.8zM182.0 664.3h0.8v0.8h-0.8zM178.1 673.3h0.8v0.8h-0.8zM189.2 660.9h0.8v0.8h-0.8zM188.4 659.6h0.8v0.8h-0.8zM167.6 668.8h0.8v0.8h-0.8zM171.5 672.7h0.8v0.8h-0.8zM181.3 670.6h0.8v0.8h-0.8zM181.7 663.0h0.8v0.8h-0.8zM175.3 673.9h0.8v0.8h-0.8zM176.2 669.8h0.8v0.8h-0.8zM179.5 661.1h0.8v0.8h-0.8zM178.3 663.0h0.8v0.8h-0.8zM185.2 658.3h0.8v0.8h-0.8zM178.8 666.7h0.8v0.8h-0.8zM169.2 675.0h0.8v0.8h-0.8zM166.2 686.7h0.8v0.8h-0.8zM181.1 659.5h0.8v0.8h-0.8zM168.1 664.0h0.8v0.8h-0.8zM176.9 674.8h0.8v0.8h-0.8zM173.7 669.9h0.8v0.8h-0.8zM163.7 680.5h0.8v0.8h-0.8zM182.7 682.4h0.8v0.8h-0.8zM160.1 694.2h0.8v0.8h-0.8zM176.1 674.8h0.8v0.8h-0.8zM173.1 679.8h0.8v0.8h-0.8zM193.9 656.8h0.8v0.8h-0.8zM184.7 670.2h0.8v0.8h-0.8zM173.8 668.8h0.8v0.8h-0.8zM176.7 665.7h0.8v0.8h-0.8zM182.4 662.5h0.8v0.8h-0.8zM176.3 681.3h0.8v0.8h-0.8zM180.8 677.4h0.8v0.8h-0.8zM172.6 669.8h0.8v0.8h-0.8zM202.9 656.2h0.8v0.8h-0.8zM177.8 668.5h0.8v0.8h-0.8zM164.2 688.1h0.8v0.8h-0.8zM183.5 662.6h0.8v0.8h-0.8zM203.1 654.7h0.8v0.8h-0.8zM169.0 676.1h0.8v0.8h-0.8zM177.0 670.0h0.8v0.8h-0.8zM186.8 663.0h0.8v0.8h-0.8zM170.9 671.5h0.8v0.8h-0.8zM170.8 666.2h0.8v0.8h-0.8zM172.6 685.3h0.8v0.8h-0.8zM167.2 675.8h0.8v0.8h-0.8zM180.1 652.4h0.8v0.8h-0.8zM158.5 667.0h0.8v0.8h-0.8zM178.8 664.6h0.8v0.8h-0.8zM185.0 672.6h0.8v0.8h-0.8zM166.6 668.0h0.8v0.8h-0.8zM177.0 668.1h0.8v0.8h-0.8zM170.8 663.1h0.8v0.8h-0.8zM177.0 677.6h0.8v0.8h-0.8zM179.3 670.8h0.8v0.8h-0.8zM179.2 670.6h0.8v0.8h-0.8zM173.3 682.4h0.8v0.8h-0.8zM171.8 685.6h0.8v0.8h-0.8zM173.7 679.9h0.8v0.8h-0.8zM176.8 666.5h0.8v0.8h-0.8zM185.3 654.4h0.8v0.8h-0.8zM186.9 654.9h0.8v0.8h-0.8zM174.6 660.5h0.8v0.8h-0.8zM191.8 669.9h0.8v0.8h-0.8zM178.1 668.1h0.8v0.8h-0.8zM187.7 662.2h0.8v0.8h-0.8zM179.4 669.6h0.8v0.8h-0.8zM187.7 674.8h0.8v0.8h-0.8zM173.3 669.6h0.8v0.8h-0.8zM181.5 674.4h0.8v0.8h-0.8zM195.1 657.1h0.8v0.8h-0.8zM166.7 677.9h0.8v0.8h-0.8zM171.3 662.2h0.8v0.8h-0.8zM175.5 677.7h0.8v0.8h-0.8zM183.5 659.8h0.8v0.8h-0.8zM191.9 654.7h0.8v0.8h-0.8zM175.7 672.9h0.8v0.8h-0.8zM186.7 669.7h0.8v0.8h-0.8zM180.8 662.6h0.8v0.8h-0.8zM163.5 682.7h0.8v0.8h-0.8zM176.4 672.6h0.8v0.8h-0.8zM177.1 670.3h0.8v0.8h-0.8zM159.7 689.3h0.8v0.8h-0.8zM182.7 663.8h0.8v0.8h-0.8zM185.4 671.3h0.8v0.8h-0.8zM177.3 665.2h0.8v0.8h-0.8zM163.6 671.9h0.8v0.8h-0.8zM171.3 674.8h0.8v0.8h-0.8zM176.0 679.1h0.8v0.8h-0.8zM180.1 664.2h0.8v0.8h-0.8zM166.9 674.5h0.8v0.8h-0.8zM189.2 657.7h0.8v0.8h-0.8zM181.4 667.7h0.8v0.8h-0.8zM158.0 685.0h0.8v0.8h-0.8zM193.3 658.7h0.8v0.8h-0.8zM173.3 661.8h0.8v0.8h-0.8zM177.7 679.7h0.8v0.8h-0.8zM180.4 671.3h0.8v0.8h-0.8zM158.8 679.8h0.8v0.8h-0.8zM183.8 673.8h0.8v0.8h-0.8zM157.6 689.6h0.8v0.8h-0.8zM173.5 683.1h0.8v0.8h-0.8zM185.5 655.2h0.8v0.8h-0.8zM194.1 667.1h0.8v0.8h-0.8zM174.7 672.5h0.8v0.8h-0.8zM162.3 668.8h0.8v0.8h-0.8zM188.2 665.9h0.8v0.8h-0.8zM176.1 669.0h0.8v0.8h-0.8zM176.1 664.3h0.8v0.8h-0.8zM182.3 664.4h0.8v0.8h-0.8zM161.7 670.1h0.8v0.8h-0.8zM186.4 666.3h0.8v0.8h-0.8zM158.3 684.5h0.8v0.8h-0.8zM189.5 658.0h0.8v0.8h-0.8zM168.5 687.0h0.8v0.8h-0.8zM172.1 674.6h0.8v0.8h-0.8zM169.5 672.1h0.8v0.8h-0.8zM180.8 660.7h0.8v0.8h-0.8zM183.9 664.1h0.8v0.8h-0.8zM184.2 671.4h0.8v0.8h-0.8zM180.3 663.6h0.8v0.8h-0.8zM178.2 662.3h0.8v0.8h-0.8zM179.9 674.0h0.8v0.8h-0.8zM160.9 684.2h0.8v0.8h-0.8zM157.2 686.7h0.8v0.8h-0.8zM164.2 695.0h0.8v0.8h-0.8zM173.1 665.4h0.8v0.8h-0.8zM176.1 672.3h0.8v0.8h-0.8zM170.4 663.9h0.8v0.8h-0.8zM178.5 667.0h0.8v0.8h-0.8zM177.4 673.9h0.8v0.8h-0.8zM172.4 681.7h0.8v0.8h-0.8zM160.1 675.9h0.8v0.8h-0.8zM163.6 687.2h0.8v0.8h-0.8zM190.7 664.0h0.8v0.8h-0.8zM185.0 662.7h0.8v0.8h-0.8zM173.7 689.6h0.8v0.8h-0.8zM175.0 671.9h0.8v0.8h-0.8zM178.4 663.2h0.8v0.8h-0.8zM192.9 659.8h0.8v0.8h-0.8zM166.0 667.0h0.8v0.8h-0.8zM184.1 674.8h0.8v0.8h-0.8zM190.9 665.3h0.8v0.8h-0.8zM160.8 681.2h0.8v0.8h-0.8zM173.0 677.7h0.8v0.8h-0.8zM178.9 672.3h0.8v0.8h-0.8zM177.5 682.9h0.8v0.8h-0.8zM194.0 651.9h0.8v0.8h-0.8zM180.8 658.4h0.8v0.8h-0.8zM172.4 660.4h0.8v0.8h-0.8zM168.0 675.9h0.8v0.8h-0.8zM179.9 657.3h0.8v0.8h-0.8zM182.4 664.6h0.8v0.8h-0.8zM174.2 675.4h0.8v0.8h-0.8zM172.1 671.4h0.8v0.8h-0.8zM161.4 677.0h0.8v0.8h-0.8zM180.7 675.2h0.8v0.8h-0.8zM184.4 662.8h0.8v0.8h-0.8zM187.0 663.5h0.8v0.8h-0.8zM185.7 669.4h0.8v0.8h-0.8zM180.3 658.7h0.8v0.8h-0.8zM169.2 670.7h0.8v0.8h-0.8zM181.5 683.3h0.8v0.8h-0.8zM187.5 660.4h0.8v0.8h-0.8zM177.9 662.5h0.8v0.8h-0.8zM169.5 674.8h0.8v0.8h-0.8zM179.9 664.0h0.8v0.8h-0.8zM180.6 659.0h0.8v0.8h-0.8zM182.2 663.1h0.8v0.8h-0.8zM178.3 669.1h0.8v0.8h-0.8zM172.8 673.7h0.8v0.8h-0.8zM182.7 669.1h0.8v0.8h-0.8zM186.5 650.6h0.8v0.8h-0.8zM173.7 663.0h0.8v0.8h-0.8zM174.1 678.0h0.8v0.8h-0.8zM178.9 665.7h0.8v0.8h-0.8zM170.5 683.9h0.8v0.8h-0.8zM180.4 669.5h0.8v0.8h-0.8zM170.1 666.6h0.8v0.8h-0.8zM187.6 665.0h0.8v0.8h-0.8zM174.9 665.2h0.8v0.8h-0.8zM187.4 663.3h0.8v0.8h-0.8zM201.6 657.9h0.8v0.8h-0.8zM182.4 679.9h0.8v0.8h-0.8zM169.8 675.9h0.8v0.8h-0.8zM183.7 669.3h0.8v0.8h-0.8zM177.6 671.8h0.8v0.8h-0.8zM181.2 672.1h0.8v0.8h-0.8zM163.6 664.4h0.8v0.8h-0.8zM180.9 664.4h0.8v0.8h-0.8zM178.9 670.6h0.8v0.8h-0.8zM159.9 687.7h0.8v0.8h-0.8zM172.8 668.8h0.8v0.8h-0.8zM183.0 670.8h0.8v0.8h-0.8zM191.3 665.7h0.8v0.8h-0.8zM172.5 674.5h0.8v0.8h-0.8zM169.5 675.0h0.8v0.8h-0.8zM186.2 660.1h0.8v0.8h-0.8zM172.4 675.0h0.8v0.8h-0.8zM182.1 673.9h0.8v0.8h-0.8zM186.4 672.4h0.8v0.8h-0.8zM182.2 662.7h0.8v0.8h-0.8zM174.3 666.3h0.8v0.8h-0.8zM165.0 675.1h0.8v0.8h-0.8zM189.4 666.4h0.8v0.8h-0.8zM174.2 674.1h0.8v0.8h-0.8zM173.7 675.0h0.8v0.8h-0.8zM196.5 657.1h0.8v0.8h-0.8zM186.3 665.0h0.8v0.8h-0.8zM167.6 677.3h0.8v0.8h-0.8zM169.7 669.5h0.8v0.8h-0.8zM173.1 669.4h0.8v0.8h-0.8zM171.2 676.0h0.8v0.8h-0.8zM161.8 685.6h0.8v0.8h-0.8zM183.1 662.7h0.8v0.8h-0.8zM182.7 662.7h0.8v0.8h-0.8zM184.0 673.6h0.8v0.8h-0.8zM172.3 671.1h0.8v0.8h-0.8zM179.9 669.3h0.8v0.8h-0.8zM181.8 664.1h0.8v0.8h-0.8zM165.4 674.3h0.8v0.8h-0.8zM169.4 666.5h0.8v0.8h-0.8zM170.6 672.0h0.8v0.8h-0.8zM180.7 661.7h0.8v0.8h-0.8zM182.4 671.4h0.8v0.8h-0.8zM162.2 675.0h0.8v0.8h-0.8zM170.5 672.9h0.8v0.8h-0.8zM194.9 659.6h0.8v0.8h-0.8zM168.4 676.7h0.8v0.8h-0.8zM180.2 670.9h0.8v0.8h-0.8zM174.5 677.9h0.8v0.8h-0.8zM182.7 654.4h0.8v0.8h-0.8zM175.4 668.9h0.8v0.8h-0.8zM170.3 669.5h0.8v0.8h-0.8zM171.5 683.9h0.8v0.8h-0.8zM174.8 671.4h0.8v0.8h-0.8zM186.2 665.9h0.8v0.8h-0.8zM188.7 671.8h0.8v0.8h-0.8zM164.5 678.3h0.8v0.8h-0.8zM191.1 658.9h0.8v0.8h-0.8zM176.5 673.4h0.8v0.8h-0.8zM167.2 676.7h0.8v0.8h-0.8zM182.5 674.0h0.8v0.8h-0.8zM174.5 677.8h0.8v0.8h-0.8zM175.5 678.2h0.8v0.8h-0.8zM171.9 674.9h0.8v0.8h-0.8zM175.3 669.4h0.8v0.8h-0.8zM171.7 672.3h0.8v0.8h-0.8zM161.1 681.2h0.8v0.8h-0.8zM176.4 659.8h0.8v0.8h-0.8zM173.9 675.3h0.8v0.8h-0.8zM190.3 664.5h0.8v0.8h-0.8zM181.9 666.1h0.8v0.8h-0.8zM181.0 663.6h0.8v0.8h-0.8zM178.9 668.9h0.8v0.8h-0.8zM189.3 661.5h0.8v0.8h-0.8zM175.4 673.7h0.8v0.8h-0.8zM174.5 684.3h0.8v0.8h-0.8zM177.4 664.2h0.8v0.8h-0.8zM154.7 691.4h0.8v0.8h-0.8zM176.3 675.5h0.8v0.8h-0.8zM179.4 668.8h0.8v0.8h-0.8zM172.8 672.2h0.8v0.8h-0.8zM184.8 656.9h0.8v0.8h-0.8zM181.4 662.6h0.8v0.8h-0.8zM180.5 672.0h0.8v0.8h-0.8zM178.5 678.7h0.8v0.8h-0.8zM184.6 659.5h0.8v0.8h-0.8zM172.8 676.9h0.8v0.8h-0.8zM175.3 675.1h0.8v0.8h-0.8zM187.0 668.5h0.8v0.8h-0.8zM183.2 666.7h0.8v0.8h-0.8zM196.4 656.9h0.8v0.8h-0.8zM178.2 675.1h0.8v0.8h-0.8zM157.0 679.3h0.8v0.8h-0.8zM183.1 665.4h0.8v0.8h-0.8zM182.4 654.0h0.8v0.8h-0.8zM169.3 663.6h0.8v0.8h-0.8zM188.1 655.5h0.8v0.8h-0.8zM187.7 651.1h0.8v0.8h-0.8zM173.0 676.9h0.8v0.8h-0.8zM176.2 677.5h0.8v0.8h-0.8zM165.3 678.1h0.8v0.8h-0.8zM181.5 665.6h0.8v0.8h-0.8zM182.7 663.9h0.8v0.8h-0.8zM181.6 664.7h0.8v0.8h-0.8zM166.9 679.6h0.8v0.8h-0.8zM171.7 677.0h0.8v0.8h-0.8zM163.2 678.8h0.8v0.8h-0.8zM160.6 678.8h0.8v0.8h-0.8zM163.8 677.9h0.8v0.8h-0.8zM166.0 684.7h0.8v0.8h-0.8zM174.2 669.8h0.8v0.8h-0.8zM185.6 672.6h0.8v0.8h-0.8zM181.8 664.6h0.8v0.8h-0.8zM181.4 675.5h0.8v0.8h-0.8zM167.4 670.4h0.8v0.8h-0.8zM174.8 667.5h0.8v0.8h-0.8zM183.6 667.8h0.8v0.8h-0.8zM176.2 674.2h0.8v0.8h-0.8zM177.1 669.1h0.8v0.8h-0.8zM181.1 680.2h0.8v0.8h-0.8zM172.8 674.2h0.8v0.8h-0.8zM178.4 671.0h0.8v0.8h-0.8zM165.6 676.1h0.8v0.8h-0.8zM191.6 668.8h0.8v0.8h-0.8zM166.3 684.8h0.8v0.8h-0.8zM182.5 668.4h0.8v0.8h-0.8zM160.0 673.7h0.8v0.8h-0.8zM191.4 660.5h0.8v0.8h-0.8zM183.2 662.0h0.8v0.8h-0.8zM171.3 677.6h0.8v0.8h-0.8zM176.2 676.9h0.8v0.8h-0.8zM164.9 675.5h0.8v0.8h-0.8zM177.3 671.4h0.8v0.8h-0.8zM183.5 670.5h0.8v0.8h-0.8zM199.8 652.1h0.8v0.8h-0.8zM164.2 678.8h0.8v0.8h-0.8zM184.5 657.0h0.8v0.8h-0.8zM169.9 671.8h0.8v0.8h-0.8zM175.4 663.2h0.8v0.8h-0.8zM187.9 667.5h0.8v0.8h-0.8zM182.2 666.6h0.8v0.8h-0.8zM176.8 662.4h0.8v0.8h-0.8zM175.4 671.5h0.8v0.8h-0.8zM172.9 665.2h0.8v0.8h-0.8zM167.8 656.4h0.8v0.8h-0.8zM191.4 666.1h0.8v0.8h-0.8zM168.2 685.3h0.8v0.8h-0.8zM168.1 668.0h0.8v0.8h-0.8zM164.0 676.4h0.8v0.8h-0.8zM169.4 677.9h0.8v0.8h-0.8zM168.9 674.5h0.8v0.8h-0.8zM183.9 658.8h0.8v0.8h-0.8zM194.0 652.5h0.8v0.8h-0.8zM188.1 659.3h0.8v0.8h-0.8zM165.0 676.6h0.8v0.8h-0.8zM178.4 670.4h0.8v0.8h-0.8zM166.5 677.5h0.8v0.8h-0.8zM178.5 664.0h0.8v0.8h-0.8zM188.2 661.0h0.8v0.8h-0.8zM176.8 659.5h0.8v0.8h-0.8zM189.3 669.3h0.8v0.8h-0.8zM170.2 664.5h0.8v0.8h-0.8zM159.8 684.1h0.8v0.8h-0.8zM161.0 685.8h0.8v0.8h-0.8zM177.6 672.4h0.8v0.8h-0.8zM182.9 666.9h0.8v0.8h-0.8zM192.2 665.7h0.8v0.8h-0.8zM170.5 668.3h0.8v0.8h-0.8zM177.5 669.3h0.8v0.8h-0.8zM179.8 668.8h0.8v0.8h-0.8zM184.7 660.5h0.8v0.8h-0.8zM174.6 668.3h0.8v0.8h-0.8zM171.8 683.0h0.8v0.8h-0.8zM184.2 659.5h0.8v0.8h-0.8zM179.1 665.3h0.8v0.8h-0.8zM179.5 666.3h0.8v0.8h-0.8zM165.4 678.5h0.8v0.8h-0.8zM177.5 670.8h0.8v0.8h-0.8zM161.5 681.8h0.8v0.8h-0.8zM160.9 686.1h0.8v0.8h-0.8zM175.5 672.3h0.8v0.8h-0.8zM174.9 675.1h0.8v0.8h-0.8zM186.4 671.2h0.8v0.8h-0.8zM186.8 656.4h0.8v0.8h-0.8zM182.1 676.7h0.8v0.8h-0.8zM191.1 655.4h0.8v0.8h-0.8zM174.1 676.9h0.8v0.8h-0.8zM184.2 665.2h0.8v0.8h-0.8zM165.2 678.2h0.8v0.8h-0.8zM171.9 661.7h0.8v0.8h-0.8zM179.5 678.6h0.8v0.8h-0.8zM172.8 668.7h0.8v0.8h-0.8zM179.6 662.8h0.8v0.8h-0.8zM164.2 687.9h0.8v0.8h-0.8zM178.3 669.5h0.8v0.8h-0.8zM176.1 683.3h0.8v0.8h-0.8zM183.5 675.7h0.8v0.8h-0.8zM182.7 670.0h0.8v0.8h-0.8zM174.7 673.8h0.8v0.8h-0.8zM176.3 675.7h0.8v0.8h-0.8zM162.9 673.4h0.8v0.8h-0.8zM182.4 666.8h0.8v0.8h-0.8zM171.7 675.5h0.8v0.8h-0.8zM179.4 665.1h0.8v0.8h-0.8zM165.6 681.4h0.8v0.8h-0.8zM184.2 654.6h0.8v0.8h-0.8zM171.1 680.9h0.8v0.8h-0.8zM191.2 666.6h0.8v0.8h-0.8zM169.0 668.4h0.8v0.8h-0.8zM182.3 666.7h0.8v0.8h-0.8zM180.8 677.0h0.8v0.8h-0.8zM184.3 666.8h0.8v0.8h-0.8zM173.8 666.1h0.8v0.8h-0.8zM184.9 657.1h0.8v0.8h-0.8zM185.6 668.5h0.8v0.8h-0.8zM188.8 672.1h0.8v0.8h-0.8zM188.0 653.8h0.8v0.8h-0.8zM171.2 675.3h0.8v0.8h-0.8zM185.8 657.7h0.8v0.8h-0.8zM176.8 668.5h0.8v0.8h-0.8zM165.3 682.0h0.8v0.8h-0.8zM181.1 666.5h0.8v0.8h-0.8zM173.1 669.0h0.8v0.8h-0.8zM198.4 665.9h0.8v0.8h-0.8zM172.3 673.0h0.8v0.8h-0.8zM176.9 669.0h0.8v0.8h-0.8zM182.6 672.6h0.8v0.8h-0.8zM160.6 683.9h0.8v0.8h-0.8zM180.8 665.6h0.8v0.8h-0.8zM171.5 680.9h0.8v0.8h-0.8zM185.9 655.9h0.8v0.8h-0.8zM193.8 660.8h0.8v0.8h-0.8zM180.3 674.1h0.8v0.8h-0.8zM165.5 684.1h0.8v0.8h-0.8zM178.1 668.1h0.8v0.8h-0.8zM178.6 668.8h0.8v0.8h-0.8zM177.8 658.3h0.8v0.8h-0.8zM174.1 671.7h0.8v0.8h-0.8zM167.7 679.8h0.8v0.8h-0.8zM178.6 674.4h0.8v0.8h-0.8zM169.5 677.3h0.8v0.8h-0.8zM191.1 655.7h0.8v0.8h-0.8zM168.3 672.0h0.8v0.8h-0.8zM171.3 674.6h0.8v0.8h-0.8zM177.1 670.9h0.8v0.8h-0.8zM170.2 683.7h0.8v0.8h-0.8zM173.2 673.3h0.8v0.8h-0.8zM174.3 669.2h0.8v0.8h-0.8zM172.5 673.2h0.8v0.8h-0.8zM173.4 670.1h0.8v0.8h-0.8zM187.0 660.2h0.8v0.8h-0.8zM173.8 658.6h0.8v0.8h-0.8zM160.4 673.7h0.8v0.8h-0.8zM169.5 668.7h0.8v0.8h-0.8zM185.0 666.4h0.8v0.8h-0.8zM171.2 674.5h0.8v0.8h-0.8zM178.2 670.0h0.8v0.8h-0.8zM180.5 674.7h0.8v0.8h-0.8zM178.3 662.3h0.8v0.8h-0.8zM179.1 675.7h0.8v0.8h-0.8zM177.1 672.6h0.8v0.8h-0.8zM167.4 673.6h0.8v0.8h-0.8zM184.9 673.1h0.8v0.8h-0.8zM164.5 671.4h0.8v0.8h-0.8zM188.4 653.2h0.8v0.8h-0.8zM176.2 669.4h0.8v0.8h-0.8zM176.4 673.2h0.8v0.8h-0.8zM183.3 663.6h0.8v0.8h-0.8zM169.5 662.6h0.8v0.8h-0.8zM176.9 668.3h0.8v0.8h-0.8zM176.3 670.1h0.8v0.8h-0.8zM178.9 685.0h0.8v0.8h-0.8z" fill="#444" fill-opacity="0.4"/>
<ellipse cx="177" cy="670" rx="12" ry="4.5" fill="#000" fill-opacity="0.25" transform="rotate(-40 177 670)" filter="url(#b15)"/>
<ellipse cx="186" cy="662" rx="10" ry="7" fill="#000" fill-opacity="0.55" transform="rotate(0 186 662)" filter="url(#b15)"/>
<ellipse cx="188.5" cy="661.5" rx="8" ry="6" fill="#000" fill-opacity="0.98" transform="rotate(0 188.5 661.5)" filter="url(#b9)"/>
<ellipse cx="166.5" cy="679.8" rx="8.8" ry="4" fill="#000" fill-opacity="0.98" transform="rotate(-8 166.5 679.8)" filter="url(#b7)"/>
<path d="M249.8 656.6h0.8v0.8h-0.8zM245.5 663.1h0.8v0.8h-0.8zM241.3 682.4h0.8v0.8h-0.8zM246.2 661.5h0.8v0.8h-0.8zM241.0 677.5h0.8v0.8h-0.8zM245.8 666.1h0.8v0.8h-0.8zM246.3 673.9h0.8v0.8h-0.8zM243.7 667.2h0.8v0.8h-0.8zM245.9 655.4h0.8v0.8h-0.8zM243.9 664.7h0.8v0.8h-0.8zM243.1 684.9h0.8v0.8h-0.8zM250.4 666.9h0.8v0.8h-0.8zM247.1 672.5h0.8v0.8h-0.8zM244.0 665.3h0.8v0.8h-0.8zM242.4 666.9h0.8v0.8h-0.8zM245.7 670.6h0.8v0.8h-0.8zM247.0 671.8h0.8v0.8h-0.8zM248.0 685.8h0.8v0.8h-0.8zM250.1 667.9h0.8v0.8h-0.8zM246.7 666.6h0.8v0.8h-0.8zM241.2 662.7h0.8v0.8h-0.8zM252.1 657.5h0.8v0.8h-0.8zM249.1 655.1h0.8v0.8h-0.8zM247.9 673.3h0.8v0.8h-0.8zM249.7 653.1h0.8v0.8h-0.8zM239.9 679.3h0.8v0.8h-0.8zM243.8 674.9h0.8v0.8h-0.8zM243.3 665.7h0.8v0.8h-0.8zM249.2 658.8h0.8v0.8h-0.8zM241.0 668.2h0.8v0.8h-0.8zM243.9 668.2h0.8v0.8h-0.8zM250.3 677.0h0.8v0.8h-0.8zM247.3 662.1h0.8v0.8h-0.8zM243.7 665.0h0.8v0.8h-0.8zM251.5 667.6h0.8v0.8h-0.8zM240.5 665.8h0.8v0.8h-0.8zM246.6 663.0h0.8v0.8h-0.8zM244.3 654.3h0.8v0.8h-0.8zM246.8 654.9h0.8v0.8h-0.8zM244.1 662.6h0.8v0.8h-0.8zM242.2 666.2h0.8v0.8h-0.8zM245.8 676.0h0.8v0.8h-0.8zM240.5 686.5h0.8v0.8h-0.8zM246.9 681.7h0.8v0.8h-0.8zM243.9 671.2h0.8v0.8h-0.8zM248.2 683.1h0.8v0.8h-0.8zM243.5 667.1h0.8v0.8h-0.8zM242.7 663.8h0.8v0.8h-0.8zM246.4 686.5h0.8v0.8h-0.8zM249.3 659.5h0.8v0.8h-0.8zM237.9 664.7h0.8v0.8h-0.8zM245.5 665.9h0.8v0.8h-0.8zM247.2 679.7h0.8v0.8h-0.8zM240.1 663.3h0.8v0.8h-0.8zM242.0 674.3h0.8v0.8h-0.8zM247.3 664.8h0.8v0.8h-0.8zM242.2 658.2h0.8v0.8h-0.8zM242.8 669.9h0.8v0.8h-0.8zM251.0 669.4h0.8v0.8h-0.8zM241.8 658.8h0.8v0.8h-0.8zM242.1 661.1h0.8v0.8h-0.8zM237.1 661.7h0.8v0.8h-0.8zM241.3 675.7h0.8v0.8h-0.8zM240.8 671.7h0.8v0.8h-0.8zM251.0 669.9h0.8v0.8h-0.8zM249.2 672.0h0.8v0.8h-0.8zM240.7 664.2h0.8v0.8h-0.8zM251.8 671.9h0.8v0.8h-0.8zM247.7 663.2h0.8v0.8h-0.8zM244.4 657.4h0.8v0.8h-0.8zM247.8 662.4h0.8v0.8h-0.8zM246.3 669.7h0.8v0.8h-0.8zM242.4 668.8h0.8v0.8h-0.8zM239.0 676.5h0.8v0.8h-0.8zM241.9 654.5h0.8v0.8h-0.8zM245.0 666.3h0.8v0.8h-0.8zM243.8 671.2h0.8v0.8h-0.8zM242.5 660.3h0.8v0.8h-0.8zM248.4 670.0h0.8v0.8h-0.8zM241.4 664.8h0.8v0.8h-0.8zM248.1 659.0h0.8v0.8h-0.8zM243.4 677.0h0.8v0.8h-0.8zM245.4 656.9h0.8v0.8h-0.8zM241.2 676.1h0.8v0.8h-0.8zM245.0 664.7h0.8v0.8h-0.8zM242.3 660.5h0.8v0.8h-0.8zM239.0 661.0h0.8v0.8h-0.8zM245.0 662.2h0.8v0.8h-0.8zM244.9 661.3h0.8v0.8h-0.8zM247.9 670.2h0.8v0.8h-0.8zM246.0 653.1h0.8v0.8h-0.8zM241.5 678.0h0.8v0.8h-0.8zM242.9 674.7h0.8v0.8h-0.8zM236.5 679.2h0.8v0.8h-0.8zM241.2 660.2h0.8v0.8h-0.8zM249.5 649.5h0.8v0.8h-0.8zM250.3 663.1h0.8v0.8h-0.8zM247.7 666.7h0.8v0.8h-0.8zM246.1 670.5h0.8v0.8h-0.8zM247.1 663.9h0.8v0.8h-0.8zM246.7 667.4h0.8v0.8h-0.8zM239.0 669.3h0.8v0.8h-0.8zM242.0 655.7h0.8v0.8h-0.8zM249.1 682.5h0.8v0.8h-0.8zM249.1 659.1h0.8v0.8h-0.8zM245.9 670.2h0.8v0.8h-0.8zM244.0 676.7h0.8v0.8h-0.8zM243.7 661.8h0.8v0.8h-0.8zM243.1 668.1h0.8v0.8h-0.8zM241.8 681.1h0.8v0.8h-0.8zM238.4 665.8h0.8v0.8h-0.8zM245.5 676.4h0.8v0.8h-0.8zM243.5 670.4h0.8v0.8h-0.8zM244.3 669.9h0.8v0.8h-0.8zM250.9 673.8h0.8v0.8h-0.8zM247.1 666.2h0.8v0.8h-0.8zM242.6 666.4h0.8v0.8h-0.8zM247.0 675.8h0.8v0.8h-0.8zM239.8 670.2h0.8v0.8h-0.8zM248.7 672.1h0.8v0.8h-0.8zM245.9 658.5h0.8v0.8h-0.8zM244.3 668.2h0.8v0.8h-0.8zM247.0 677.8h0.8v0.8h-0.8zM250.1 675.3h0.8v0.8h-0.8zM243.4 670.9h0.8v0.8h-0.8zM241.6 664.0h0.8v0.8h-0.8zM252.3 663.2h0.8v0.8h-0.8zM245.1 671.6h0.8v0.8h-0.8zM250.2 679.5h0.8v0.8h-0.8zM242.7 668.5h0.8v0.8h-0.8zM246.3 678.5h0.8v0.8h-0.8zM242.8 665.7h0.8v0.8h-0.8zM247.2 677.7h0.8v0.8h-0.8zM244.1 660.1h0.8v0.8h-0.8zM242.7 669.6h0.8v0.8h-0.8zM250.4 659.6h0.8v0.8h-0.8zM246.2 673.4h0.8v0.8h-0.8zM238.0 672.7h0.8v0.8h-0.8zM244.2 660.5h0.8v0.8h-0.8zM241.8 662.2h0.8v0.8h-0.8zM240.8 664.6h0.8v0.8h-0.8zM243.0 656.2h0.8v0.8h-0.8zM243.4 660.7h0.8v0.8h-0.8zM245.1 661.2h0.8v0.8h-0.8zM242.3 674.4h0.8v0.8h-0.8zM238.6 679.2h0.8v0.8h-0.8zM243.2 664.6h0.8v0.8h-0.8zM248.1 665.8h0.8v0.8h-0.8zM240.3 669.8h0.8v0.8h-0.8zM247.2 664.0h0.8v0.8h-0.8zM246.6 665.9h0.8v0.8h-0.8zM243.5 674.8h0.8v0.8h-0.8zM246.1 670.0h0.8v0.8h-0.8zM242.4 667.4h0.8v0.8h-0.8zM243.6 663.5h0.8v0.8h-0.8zM241.5 679.9h0.8v0.8h-0.8zM246.6 663.2h0.8v0.8h-0.8zM249.8 669.1h0.8v0.8h-0.8zM242.7 659.9h0.8v0.8h-0.8zM249.2 663.4h0.8v0.8h-0.8zM237.6 668.9h0.8v0.8h-0.8zM241.9 665.0h0.8v0.8h-0.8zM241.5 672.4h0.8v0.8h-0.8zM251.0 668.7h0.8v0.8h-0.8zM243.0 657.1h0.8v0.8h-0.8zM247.7 649.7h0.8v0.8h-0.8zM237.9 676.1h0.8v0.8h-0.8zM245.4 663.5h0.8v0.8h-0.8zM247.0 679.9h0.8v0.8h-0.8zM244.9 668.2h0.8v0.8h-0.8zM235.5 662.0h0.8v0.8h-0.8zM245.6 672.6h0.8v0.8h-0.8zM247.8 665.9h0.8v0.8h-0.8zM249.6 668.2h0.8v0.8h-0.8zM246.4 660.7h0.8v0.8h-0.8zM239.1 673.2h0.8v0.8h-0.8zM244.3 676.9h0.8v0.8h-0.8zM248.2 663.9h0.8v0.8h-0.8zM242.2 682.4h0.8v0.8h-0.8zM247.0 663.6h0.8v0.8h-0.8zM243.3 670.1h0.8v0.8h-0.8zM245.3 655.0h0.8v0.8h-0.8zM247.6 652.7h0.8v0.8h-0.8zM242.5 684.9h0.8v0.8h-0.8zM255.0 679.5h0.8v0.8h-0.8zM245.5 677.3h0.8v0.8h-0.8zM246.2 654.5h0.8v0.8h-0.8zM242.4 669.9h0.8v0.8h-0.8zM245.2 671.5h0.8v0.8h-0.8zM244.1 668.7h0.8v0.8h-0.8zM239.9 670.5h0.8v0.8h-0.8zM239.7 660.8h0.8v0.8h-0.8zM246.0 666.8h0.8v0.8h-0.8zM244.7 659.0h0.8v0.8h-0.8zM235.8 665.3h0.8v0.8h-0.8zM237.5 671.1h0.8v0.8h-0.8zM243.9 661.9h0.8v0.8h-0.8zM244.8 665.9h0.8v0.8h-0.8zM247.1 664.7h0.8v0.8h-0.8zM240.7 668.2h0.8v0.8h-0.8zM247.1 675.5h0.8v0.8h-0.8zM243.9 670.0h0.8v0.8h-0.8zM243.2 671.3h0.8v0.8h-0.8zM244.5 656.6h0.8v0.8h-0.8zM248.4 665.2h0.8v0.8h-0.8zM247.0 674.6h0.8v0.8h-0.8zM248.1 661.2h0.8v0.8h-0.8zM242.6 664.6h0.8v0.8h-0.8zM244.0 660.3h0.8v0.8h-0.8zM240.9 678.7h0.8v0.8h-0.8zM243.1 664.5h0.8v0.8h-0.8zM243.6 662.3h0.8v0.8h-0.8zM243.4 673.0h0.8v0.8h-0.8zM247.5 676.9h0.8v0.8h-0.8zM246.5 672.0h0.8v0.8h-0.8zM247.7 675.9h0.8v0.8h-0.8zM245.4 669.8h0.8v0.8h-0.8zM248.8 667.0h0.8v0.8h-0.8zM245.4 664.6h0.8v0.8h-0.8zM248.4 664.0h0.8v0.8h-0.8zM246.8 663.3h0.8v0.8h-0.8zM247.6 671.0h0.8v0.8h-0.8zM244.8 667.2h0.8v0.8h-0.8zM240.7 668.8h0.8v0.8h-0.8zM239.9 672.9h0.8v0.8h-0.8zM251.9 667.6h0.8v0.8h-0.8zM246.4 657.1h0.8v0.8h-0.8zM246.6 661.7h0.8v0.8h-0.8zM244.4 659.1h0.8v0.8h-0.8zM243.4 652.8h0.8v0.8h-0.8zM255.1 668.9h0.8v0.8h-0.8zM241.1 658.5h0.8v0.8h-0.8zM244.8 657.8h0.8v0.8h-0.8zM244.8 659.5h0.8v0.8h-0.8zM241.0 675.0h0.8v0.8h-0.8zM240.5 665.6h0.8v0.8h-0.8zM242.5 676.0h0.8v0.8h-0.8zM243.8 667.3h0.8v0.8h-0.8zM243.3 664.6h0.8v0.8h-0.8zM247.8 672.6h0.8v0.8h-0.8zM240.9 672.8h0.8v0.8h-0.8zM246.4 669.0h0.8v0.8h-0.8zM250.1 659.8h0.8v0.8h-0.8zM248.1 664.4h0.8v0.8h-0.8zM241.0 658.6h0.8v0.8h-0.8zM234.7 666.0h0.8v0.8h-0.8zM248.0 668.8h0.8v0.8h-0.8zM246.7 679.9h0.8v0.8h-0.8zM243.0 679.3h0.8v0.8h-0.8zM249.5 673.5h0.8v0.8h-0.8zM243.6 675.7h0.8v0.8h-0.8zM245.4 669.9h0.8v0.8h-0.8zM241.4 690.2h0.8v0.8h-0.8zM246.1 680.2h0.8v0.8h-0.8zM243.5 689.2h0.8v0.8h-0.8zM243.2 671.1h0.8v0.8h-0.8zM248.8 671.3h0.8v0.8h-0.8zM245.8 676.4h0.8v0.8h-0.8zM239.8 669.5h0.8v0.8h-0.8zM247.4 670.5h0.8v0.8h-0.8zM247.9 660.1h0.8v0.8h-0.8zM242.1 675.5h0.8v0.8h-0.8zM243.6 669.1h0.8v0.8h-0.8zM245.2 674.5h0.8v0.8h-0.8zM244.1 666.3h0.8v0.8h-0.8zM245.4 653.8h0.8v0.8h-0.8zM247.3 672.0h0.8v0.8h-0.8zM243.3 677.3h0.8v0.8h-0.8zM252.3 657.8h0.8v0.8h-0.8zM242.5 660.3h0.8v0.8h-0.8zM243.1 665.6h0.8v0.8h-0.8zM251.9 666.0h0.8v0.8h-0.8zM253.3 654.4h0.8v0.8h-0.8zM245.1 682.1h0.8v0.8h-0.8zM244.3 676.1h0.8v0.8h-0.8zM241.2 663.1h0.8v0.8h-0.8zM249.0 653.5h0.8v0.8h-0.8zM245.6 670.9h0.8v0.8h-0.8zM242.0 683.9h0.8v0.8h-0.8zM246.4 674.6h0.8v0.8h-0.8zM249.8 677.2h0.8v0.8h-0.8zM247.4 660.5h0.8v0.8h-0.8zM252.7 669.9h0.8v0.8h-0.8zM249.1 656.0h0.8v0.8h-0.8zM246.5 683.8h0.8v0.8h-0.8zM244.9 672.6h0.8v0.8h-0.8zM246.9 651.2h0.8v0.8h-0.8zM249.3 653.2h0.8v0.8h-0.8zM248.0 671.8h0.8v0.8h-0.8zM248.7 669.1h0.8v0.8h-0.8zM245.8 665.5h0.8v0.8h-0.8zM247.7 672.9h0.8v0.8h-0.8zM249.3 684.1h0.8v0.8h-0.8zM244.4 670.9h0.8v0.8h-0.8zM240.5 653.6h0.8v0.8h-0.8zM251.0 666.7h0.8v0.8h-0.8zM247.0 657.5h0.8v0.8h-0.8zM243.5 661.6h0.8v0.8h-0.8zM245.8 670.6h0.8v0.8h-0.8zM244.1 666.6h0.8v0.8h-0.8zM239.0 659.5h0.8v0.8h-0.8zM244.4 667.8h0.8v0.8h-0.8zM240.0 661.4h0.8v0.8h-0.8zM245.7 672.2h0.8v0.8h-0.8zM244.6 666.0h0.8v0.8h-0.8zM249.0 671.1h0.8v0.8h-0.8zM244.6 665.8h0.8v0.8h-0.8zM246.3 673.9h0.8v0.8h-0.8zM244.0 666.9h0.8v0.8h-0.8zM243.7 667.8h0.8v0.8h-0.8zM240.1 663.4h0.8v0.8h-0.8zM248.5 669.1h0.8v0.8h-0.8zM245.6 653.7h0.8v0.8h-0.8zM243.0 689.3h0.8v0.8h-0.8zM245.7 662.5h0.8v0.8h-0.8zM243.5 668.7h0.8v0.8h-0.8zM242.5 664.1h0.8v0.8h-0.8zM245.9 664.0h0.8v0.8h-0.8zM249.3 671.1h0.8v0.8h-0.8zM244.1 663.8h0.8v0.8h-0.8z" fill="#555" fill-opacity="0.42"/>
<ellipse cx="245" cy="668" rx="4" ry="9" fill="#000" fill-opacity="0.18" transform="rotate(0 245 668)" filter="url(#b15)"/>
<ellipse cx="244.6" cy="656" rx="4" ry="2.5" fill="#000" fill-opacity="0.5" transform="rotate(0 244.6 656)" filter="url(#b10)"/>
<path d="M250.5 683.0h0.8v0.8h-0.8zM242.9 682.2h0.8v0.8h-0.8zM246.5 678.3h0.8v0.8h-0.8zM244.6 685.9h0.8v0.8h-0.8zM268.3 682.5h0.8v0.8h-0.8zM243.2 684.2h0.8v0.8h-0.8zM245.3 681.2h0.8v0.8h-0.8zM255.4 681.6h0.8v0.8h-0.8zM265.3 685.7h0.8v0.8h-0.8zM240.3 682.6h0.8v0.8h-0.8zM241.5 682.6h0.8v0.8h-0.8zM254.9 680.9h0.8v0.8h-0.8zM256.6 683.8h0.8v0.8h-0.8zM242.6 685.0h0.8v0.8h-0.8zM239.5 682.5h0.8v0.8h-0.8zM246.2 683.0h0.8v0.8h-0.8zM259.9 681.0h0.8v0.8h-0.8zM253.5 686.2h0.8v0.8h-0.8zM259.8 682.2h0.8v0.8h-0.8zM253.0 683.1h0.8v0.8h-0.8zM253.6 686.8h0.8v0.8h-0.8zM258.8 683.0h0.8v0.8h-0.8zM252.9 680.3h0.8v0.8h-0.8zM255.7 681.6h0.8v0.8h-0.8zM246.6 682.7h0.8v0.8h-0.8zM249.1 687.0h0.8v0.8h-0.8zM257.6 683.9h0.8v0.8h-0.8zM251.9 683.0h0.8v0.8h-0.8zM247.9 685.1h0.8v0.8h-0.8zM259.1 686.0h0.8v0.8h-0.8zM258.2 681.9h0.8v0.8h-0.8zM253.8 686.3h0.8v0.8h-0.8zM247.8 685.2h0.8v0.8h-0.8zM261.0 684.3h0.8v0.8h-0.8zM273.8 678.7h0.8v0.8h-0.8zM247.3 683.8h0.8v0.8h-0.8zM241.5 686.2h0.8v0.8h-0.8zM247.6 682.9h0.8v0.8h-0.8zM246.4 688.1h0.8v0.8h-0.8zM243.7 683.6h0.8v0.8h-0.8zM244.4 681.4h0.8v0.8h-0.8zM260.6 684.6h0.8v0.8h-0.8zM260.7 684.0h0.8v0.8h-0.8zM265.7 685.1h0.8v0.8h-0.8zM259.8 683.0h0.8v0.8h-0.8zM250.0 686.1h0.8v0.8h-0.8zM262.5 682.3h0.8v0.8h-0.8zM248.9 683.7h0.8v0.8h-0.8zM251.0 680.9h0.8v0.8h-0.8zM244.4 681.8h0.8v0.8h-0.8zM263.6 683.9h0.8v0.8h-0.8zM261.9 682.1h0.8v0.8h-0.8zM250.1 682.5h0.8v0.8h-0.8zM251.3 683.0h0.8v0.8h-0.8zM254.1 684.0h0.8v0.8h-0.8zM255.4 685.0h0.8v0.8h-0.8zM260.6 685.0h0.8v0.8h-0.8zM254.3 685.5h0.8v0.8h-0.8zM257.0 683.9h0.8v0.8h-0.8zM241.8 682.4h0.8v0.8h-0.8zM251.4 680.3h0.8v0.8h-0.8zM239.4 682.8h0.8v0.8h-0.8zM268.0 681.8h0.8v0.8h-0.8zM264.9 679.8h0.8v0.8h-0.8zM259.5 686.8h0.8v0.8h-0.8zM262.7 679.7h0.8v0.8h-0.8zM269.8 684.2h0.8v0.8h-0.8zM261.3 684.6h0.8v0.8h-0.8zM241.0 683.0h0.8v0.8h-0.8zM252.1 688.7h0.8v0.8h-0.8zM234.9 683.5h0.8v0.8h-0.8zM247.3 681.9h0.8v0.8h-0.8zM243.8 687.0h0.8v0.8h-0.8zM253.7 681.8h0.8v0.8h-0.8zM256.9 680.6h0.8v0.8h-0.8zM246.3 681.4h0.8v0.8h-0.8zM251.5 682.2h0.8v0.8h-0.8zM256.0 683.5h0.8v0.8h-0.8zM252.5 684.1h0.8v0.8h-0.8zM252.3 680.4h0.8v0.8h-0.8zM234.5 684.2h0.8v0.8h-0.8zM250.2 688.0h0.8v0.8h-0.8zM260.1 682.0h0.8v0.8h-0.8zM255.8 683.2h0.8v0.8h-0.8zM241.9 684.9h0.8v0.8h-0.8zM251.5 685.9h0.8v0.8h-0.8zM255.9 682.1h0.8v0.8h-0.8zM245.9 681.5h0.8v0.8h-0.8zM259.1 681.4h0.8v0.8h-0.8zM247.3 685.7h0.8v0.8h-0.8zM251.1 685.3h0.8v0.8h-0.8zM252.8 679.1h0.8v0.8h-0.8zM271.5 679.1h0.8v0.8h-0.8zM251.1 680.9h0.8v0.8h-0.8zM249.1 680.4h0.8v0.8h-0.8zM259.4 684.3h0.8v0.8h-0.8zM249.9 683.9h0.8v0.8h-0.8zM255.3 687.4h0.8v0.8h-0.8zM235.7 685.1h0.8v0.8h-0.8zM256.1 683.7h0.8v0.8h-0.8zM253.6 685.9h0.8v0.8h-0.8zM243.4 681.6h0.8v0.8h-0.8zM264.6 680.6h0.8v0.8h-0.8zM251.8 683.5h0.8v0.8h-0.8zM252.1 685.4h0.8v0.8h-0.8zM243.2 680.2h0.8v0.8h-0.8zM240.7 685.3h0.8v0.8h-0.8zM249.2 685.2h0.8v0.8h-0.8zM241.5 682.4h0.8v0.8h-0.8zM257.6 683.8h0.8v0.8h-0.8zM260.7 682.9h0.8v0.8h-0.8zM248.6 683.6h0.8v0.8h-0.8zM240.8 685.1h0.8v0.8h-0.8zM250.5 681.8h0.8v0.8h-0.8zM245.2 685.6h0.8v0.8h-0.8zM255.0 685.2h0.8v0.8h-0.8zM255.1 685.3h0.8v0.8h-0.8zM250.3 679.5h0.8v0.8h-0.8zM254.3 679.7h0.8v0.8h-0.8zM262.0 684.9h0.8v0.8h-0.8zM267.3 682.3h0.8v0.8h-0.8zM249.5 682.1h0.8v0.8h-0.8zM259.5 681.9h0.8v0.8h-0.8zM251.8 680.7h0.8v0.8h-0.8zM245.2 682.9h0.8v0.8h-0.8zM263.9 682.0h0.8v0.8h-0.8zM256.8 682.1h0.8v0.8h-0.8zM254.8 684.4h0.8v0.8h-0.8zM256.5 681.1h0.8v0.8h-0.8zM252.4 685.7h0.8v0.8h-0.8zM245.3 678.9h0.8v0.8h-0.8zM267.9 688.6h0.8v0.8h-0.8zM260.9 680.7h0.8v0.8h-0.8zM255.8 684.6h0.8v0.8h-0.8zM261.4 685.3h0.8v0.8h-0.8zM264.0 683.4h0.8v0.8h-0.8zM252.1 685.0h0.8v0.8h-0.8zM258.4 683.2h0.8v0.8h-0.8zM251.1 679.9h0.8v0.8h-0.8zM258.8 684.2h0.8v0.8h-0.8zM251.6 685.8h0.8v0.8h-0.8zM273.1 682.3h0.8v0.8h-0.8zM250.8 680.0h0.8v0.8h-0.8zM257.8 682.2h0.8v0.8h-0.8zM257.4 684.1h0.8v0.8h-0.8zM251.0 684.1h0.8v0.8h-0.8zM261.2 685.7h0.8v0.8h-0.8zM253.0 684.6h0.8v0.8h-0.8zM250.4 684.5h0.8v0.8h-0.8zM253.7 679.4h0.8v0.8h-0.8zM247.7 688.0h0.8v0.8h-0.8zM263.2 683.6h0.8v0.8h-0.8zM258.7 685.2h0.8v0.8h-0.8zM261.5 682.7h0.8v0.8h-0.8zM242.9 683.1h0.8v0.8h-0.8zM255.8 683.6h0.8v0.8h-0.8zM247.5 686.7h0.8v0.8h-0.8zM254.4 686.5h0.8v0.8h-0.8zM263.9 684.7h0.8v0.8h-0.8zM255.7 687.5h0.8v0.8h-0.8zM252.3 682.7h0.8v0.8h-0.8zM262.6 684.5h0.8v0.8h-0.8zM261.8 682.5h0.8v0.8h-0.8zM268.5 686.1h0.8v0.8h-0.8zM238.8 683.5h0.8v0.8h-0.8zM256.3 685.5h0.8v0.8h-0.8zM250.3 687.0h0.8v0.8h-0.8zM246.7 679.2h0.8v0.8h-0.8zM254.6 687.9h0.8v0.8h-0.8zM244.4 684.1h0.8v0.8h-0.8zM235.8 682.8h0.8v0.8h-0.8zM246.4 679.6h0.8v0.8h-0.8zM251.6 682.9h0.8v0.8h-0.8zM268.6 678.8h0.8v0.8h-0.8zM247.9 683.6h0.8v0.8h-0.8zM244.3 683.1h0.8v0.8h-0.8zM237.8 687.2h0.8v0.8h-0.8zM250.9 682.8h0.8v0.8h-0.8zM251.7 685.7h0.8v0.8h-0.8zM254.9 685.9h0.8v0.8h-0.8zM242.1 687.7h0.8v0.8h-0.8zM247.6 683.0h0.8v0.8h-0.8zM235.5 685.0h0.8v0.8h-0.8zM255.0 680.4h0.8v0.8h-0.8zM241.1 681.2h0.8v0.8h-0.8zM231.7 682.9h0.8v0.8h-0.8zM263.0 683.4h0.8v0.8h-0.8zM257.7 681.0h0.8v0.8h-0.8zM256.5 682.6h0.8v0.8h-0.8zM256.5 684.9h0.8v0.8h-0.8zM245.4 682.5h0.8v0.8h-0.8zM262.3 683.2h0.8v0.8h-0.8zM245.3 681.7h0.8v0.8h-0.8zM269.0 686.3h0.8v0.8h-0.8zM255.5 687.1h0.8v0.8h-0.8zM238.9 683.9h0.8v0.8h-0.8zM260.6 683.2h0.8v0.8h-0.8zM269.5 686.9h0.8v0.8h-0.8zM251.6 684.5h0.8v0.8h-0.8zM262.2 682.1h0.8v0.8h-0.8z" fill="#333" fill-opacity="0.45"/>
<ellipse cx="244" cy="683.5" rx="5.5" ry="3.1" fill="#000" fill-opacity="0.98" transform="rotate(0 244 683.5)" filter="url(#b6)"/>
<ellipse cx="253" cy="683.5" rx="8" ry="2.2" fill="#000" fill-opacity="0.75" transform="rotate(0 253 683.5)" filter="url(#b8)"/>
<rect x="96.2" y="523.5" width="24" height="18.0" fill="none" stroke="#666" stroke-width="0.8"/>
<path d="M124.7 538.5H160" stroke="#000" stroke-width="1.4"/><path d="M159 536.2L163.8 538.5L159 540.8Z" fill="#000"/>
<rect x="177.8" y="528.1" width="22.2" height="22.5" fill="none" stroke="#777" stroke-width="0.8"/>
<rect x="253.8" y="535" width="10.7" height="17.299999999999955" fill="none" stroke="#666" stroke-width="0.8"/>
<rect x="253.8" y="556" width="12" height="8.399999999999977" fill="none" stroke="#666" stroke-width="0.8"/>
<rect x="96.2" y="586.1" width="24" height="18.399999999999977" fill="none" stroke="#666" stroke-width="0.8"/>
<path d="M124.7 599.3H160" stroke="#000" stroke-width="1.4"/><path d="M159 597.0L163.8 599.3L159 601.5999999999999Z" fill="#000"/>
<rect x="177.8" y="591.1" width="22.2" height="21.899999999999977" fill="none" stroke="#777" stroke-width="0.8"/>
<rect x="253.8" y="597.4" width="10.7" height="17.100000000000023" fill="none" stroke="#666" stroke-width="0.8"/>
<rect x="253.8" y="619.3" width="12" height="8.100000000000023" fill="none" stroke="#666" stroke-width="0.8"/>
<rect x="96.2" y="647.5" width="24" height="18.100000000000023" fill="none" stroke="#666" stroke-width="0.8"/>
<path d="M124.7 665H160" stroke="#000" stroke-width="1.4"/><path d="M159 662.7L163.8 665L159 667.3Z" fill="#000"/>
<rect x="177.8" y="652.5" width="22.2" height="21.5" fill="none" stroke="#777" stroke-width="0.8"/>
<rect x="253.8" y="658.8" width="10.7" height="15.800000000000068" fill="none" stroke="#666" stroke-width="0.8"/>
<rect x="253.8" y="679.7" width="12" height="8.599999999999909" fill="none" stroke="#666" stroke-width="0.8"/>
<text x="109.5" y="534.5" font-size="4.6" text-anchor="middle" fill="#222">13.2</text>
<text x="189" y="541.5" font-size="4.6" text-anchor="middle" fill="#fff">31.6</text>
<text x="259.1" y="545.5" font-size="4.4" text-anchor="middle" fill="#222">0.39</text>
<text x="259.8" y="561.6" font-size="4.4" text-anchor="middle" fill="#222">4.92</text>
<text x="110" y="597" font-size="4.6" text-anchor="middle" fill="#222">19.6</text>
<text x="189.8" y="600.5" font-size="4.6" text-anchor="middle" fill="#fff">83.8</text>
<text x="259.1" y="607.5" font-size="4.4" text-anchor="middle" fill="#222">5.09</text>
<text x="259.8" y="625" font-size="4.4" text-anchor="middle" fill="#222">4.7</text>
<text x="110" y="658.5" font-size="4.6" text-anchor="middle" fill="#222">13.3</text>
<text x="188.5" y="663.3" font-size="4.6" text-anchor="middle" fill="#fff">38.8</text>
<text x="259.1" y="668" font-size="4.4" text-anchor="middle" fill="#222">3.65</text>
<text x="259.3" y="685.5" font-size="4.4" text-anchor="middle" fill="#222">8.23</text>
<text x="73" y="547" font-size="8.3" text-anchor="end" textLength="45.5" lengthAdjust="spacingAndGlyphs" fill="#000">Empty-NGFR</text>
<text x="73" y="556.3" font-size="8.3" text-anchor="end" textLength="39.3" lengthAdjust="spacingAndGlyphs" fill="#000">Empty-GFP</text>
<text x="73" y="601.3" font-size="8.3" text-anchor="end" textLength="41" lengthAdjust="spacingAndGlyphs" fill="#000">p210-NGFR</text>
<text x="73" y="611.3" font-size="8.3" text-anchor="end" textLength="39.3" lengthAdjust="spacingAndGlyphs" fill="#000">Empty-GFP</text>
<text x="73" y="657" font-size="8.3" text-anchor="end" textLength="41" lengthAdjust="spacingAndGlyphs" fill="#000">p210-NGFR</text>
<text x="73" y="666" font-size="8.3" text-anchor="end" textLength="55.5" lengthAdjust="spacingAndGlyphs" fill="#000">miR139-5p-GFP</text>
<text x="176.3" y="518.3" font-size="8" text-anchor="middle" fill="#000">GFP<tspan font-size="5" dy="-3">+</tspan><tspan dy="3">NGFR</tspan><tspan font-size="5" dy="-3">+</tspan></text>
<text x="253.8" y="518.6" font-size="8" text-anchor="middle" fill="#000">Gated on Lin<tspan font-size="5" dy="-3">−</tspan></text>
<path d="M73.5 675.5V705.4H103.9" fill="none" stroke="#000" stroke-width="1.4"/>
<path d="M71.2 677.0L73.5 672.5L75.8 677.0Z" fill="#000"/>
<path d="M102.4 703.1L106.9 705.4L102.4 707.6999999999999Z" fill="#000"/>
<text x="69.7" y="688.7" font-size="9.2" text-anchor="middle" transform="rotate(-90 69.7 688.7)" textLength="12.9" lengthAdjust="spacingAndGlyphs" fill="#000">GFP</text>
<text x="81" y="714.6" font-size="8.6" text-anchor="start" textLength="19" lengthAdjust="spacingAndGlyphs" fill="#000">NGFR</text>
<path d="M144.4 675V705.4H174.9" fill="none" stroke="#000" stroke-width="1.4"/>
<path d="M142.1 676.5L144.4 672L146.70000000000002 676.5Z" fill="#000"/>
<path d="M173.4 703.1L177.9 705.4L173.4 707.6999999999999Z" fill="#000"/>
<text x="142.4" y="689" font-size="9.2" text-anchor="middle" transform="rotate(-90 142.4 689)" textLength="21.3" lengthAdjust="spacingAndGlyphs" fill="#000">Mac-1</text>
<text x="154.2" y="715" font-size="8.6" text-anchor="start" textLength="13.9" lengthAdjust="spacingAndGlyphs" fill="#000">Gr-1</text>
<path d="M217.3 675.5V705.6H247.2" fill="none" stroke="#000" stroke-width="1.4"/>
<path d="M215.0 677.0L217.3 672.5L219.60000000000002 677.0Z" fill="#000"/>
<path d="M245.7 703.3000000000001L250.2 705.6L245.7 707.9Z" fill="#000"/>
<text x="214.7" y="688.7" font-size="9.2" text-anchor="middle" transform="rotate(-90 214.7 688.7)" textLength="20.7" lengthAdjust="spacingAndGlyphs" fill="#000">Sca-1</text>
<text x="225.6" y="714.6" font-size="8.6" text-anchor="start" textLength="15.7" lengthAdjust="spacingAndGlyphs" fill="#000">c-Kit</text></svg></body></html>
